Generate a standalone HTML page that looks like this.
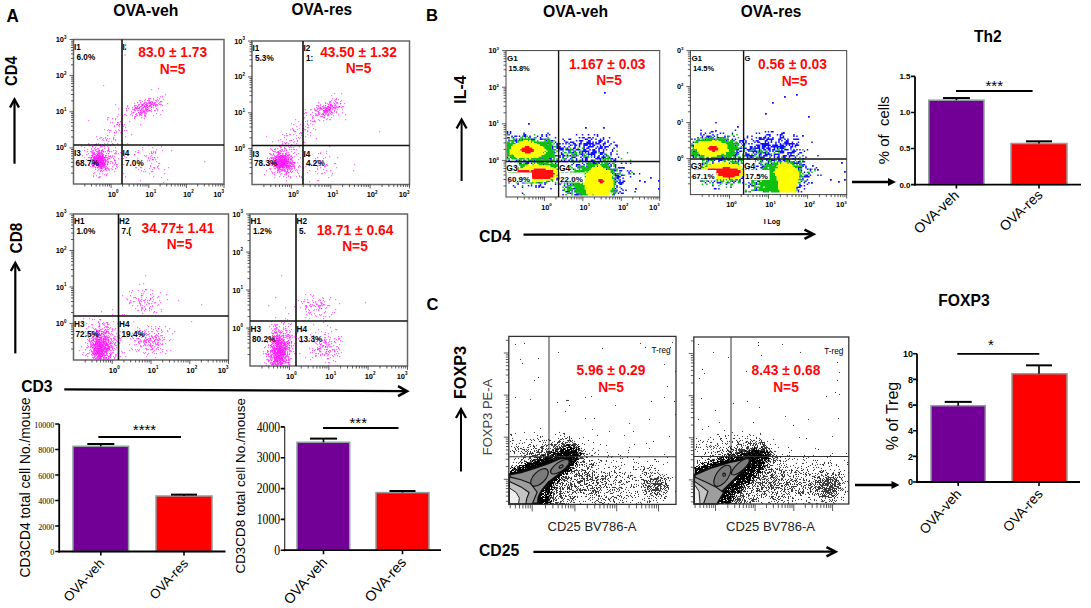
<!DOCTYPE html><html><head><meta charset="utf-8"><style>html,body{margin:0;padding:0;background:#fff;width:1091px;height:608px;overflow:hidden}svg{display:block}</style></head><body>
<svg width="1091" height="608" viewBox="0 0 1091 608">
<rect width="1091" height="608" fill="#fff"/>
<text x="6.5" y="21.6" font-family="'Liberation Sans', sans-serif" font-size="18.5" font-weight="bold" fill="#000" text-anchor="start" textLength="12.3" lengthAdjust="spacingAndGlyphs">A</text>
<text x="113.2" y="15.6" font-family="'Liberation Sans', sans-serif" font-size="16.2" font-weight="bold" fill="#000" text-anchor="start" textLength="65.3" lengthAdjust="spacingAndGlyphs">OVA-veh</text>
<text x="291.5" y="15.2" font-family="'Liberation Sans', sans-serif" font-size="16" font-weight="bold" fill="#000" text-anchor="start" textLength="60.6" lengthAdjust="spacingAndGlyphs">OVA-res</text>
<text x="426" y="21.1" font-family="'Liberation Sans', sans-serif" font-size="16.5" font-weight="bold" fill="#000" text-anchor="start" textLength="12" lengthAdjust="spacingAndGlyphs">B</text>
<text x="543" y="17" font-family="'Liberation Sans', sans-serif" font-size="16" font-weight="bold" fill="#000" text-anchor="start" textLength="65.2" lengthAdjust="spacingAndGlyphs">OVA-veh</text>
<text x="740.8" y="17" font-family="'Liberation Sans', sans-serif" font-size="16" font-weight="bold" fill="#000" text-anchor="start" textLength="60.5" lengthAdjust="spacingAndGlyphs">OVA-res</text>
<text x="426.5" y="309.5" font-family="'Liberation Sans', sans-serif" font-size="16.5" font-weight="bold" fill="#000" text-anchor="start">C</text>
<text x="974" y="42" font-family="'Liberation Sans', sans-serif" font-size="16" font-weight="bold" fill="#000" text-anchor="start" textLength="27.6" lengthAdjust="spacingAndGlyphs">Th2</text>
<text x="938.3" y="305.9" font-family="'Liberation Sans', sans-serif" font-size="16.3" font-weight="bold" fill="#000" text-anchor="start" textLength="51.4" lengthAdjust="spacingAndGlyphs">FOXP3</text>
<path d="M91 159.6h1.2M153 98.6h1.2M97 162.6h1.2M105 155.6h1.2M108 161.6h1.2M96 160.6h1.2M145 102.6h1.2M103 165.6h1.2M104 159.6h1.2M92 154.6h1.2M105 168.6h1.2M100 159.6h1.2M105 160.6h1.2M97 158.6h1.2M98 158.6h1.2M110 156.6h1.2M100 161.6h1.2M107 159.6h1.2M112 155.6h1.2M99 138.6h1.2M107 135.6h1.2M127 143.6h1.2M140 102.6h1.2M97 163.6h1.2M97 159.6h1.2M155 100.6h1.2M98 162.6h1.2M95 161.6h1.2M103 162.6h1.2M100 152.6h1.2M153 103.6h1.2M98 155.6h1.2M100 163.6h1.2M99 165.6h1.2M102 160.6h1.2M106 155.6h1.2M151 171.6h1.2M101 151.6h1.2M134 109.6h1.2M88 153.6h1.2M120 152.6h1.2M102 158.6h1.2M145 113.6h1.2M100 165.6h1.2M100 158.6h1.2M96 158.6h1.2M98 165.6h1.2M99 164.6h1.2M90 159.6h1.2M136 115.6h1.2M134 118.6h1.2M141 117.6h1.2M153 152.6h1.2M156 100.6h1.2M98 161.6h1.2M142 147.6h1.2M143 107.6h1.2M103 151.6h1.2M102 159.6h1.2M84 157.6h1.2M158 165.6h1.2M152 147.6h1.2M96 161.6h1.2M93 153.6h1.2M139 113.6h1.2M103 161.6h1.2M101 157.6h1.2M119 126.6h1.2M160 114.6h1.2M97 160.6h1.2M156 101.6h1.2M101 161.6h1.2M100 160.6h1.2M150 98.6h1.2M99 160.6h1.2M89 145.6h1.2M100 166.6h1.2M146 108.6h1.2M99 155.6h1.2M101 152.6h1.2M138 150.6h1.2M144 106.6h1.2M102 171.6h1.2M133 112.6h1.2M150 165.6h1.2M116 124.6h1.2M149 160.6h1.2M117 143.6h1.2M93 159.6h1.2M140 114.6h1.2M126 108.6h1.2M156 113.6h1.2M95 160.6h1.2M98 150.6h1.2M101 164.6h1.2M100 155.6h1.2M142 107.6h1.2M142 104.6h1.2M99 159.6h1.2M120 121.6h1.2M155 102.6h1.2M99 152.6h1.2M95 158.6h1.2M103 154.6h1.2M100 144.6h1.2M99 156.6h1.2M99 153.6h1.2M139 107.6h1.2M114 164.6h1.2M119 130.6h1.2M104 164.6h1.2M135 151.6h1.2M122 128.6h1.2M161 104.6h1.2M124 124.6h1.2M101 158.6h1.2M107 138.6h1.2M99 163.6h1.2M96 156.6h1.2M96 163.6h1.2M99 161.6h1.2M99 162.6h1.2M103 160.6h1.2M93 173.6h1.2M147 107.6h1.2M142 105.6h1.2M156 108.6h1.2M136 107.6h1.2M92 146.6h1.2M100 154.6h1.2M144 105.6h1.2M98 159.6h1.2M91 148.6h1.2M94 156.6h1.2M145 99.6h1.2M115 104.6h1.2M95 147.6h1.2M150 102.6h1.2M103 159.6h1.2M148 102.6h1.2M97 157.6h1.2M145 104.6h1.2M100 162.6h1.2M144 111.6h1.2M103 166.6h1.2M94 166.6h1.2M99 177.6h1.2M106 174.6h1.2M102 164.6h1.2M104 163.6h1.2M107 167.6h1.2M94 160.6h1.2M97 151.6h1.2M137 183.6h1.2M99 158.6h1.2M115 118.6h1.2M97 148.6h1.2M104 129.6h1.2M135 116.6h1.2M97 165.6h1.2M115 140.6h1.2M115 147.6h1.2M112 162.6h1.2M145 106.6h1.2M143 110.6h1.2M138 110.6h1.2M125 127.6h1.2M157 97.6h1.2M146 110.6h1.2M97 164.6h1.2M93 154.6h1.2M168 167.6h1.2M153 107.6h1.2M93 162.6h1.2M115 139.6h1.2M102 161.6h1.2M112 163.6h1.2M109 130.6h1.2M149 103.6h1.2M152 159.6h1.2M142 149.6h1.2M122 118.6h1.2M98 160.6h1.2M94 159.6h1.2M106 170.6h1.2M146 111.6h1.2M108 150.6h1.2M94 162.6h1.2M141 113.6h1.2M151 107.6h1.2M92 156.6h1.2M105 159.6h1.2M100 157.6h1.2M104 157.6h1.2M96 164.6h1.2M161 177.6h1.2M155 152.6h1.2M102 156.6h1.2M106 160.6h1.2M98 163.6h1.2M135 107.6h1.2M138 169.6h1.2M95 162.6h1.2M104 169.6h1.2M125 176.6h1.2M95 150.6h1.2M104 158.6h1.2M146 113.6h1.2M97 161.6h1.2M93 164.6h1.2M107 173.6h1.2M114 125.6h1.2M122 115.6h1.2M141 115.6h1.2M132 109.6h1.2M101 168.6h1.2M97 153.6h1.2M120 132.6h1.2M140 167.6h1.2M109 151.6h1.2M90 166.6h1.2M88 120.6h1.2M80 154.6h1.2M102 157.6h1.2M104 148.6h1.2M144 115.6h1.2M134 154.6h1.2M108 153.6h1.2M101 163.6h1.2M146 106.6h1.2M105 161.6h1.2M144 110.6h1.2M154 168.6h1.2M98 157.6h1.2M96 143.6h1.2M96 175.6h1.2M153 176.6h1.2M103 155.6h1.2M137 107.6h1.2M101 159.6h1.2M94 163.6h1.2M138 152.6h1.2M114 135.6h1.2M93 158.6h1.2M146 104.6h1.2M91 163.6h1.2M101 162.6h1.2M115 119.6h1.2M100 156.6h1.2M143 109.6h1.2M98 164.6h1.2M112 166.6h1.2M118 108.6h1.2M108 147.6h1.2M108 149.6h1.2M94 158.6h1.2M94 172.6h1.2M161 101.6h1.2M115 163.6h1.2M144 112.6h1.2M102 155.6h1.2M113 144.6h1.2M143 103.6h1.2M107 143.6h1.2M91 157.6h1.2M150 156.6h1.2M108 129.6h1.2M107 157.6h1.2M142 110.6h1.2M102 163.6h1.2M91 149.6h1.2M137 115.6h1.2M99 157.6h1.2M95 159.6h1.2M140 180.6h1.2M158 103.6h1.2M130 114.6h1.2M97 170.6h1.2M148 106.6h1.2M107 164.6h1.2M150 104.6h1.2M96 155.6h1.2M105 151.6h1.2M151 109.6h1.2M151 104.6h1.2M149 100.6h1.2M100 153.6h1.2M136 167.6h1.2M102 150.6h1.2M123 126.6h1.2M109 158.6h1.2M108 156.6h1.2M159 98.6h1.2M144 116.6h1.2M162 105.6h1.2M101 166.6h1.2M95 163.6h1.2M98 166.6h1.2M142 112.6h1.2M159 104.6h1.2M103 140.6h1.2M149 168.6h1.2M96 162.6h1.2M103 138.6h1.2M126 130.6h1.2M156 149.6h1.2M94 148.6h1.2M94 144.6h1.2M94 153.6h1.2M97 154.6h1.2M153 151.6h1.2M145 109.6h1.2M100 164.6h1.2M131 134.6h1.2M141 106.6h1.2M102 162.6h1.2M142 101.6h1.2M103 158.6h1.2M106 168.6h1.2M112 156.6h1.2M92 164.6h1.2M122 125.6h1.2M150 110.6h1.2M136 108.6h1.2M108 155.6h1.2M137 110.6h1.2M137 102.6h1.2M112 118.6h1.2M121 163.6h1.2" stroke="#ff00ff" stroke-width="1.2" fill="none" stroke-opacity="0.55"/>
<path d="M101 137.6h1.2M107 146.6h1.2M101 156.6h1.2M96 160.6h1.2M98 162.6h1.2M93 159.6h1.2M99 159.6h1.2M94 163.6h1.2M98 160.6h1.2M95 167.6h1.2M95 163.6h1.2M98 161.6h1.2M97 167.6h1.2M157 99.6h1.2M110 122.6h1.2M99 157.6h1.2M162 110.6h1.2M141 108.6h1.2M97 151.6h1.2M104 163.6h1.2M96 165.6h1.2M115 160.6h1.2M97 163.6h1.2M100 170.6h1.2M98 169.6h1.2M95 149.6h1.2M153 105.6h1.2M97 160.6h1.2M143 111.6h1.2M103 156.6h1.2M107 161.6h1.2M98 153.6h1.2M97 159.6h1.2M142 105.6h1.2M98 158.6h1.2M102 164.6h1.2M96 157.6h1.2M99 162.6h1.2M134 116.6h1.2M97 162.6h1.2M94 153.6h1.2M121 118.6h1.2M97 155.6h1.2M93 160.6h1.2M99 160.6h1.2M147 100.6h1.2M102 162.6h1.2M90 158.6h1.2M154 103.6h1.2M154 110.6h1.2M97 161.6h1.2M149 110.6h1.2M108 162.6h1.2M134 105.6h1.2M115 152.6h1.2M100 160.6h1.2M126 157.6h1.2M144 103.6h1.2M103 160.6h1.2M107 158.6h1.2M157 105.6h1.2M94 156.6h1.2M105 169.6h1.2M151 155.6h1.2M147 105.6h1.2M139 114.6h1.2M150 158.6h1.2M98 167.6h1.2M138 105.6h1.2M97 152.6h1.2M113 139.6h1.2M144 118.6h1.2M151 101.6h1.2M118 158.6h1.2M113 150.6h1.2M96 153.6h1.2M121 163.6h1.2M162 150.6h1.2M97 158.6h1.2M91 155.6h1.2M94 159.6h1.2M167 179.6h1.2M131 111.6h1.2M105 159.6h1.2M149 103.6h1.2M125 114.6h1.2M153 99.6h1.2M109 138.6h1.2M138 112.6h1.2M100 158.6h1.2M152 101.6h1.2M103 164.6h1.2M103 162.6h1.2M96 164.6h1.2M106 153.6h1.2M125 136.6h1.2M104 143.6h1.2M91 164.6h1.2M137 106.6h1.2M141 109.6h1.2M101 160.6h1.2M153 115.6h1.2M100 156.6h1.2M89 157.6h1.2M149 173.6h1.2M147 103.6h1.2M106 140.6h1.2M99 164.6h1.2M94 158.6h1.2M156 105.6h1.2M100 157.6h1.2M102 158.6h1.2M149 105.6h1.2M137 152.6h1.2M95 158.6h1.2M111 168.6h1.2M158 163.6h1.2M138 108.6h1.2M95 159.6h1.2M103 170.6h1.2M100 162.6h1.2M93 162.6h1.2M116 151.6h1.2M144 169.6h1.2M165 94.6h1.2M102 154.6h1.2M114 132.6h1.2M155 105.6h1.2M99 150.6h1.2M94 154.6h1.2M100 155.6h1.2M152 153.6h1.2M118 125.6h1.2M98 154.6h1.2M102 160.6h1.2M108 117.6h1.2M101 159.6h1.2M99 145.6h1.2M99 161.6h1.2M95 155.6h1.2M134 103.6h1.2M98 156.6h1.2M88 157.6h1.2M92 165.6h1.2M98 177.6h1.2M158 100.6h1.2M117 122.6h1.2M161 146.6h1.2M98 159.6h1.2M101 162.6h1.2M107 162.6h1.2M158 168.6h1.2M102 173.6h1.2M136 114.6h1.2M94 162.6h1.2M116 164.6h1.2M101 161.6h1.2M101 168.6h1.2M105 164.6h1.2M152 159.6h1.2M114 160.6h1.2M100 164.6h1.2M115 153.6h1.2M132 112.6h1.2M155 110.6h1.2M95 161.6h1.2M103 157.6h1.2M153 159.6h1.2M127 106.6h1.2M96 161.6h1.2M151 103.6h1.2M102 156.6h1.2M96 162.6h1.2M148 98.6h1.2M140 112.6h1.2M111 161.6h1.2M118 122.6h1.2M105 167.6h1.2M88 164.6h1.2M105 161.6h1.2M96 158.6h1.2M92 159.6h1.2M149 102.6h1.2M156 104.6h1.2M104 164.6h1.2M145 108.6h1.2M110 161.6h1.2M98 164.6h1.2M92 155.6h1.2M109 151.6h1.2M99 154.6h1.2M96 159.6h1.2M101 152.6h1.2M117 164.6h1.2M147 107.6h1.2M144 114.6h1.2M100 168.6h1.2M160 104.6h1.2M147 160.6h1.2M111 157.6h1.2M103 161.6h1.2M124 156.6h1.2M99 165.6h1.2M160 101.6h1.2M109 156.6h1.2M139 104.6h1.2M146 155.6h1.2M135 114.6h1.2M110 155.6h1.2M142 104.6h1.2M102 159.6h1.2M146 105.6h1.2M82 155.6h1.2M141 167.6h1.2M99 155.6h1.2M152 102.6h1.2M102 155.6h1.2M109 170.6h1.2M101 150.6h1.2M140 109.6h1.2M98 163.6h1.2M101 158.6h1.2M94 157.6h1.2M100 161.6h1.2M148 158.6h1.2M116 166.6h1.2M98 157.6h1.2M98 166.6h1.2M101 166.6h1.2M92 152.6h1.2M101 167.6h1.2M152 171.6h1.2M142 112.6h1.2M90 151.6h1.2M147 109.6h1.2M154 157.6h1.2M102 166.6h1.2M120 121.6h1.2M100 166.6h1.2M93 161.6h1.2M104 174.6h1.2M149 153.6h1.2M93 175.6h1.2M99 166.6h1.2M104 159.6h1.2M146 109.6h1.2M96 155.6h1.2M140 100.6h1.2M96 163.6h1.2M144 106.6h1.2M107 119.6h1.2M143 107.6h1.2M101 154.6h1.2M101 146.6h1.2M108 149.6h1.2M151 104.6h1.2M139 165.6h1.2M151 152.6h1.2M143 104.6h1.2M139 107.6h1.2M144 113.6h1.2M108 141.6h1.2M154 167.6h1.2M118 114.6h1.2M105 157.6h1.2M102 139.6h1.2M92 153.6h1.2M102 157.6h1.2M93 157.6h1.2M139 100.6h1.2M115 130.6h1.2M143 171.6h1.2M99 163.6h1.2M102 149.6h1.2M99 156.6h1.2M113 158.6h1.2M115 168.6h1.2M117 167.6h1.2M92 166.6h1.2M104 157.6h1.2M104 167.6h1.2M95 160.6h1.2M145 112.6h1.2M102 163.6h1.2M141 112.6h1.2M157 167.6h1.2M109 132.6h1.2M103 167.6h1.2M86 154.6h1.2M164 173.6h1.2M98 148.6h1.2M101 163.6h1.2M152 157.6h1.2M135 108.6h1.2M129 121.6h1.2M95 145.6h1.2M145 106.6h1.2M102 161.6h1.2M95 162.6h1.2M95 144.6h1.2M133 112.6h1.2M150 105.6h1.2M158 88.6h1.2M126 110.6h1.2M137 158.6h1.2M155 153.6h1.2M144 155.6h1.2M148 108.6h1.2M134 110.6h1.2M102 168.6h1.2M88 160.6h1.2M114 171.6h1.2M99 152.6h1.2M136 105.6h1.2M135 105.6h1.2M141 170.6h1.2M95 169.6h1.2M124 114.6h1.2M111 151.6h1.2M102 146.6h1.2M113 137.6h1.2M152 169.6h1.2M119 124.6h1.2M93 158.6h1.2M137 108.6h1.2M81 146.6h1.2M95 157.6h1.2M133 109.6h1.2M96 151.6h1.2M92 146.6h1.2M103 151.6h1.2M93 153.6h1.2M108 148.6h1.2M105 162.6h1.2M90 157.6h1.2M101 165.6h1.2M98 143.6h1.2M103 166.6h1.2M140 110.6h1.2" stroke="#ff00ff" stroke-width="1.2" fill="none" stroke-opacity="0.55"/>
<path d="M95 156.6h1.2M102 153.6h1.2M100 157.6h1.2M101 150.6h1.2M100 159.6h1.2M101 161.6h1.2M98 160.6h1.2M98 159.6h1.2M141 109.6h1.2M155 151.6h1.2M97 164.6h1.2M94 164.6h1.2M157 157.6h1.2M103 164.6h1.2M99 159.6h1.2M102 162.6h1.2M147 105.6h1.2M116 131.6h1.2M118 153.6h1.2M103 157.6h1.2M134 106.6h1.2M150 102.6h1.2M99 163.6h1.2M100 162.6h1.2M105 137.6h1.2M96 157.6h1.2M102 156.6h1.2M146 102.6h1.2M98 163.6h1.2M151 153.6h1.2M91 158.6h1.2M154 104.6h1.2M107 163.6h1.2M96 136.6h1.2M162 96.6h1.2M102 159.6h1.2M109 169.6h1.2M99 173.6h1.2M110 163.6h1.2M110 130.6h1.2M114 159.6h1.2M99 165.6h1.2M139 107.6h1.2M132 107.6h1.2M150 101.6h1.2M102 155.6h1.2M145 115.6h1.2M103 158.6h1.2M157 166.6h1.2M103 165.6h1.2M99 158.6h1.2M101 158.6h1.2M94 159.6h1.2M139 115.6h1.2M101 157.6h1.2M142 104.6h1.2M96 165.6h1.2M98 157.6h1.2M99 161.6h1.2M101 163.6h1.2M163 182.6h1.2M104 164.6h1.2M157 104.6h1.2M127 105.6h1.2M145 110.6h1.2M99 160.6h1.2M112 143.6h1.2M100 160.6h1.2M151 89.6h1.2M108 158.6h1.2M98 161.6h1.2M100 171.6h1.2M84 147.6h1.2M94 158.6h1.2M93 163.6h1.2M84 150.6h1.2M108 169.6h1.2M97 139.6h1.2M138 104.6h1.2M102 163.6h1.2M98 158.6h1.2M105 160.6h1.2M95 167.6h1.2M145 104.6h1.2M107 159.6h1.2M153 105.6h1.2M95 159.6h1.2M110 145.6h1.2M114 156.6h1.2M99 157.6h1.2M104 163.6h1.2M99 156.6h1.2M97 155.6h1.2M105 138.6h1.2M106 166.6h1.2M98 162.6h1.2M149 105.6h1.2M93 157.6h1.2M141 104.6h1.2M99 168.6h1.2M103 163.6h1.2M96 164.6h1.2M101 164.6h1.2M149 98.6h1.2M107 117.6h1.2M107 130.6h1.2M148 157.6h1.2M86 159.6h1.2M97 159.6h1.2M105 168.6h1.2M100 164.6h1.2M148 99.6h1.2M140 110.6h1.2M94 160.6h1.2M100 158.6h1.2M101 160.6h1.2M102 158.6h1.2M97 160.6h1.2M100 156.6h1.2M104 162.6h1.2M95 162.6h1.2M100 166.6h1.2M101 153.6h1.2M96 144.6h1.2M93 152.6h1.2M167 103.6h1.2M126 115.6h1.2M148 103.6h1.2M93 153.6h1.2M116 132.6h1.2M122 124.6h1.2M107 164.6h1.2M136 113.6h1.2M131 113.6h1.2M124 130.6h1.2M98 155.6h1.2M98 154.6h1.2M135 167.6h1.2M171 150.6h1.2M93 150.6h1.2M95 160.6h1.2M100 161.6h1.2M100 165.6h1.2M151 151.6h1.2M87 149.6h1.2M104 165.6h1.2M143 111.6h1.2M154 157.6h1.2M123 173.6h1.2M107 151.6h1.2M145 171.6h1.2M89 160.6h1.2M157 110.6h1.2M99 162.6h1.2M97 158.6h1.2M105 164.6h1.2M114 153.6h1.2M92 159.6h1.2M152 102.6h1.2M112 122.6h1.2M160 101.6h1.2M135 110.6h1.2M113 138.6h1.2M106 157.6h1.2M96 158.6h1.2M151 111.6h1.2M98 156.6h1.2M96 162.6h1.2M104 146.6h1.2M156 161.6h1.2M150 103.6h1.2M103 145.6h1.2M101 156.6h1.2M146 104.6h1.2M101 162.6h1.2M114 160.6h1.2M94 161.6h1.2M155 159.6h1.2M142 108.6h1.2M115 150.6h1.2M147 111.6h1.2M153 167.6h1.2M148 110.6h1.2M152 104.6h1.2M99 151.6h1.2M88 144.6h1.2M91 157.6h1.2M95 154.6h1.2M97 167.6h1.2M114 132.6h1.2M91 155.6h1.2M144 111.6h1.2M101 166.6h1.2M105 155.6h1.2M204 161.6h1.2M92 156.6h1.2M137 108.6h1.2M146 109.6h1.2M123 164.6h1.2M99 150.6h1.2M97 156.6h1.2M146 106.6h1.2M93 176.6h1.2M106 175.6h1.2M151 106.6h1.2M157 109.6h1.2M97 154.6h1.2M164 169.6h1.2M149 106.6h1.2M101 154.6h1.2M108 153.6h1.2M101 168.6h1.2M97 162.6h1.2M105 169.6h1.2M117 116.6h1.2M134 117.6h1.2M117 122.6h1.2M126 153.6h1.2M105 163.6h1.2M95 161.6h1.2M115 162.6h1.2M144 100.6h1.2M145 108.6h1.2M105 156.6h1.2M100 167.6h1.2M106 139.6h1.2M119 124.6h1.2M105 157.6h1.2M145 116.6h1.2M94 152.6h1.2M145 156.6h1.2M96 156.6h1.2M100 146.6h1.2M101 170.6h1.2M153 104.6h1.2M102 165.6h1.2M123 158.6h1.2M98 152.6h1.2M155 104.6h1.2M108 168.6h1.2M102 160.6h1.2M138 112.6h1.2M97 157.6h1.2M104 160.6h1.2M149 101.6h1.2M154 102.6h1.2M132 115.6h1.2M103 160.6h1.2M88 143.6h1.2M96 149.6h1.2M112 169.6h1.2M93 165.6h1.2M163 99.6h1.2M99 153.6h1.2M148 145.6h1.2M96 155.6h1.2M141 111.6h1.2M104 166.6h1.2M140 112.6h1.2M160 96.6h1.2M98 151.6h1.2M100 176.6h1.2M154 103.6h1.2M134 154.6h1.2M114 126.6h1.2M147 109.6h1.2M150 166.6h1.2M159 102.6h1.2M93 166.6h1.2M128 108.6h1.2M100 137.6h1.2M117 124.6h1.2M97 161.6h1.2M146 103.6h1.2M135 107.6h1.2M102 150.6h1.2M98 153.6h1.2M140 124.6h1.2M155 106.6h1.2M116 153.6h1.2M140 106.6h1.2M105 166.6h1.2M115 168.6h1.2M98 164.6h1.2M145 107.6h1.2M95 163.6h1.2M111 141.6h1.2M136 108.6h1.2M144 106.6h1.2M91 151.6h1.2M92 165.6h1.2M103 85.6h1.2M92 163.6h1.2M96 145.6h1.2M144 102.6h1.2M85 164.6h1.2M87 151.6h1.2M135 163.6h1.2M140 114.6h1.2M94 162.6h1.2M107 168.6h1.2M94 157.6h1.2M148 100.6h1.2M102 164.6h1.2M151 107.6h1.2M91 152.6h1.2M96 161.6h1.2M92 150.6h1.2M118 129.6h1.2M103 161.6h1.2M95 157.6h1.2M141 105.6h1.2M151 163.6h1.2M149 110.6h1.2M104 157.6h1.2M92 151.6h1.2M107 150.6h1.2M150 106.6h1.2M137 106.6h1.2M139 108.6h1.2M159 163.6h1.2M121 124.6h1.2M98 165.6h1.2M99 176.6h1.2M134 108.6h1.2M101 167.6h1.2M101 159.6h1.2" stroke="#ff00ff" stroke-width="1.2" fill="none" stroke-opacity="0.55"/>
<rect x="73.5" y="39.5" width="150.5" height="144.5" fill="none" stroke="#666" stroke-width="1.5"/>
<line x1="122" y1="39.5" x2="122" y2="184" stroke="#111" stroke-width="1.6"/>
<line x1="73.5" y1="145" x2="224" y2="145" stroke="#111" stroke-width="1.6"/>
<path d="M69.5 39.5h4M71.0 64.8h2.5M71.0 58.4h2.5M71.0 53.9h2.5M71.0 50.4h2.5M71.0 47.5h2.5M71.0 45.1h2.5M71.0 43.0h2.5M71.0 41.2h2.5M69.5 75.6h4M71.0 100.9h2.5M71.0 94.5h2.5M71.0 90.0h2.5M71.0 86.5h2.5M71.0 83.6h2.5M71.0 81.2h2.5M71.0 79.1h2.5M71.0 77.3h2.5M69.5 111.8h4M71.0 137.0h2.5M71.0 130.6h2.5M71.0 126.1h2.5M71.0 122.6h2.5M71.0 119.8h2.5M71.0 117.3h2.5M71.0 115.3h2.5M71.0 113.4h2.5M69.5 147.9h4M71.0 173.1h2.5M71.0 166.8h2.5M71.0 162.3h2.5M71.0 158.7h2.5M71.0 155.9h2.5M71.0 153.5h2.5M71.0 151.4h2.5M71.0 149.5h2.5M111.1 184v4M84.8 184v2.5M91.5 184v2.5M96.2 184v2.5M99.8 184v2.5M102.8 184v2.5M105.3 184v2.5M107.5 184v2.5M109.4 184v2.5M148.8 184v4M122.5 184v2.5M129.1 184v2.5M133.8 184v2.5M137.4 184v2.5M140.4 184v2.5M142.9 184v2.5M145.1 184v2.5M147.0 184v2.5M186.4 184v4M160.1 184v2.5M166.7 184v2.5M171.4 184v2.5M175.0 184v2.5M178.0 184v2.5M180.5 184v2.5M182.7 184v2.5M184.7 184v2.5M224.0 184v4M197.7 184v2.5M204.3 184v2.5M209.0 184v2.5M212.7 184v2.5M215.7 184v2.5M218.2 184v2.5M220.4 184v2.5M222.3 184v2.5" stroke="#333" stroke-width="0.8" fill="none"/>
<text x="66.5" y="42.0" font-family="'Liberation Sans', sans-serif" font-size="7.5" font-weight="bold" text-anchor="end">10<tspan font-size="4.5" dy="-3.1">3</tspan></text>
<text x="66.5" y="78.125" font-family="'Liberation Sans', sans-serif" font-size="7.5" font-weight="bold" text-anchor="end">10<tspan font-size="4.5" dy="-3.1">2</tspan></text>
<text x="66.5" y="114.25" font-family="'Liberation Sans', sans-serif" font-size="7.5" font-weight="bold" text-anchor="end">10<tspan font-size="4.5" dy="-3.1">1</tspan></text>
<text x="66.5" y="150.375" font-family="'Liberation Sans', sans-serif" font-size="7.5" font-weight="bold" text-anchor="end">10<tspan font-size="4.5" dy="-3.1">0</tspan></text>
<text x="113.125" y="196.5" font-family="'Liberation Sans', sans-serif" font-size="7.5" font-weight="bold" text-anchor="middle">10<tspan font-size="4.5" dy="-3.1">0</tspan></text>
<text x="150.75" y="196.5" font-family="'Liberation Sans', sans-serif" font-size="7.5" font-weight="bold" text-anchor="middle">10<tspan font-size="4.5" dy="-3.1">1</tspan></text>
<text x="188.375" y="196.5" font-family="'Liberation Sans', sans-serif" font-size="7.5" font-weight="bold" text-anchor="middle">10<tspan font-size="4.5" dy="-3.1">2</tspan></text>
<text x="224" y="196.5" font-family="'Liberation Sans', sans-serif" font-size="7.5" font-weight="bold" text-anchor="end">10<tspan font-size="4.5" dy="-3.1">3</tspan></text>
<text x="74.0" y="49.5" font-family="'Liberation Sans', sans-serif" font-size="8.2" font-weight="bold" fill="#000" text-anchor="start">I1</text>
<text x="76.5" y="59.5" font-family="'Liberation Sans', sans-serif" font-size="8.2" font-weight="bold" fill="#000" text-anchor="start">6.0%</text>
<text x="122.5" y="49.5" font-family="'Liberation Sans', sans-serif" font-size="8.2" font-weight="bold" fill="#000" text-anchor="start">I2</text>
<text x="125" y="59.5" font-family="'Liberation Sans', sans-serif" font-size="8.2" font-weight="bold" fill="#000" text-anchor="start"></text>
<text x="74.0" y="156" font-family="'Liberation Sans', sans-serif" font-size="8.2" font-weight="bold" fill="#000" text-anchor="start">I3</text>
<text x="75.5" y="165.7" font-family="'Liberation Sans', sans-serif" font-size="8.2" font-weight="bold" fill="#000" text-anchor="start">68.7%</text>
<text x="122.5" y="156" font-family="'Liberation Sans', sans-serif" font-size="8.2" font-weight="bold" fill="#000" text-anchor="start">I4</text>
<text x="125" y="165.7" font-family="'Liberation Sans', sans-serif" font-size="8.2" font-weight="bold" fill="#000" text-anchor="start">7.0%</text>
<rect x="126.2" y="41" width="10" height="11" fill="#fff"/>
<rect x="124.5" y="54.5" width="1" height="1" fill="#555"/>
<text x="172.7" y="57" font-family="'Liberation Sans', sans-serif" font-size="13.8" font-weight="bold" fill="#ff0808" text-anchor="middle">83.0 ± 1.73</text>
<text x="172.7" y="73.5" font-family="'Liberation Sans', sans-serif" font-size="13.8" font-weight="bold" fill="#ff0808" text-anchor="middle">N=5</text>
<path d="M282 162.6h1.2M282 167.6h1.2M285 161.6h1.2M336 99.6h1.2M284 160.6h1.2M284 162.6h1.2M284 147.6h1.2M279 160.6h1.2M283 163.6h1.2M300 166.6h1.2M280 167.6h1.2M280 162.6h1.2M278 161.6h1.2M278 140.6h1.2M286 154.6h1.2M299 133.6h1.2M283 160.6h1.2M282 164.6h1.2M329 102.6h1.2M287 163.6h1.2M297 162.6h1.2M284 169.6h1.2M282 166.6h1.2M294 167.6h1.2M291 163.6h1.2M286 161.6h1.2M270 157.6h1.2M319 120.6h1.2M274 164.6h1.2M327 106.6h1.2M284 167.6h1.2M286 162.6h1.2M286 165.6h1.2M284 161.6h1.2M276 157.6h1.2M279 153.6h1.2M320 107.6h1.2M285 163.6h1.2M293 165.6h1.2M328 114.6h1.2M292 168.6h1.2M274 165.6h1.2M329 109.6h1.2M336 167.6h1.2M269 159.6h1.2M280 160.6h1.2M284 155.6h1.2M275 164.6h1.2M286 172.6h1.2M324 112.6h1.2M278 152.6h1.2M314 109.6h1.2M293 142.6h1.2M274 151.6h1.2M277 166.6h1.2M272 150.6h1.2M298 121.6h1.2M283 159.6h1.2M300 132.6h1.2M294 131.6h1.2M289 163.6h1.2M276 162.6h1.2M283 145.6h1.2M272 164.6h1.2M311 165.6h1.2M316 107.6h1.2M325 110.6h1.2M330 104.6h1.2M273 153.6h1.2M277 165.6h1.2M277 148.6h1.2M293 164.6h1.2M279 158.6h1.2M279 162.6h1.2M280 165.6h1.2M284 170.6h1.2M288 175.6h1.2M284 148.6h1.2M282 161.6h1.2M314 121.6h1.2M285 170.6h1.2M290 161.6h1.2M288 161.6h1.2M275 161.6h1.2M280 158.6h1.2M317 105.6h1.2M277 157.6h1.2M285 173.6h1.2M327 103.6h1.2M281 155.6h1.2M331 117.6h1.2M302 128.6h1.2M289 166.6h1.2M276 160.6h1.2M325 112.6h1.2M281 164.6h1.2M288 159.6h1.2M309 170.6h1.2M337 103.6h1.2M293 149.6h1.2M317 168.6h1.2M279 165.6h1.2M335 101.6h1.2M289 154.6h1.2M269 153.6h1.2M284 174.6h1.2M284 163.6h1.2M323 117.6h1.2M330 110.6h1.2M288 156.6h1.2M272 162.6h1.2M335 108.6h1.2M333 115.6h1.2M305 129.6h1.2M277 159.6h1.2M323 105.6h1.2M281 161.6h1.2M308 125.6h1.2M317 166.6h1.2M295 131.6h1.2M281 160.6h1.2M279 154.6h1.2M271 162.6h1.2M316 105.6h1.2M280 139.6h1.2M315 121.6h1.2M271 157.6h1.2M287 155.6h1.2M326 113.6h1.2M284 158.6h1.2M319 108.6h1.2M272 161.6h1.2M324 111.6h1.2M329 103.6h1.2M281 162.6h1.2M334 100.6h1.2M286 156.6h1.2M279 159.6h1.2M269 163.6h1.2M275 165.6h1.2M274 158.6h1.2M279 167.6h1.2M282 163.6h1.2M330 106.6h1.2M284 166.6h1.2M288 158.6h1.2M270 169.6h1.2M277 169.6h1.2M307 127.6h1.2M286 159.6h1.2M276 164.6h1.2M329 107.6h1.2M299 165.6h1.2M283 164.6h1.2M326 108.6h1.2M287 170.6h1.2M278 169.6h1.2M273 161.6h1.2M280 153.6h1.2M271 158.6h1.2M285 165.6h1.2M275 160.6h1.2M282 169.6h1.2M277 160.6h1.2M276 159.6h1.2M314 163.6h1.2M274 163.6h1.2M338 99.6h1.2M282 143.6h1.2M280 161.6h1.2M324 107.6h1.2M285 155.6h1.2M278 162.6h1.2M275 149.6h1.2M325 105.6h1.2M325 111.6h1.2M294 141.6h1.2M286 160.6h1.2M282 153.6h1.2M270 164.6h1.2M278 165.6h1.2M315 109.6h1.2M292 160.6h1.2M279 156.6h1.2M272 155.6h1.2M327 108.6h1.2M330 109.6h1.2M285 158.6h1.2M353 170.6h1.2M326 170.6h1.2M306 112.6h1.2M323 110.6h1.2M273 154.6h1.2M277 162.6h1.2M285 160.6h1.2M307 124.6h1.2M322 109.6h1.2M285 154.6h1.2M296 135.6h1.2M287 165.6h1.2M269 168.6h1.2M280 163.6h1.2M307 131.6h1.2M281 157.6h1.2M288 165.6h1.2M335 105.6h1.2M275 157.6h1.2M306 115.6h1.2M318 105.6h1.2M292 164.6h1.2M299 138.6h1.2M309 181.6h1.2M325 166.6h1.2M324 117.6h1.2M300 157.6h1.2M274 160.6h1.2M282 156.6h1.2M286 142.6h1.2M326 112.6h1.2M318 114.6h1.2M280 169.6h1.2M321 108.6h1.2M340 103.6h1.2M286 157.6h1.2M317 115.6h1.2M279 168.6h1.2M271 154.6h1.2M277 167.6h1.2M323 120.6h1.2M300 124.6h1.2M323 108.6h1.2M269 165.6h1.2M338 114.6h1.2M280 164.6h1.2M315 158.6h1.2M283 157.6h1.2M289 168.6h1.2M291 156.6h1.2M325 165.6h1.2M334 93.6h1.2M285 162.6h1.2M290 176.6h1.2M279 157.6h1.2M283 166.6h1.2M275 159.6h1.2M285 159.6h1.2M286 174.6h1.2M284 159.6h1.2M331 111.6h1.2M291 159.6h1.2M320 105.6h1.2M317 169.6h1.2M277 164.6h1.2M325 109.6h1.2M286 167.6h1.2M301 132.6h1.2M336 103.6h1.2M290 162.6h1.2M286 139.6h1.2M277 154.6h1.2M277 168.6h1.2M327 107.6h1.2M333 107.6h1.2M284 142.6h1.2M289 140.6h1.2M282 165.6h1.2M320 153.6h1.2M313 115.6h1.2M334 163.6h1.2M275 163.6h1.2M276 156.6h1.2M300 137.6h1.2M276 161.6h1.2M279 164.6h1.2M299 175.6h1.2M317 157.6h1.2M290 159.6h1.2M336 102.6h1.2M317 111.6h1.2M277 172.6h1.2M324 115.6h1.2M288 172.6h1.2M339 106.6h1.2M296 138.6h1.2M290 168.6h1.2M283 155.6h1.2M286 149.6h1.2M281 149.6h1.2M322 106.6h1.2M304 113.6h1.2M273 159.6h1.2M289 167.6h1.2M287 161.6h1.2M327 118.6h1.2M291 164.6h1.2M319 107.6h1.2M303 123.6h1.2M275 151.6h1.2M282 159.6h1.2M279 166.6h1.2M318 113.6h1.2M280 166.6h1.2M330 108.6h1.2M341 100.6h1.2M290 163.6h1.2M281 158.6h1.2M283 161.6h1.2M293 130.6h1.2M279 171.6h1.2M278 158.6h1.2M334 111.6h1.2M284 165.6h1.2M331 112.6h1.2M291 155.6h1.2M297 170.6h1.2M278 157.6h1.2M282 134.6h1.2M294 162.6h1.2M307 172.6h1.2M281 166.6h1.2M291 140.6h1.2M297 172.6h1.2M269 158.6h1.2M288 166.6h1.2M322 173.6h1.2M291 151.6h1.2M278 153.6h1.2M332 105.6h1.2M283 167.6h1.2M315 110.6h1.2M296 176.6h1.2M337 102.6h1.2M284 171.6h1.2M321 116.6h1.2M328 104.6h1.2M327 115.6h1.2M321 173.6h1.2M286 163.6h1.2M274 149.6h1.2M331 106.6h1.2M283 165.6h1.2M329 110.6h1.2M284 157.6h1.2" stroke="#ff00ff" stroke-width="1.2" fill="none" stroke-opacity="0.55"/>
<path d="M279 150.6h1.2M285 161.6h1.2M287 166.6h1.2M334 107.6h1.2M279 167.6h1.2M286 166.6h1.2M281 166.6h1.2M280 161.6h1.2M286 160.6h1.2M320 116.6h1.2M290 159.6h1.2M277 160.6h1.2M321 109.6h1.2M310 135.6h1.2M285 166.6h1.2M276 152.6h1.2M271 158.6h1.2M281 163.6h1.2M281 161.6h1.2M282 160.6h1.2M332 113.6h1.2M278 167.6h1.2M327 165.6h1.2M277 162.6h1.2M335 99.6h1.2M281 164.6h1.2M283 165.6h1.2M287 161.6h1.2M277 166.6h1.2M307 123.6h1.2M280 156.6h1.2M282 150.6h1.2M279 165.6h1.2M283 163.6h1.2M280 160.6h1.2M284 162.6h1.2M310 163.6h1.2M288 158.6h1.2M275 162.6h1.2M287 160.6h1.2M280 163.6h1.2M284 137.6h1.2M282 156.6h1.2M324 112.6h1.2M332 112.6h1.2M336 111.6h1.2M284 150.6h1.2M284 157.6h1.2M282 161.6h1.2M267 157.6h1.2M270 168.6h1.2M324 108.6h1.2M284 164.6h1.2M315 115.6h1.2M331 95.6h1.2M325 107.6h1.2M279 162.6h1.2M334 108.6h1.2M279 160.6h1.2M313 121.6h1.2M338 106.6h1.2M286 168.6h1.2M280 164.6h1.2M276 166.6h1.2M271 149.6h1.2M282 166.6h1.2M325 109.6h1.2M324 172.6h1.2M328 109.6h1.2M281 160.6h1.2M329 110.6h1.2M279 161.6h1.2M307 121.6h1.2M286 167.6h1.2M270 153.6h1.2M277 170.6h1.2M286 172.6h1.2M282 159.6h1.2M279 164.6h1.2M323 113.6h1.2M285 156.6h1.2M296 143.6h1.2M336 106.6h1.2M299 176.6h1.2M289 155.6h1.2M278 163.6h1.2M326 108.6h1.2M284 165.6h1.2M334 105.6h1.2M288 162.6h1.2M328 106.6h1.2M294 163.6h1.2M280 157.6h1.2M282 165.6h1.2M285 157.6h1.2M290 166.6h1.2M286 150.6h1.2M277 164.6h1.2M286 171.6h1.2M288 163.6h1.2M274 168.6h1.2M334 110.6h1.2M276 159.6h1.2M279 163.6h1.2M287 155.6h1.2M280 166.6h1.2M293 124.6h1.2M315 114.6h1.2M342 106.6h1.2M330 104.6h1.2M280 159.6h1.2M319 110.6h1.2M286 164.6h1.2M287 167.6h1.2M278 155.6h1.2M325 102.6h1.2M275 156.6h1.2M274 177.6h1.2M282 157.6h1.2M280 146.6h1.2M288 160.6h1.2M327 108.6h1.2M290 129.6h1.2M278 169.6h1.2M320 162.6h1.2M279 157.6h1.2M284 159.6h1.2M286 173.6h1.2M320 167.6h1.2M276 161.6h1.2M280 167.6h1.2M302 125.6h1.2M304 142.6h1.2M283 157.6h1.2M283 167.6h1.2M291 145.6h1.2M279 166.6h1.2M283 160.6h1.2M279 146.6h1.2M340 101.6h1.2M283 162.6h1.2M296 126.6h1.2M290 146.6h1.2M284 167.6h1.2M320 160.6h1.2M283 156.6h1.2M277 161.6h1.2M288 176.6h1.2M282 158.6h1.2M278 162.6h1.2M339 106.6h1.2M287 135.6h1.2M290 134.6h1.2M330 101.6h1.2M280 165.6h1.2M337 107.6h1.2M278 165.6h1.2M286 161.6h1.2M280 155.6h1.2M286 177.6h1.2M266 136.6h1.2M290 156.6h1.2M326 109.6h1.2M283 161.6h1.2M323 161.6h1.2M287 163.6h1.2M284 169.6h1.2M277 159.6h1.2M290 162.6h1.2M283 166.6h1.2M282 167.6h1.2M282 164.6h1.2M305 121.6h1.2M285 164.6h1.2M329 107.6h1.2M294 168.6h1.2M270 145.6h1.2M277 156.6h1.2M280 171.6h1.2M284 158.6h1.2M282 162.6h1.2M310 120.6h1.2M330 102.6h1.2M291 168.6h1.2M325 108.6h1.2M283 159.6h1.2M274 156.6h1.2M319 112.6h1.2M260 165.6h1.2M269 161.6h1.2M307 130.6h1.2M316 114.6h1.2M335 101.6h1.2M328 111.6h1.2M324 111.6h1.2M320 108.6h1.2M318 108.6h1.2M283 170.6h1.2M294 162.6h1.2M288 155.6h1.2M290 165.6h1.2M288 167.6h1.2M328 177.6h1.2M313 128.6h1.2M290 158.6h1.2M291 160.6h1.2M335 107.6h1.2M290 140.6h1.2M293 130.6h1.2M317 160.6h1.2M293 166.6h1.2M295 170.6h1.2M274 166.6h1.2M285 160.6h1.2M284 160.6h1.2M298 167.6h1.2M331 112.6h1.2M306 164.6h1.2M274 174.6h1.2M334 103.6h1.2M330 170.6h1.2M272 157.6h1.2M331 104.6h1.2M326 110.6h1.2M304 117.6h1.2M291 123.6h1.2M286 180.6h1.2M294 165.6h1.2M310 114.6h1.2M267 158.6h1.2M275 158.6h1.2M281 170.6h1.2M334 106.6h1.2M330 107.6h1.2M280 153.6h1.2M315 110.6h1.2M327 111.6h1.2M317 173.6h1.2M271 171.6h1.2M281 155.6h1.2M279 156.6h1.2M290 171.6h1.2M283 155.6h1.2M274 172.6h1.2M278 166.6h1.2M273 162.6h1.2M278 158.6h1.2M278 151.6h1.2M331 105.6h1.2M324 110.6h1.2M278 160.6h1.2M287 169.6h1.2M280 158.6h1.2M272 158.6h1.2M278 164.6h1.2M303 128.6h1.2M310 132.6h1.2M318 111.6h1.2M281 159.6h1.2M283 164.6h1.2M329 109.6h1.2M291 166.6h1.2M276 145.6h1.2M291 149.6h1.2M327 110.6h1.2M291 144.6h1.2M305 112.6h1.2M282 155.6h1.2M328 104.6h1.2M275 160.6h1.2M342 112.6h1.2M286 159.6h1.2M301 176.6h1.2M281 165.6h1.2M285 143.6h1.2M315 113.6h1.2M287 157.6h1.2M286 165.6h1.2M281 156.6h1.2M270 160.6h1.2M289 165.6h1.2M330 105.6h1.2M277 165.6h1.2M279 159.6h1.2M326 119.6h1.2M285 153.6h1.2M281 162.6h1.2M282 149.6h1.2M315 162.6h1.2M326 164.6h1.2M289 161.6h1.2M273 166.6h1.2M298 166.6h1.2M287 159.6h1.2M279 176.6h1.2M317 180.6h1.2M276 164.6h1.2M277 151.6h1.2M312 118.6h1.2M283 151.6h1.2M273 158.6h1.2M278 154.6h1.2M319 114.6h1.2M273 159.6h1.2M273 160.6h1.2M296 149.6h1.2M272 163.6h1.2M293 145.6h1.2M286 156.6h1.2M276 157.6h1.2M276 162.6h1.2M335 104.6h1.2M297 129.6h1.2M278 159.6h1.2M293 139.6h1.2M282 169.6h1.2M336 107.6h1.2M288 157.6h1.2M338 107.6h1.2M303 118.6h1.2M291 158.6h1.2M293 162.6h1.2M328 108.6h1.2M285 159.6h1.2M273 151.6h1.2M266 170.6h1.2M279 168.6h1.2M292 165.6h1.2M312 124.6h1.2M292 128.6h1.2M326 151.6h1.2M276 160.6h1.2M277 158.6h1.2M285 162.6h1.2M278 156.6h1.2M285 165.6h1.2M280 151.6h1.2M323 114.6h1.2" stroke="#ff00ff" stroke-width="1.2" fill="none" stroke-opacity="0.55"/>
<path d="M289 169.6h1.2M284 163.6h1.2M335 163.6h1.2M313 162.6h1.2M296 169.6h1.2M337 109.6h1.2M292 171.6h1.2M280 156.6h1.2M282 166.6h1.2M282 164.6h1.2M275 168.6h1.2M278 170.6h1.2M328 110.6h1.2M298 153.6h1.2M276 155.6h1.2M283 165.6h1.2M280 158.6h1.2M285 156.6h1.2M287 169.6h1.2M327 114.6h1.2M280 174.6h1.2M288 143.6h1.2M280 155.6h1.2M289 149.6h1.2M282 144.6h1.2M281 163.6h1.2M325 105.6h1.2M279 166.6h1.2M285 153.6h1.2M286 152.6h1.2M295 119.6h1.2M288 166.6h1.2M285 163.6h1.2M293 134.6h1.2M291 158.6h1.2M322 114.6h1.2M286 161.6h1.2M281 159.6h1.2M276 162.6h1.2M312 116.6h1.2M289 147.6h1.2M290 165.6h1.2M281 162.6h1.2M287 165.6h1.2M332 105.6h1.2M283 156.6h1.2M331 114.6h1.2M288 159.6h1.2M303 168.6h1.2M292 166.6h1.2M320 108.6h1.2M277 155.6h1.2M289 164.6h1.2M286 164.6h1.2M330 111.6h1.2M312 112.6h1.2M272 141.6h1.2M282 154.6h1.2M323 107.6h1.2M294 166.6h1.2M281 161.6h1.2M272 162.6h1.2M285 148.6h1.2M296 154.6h1.2M344 103.6h1.2M278 162.6h1.2M291 169.6h1.2M301 133.6h1.2M329 109.6h1.2M283 159.6h1.2M379 131.6h1.2M283 160.6h1.2M320 107.6h1.2M276 164.6h1.2M280 163.6h1.2M330 105.6h1.2M323 112.6h1.2M277 167.6h1.2M282 167.6h1.2M336 112.6h1.2M277 152.6h1.2M281 155.6h1.2M307 134.6h1.2M279 172.6h1.2M292 163.6h1.2M289 134.6h1.2M283 153.6h1.2M313 117.6h1.2M284 162.6h1.2M280 160.6h1.2M293 147.6h1.2M285 164.6h1.2M278 166.6h1.2M305 136.6h1.2M282 155.6h1.2M316 115.6h1.2M280 162.6h1.2M282 162.6h1.2M329 107.6h1.2M284 159.6h1.2M277 156.6h1.2M281 164.6h1.2M280 165.6h1.2M283 161.6h1.2M291 163.6h1.2M274 160.6h1.2M342 109.6h1.2M280 164.6h1.2M288 154.6h1.2M278 167.6h1.2M287 158.6h1.2M318 119.6h1.2M277 164.6h1.2M316 110.6h1.2M328 113.6h1.2M326 107.6h1.2M323 158.6h1.2M278 161.6h1.2M283 163.6h1.2M324 166.6h1.2M282 141.6h1.2M310 109.6h1.2M324 117.6h1.2M286 133.6h1.2M332 98.6h1.2M286 166.6h1.2M318 153.6h1.2M305 126.6h1.2M274 155.6h1.2M272 172.6h1.2M279 161.6h1.2M279 169.6h1.2M283 168.6h1.2M325 103.6h1.2M320 104.6h1.2M301 135.6h1.2M339 106.6h1.2M290 177.6h1.2M330 113.6h1.2M312 121.6h1.2M285 155.6h1.2M321 108.6h1.2M285 145.6h1.2M336 98.6h1.2M334 103.6h1.2M323 169.6h1.2M279 162.6h1.2M276 167.6h1.2M278 168.6h1.2M324 115.6h1.2M280 147.6h1.2M276 157.6h1.2M331 100.6h1.2M320 165.6h1.2M322 116.6h1.2M291 147.6h1.2M317 165.6h1.2M285 165.6h1.2M282 160.6h1.2M298 137.6h1.2M276 161.6h1.2M286 153.6h1.2M305 109.6h1.2M281 160.6h1.2M290 163.6h1.2M266 164.6h1.2M354 164.6h1.2M292 161.6h1.2M280 161.6h1.2M333 102.6h1.2M281 165.6h1.2M317 160.6h1.2M279 167.6h1.2M278 159.6h1.2M327 108.6h1.2M310 123.6h1.2M273 164.6h1.2M290 170.6h1.2M288 146.6h1.2M271 163.6h1.2M330 108.6h1.2M279 156.6h1.2M288 172.6h1.2M324 110.6h1.2M329 119.6h1.2M275 161.6h1.2M335 107.6h1.2M327 111.6h1.2M299 128.6h1.2M275 163.6h1.2M281 166.6h1.2M326 153.6h1.2M326 110.6h1.2M340 103.6h1.2M282 170.6h1.2M277 161.6h1.2M288 152.6h1.2M333 107.6h1.2M286 163.6h1.2M315 129.6h1.2M291 166.6h1.2M282 159.6h1.2M328 109.6h1.2M328 106.6h1.2M284 147.6h1.2M326 164.6h1.2M283 162.6h1.2M284 135.6h1.2M326 111.6h1.2M283 164.6h1.2M280 166.6h1.2M289 162.6h1.2M323 114.6h1.2M323 111.6h1.2M275 165.6h1.2M320 152.6h1.2M283 157.6h1.2M316 138.6h1.2M278 156.6h1.2M323 110.6h1.2M285 161.6h1.2M285 168.6h1.2M285 158.6h1.2M279 159.6h1.2M304 129.6h1.2M278 153.6h1.2M278 163.6h1.2M325 157.6h1.2M298 159.6h1.2M286 160.6h1.2M285 171.6h1.2M332 108.6h1.2M332 106.6h1.2M318 113.6h1.2M275 166.6h1.2M281 173.6h1.2M270 154.6h1.2M305 166.6h1.2M280 169.6h1.2M341 107.6h1.2M274 165.6h1.2M282 163.6h1.2M303 179.6h1.2M275 160.6h1.2M341 93.6h1.2M329 156.6h1.2M294 149.6h1.2M287 161.6h1.2M298 145.6h1.2M288 164.6h1.2M284 157.6h1.2M312 117.6h1.2M280 157.6h1.2M325 114.6h1.2M280 150.6h1.2M285 143.6h1.2M298 173.6h1.2M264 174.6h1.2M323 106.6h1.2M287 171.6h1.2M318 106.6h1.2M314 108.6h1.2M317 108.6h1.2M286 162.6h1.2M307 120.6h1.2M284 155.6h1.2M315 163.6h1.2M343 106.6h1.2M328 114.6h1.2M280 159.6h1.2M276 159.6h1.2M330 119.6h1.2M294 152.6h1.2M314 120.6h1.2M274 163.6h1.2M301 177.6h1.2M279 163.6h1.2M270 148.6h1.2M281 147.6h1.2M291 172.6h1.2M283 167.6h1.2M317 109.6h1.2M281 157.6h1.2M275 158.6h1.2M274 157.6h1.2M288 161.6h1.2M278 164.6h1.2M282 156.6h1.2M337 157.6h1.2M285 160.6h1.2M297 141.6h1.2M331 175.6h1.2M275 148.6h1.2M318 112.6h1.2M281 151.6h1.2M284 164.6h1.2M345 119.6h1.2M276 163.6h1.2M322 113.6h1.2M325 107.6h1.2M311 109.6h1.2M287 167.6h1.2M279 152.6h1.2M280 167.6h1.2M293 129.6h1.2M284 161.6h1.2M286 158.6h1.2M328 107.6h1.2M327 110.6h1.2M318 180.6h1.2M308 127.6h1.2M299 146.6h1.2M321 114.6h1.2M327 112.6h1.2M288 168.6h1.2M315 171.6h1.2M284 160.6h1.2M332 173.6h1.2M277 165.6h1.2M278 151.6h1.2M278 160.6h1.2M291 162.6h1.2M283 176.6h1.2M292 157.6h1.2M284 156.6h1.2M327 106.6h1.2M284 158.6h1.2M318 102.6h1.2M287 162.6h1.2M275 159.6h1.2M345 114.6h1.2M277 171.6h1.2M281 169.6h1.2M286 135.6h1.2M282 169.6h1.2M277 163.6h1.2M297 140.6h1.2M272 173.6h1.2M332 109.6h1.2M273 157.6h1.2M330 104.6h1.2M276 166.6h1.2M279 157.6h1.2M278 152.6h1.2M328 115.6h1.2M273 163.6h1.2M294 156.6h1.2M325 113.6h1.2M281 156.6h1.2M289 157.6h1.2M293 162.6h1.2M292 162.6h1.2M329 146.6h1.2M286 165.6h1.2M275 156.6h1.2M329 101.6h1.2M273 154.6h1.2M329 112.6h1.2M293 153.6h1.2" stroke="#ff00ff" stroke-width="1.2" fill="none" stroke-opacity="0.55"/>
<rect x="252" y="41" width="157.5" height="143.5" fill="none" stroke="#666" stroke-width="1.5"/>
<line x1="303" y1="41" x2="303" y2="184.5" stroke="#111" stroke-width="1.6"/>
<line x1="252" y1="145.5" x2="409.5" y2="145.5" stroke="#111" stroke-width="1.6"/>
<path d="M248 41.0h4M249.5 66.1h2.5M249.5 59.8h2.5M249.5 55.3h2.5M249.5 51.8h2.5M249.5 49.0h2.5M249.5 46.6h2.5M249.5 44.5h2.5M249.5 42.6h2.5M248 76.9h4M249.5 102.0h2.5M249.5 95.6h2.5M249.5 91.2h2.5M249.5 87.7h2.5M249.5 84.8h2.5M249.5 82.4h2.5M249.5 80.4h2.5M249.5 78.5h2.5M248 112.8h4M249.5 137.8h2.5M249.5 131.5h2.5M249.5 127.0h2.5M249.5 123.5h2.5M249.5 120.7h2.5M249.5 118.3h2.5M249.5 116.2h2.5M249.5 114.4h2.5M248 148.6h4M249.5 173.7h2.5M249.5 167.4h2.5M249.5 162.9h2.5M249.5 159.4h2.5M249.5 156.6h2.5M249.5 154.2h2.5M249.5 152.1h2.5M249.5 150.3h2.5M291.4 184.5v4M263.9 184.5v2.5M270.8 184.5v2.5M275.7 184.5v2.5M279.5 184.5v2.5M282.6 184.5v2.5M285.3 184.5v2.5M287.6 184.5v2.5M289.6 184.5v2.5M330.8 184.5v4M303.2 184.5v2.5M310.2 184.5v2.5M315.1 184.5v2.5M318.9 184.5v2.5M322.0 184.5v2.5M324.7 184.5v2.5M326.9 184.5v2.5M328.9 184.5v2.5M370.1 184.5v4M342.6 184.5v2.5M349.5 184.5v2.5M354.5 184.5v2.5M358.3 184.5v2.5M361.4 184.5v2.5M364.0 184.5v2.5M366.3 184.5v2.5M368.3 184.5v2.5M409.5 184.5v4M382.0 184.5v2.5M388.9 184.5v2.5M393.8 184.5v2.5M397.6 184.5v2.5M400.8 184.5v2.5M403.4 184.5v2.5M405.7 184.5v2.5M407.7 184.5v2.5" stroke="#333" stroke-width="0.8" fill="none"/>
<text x="245" y="43.5" font-family="'Liberation Sans', sans-serif" font-size="7.5" font-weight="bold" text-anchor="end">10<tspan font-size="4.5" dy="-3.1">3</tspan></text>
<text x="245" y="79.375" font-family="'Liberation Sans', sans-serif" font-size="7.5" font-weight="bold" text-anchor="end">10<tspan font-size="4.5" dy="-3.1">2</tspan></text>
<text x="245" y="115.25" font-family="'Liberation Sans', sans-serif" font-size="7.5" font-weight="bold" text-anchor="end">10<tspan font-size="4.5" dy="-3.1">1</tspan></text>
<text x="245" y="151.125" font-family="'Liberation Sans', sans-serif" font-size="7.5" font-weight="bold" text-anchor="end">10<tspan font-size="4.5" dy="-3.1">0</tspan></text>
<text x="293.375" y="197.0" font-family="'Liberation Sans', sans-serif" font-size="7.5" font-weight="bold" text-anchor="middle">10<tspan font-size="4.5" dy="-3.1">0</tspan></text>
<text x="332.75" y="197.0" font-family="'Liberation Sans', sans-serif" font-size="7.5" font-weight="bold" text-anchor="middle">10<tspan font-size="4.5" dy="-3.1">1</tspan></text>
<text x="372.125" y="197.0" font-family="'Liberation Sans', sans-serif" font-size="7.5" font-weight="bold" text-anchor="middle">10<tspan font-size="4.5" dy="-3.1">2</tspan></text>
<text x="409.5" y="197.0" font-family="'Liberation Sans', sans-serif" font-size="7.5" font-weight="bold" text-anchor="end">10<tspan font-size="4.5" dy="-3.1">3</tspan></text>
<text x="252.5" y="51" font-family="'Liberation Sans', sans-serif" font-size="8.2" font-weight="bold" fill="#000" text-anchor="start">I1</text>
<text x="255" y="61" font-family="'Liberation Sans', sans-serif" font-size="8.2" font-weight="bold" fill="#000" text-anchor="start">5.3%</text>
<text x="303.5" y="51" font-family="'Liberation Sans', sans-serif" font-size="8.2" font-weight="bold" fill="#000" text-anchor="start">I2</text>
<text x="306" y="61" font-family="'Liberation Sans', sans-serif" font-size="8.2" font-weight="bold" fill="#000" text-anchor="start">1:</text>
<text x="252.5" y="156.5" font-family="'Liberation Sans', sans-serif" font-size="8.2" font-weight="bold" fill="#000" text-anchor="start">I3</text>
<text x="254" y="166.2" font-family="'Liberation Sans', sans-serif" font-size="8.2" font-weight="bold" fill="#000" text-anchor="start">78.3%</text>
<text x="303.5" y="156.5" font-family="'Liberation Sans', sans-serif" font-size="8.2" font-weight="bold" fill="#000" text-anchor="start">I4</text>
<text x="306" y="166.2" font-family="'Liberation Sans', sans-serif" font-size="8.2" font-weight="bold" fill="#000" text-anchor="start">4.2%</text>
<text x="358.5" y="56.6" font-family="'Liberation Sans', sans-serif" font-size="13.8" font-weight="bold" fill="#ff0808" text-anchor="middle">43.50 ± 1.32</text>
<text x="358.5" y="73.3" font-family="'Liberation Sans', sans-serif" font-size="13.8" font-weight="bold" fill="#ff0808" text-anchor="middle">N=5</text>
<path d="M106 350.6h1.2M160 335.6h1.2M105 347.6h1.2M149 345.6h1.2M96 350.6h1.2M143 340.6h1.2M150 345.6h1.2M145 344.6h1.2M150 339.6h1.2M140 346.6h1.2M165 326.6h1.2M108 324.6h1.2M108 335.6h1.2M149 336.6h1.2M104 355.6h1.2M101 337.6h1.2M105 351.6h1.2M141 297.6h1.2M85 355.6h1.2M96 349.6h1.2M97 353.6h1.2M97 358.6h1.2M99 345.6h1.2M102 346.6h1.2M157 347.6h1.2M116 340.6h1.2M89 340.6h1.2M157 297.6h1.2M93 340.6h1.2M100 346.6h1.2M99 341.6h1.2M106 349.6h1.2M98 336.6h1.2M103 340.6h1.2M156 339.6h1.2M97 348.6h1.2M145 331.6h1.2M93 358.6h1.2M103 355.6h1.2M145 348.6h1.2M107 345.6h1.2M150 289.6h1.2M101 349.6h1.2M169 328.6h1.2M158 328.6h1.2M88 337.6h1.2M94 334.6h1.2M110 355.6h1.2M95 347.6h1.2M92 351.6h1.2M93 353.6h1.2M107 350.6h1.2M108 344.6h1.2M96 342.6h1.2M119 335.6h1.2M98 342.6h1.2M145 341.6h1.2M97 339.6h1.2M93 352.6h1.2M150 338.6h1.2M108 340.6h1.2M98 348.6h1.2M116 333.6h1.2M101 348.6h1.2M93 351.6h1.2M162 344.6h1.2M145 337.6h1.2M103 341.6h1.2M134 340.6h1.2M104 348.6h1.2M108 346.6h1.2M92 345.6h1.2M98 322.6h1.2M94 344.6h1.2M104 344.6h1.2M104 332.6h1.2M103 350.6h1.2M102 342.6h1.2M103 339.6h1.2M99 335.6h1.2M95 352.6h1.2M146 339.6h1.2M97 347.6h1.2M86 335.6h1.2M104 342.6h1.2M147 339.6h1.2M97 343.6h1.2M140 330.6h1.2M104 343.6h1.2M140 300.6h1.2M94 335.6h1.2M98 355.6h1.2M108 342.6h1.2M99 340.6h1.2M107 353.6h1.2M100 357.6h1.2M99 343.6h1.2M98 330.6h1.2M104 338.6h1.2M99 342.6h1.2M100 342.6h1.2M100 319.6h1.2M92 342.6h1.2M152 345.6h1.2M96 337.6h1.2M98 349.6h1.2M87 356.6h1.2M100 348.6h1.2M156 334.6h1.2M101 350.6h1.2M101 354.6h1.2M97 337.6h1.2M99 351.6h1.2M105 339.6h1.2M114 338.6h1.2M158 336.6h1.2M150 306.6h1.2M108 356.6h1.2M141 334.6h1.2M119 338.6h1.2M178 300.6h1.2M143 341.6h1.2M96 339.6h1.2M108 347.6h1.2M102 351.6h1.2M152 348.6h1.2M106 336.6h1.2M100 335.6h1.2M99 350.6h1.2M109 349.6h1.2M99 330.6h1.2M93 333.6h1.2M111 346.6h1.2M103 346.6h1.2M98 354.6h1.2M92 339.6h1.2M112 309.6h1.2M99 348.6h1.2M115 339.6h1.2M93 339.6h1.2M118 329.6h1.2M99 333.6h1.2M102 350.6h1.2M113 338.6h1.2M107 339.6h1.2M141 295.6h1.2M147 345.6h1.2M95 349.6h1.2M104 349.6h1.2M140 303.6h1.2M95 343.6h1.2M112 341.6h1.2M100 351.6h1.2M137 316.6h1.2M156 349.6h1.2M107 343.6h1.2M96 348.6h1.2M97 341.6h1.2M111 345.6h1.2M115 328.6h1.2M86 323.6h1.2M91 331.6h1.2M156 344.6h1.2M139 341.6h1.2M144 300.6h1.2M106 343.6h1.2M102 328.6h1.2M95 346.6h1.2M148 326.6h1.2M108 348.6h1.2M99 326.6h1.2M103 324.6h1.2M152 290.6h1.2M99 357.6h1.2M92 332.6h1.2M96 351.6h1.2M154 311.6h1.2M104 341.6h1.2M122 352.6h1.2M108 341.6h1.2M152 349.6h1.2M105 332.6h1.2M104 323.6h1.2M98 340.6h1.2M97 352.6h1.2M112 348.6h1.2M96 330.6h1.2M154 336.6h1.2M94 350.6h1.2M85 342.6h1.2M137 327.6h1.2M98 353.6h1.2M148 338.6h1.2M98 350.6h1.2M102 323.6h1.2M152 337.6h1.2M98 334.6h1.2M106 353.6h1.2M105 329.6h1.2M95 350.6h1.2M155 328.6h1.2M101 331.6h1.2M152 352.6h1.2M91 346.6h1.2M92 319.6h1.2M150 298.6h1.2M101 345.6h1.2M138 290.6h1.2M169 340.6h1.2M105 357.6h1.2M116 345.6h1.2M148 349.6h1.2M100 350.6h1.2M144 330.6h1.2M104 346.6h1.2M145 342.6h1.2M94 356.6h1.2M105 326.6h1.2M114 357.6h1.2M101 353.6h1.2M97 340.6h1.2M99 337.6h1.2M106 348.6h1.2M98 337.6h1.2M136 351.6h1.2M85 331.6h1.2M99 339.6h1.2M117 341.6h1.2M119 342.6h1.2M129 291.6h1.2M136 332.6h1.2M100 354.6h1.2M147 334.6h1.2M98 339.6h1.2M106 344.6h1.2M107 348.6h1.2M94 355.6h1.2M101 333.6h1.2M153 329.6h1.2M103 354.6h1.2M134 297.6h1.2M101 351.6h1.2M98 347.6h1.2M114 344.6h1.2M107 336.6h1.2M95 344.6h1.2M105 358.6h1.2M153 341.6h1.2M108 358.6h1.2M106 322.6h1.2M98 356.6h1.2M92 357.6h1.2M100 344.6h1.2M124 314.6h1.2M91 351.6h1.2M100 355.6h1.2M104 337.6h1.2M105 349.6h1.2M107 323.6h1.2M98 351.6h1.2M106 355.6h1.2M100 338.6h1.2M156 353.6h1.2M109 356.6h1.2M94 348.6h1.2M146 335.6h1.2M150 294.6h1.2M103 358.6h1.2M155 336.6h1.2M97 335.6h1.2M103 349.6h1.2M141 346.6h1.2M87 347.6h1.2M104 352.6h1.2M139 330.6h1.2M93 349.6h1.2M106 342.6h1.2M142 295.6h1.2M155 302.6h1.2M130 300.6h1.2M108 337.6h1.2M90 341.6h1.2M97 342.6h1.2M91 341.6h1.2M142 290.6h1.2M111 343.6h1.2M96 347.6h1.2M102 348.6h1.2M150 340.6h1.2M101 352.6h1.2M157 342.6h1.2M92 353.6h1.2M100 349.6h1.2M158 340.6h1.2M96 345.6h1.2M155 339.6h1.2M154 340.6h1.2M99 346.6h1.2M97 356.6h1.2M96 354.6h1.2M106 351.6h1.2M150 343.6h1.2M103 322.6h1.2M98 345.6h1.2M100 347.6h1.2M141 341.6h1.2M100 343.6h1.2M109 347.6h1.2M93 348.6h1.2M108 327.6h1.2M112 334.6h1.2M131 292.6h1.2M102 344.6h1.2M159 326.6h1.2M158 338.6h1.2M99 355.6h1.2M95 353.6h1.2M109 328.6h1.2M104 327.6h1.2M105 345.6h1.2M100 353.6h1.2M97 345.6h1.2M96 341.6h1.2M104 347.6h1.2M132 335.6h1.2M119 343.6h1.2M138 341.6h1.2M106 335.6h1.2M89 318.6h1.2M92 347.6h1.2M95 348.6h1.2M103 348.6h1.2M145 340.6h1.2M108 350.6h1.2M157 331.6h1.2M103 343.6h1.2M96 344.6h1.2M103 353.6h1.2M101 340.6h1.2M99 356.6h1.2M105 342.6h1.2M96 346.6h1.2M90 346.6h1.2M152 297.6h1.2M101 347.6h1.2M161 332.6h1.2M107 346.6h1.2M132 337.6h1.2M92 337.6h1.2M145 309.6h1.2M141 337.6h1.2M107 359.6h1.2M144 302.6h1.2M95 339.6h1.2M98 359.6h1.2M92 324.6h1.2M95 338.6h1.2M111 338.6h1.2M98 357.6h1.2M151 309.6h1.2M145 289.6h1.2M94 351.6h1.2M111 350.6h1.2M88 326.6h1.2M141 310.6h1.2M103 332.6h1.2M125 356.6h1.2M96 352.6h1.2M111 347.6h1.2M147 325.6h1.2M156 348.6h1.2M157 305.6h1.2M106 352.6h1.2M113 321.6h1.2M138 342.6h1.2M106 357.6h1.2M136 298.6h1.2M100 339.6h1.2M97 333.6h1.2M99 328.6h1.2M99 331.6h1.2M129 303.6h1.2M129 344.6h1.2M96 353.6h1.2M158 345.6h1.2M121 337.6h1.2M149 308.6h1.2M137 330.6h1.2M87 353.6h1.2M103 334.6h1.2M91 340.6h1.2M149 303.6h1.2M146 348.6h1.2M102 355.6h1.2M109 346.6h1.2M144 340.6h1.2M111 342.6h1.2M94 354.6h1.2M138 338.6h1.2" stroke="#ff00ff" stroke-width="1.2" fill="none" stroke-opacity="0.55"/>
<path d="M101 351.6h1.2M102 349.6h1.2M133 321.6h1.2M157 339.6h1.2M104 343.6h1.2M112 347.6h1.2M103 343.6h1.2M101 342.6h1.2M94 353.6h1.2M150 299.6h1.2M93 328.6h1.2M99 344.6h1.2M100 355.6h1.2M97 332.6h1.2M139 302.6h1.2M97 345.6h1.2M104 335.6h1.2M149 300.6h1.2M101 343.6h1.2M105 341.6h1.2M144 332.6h1.2M152 305.6h1.2M102 350.6h1.2M146 333.6h1.2M106 343.6h1.2M122 314.6h1.2M106 349.6h1.2M105 336.6h1.2M93 346.6h1.2M91 324.6h1.2M145 308.6h1.2M141 301.6h1.2M106 332.6h1.2M97 350.6h1.2M102 345.6h1.2M97 357.6h1.2M100 338.6h1.2M89 333.6h1.2M103 346.6h1.2M104 351.6h1.2M97 331.6h1.2M112 329.6h1.2M89 350.6h1.2M104 352.6h1.2M99 325.6h1.2M103 348.6h1.2M99 353.6h1.2M100 346.6h1.2M92 353.6h1.2M99 341.6h1.2M151 349.6h1.2M109 355.6h1.2M97 338.6h1.2M98 342.6h1.2M101 338.6h1.2M108 356.6h1.2M100 335.6h1.2M96 340.6h1.2M137 310.6h1.2M166 350.6h1.2M146 304.6h1.2M139 284.6h1.2M97 353.6h1.2M101 350.6h1.2M110 354.6h1.2M105 338.6h1.2M162 331.6h1.2M135 349.6h1.2M112 343.6h1.2M101 349.6h1.2M99 355.6h1.2M127 299.6h1.2M98 331.6h1.2M162 343.6h1.2M107 348.6h1.2M156 335.6h1.2M119 326.6h1.2M158 347.6h1.2M155 342.6h1.2M109 344.6h1.2M105 339.6h1.2M96 344.6h1.2M146 297.6h1.2M100 344.6h1.2M152 331.6h1.2M140 341.6h1.2M103 344.6h1.2M144 340.6h1.2M114 343.6h1.2M101 348.6h1.2M99 349.6h1.2M98 349.6h1.2M166 294.6h1.2M136 344.6h1.2M94 348.6h1.2M108 337.6h1.2M96 342.6h1.2M97 342.6h1.2M86 354.6h1.2M96 354.6h1.2M99 334.6h1.2M112 352.6h1.2M87 343.6h1.2M152 293.6h1.2M113 356.6h1.2M93 337.6h1.2M96 333.6h1.2M97 346.6h1.2M98 353.6h1.2M156 330.6h1.2M93 343.6h1.2M98 356.6h1.2M100 339.6h1.2M105 351.6h1.2M103 359.6h1.2M105 344.6h1.2M93 349.6h1.2M101 356.6h1.2M147 354.6h1.2M141 335.6h1.2M172 333.6h1.2M162 335.6h1.2M115 349.6h1.2M99 330.6h1.2M97 351.6h1.2M106 344.6h1.2M103 340.6h1.2M99 338.6h1.2M95 348.6h1.2M113 337.6h1.2M97 339.6h1.2M107 329.6h1.2M95 344.6h1.2M161 311.6h1.2M135 308.6h1.2M98 346.6h1.2M107 331.6h1.2M99 350.6h1.2M102 351.6h1.2M106 331.6h1.2M110 338.6h1.2M155 339.6h1.2M96 343.6h1.2M103 345.6h1.2M101 346.6h1.2M98 351.6h1.2M148 353.6h1.2M101 331.6h1.2M101 333.6h1.2M151 346.6h1.2M105 337.6h1.2M94 354.6h1.2M130 338.6h1.2M83 318.6h1.2M145 275.6h1.2M100 352.6h1.2M89 352.6h1.2M131 348.6h1.2M92 344.6h1.2M105 348.6h1.2M93 353.6h1.2M148 341.6h1.2M97 343.6h1.2M88 332.6h1.2M95 343.6h1.2M151 328.6h1.2M135 297.6h1.2M105 333.6h1.2M115 342.6h1.2M111 345.6h1.2M96 330.6h1.2M139 328.6h1.2M105 347.6h1.2M98 343.6h1.2M98 332.6h1.2M170 350.6h1.2M149 310.6h1.2M101 311.6h1.2M102 352.6h1.2M167 299.6h1.2M110 356.6h1.2M94 316.6h1.2M133 301.6h1.2M160 352.6h1.2M108 332.6h1.2M99 339.6h1.2M112 330.6h1.2M124 352.6h1.2M116 354.6h1.2M115 343.6h1.2M155 357.6h1.2M98 350.6h1.2M88 353.6h1.2M98 348.6h1.2M110 327.6h1.2M94 345.6h1.2M101 347.6h1.2M148 331.6h1.2M90 347.6h1.2M99 352.6h1.2M102 333.6h1.2M153 299.6h1.2M106 345.6h1.2M106 342.6h1.2M99 340.6h1.2M103 350.6h1.2M103 332.6h1.2M97 336.6h1.2M108 329.6h1.2M155 335.6h1.2M112 314.6h1.2M100 356.6h1.2M98 355.6h1.2M103 349.6h1.2M118 331.6h1.2M88 346.6h1.2M100 347.6h1.2M110 345.6h1.2M94 349.6h1.2M130 302.6h1.2M146 340.6h1.2M113 342.6h1.2M93 344.6h1.2M142 308.6h1.2M111 353.6h1.2M100 342.6h1.2M105 340.6h1.2M98 358.6h1.2M102 347.6h1.2M112 346.6h1.2M150 298.6h1.2M97 352.6h1.2M99 319.6h1.2M95 347.6h1.2M95 342.6h1.2M100 337.6h1.2M109 343.6h1.2M99 348.6h1.2M96 358.6h1.2M161 329.6h1.2M103 342.6h1.2M142 336.6h1.2M109 346.6h1.2M108 345.6h1.2M165 353.6h1.2M108 339.6h1.2M108 341.6h1.2M102 354.6h1.2M158 304.6h1.2M110 343.6h1.2M122 295.6h1.2M104 349.6h1.2M91 344.6h1.2M97 348.6h1.2M89 341.6h1.2M112 348.6h1.2M99 343.6h1.2M138 338.6h1.2M154 346.6h1.2M154 341.6h1.2M138 298.6h1.2M100 341.6h1.2M94 350.6h1.2M106 338.6h1.2M104 347.6h1.2M98 326.6h1.2M94 344.6h1.2M104 333.6h1.2M87 345.6h1.2M157 344.6h1.2M89 339.6h1.2M132 349.6h1.2M162 349.6h1.2M138 310.6h1.2M100 345.6h1.2M96 351.6h1.2M96 339.6h1.2M116 347.6h1.2M148 344.6h1.2M102 341.6h1.2M139 301.6h1.2M111 333.6h1.2M154 350.6h1.2M152 337.6h1.2M154 311.6h1.2M103 341.6h1.2M79 350.6h1.2M134 301.6h1.2M99 356.6h1.2M107 322.6h1.2M106 327.6h1.2M160 302.6h1.2M93 338.6h1.2M109 347.6h1.2M142 305.6h1.2M108 333.6h1.2M101 329.6h1.2M162 351.6h1.2M115 345.6h1.2M107 327.6h1.2M144 343.6h1.2M104 339.6h1.2M107 344.6h1.2M104 330.6h1.2M98 344.6h1.2M103 336.6h1.2M106 350.6h1.2M149 338.6h1.2M96 353.6h1.2M156 312.6h1.2M145 338.6h1.2M95 341.6h1.2M93 345.6h1.2M110 341.6h1.2M115 336.6h1.2M100 358.6h1.2M95 358.6h1.2M99 345.6h1.2M111 354.6h1.2M97 334.6h1.2M153 343.6h1.2M162 337.6h1.2M151 303.6h1.2M150 346.6h1.2M93 340.6h1.2M117 323.6h1.2M114 336.6h1.2M143 352.6h1.2M100 343.6h1.2M151 336.6h1.2M151 331.6h1.2M100 340.6h1.2M95 356.6h1.2M101 353.6h1.2M133 338.6h1.2M140 334.6h1.2M150 345.6h1.2M148 334.6h1.2M104 341.6h1.2M152 342.6h1.2M107 349.6h1.2M101 334.6h1.2M108 346.6h1.2M86 347.6h1.2M161 309.6h1.2M103 351.6h1.2M102 355.6h1.2M149 308.6h1.2M132 290.6h1.2M140 305.6h1.2M99 358.6h1.2M86 328.6h1.2M160 343.6h1.2M155 326.6h1.2M106 357.6h1.2M156 337.6h1.2M145 299.6h1.2M101 345.6h1.2M161 335.6h1.2M144 339.6h1.2M98 354.6h1.2M94 338.6h1.2M102 353.6h1.2M103 357.6h1.2M103 338.6h1.2M148 340.6h1.2M144 291.6h1.2M99 326.6h1.2M129 350.6h1.2M129 302.6h1.2M157 340.6h1.2M104 336.6h1.2M99 337.6h1.2M93 357.6h1.2M108 348.6h1.2M158 333.6h1.2M140 340.6h1.2M100 329.6h1.2M96 335.6h1.2M92 345.6h1.2M112 349.6h1.2M98 339.6h1.2M96 341.6h1.2M152 336.6h1.2M145 342.6h1.2M103 354.6h1.2M146 289.6h1.2M110 334.6h1.2M95 352.6h1.2M114 358.6h1.2M152 348.6h1.2M93 339.6h1.2M98 341.6h1.2M92 347.6h1.2M105 350.6h1.2M103 334.6h1.2M152 306.6h1.2M115 356.6h1.2M97 335.6h1.2M100 357.6h1.2M158 328.6h1.2" stroke="#ff00ff" stroke-width="1.2" fill="none" stroke-opacity="0.55"/>
<path d="M95 344.6h1.2M105 351.6h1.2M96 355.6h1.2M141 295.6h1.2M143 342.6h1.2M94 344.6h1.2M137 305.6h1.2M158 349.6h1.2M115 354.6h1.2M161 344.6h1.2M97 336.6h1.2M93 353.6h1.2M103 338.6h1.2M97 356.6h1.2M153 296.6h1.2M98 354.6h1.2M97 343.6h1.2M101 338.6h1.2M154 302.6h1.2M97 352.6h1.2M114 339.6h1.2M97 330.6h1.2M103 331.6h1.2M92 327.6h1.2M106 354.6h1.2M142 313.6h1.2M92 340.6h1.2M108 348.6h1.2M94 348.6h1.2M150 344.6h1.2M99 334.6h1.2M118 331.6h1.2M142 307.6h1.2M146 329.6h1.2M99 348.6h1.2M98 349.6h1.2M103 346.6h1.2M101 345.6h1.2M160 348.6h1.2M104 325.6h1.2M155 344.6h1.2M92 347.6h1.2M105 336.6h1.2M100 348.6h1.2M145 345.6h1.2M101 336.6h1.2M96 338.6h1.2M94 319.6h1.2M105 355.6h1.2M109 333.6h1.2M158 344.6h1.2M144 310.6h1.2M120 340.6h1.2M102 341.6h1.2M99 344.6h1.2M95 343.6h1.2M91 345.6h1.2M108 347.6h1.2M100 335.6h1.2M96 350.6h1.2M101 333.6h1.2M102 342.6h1.2M102 351.6h1.2M106 339.6h1.2M92 352.6h1.2M97 350.6h1.2M90 349.6h1.2M110 343.6h1.2M101 350.6h1.2M100 349.6h1.2M105 347.6h1.2M95 354.6h1.2M103 339.6h1.2M92 337.6h1.2M104 339.6h1.2M107 344.6h1.2M99 352.6h1.2M96 346.6h1.2M124 336.6h1.2M160 292.6h1.2M143 283.6h1.2M105 329.6h1.2M107 348.6h1.2M114 348.6h1.2M149 307.6h1.2M111 331.6h1.2M96 357.6h1.2M104 355.6h1.2M96 340.6h1.2M154 340.6h1.2M167 331.6h1.2M107 345.6h1.2M101 358.6h1.2M149 342.6h1.2M107 351.6h1.2M101 339.6h1.2M139 343.6h1.2M82 354.6h1.2M140 304.6h1.2M102 352.6h1.2M98 348.6h1.2M106 353.6h1.2M133 297.6h1.2M120 338.6h1.2M103 350.6h1.2M95 346.6h1.2M101 341.6h1.2M102 354.6h1.2M100 358.6h1.2M104 351.6h1.2M138 350.6h1.2M108 337.6h1.2M161 330.6h1.2M106 330.6h1.2M99 351.6h1.2M104 346.6h1.2M107 326.6h1.2M152 341.6h1.2M98 341.6h1.2M93 350.6h1.2M152 345.6h1.2M101 343.6h1.2M97 334.6h1.2M153 312.6h1.2M146 339.6h1.2M111 340.6h1.2M98 344.6h1.2M99 345.6h1.2M85 349.6h1.2M104 358.6h1.2M113 350.6h1.2M141 309.6h1.2M105 348.6h1.2M102 344.6h1.2M88 340.6h1.2M103 342.6h1.2M108 346.6h1.2M201 304.6h1.2M100 350.6h1.2M94 351.6h1.2M100 334.6h1.2M91 343.6h1.2M162 340.6h1.2M112 328.6h1.2M159 300.6h1.2M98 339.6h1.2M101 344.6h1.2M105 344.6h1.2M104 341.6h1.2M119 337.6h1.2M146 349.6h1.2M95 328.6h1.2M96 334.6h1.2M140 339.6h1.2M141 293.6h1.2M91 338.6h1.2M107 338.6h1.2M102 356.6h1.2M148 341.6h1.2M100 344.6h1.2M94 352.6h1.2M98 345.6h1.2M147 302.6h1.2M110 350.6h1.2M96 351.6h1.2M96 331.6h1.2M145 334.6h1.2M98 321.6h1.2M139 349.6h1.2M106 344.6h1.2M99 354.6h1.2M138 300.6h1.2M105 333.6h1.2M159 339.6h1.2M159 338.6h1.2M132 305.6h1.2M102 340.6h1.2M93 343.6h1.2M158 296.6h1.2M120 331.6h1.2M151 347.6h1.2M104 335.6h1.2M99 330.6h1.2M137 338.6h1.2M106 343.6h1.2M111 339.6h1.2M97 335.6h1.2M103 357.6h1.2M102 349.6h1.2M99 333.6h1.2M83 352.6h1.2M95 355.6h1.2M151 326.6h1.2M109 336.6h1.2M96 336.6h1.2M147 349.6h1.2M105 332.6h1.2M110 354.6h1.2M103 353.6h1.2M95 332.6h1.2M105 346.6h1.2M99 347.6h1.2M150 338.6h1.2M104 348.6h1.2M150 349.6h1.2M101 351.6h1.2M141 307.6h1.2M101 353.6h1.2M165 343.6h1.2M144 353.6h1.2M141 299.6h1.2M154 353.6h1.2M153 351.6h1.2M132 333.6h1.2M93 344.6h1.2M101 352.6h1.2M143 293.6h1.2M145 333.6h1.2M99 350.6h1.2M126 298.6h1.2M106 347.6h1.2M106 331.6h1.2M101 354.6h1.2M96 329.6h1.2M96 348.6h1.2M93 333.6h1.2M140 345.6h1.2M105 343.6h1.2M91 335.6h1.2M145 352.6h1.2M141 308.6h1.2M117 336.6h1.2M92 331.6h1.2M107 347.6h1.2M138 342.6h1.2M147 300.6h1.2M100 351.6h1.2M108 356.6h1.2M110 352.6h1.2M163 339.6h1.2M100 337.6h1.2M95 329.6h1.2M102 336.6h1.2M94 345.6h1.2M97 351.6h1.2M99 353.6h1.2M98 352.6h1.2M95 341.6h1.2M97 337.6h1.2M155 337.6h1.2M137 349.6h1.2M146 356.6h1.2M95 350.6h1.2M143 300.6h1.2M144 344.6h1.2M160 339.6h1.2M90 343.6h1.2M100 354.6h1.2M100 319.6h1.2M106 340.6h1.2M99 341.6h1.2M100 356.6h1.2M167 330.6h1.2M102 339.6h1.2M105 345.6h1.2M106 326.6h1.2M136 338.6h1.2M152 301.6h1.2M174 331.6h1.2M164 337.6h1.2M121 351.6h1.2M191 321.6h1.2M92 336.6h1.2M135 340.6h1.2M91 350.6h1.2M109 348.6h1.2M142 335.6h1.2M101 356.6h1.2M144 341.6h1.2M110 347.6h1.2M101 340.6h1.2M97 349.6h1.2M146 342.6h1.2M100 353.6h1.2M106 348.6h1.2M103 345.6h1.2M94 349.6h1.2M144 333.6h1.2M107 337.6h1.2M115 355.6h1.2M104 357.6h1.2M87 339.6h1.2M97 353.6h1.2M97 346.6h1.2M97 348.6h1.2M138 299.6h1.2M106 351.6h1.2M154 333.6h1.2M164 339.6h1.2M98 351.6h1.2M81 346.6h1.2M99 342.6h1.2M99 323.6h1.2M104 356.6h1.2M153 338.6h1.2M144 306.6h1.2M110 357.6h1.2M156 337.6h1.2M99 335.6h1.2M107 324.6h1.2M151 335.6h1.2M95 335.6h1.2M114 329.6h1.2M95 342.6h1.2M100 346.6h1.2M170 339.6h1.2M97 354.6h1.2M106 358.6h1.2M102 345.6h1.2M149 333.6h1.2M102 331.6h1.2M101 337.6h1.2M108 339.6h1.2M107 340.6h1.2M134 344.6h1.2M105 338.6h1.2M139 303.6h1.2M91 354.6h1.2M109 353.6h1.2M105 341.6h1.2M155 343.6h1.2M94 341.6h1.2M95 353.6h1.2M148 303.6h1.2M143 345.6h1.2M110 342.6h1.2M89 338.6h1.2M102 323.6h1.2M93 347.6h1.2M99 324.6h1.2M108 358.6h1.2M90 342.6h1.2M97 341.6h1.2M106 352.6h1.2M99 346.6h1.2M104 336.6h1.2M95 337.6h1.2M104 354.6h1.2M105 337.6h1.2M94 357.6h1.2M157 335.6h1.2M93 354.6h1.2M145 289.6h1.2M108 331.6h1.2M151 340.6h1.2M95 339.6h1.2M108 315.6h1.2M158 333.6h1.2M102 347.6h1.2M95 358.6h1.2M97 344.6h1.2M120 356.6h1.2M95 345.6h1.2M94 346.6h1.2M149 340.6h1.2M145 337.6h1.2M99 358.6h1.2M98 316.6h1.2M91 351.6h1.2M103 344.6h1.2M113 352.6h1.2M107 355.6h1.2M158 342.6h1.2M105 349.6h1.2M90 344.6h1.2M94 329.6h1.2M95 347.6h1.2M101 349.6h1.2M109 349.6h1.2M90 345.6h1.2M98 332.6h1.2M90 333.6h1.2M130 295.6h1.2M100 345.6h1.2M143 335.6h1.2M157 343.6h1.2M92 355.6h1.2M103 334.6h1.2M101 342.6h1.2M113 340.6h1.2M98 346.6h1.2" stroke="#ff00ff" stroke-width="1.2" fill="none" stroke-opacity="0.55"/>
<rect x="73.5" y="214" width="155.0" height="146" fill="none" stroke="#666" stroke-width="1.5"/>
<line x1="118.5" y1="214" x2="118.5" y2="360" stroke="#111" stroke-width="1.6"/>
<line x1="73.5" y1="316" x2="228.5" y2="316" stroke="#111" stroke-width="1.6"/>
<path d="M69.5 214.0h4M71.0 239.5h2.5M71.0 233.1h2.5M71.0 228.5h2.5M71.0 225.0h2.5M71.0 222.1h2.5M71.0 219.7h2.5M71.0 217.5h2.5M71.0 215.7h2.5M69.5 250.5h4M71.0 276.0h2.5M71.0 269.6h2.5M71.0 265.0h2.5M71.0 261.5h2.5M71.0 258.6h2.5M71.0 256.2h2.5M71.0 254.0h2.5M71.0 252.2h2.5M69.5 287.0h4M71.0 312.5h2.5M71.0 306.1h2.5M71.0 301.5h2.5M71.0 298.0h2.5M71.0 295.1h2.5M71.0 292.7h2.5M71.0 290.5h2.5M71.0 288.7h2.5M69.5 323.5h4M71.0 349.0h2.5M71.0 342.6h2.5M71.0 338.0h2.5M71.0 334.5h2.5M71.0 331.6h2.5M71.0 329.2h2.5M71.0 327.0h2.5M71.0 325.2h2.5M112.2 360v4M85.2 360v2.5M92.0 360v2.5M96.8 360v2.5M100.6 360v2.5M103.7 360v2.5M106.2 360v2.5M108.5 360v2.5M110.5 360v2.5M151.0 360v4M123.9 360v2.5M130.7 360v2.5M135.6 360v2.5M139.3 360v2.5M142.4 360v2.5M145.0 360v2.5M147.2 360v2.5M149.2 360v2.5M189.8 360v4M162.7 360v2.5M169.5 360v2.5M174.3 360v2.5M178.1 360v2.5M181.2 360v2.5M183.7 360v2.5M186.0 360v2.5M188.0 360v2.5M228.5 360v4M201.4 360v2.5M208.2 360v2.5M213.1 360v2.5M216.8 360v2.5M219.9 360v2.5M222.5 360v2.5M224.7 360v2.5M226.7 360v2.5" stroke="#333" stroke-width="0.8" fill="none"/>
<text x="66.5" y="216.5" font-family="'Liberation Sans', sans-serif" font-size="7.5" font-weight="bold" text-anchor="end">10<tspan font-size="4.5" dy="-3.1">3</tspan></text>
<text x="66.5" y="253.0" font-family="'Liberation Sans', sans-serif" font-size="7.5" font-weight="bold" text-anchor="end">10<tspan font-size="4.5" dy="-3.1">2</tspan></text>
<text x="66.5" y="289.5" font-family="'Liberation Sans', sans-serif" font-size="7.5" font-weight="bold" text-anchor="end">10<tspan font-size="4.5" dy="-3.1">1</tspan></text>
<text x="66.5" y="326.0" font-family="'Liberation Sans', sans-serif" font-size="7.5" font-weight="bold" text-anchor="end">10<tspan font-size="4.5" dy="-3.1">0</tspan></text>
<text x="114.25" y="372.5" font-family="'Liberation Sans', sans-serif" font-size="7.5" font-weight="bold" text-anchor="middle">10<tspan font-size="4.5" dy="-3.1">0</tspan></text>
<text x="153.0" y="372.5" font-family="'Liberation Sans', sans-serif" font-size="7.5" font-weight="bold" text-anchor="middle">10<tspan font-size="4.5" dy="-3.1">1</tspan></text>
<text x="191.75" y="372.5" font-family="'Liberation Sans', sans-serif" font-size="7.5" font-weight="bold" text-anchor="middle">10<tspan font-size="4.5" dy="-3.1">2</tspan></text>
<text x="228.5" y="372.5" font-family="'Liberation Sans', sans-serif" font-size="7.5" font-weight="bold" text-anchor="end">10<tspan font-size="4.5" dy="-3.1">3</tspan></text>
<text x="74.0" y="224" font-family="'Liberation Sans', sans-serif" font-size="8.2" font-weight="bold" fill="#000" text-anchor="start">H1</text>
<text x="76.5" y="234" font-family="'Liberation Sans', sans-serif" font-size="8.2" font-weight="bold" fill="#000" text-anchor="start">1.0%</text>
<text x="119.0" y="224" font-family="'Liberation Sans', sans-serif" font-size="8.2" font-weight="bold" fill="#000" text-anchor="start">H2</text>
<text x="121.5" y="234" font-family="'Liberation Sans', sans-serif" font-size="8.2" font-weight="bold" fill="#000" text-anchor="start">7.(</text>
<text x="74.0" y="327" font-family="'Liberation Sans', sans-serif" font-size="8.2" font-weight="bold" fill="#000" text-anchor="start">H3</text>
<text x="75.5" y="336.7" font-family="'Liberation Sans', sans-serif" font-size="8.2" font-weight="bold" fill="#000" text-anchor="start">72.5%</text>
<text x="119.0" y="327" font-family="'Liberation Sans', sans-serif" font-size="8.2" font-weight="bold" fill="#000" text-anchor="start">H4</text>
<text x="121.5" y="336.7" font-family="'Liberation Sans', sans-serif" font-size="8.2" font-weight="bold" fill="#000" text-anchor="start">19.4%</text>
<text x="178" y="232.5" font-family="'Liberation Sans', sans-serif" font-size="13.8" font-weight="bold" fill="#ff0808" text-anchor="middle">34.77± 1.41</text>
<text x="179.5" y="248.8" font-family="'Liberation Sans', sans-serif" font-size="13.8" font-weight="bold" fill="#ff0808" text-anchor="middle">N=5</text>
<path d="M280 349.6h1.2M276 344.6h1.2M279 360.6h1.2M281 275.6h1.2M330 297.6h1.2M278 358.6h1.2M276 345.6h1.2M276 349.6h1.2M279 350.6h1.2M284 352.6h1.2M275 332.6h1.2M277 362.6h1.2M273 362.6h1.2M283 356.6h1.2M288 326.6h1.2M283 341.6h1.2M274 357.6h1.2M338 348.6h1.2M272 362.6h1.2M281 358.6h1.2M281 341.6h1.2M319 314.6h1.2M284 350.6h1.2M279 348.6h1.2M333 345.6h1.2M281 339.6h1.2M269 336.6h1.2M272 358.6h1.2M282 347.6h1.2M279 340.6h1.2M274 350.6h1.2M315 342.6h1.2M330 327.6h1.2M283 324.6h1.2M319 348.6h1.2M271 346.6h1.2M281 349.6h1.2M283 350.6h1.2M271 321.6h1.2M281 360.6h1.2M278 344.6h1.2M279 347.6h1.2M280 352.6h1.2M308 312.6h1.2M334 351.6h1.2M275 345.6h1.2M280 350.6h1.2M325 316.6h1.2M286 344.6h1.2M319 307.6h1.2M275 362.6h1.2M332 349.6h1.2M273 342.6h1.2M285 318.6h1.2M276 356.6h1.2M268 354.6h1.2M276 348.6h1.2M277 353.6h1.2M284 342.6h1.2M275 349.6h1.2M329 362.6h1.2M284 347.6h1.2M280 362.6h1.2M365 302.6h1.2M275 350.6h1.2M282 350.6h1.2M272 357.6h1.2M272 342.6h1.2M276 360.6h1.2M327 325.6h1.2M277 363.6h1.2M280 342.6h1.2M326 349.6h1.2M277 364.6h1.2M276 341.6h1.2M274 361.6h1.2M276 342.6h1.2M274 332.6h1.2M288 360.6h1.2M322 340.6h1.2M287 341.6h1.2M334 341.6h1.2M268 347.6h1.2M265 346.6h1.2M325 342.6h1.2M279 338.6h1.2M291 341.6h1.2M278 355.6h1.2M291 323.6h1.2M337 351.6h1.2M285 351.6h1.2M277 358.6h1.2M276 353.6h1.2M264 347.6h1.2M288 340.6h1.2M328 342.6h1.2M277 340.6h1.2M278 335.6h1.2M280 354.6h1.2M277 349.6h1.2M278 350.6h1.2M279 352.6h1.2M278 359.6h1.2M279 336.6h1.2M283 342.6h1.2M281 363.6h1.2M277 356.6h1.2M273 346.6h1.2M277 361.6h1.2M272 364.6h1.2M276 336.6h1.2M280 346.6h1.2M327 349.6h1.2M322 345.6h1.2M277 336.6h1.2M277 335.6h1.2M307 340.6h1.2M335 342.6h1.2M283 365.6h1.2M270 345.6h1.2M278 364.6h1.2M290 324.6h1.2M289 343.6h1.2M320 315.6h1.2M284 351.6h1.2M281 350.6h1.2M278 354.6h1.2M328 358.6h1.2M285 344.6h1.2M282 345.6h1.2M281 347.6h1.2M327 353.6h1.2M282 346.6h1.2M288 359.6h1.2M271 342.6h1.2M274 353.6h1.2M309 313.6h1.2M327 358.6h1.2M284 354.6h1.2M279 349.6h1.2M270 353.6h1.2M271 362.6h1.2M271 355.6h1.2M275 336.6h1.2M339 349.6h1.2M271 356.6h1.2M275 360.6h1.2M279 357.6h1.2M279 356.6h1.2M282 354.6h1.2M286 362.6h1.2M273 345.6h1.2M313 340.6h1.2M276 340.6h1.2M279 353.6h1.2M296 299.6h1.2M310 304.6h1.2M281 357.6h1.2M282 341.6h1.2M334 350.6h1.2M275 341.6h1.2M260 338.6h1.2M272 352.6h1.2M273 339.6h1.2M276 343.6h1.2M289 338.6h1.2M312 357.6h1.2M281 356.6h1.2M278 336.6h1.2M285 347.6h1.2M324 334.6h1.2M330 350.6h1.2M283 333.6h1.2M284 353.6h1.2M285 349.6h1.2M283 360.6h1.2M278 357.6h1.2M276 365.6h1.2M324 339.6h1.2M281 338.6h1.2M273 349.6h1.2M274 362.6h1.2M310 294.6h1.2M280 348.6h1.2M276 324.6h1.2M322 353.6h1.2M280 364.6h1.2M276 338.6h1.2M288 347.6h1.2M286 346.6h1.2M282 357.6h1.2M325 346.6h1.2M277 354.6h1.2M328 333.6h1.2M274 347.6h1.2M309 305.6h1.2M280 340.6h1.2M279 355.6h1.2M272 335.6h1.2M325 332.6h1.2M283 354.6h1.2M273 333.6h1.2M283 340.6h1.2M290 339.6h1.2M277 345.6h1.2M325 343.6h1.2M283 353.6h1.2M277 343.6h1.2M270 347.6h1.2M275 343.6h1.2M285 345.6h1.2M283 349.6h1.2M286 360.6h1.2M279 346.6h1.2M284 360.6h1.2M313 295.6h1.2M294 306.6h1.2M321 303.6h1.2M277 355.6h1.2M305 305.6h1.2M296 338.6h1.2M329 305.6h1.2M283 357.6h1.2M276 358.6h1.2M272 350.6h1.2M320 344.6h1.2M285 335.6h1.2M272 348.6h1.2M289 350.6h1.2M273 347.6h1.2M284 344.6h1.2M278 347.6h1.2M283 328.6h1.2M285 328.6h1.2M270 339.6h1.2M314 341.6h1.2M280 355.6h1.2M289 347.6h1.2M289 342.6h1.2M271 357.6h1.2M277 344.6h1.2M282 338.6h1.2M277 341.6h1.2M271 360.6h1.2M287 348.6h1.2M333 349.6h1.2M280 332.6h1.2M277 347.6h1.2M314 350.6h1.2M278 338.6h1.2M334 312.6h1.2M276 352.6h1.2M270 355.6h1.2M287 343.6h1.2M321 331.6h1.2M270 350.6h1.2M312 350.6h1.2M289 354.6h1.2M337 365.6h1.2M284 322.6h1.2M278 341.6h1.2M329 341.6h1.2M323 318.6h1.2M274 358.6h1.2M272 363.6h1.2M327 346.6h1.2M282 342.6h1.2M279 358.6h1.2M275 348.6h1.2M279 345.6h1.2M283 346.6h1.2M275 364.6h1.2M281 344.6h1.2M289 335.6h1.2M273 352.6h1.2M286 335.6h1.2M278 356.6h1.2M275 351.6h1.2M316 303.6h1.2M273 348.6h1.2M289 348.6h1.2M317 344.6h1.2M298 338.6h1.2M280 361.6h1.2M272 343.6h1.2M278 352.6h1.2M287 351.6h1.2M274 363.6h1.2M268 305.6h1.2M339 303.6h1.2M274 348.6h1.2M284 343.6h1.2M283 327.6h1.2M286 330.6h1.2M283 323.6h1.2M276 346.6h1.2M313 298.6h1.2M325 334.6h1.2M311 306.6h1.2M282 349.6h1.2M296 342.6h1.2M280 347.6h1.2M282 358.6h1.2M289 351.6h1.2M292 348.6h1.2M268 361.6h1.2M324 337.6h1.2M274 354.6h1.2M269 356.6h1.2M270 363.6h1.2M309 348.6h1.2M282 359.6h1.2M277 324.6h1.2M299 340.6h1.2M269 339.6h1.2M320 302.6h1.2M273 337.6h1.2M265 341.6h1.2M276 327.6h1.2M318 353.6h1.2M271 350.6h1.2M278 353.6h1.2M339 344.6h1.2M321 308.6h1.2M272 339.6h1.2M277 348.6h1.2M290 336.6h1.2M275 352.6h1.2M274 346.6h1.2M318 348.6h1.2M328 351.6h1.2M279 335.6h1.2M280 359.6h1.2M313 310.6h1.2M282 351.6h1.2M308 302.6h1.2M333 360.6h1.2M309 310.6h1.2M277 352.6h1.2M293 345.6h1.2M330 357.6h1.2M306 306.6h1.2M288 362.6h1.2M291 335.6h1.2M272 346.6h1.2M277 360.6h1.2M334 338.6h1.2M322 297.6h1.2M267 352.6h1.2M277 350.6h1.2M282 335.6h1.2M310 334.6h1.2M290 337.6h1.2M285 361.6h1.2M289 330.6h1.2M280 351.6h1.2M283 335.6h1.2M276 359.6h1.2M268 360.6h1.2M324 354.6h1.2M339 338.6h1.2M276 357.6h1.2M316 355.6h1.2M287 354.6h1.2M275 326.6h1.2M279 337.6h1.2M317 349.6h1.2M272 349.6h1.2M283 344.6h1.2M271 344.6h1.2M285 348.6h1.2M274 328.6h1.2M285 362.6h1.2M313 324.6h1.2M305 294.6h1.2M287 336.6h1.2M284 361.6h1.2M320 351.6h1.2M275 354.6h1.2M277 338.6h1.2M320 354.6h1.2M289 345.6h1.2M267 351.6h1.2M272 347.6h1.2M274 356.6h1.2M283 361.6h1.2" stroke="#ff00ff" stroke-width="1.2" fill="none" stroke-opacity="0.55"/>
<path d="M281 360.6h1.2M277 338.6h1.2M272 333.6h1.2M280 351.6h1.2M285 362.6h1.2M284 361.6h1.2M271 351.6h1.2M275 340.6h1.2M288 323.6h1.2M285 348.6h1.2M319 343.6h1.2M280 353.6h1.2M318 305.6h1.2M275 352.6h1.2M327 355.6h1.2M277 333.6h1.2M266 359.6h1.2M275 354.6h1.2M323 342.6h1.2M277 342.6h1.2M280 363.6h1.2M283 352.6h1.2M278 355.6h1.2M279 347.6h1.2M270 356.6h1.2M274 338.6h1.2M274 337.6h1.2M280 343.6h1.2M330 346.6h1.2M279 339.6h1.2M278 362.6h1.2M282 345.6h1.2M318 300.6h1.2M287 349.6h1.2M276 337.6h1.2M291 341.6h1.2M332 349.6h1.2M312 304.6h1.2M310 312.6h1.2M281 350.6h1.2M279 348.6h1.2M278 331.6h1.2M275 359.6h1.2M278 358.6h1.2M278 356.6h1.2M284 342.6h1.2M310 306.6h1.2M275 357.6h1.2M313 335.6h1.2M286 341.6h1.2M324 340.6h1.2M279 335.6h1.2M279 361.6h1.2M302 330.6h1.2M279 351.6h1.2M320 305.6h1.2M285 326.6h1.2M270 352.6h1.2M280 361.6h1.2M278 348.6h1.2M277 353.6h1.2M282 342.6h1.2M315 301.6h1.2M276 354.6h1.2M316 304.6h1.2M329 346.6h1.2M280 358.6h1.2M285 354.6h1.2M278 340.6h1.2M288 334.6h1.2M277 343.6h1.2M277 334.6h1.2M285 357.6h1.2M275 349.6h1.2M279 360.6h1.2M313 305.6h1.2M274 331.6h1.2M297 332.6h1.2M289 353.6h1.2M280 342.6h1.2M326 349.6h1.2M276 333.6h1.2M275 351.6h1.2M287 338.6h1.2M315 332.6h1.2M281 348.6h1.2M288 357.6h1.2M280 344.6h1.2M318 310.6h1.2M306 305.6h1.2M280 354.6h1.2M290 331.6h1.2M328 305.6h1.2M287 347.6h1.2M276 357.6h1.2M274 360.6h1.2M329 339.6h1.2M280 338.6h1.2M273 355.6h1.2M277 349.6h1.2M276 356.6h1.2M282 362.6h1.2M331 331.6h1.2M326 344.6h1.2M283 348.6h1.2M284 349.6h1.2M301 301.6h1.2M281 339.6h1.2M278 349.6h1.2M279 343.6h1.2M305 357.6h1.2M285 330.6h1.2M283 350.6h1.2M276 339.6h1.2M275 297.6h1.2M281 365.6h1.2M316 343.6h1.2M275 350.6h1.2M276 355.6h1.2M287 343.6h1.2M278 363.6h1.2M280 359.6h1.2M271 328.6h1.2M281 349.6h1.2M280 350.6h1.2M288 343.6h1.2M279 353.6h1.2M282 331.6h1.2M278 357.6h1.2M275 342.6h1.2M282 349.6h1.2M279 352.6h1.2M276 348.6h1.2M340 340.6h1.2M325 362.6h1.2M275 360.6h1.2M278 338.6h1.2M326 351.6h1.2M286 349.6h1.2M277 352.6h1.2M332 355.6h1.2M311 314.6h1.2M285 346.6h1.2M278 351.6h1.2M275 348.6h1.2M281 343.6h1.2M281 359.6h1.2M274 336.6h1.2M273 326.6h1.2M326 353.6h1.2M285 356.6h1.2M289 332.6h1.2M266 363.6h1.2M280 356.6h1.2M278 329.6h1.2M285 307.6h1.2M270 350.6h1.2M283 361.6h1.2M275 355.6h1.2M283 345.6h1.2M285 359.6h1.2M267 350.6h1.2M303 301.6h1.2M281 353.6h1.2M288 363.6h1.2M279 356.6h1.2M281 354.6h1.2M328 362.6h1.2M279 337.6h1.2M276 359.6h1.2M277 348.6h1.2M273 353.6h1.2M281 336.6h1.2M274 348.6h1.2M263 351.6h1.2M272 350.6h1.2M286 355.6h1.2M324 355.6h1.2M277 354.6h1.2M285 347.6h1.2M331 346.6h1.2M306 311.6h1.2M278 342.6h1.2M276 346.6h1.2M276 353.6h1.2M277 350.6h1.2M267 340.6h1.2M319 348.6h1.2M280 362.6h1.2M284 348.6h1.2M325 341.6h1.2M323 316.6h1.2M280 355.6h1.2M334 351.6h1.2M278 343.6h1.2M268 344.6h1.2M321 304.6h1.2M322 347.6h1.2M285 352.6h1.2M274 340.6h1.2M324 349.6h1.2M285 345.6h1.2M271 340.6h1.2M270 351.6h1.2M276 341.6h1.2M278 350.6h1.2M283 355.6h1.2M309 318.6h1.2M335 309.6h1.2M283 333.6h1.2M287 319.6h1.2M276 340.6h1.2M280 346.6h1.2M277 359.6h1.2M275 332.6h1.2M287 352.6h1.2M270 345.6h1.2M286 330.6h1.2M313 302.6h1.2M284 357.6h1.2M276 338.6h1.2M284 339.6h1.2M325 347.6h1.2M279 350.6h1.2M323 345.6h1.2M294 343.6h1.2M274 359.6h1.2M324 304.6h1.2M279 349.6h1.2M277 344.6h1.2M282 351.6h1.2M282 360.6h1.2M282 347.6h1.2M318 349.6h1.2M277 346.6h1.2M298 328.6h1.2M280 364.6h1.2M284 344.6h1.2M272 338.6h1.2M277 360.6h1.2M280 337.6h1.2M278 345.6h1.2M289 347.6h1.2M279 354.6h1.2M279 355.6h1.2M282 358.6h1.2M272 340.6h1.2M318 339.6h1.2M274 351.6h1.2M320 344.6h1.2M336 353.6h1.2M280 336.6h1.2M273 356.6h1.2M273 361.6h1.2M288 313.6h1.2M279 357.6h1.2M285 349.6h1.2M276 360.6h1.2M267 342.6h1.2M282 343.6h1.2M278 352.6h1.2M320 347.6h1.2M274 350.6h1.2M277 363.6h1.2M313 341.6h1.2M322 346.6h1.2M283 335.6h1.2M280 345.6h1.2M338 338.6h1.2M306 314.6h1.2M268 353.6h1.2M278 354.6h1.2M278 339.6h1.2M276 335.6h1.2M280 352.6h1.2M281 357.6h1.2M275 325.6h1.2M335 361.6h1.2M284 358.6h1.2M328 354.6h1.2M291 345.6h1.2M289 342.6h1.2M289 348.6h1.2M320 355.6h1.2M289 364.6h1.2M286 360.6h1.2M322 354.6h1.2M326 307.6h1.2M281 342.6h1.2M280 333.6h1.2M277 361.6h1.2M279 362.6h1.2M279 342.6h1.2M266 365.6h1.2M274 352.6h1.2M281 347.6h1.2M310 352.6h1.2M281 320.6h1.2M325 346.6h1.2M278 330.6h1.2M280 349.6h1.2M282 359.6h1.2M276 364.6h1.2M279 340.6h1.2M287 341.6h1.2M281 352.6h1.2M279 346.6h1.2M277 345.6h1.2M275 343.6h1.2M274 361.6h1.2M280 348.6h1.2M286 336.6h1.2M323 322.6h1.2M282 352.6h1.2M280 340.6h1.2M296 333.6h1.2M282 354.6h1.2M291 351.6h1.2M288 342.6h1.2M279 358.6h1.2M281 362.6h1.2M282 340.6h1.2M316 309.6h1.2M279 330.6h1.2M278 344.6h1.2M323 304.6h1.2M283 339.6h1.2M274 357.6h1.2M332 312.6h1.2M282 365.6h1.2M276 332.6h1.2M269 337.6h1.2M274 329.6h1.2M338 347.6h1.2M288 344.6h1.2M274 335.6h1.2M282 355.6h1.2M273 364.6h1.2M284 347.6h1.2M304 301.6h1.2M333 356.6h1.2M271 324.6h1.2M285 328.6h1.2M334 354.6h1.2M277 351.6h1.2M278 359.6h1.2M284 354.6h1.2M275 363.6h1.2M281 355.6h1.2M338 353.6h1.2M314 313.6h1.2M320 300.6h1.2M282 363.6h1.2M283 343.6h1.2M281 346.6h1.2M319 308.6h1.2M295 332.6h1.2M305 306.6h1.2M281 358.6h1.2M329 344.6h1.2M275 330.6h1.2M276 361.6h1.2M278 361.6h1.2M286 365.6h1.2M306 307.6h1.2M269 326.6h1.2M323 300.6h1.2M336 329.6h1.2M273 357.6h1.2M274 353.6h1.2M283 354.6h1.2M275 341.6h1.2M282 348.6h1.2M275 317.6h1.2M269 360.6h1.2M292 335.6h1.2M286 346.6h1.2M276 342.6h1.2M286 342.6h1.2M285 358.6h1.2M319 346.6h1.2M339 356.6h1.2M305 308.6h1.2M265 353.6h1.2M286 348.6h1.2" stroke="#ff00ff" stroke-width="1.2" fill="none" stroke-opacity="0.55"/>
<path d="M271 346.6h1.2M321 343.6h1.2M283 337.6h1.2M284 363.6h1.2M285 349.6h1.2M331 341.6h1.2M279 357.6h1.2M283 351.6h1.2M278 351.6h1.2M288 358.6h1.2M271 360.6h1.2M327 305.6h1.2M324 312.6h1.2M276 340.6h1.2M317 304.6h1.2M278 344.6h1.2M279 352.6h1.2M281 364.6h1.2M270 359.6h1.2M317 348.6h1.2M277 336.6h1.2M278 347.6h1.2M279 337.6h1.2M318 338.6h1.2M274 355.6h1.2M278 352.6h1.2M266 353.6h1.2M280 345.6h1.2M281 350.6h1.2M272 335.6h1.2M272 333.6h1.2M271 364.6h1.2M279 359.6h1.2M276 335.6h1.2M276 356.6h1.2M272 347.6h1.2M279 362.6h1.2M274 358.6h1.2M278 346.6h1.2M342 341.6h1.2M281 345.6h1.2M276 344.6h1.2M321 314.6h1.2M278 343.6h1.2M273 353.6h1.2M280 352.6h1.2M273 348.6h1.2M277 352.6h1.2M283 354.6h1.2M283 348.6h1.2M276 357.6h1.2M268 354.6h1.2M292 337.6h1.2M319 351.6h1.2M325 340.6h1.2M294 353.6h1.2M289 337.6h1.2M280 359.6h1.2M278 349.6h1.2M277 346.6h1.2M272 340.6h1.2M280 358.6h1.2M307 299.6h1.2M275 340.6h1.2M280 348.6h1.2M270 357.6h1.2M330 351.6h1.2M331 314.6h1.2M278 363.6h1.2M275 353.6h1.2M283 353.6h1.2M274 347.6h1.2M272 330.6h1.2M281 354.6h1.2M335 329.6h1.2M281 332.6h1.2M304 299.6h1.2M275 332.6h1.2M324 301.6h1.2M284 344.6h1.2M282 352.6h1.2M267 354.6h1.2M287 345.6h1.2M327 347.6h1.2M268 351.6h1.2M276 352.6h1.2M283 355.6h1.2M275 358.6h1.2M280 354.6h1.2M284 352.6h1.2M277 340.6h1.2M283 345.6h1.2M282 351.6h1.2M321 302.6h1.2M276 327.6h1.2M279 326.6h1.2M284 348.6h1.2M274 360.6h1.2M276 355.6h1.2M281 335.6h1.2M274 356.6h1.2M325 341.6h1.2M316 353.6h1.2M278 342.6h1.2M272 351.6h1.2M308 309.6h1.2M325 337.6h1.2M287 346.6h1.2M311 339.6h1.2M272 350.6h1.2M314 305.6h1.2M280 360.6h1.2M312 296.6h1.2M282 353.6h1.2M278 337.6h1.2M280 350.6h1.2M283 352.6h1.2M322 303.6h1.2M282 349.6h1.2M315 306.6h1.2M277 342.6h1.2M290 350.6h1.2M331 343.6h1.2M319 299.6h1.2M276 359.6h1.2M325 353.6h1.2M279 360.6h1.2M283 359.6h1.2M281 353.6h1.2M280 346.6h1.2M289 360.6h1.2M329 316.6h1.2M273 351.6h1.2M305 309.6h1.2M276 342.6h1.2M287 334.6h1.2M282 358.6h1.2M325 311.6h1.2M299 353.6h1.2M267 350.6h1.2M285 333.6h1.2M277 360.6h1.2M278 356.6h1.2M273 338.6h1.2M275 350.6h1.2M288 364.6h1.2M278 340.6h1.2M271 359.6h1.2M271 355.6h1.2M281 351.6h1.2M279 339.6h1.2M279 349.6h1.2M287 362.6h1.2M277 365.6h1.2M277 358.6h1.2M285 354.6h1.2M287 343.6h1.2M323 345.6h1.2M277 357.6h1.2M287 341.6h1.2M275 357.6h1.2M268 359.6h1.2M306 306.6h1.2M338 336.6h1.2M276 349.6h1.2M268 356.6h1.2M275 347.6h1.2M305 317.6h1.2M284 345.6h1.2M274 336.6h1.2M315 355.6h1.2M293 351.6h1.2M280 342.6h1.2M337 346.6h1.2M287 356.6h1.2M274 353.6h1.2M320 348.6h1.2M276 345.6h1.2M271 354.6h1.2M272 354.6h1.2M285 353.6h1.2M314 309.6h1.2M294 336.6h1.2M291 343.6h1.2M273 349.6h1.2M275 351.6h1.2M289 362.6h1.2M281 363.6h1.2M276 348.6h1.2M283 336.6h1.2M280 343.6h1.2M279 343.6h1.2M274 352.6h1.2M288 334.6h1.2M323 304.6h1.2M301 342.6h1.2M270 362.6h1.2M273 345.6h1.2M288 356.6h1.2M277 354.6h1.2M277 361.6h1.2M282 363.6h1.2M284 343.6h1.2M315 356.6h1.2M282 360.6h1.2M279 345.6h1.2M283 340.6h1.2M275 324.6h1.2M281 357.6h1.2M302 303.6h1.2M273 363.6h1.2M276 331.6h1.2M322 305.6h1.2M285 343.6h1.2M282 354.6h1.2M279 351.6h1.2M325 320.6h1.2M326 339.6h1.2M263 353.6h1.2M320 344.6h1.2M272 363.6h1.2M316 316.6h1.2M325 352.6h1.2M281 355.6h1.2M286 356.6h1.2M307 302.6h1.2M276 361.6h1.2M270 358.6h1.2M271 356.6h1.2M267 359.6h1.2M280 357.6h1.2M278 357.6h1.2M271 332.6h1.2M276 346.6h1.2M283 329.6h1.2M283 356.6h1.2M281 343.6h1.2M291 329.6h1.2M320 351.6h1.2M272 343.6h1.2M319 305.6h1.2M317 347.6h1.2M276 353.6h1.2M277 348.6h1.2M336 346.6h1.2M280 353.6h1.2M281 346.6h1.2M310 359.6h1.2M274 344.6h1.2M276 338.6h1.2M319 350.6h1.2M300 307.6h1.2M268 345.6h1.2M327 358.6h1.2M326 351.6h1.2M323 298.6h1.2M278 348.6h1.2M288 349.6h1.2M271 345.6h1.2M286 359.6h1.2M287 354.6h1.2M280 364.6h1.2M282 350.6h1.2M281 344.6h1.2M328 351.6h1.2M335 299.6h1.2M284 341.6h1.2M279 346.6h1.2M275 328.6h1.2M285 356.6h1.2M277 353.6h1.2M274 349.6h1.2M288 336.6h1.2M325 308.6h1.2M268 360.6h1.2M275 361.6h1.2M328 365.6h1.2M278 341.6h1.2M281 322.6h1.2M320 305.6h1.2M328 344.6h1.2M278 350.6h1.2M329 299.6h1.2M330 337.6h1.2M337 355.6h1.2M273 364.6h1.2M289 359.6h1.2M283 350.6h1.2M277 344.6h1.2M275 359.6h1.2M282 357.6h1.2M328 345.6h1.2M315 349.6h1.2M281 330.6h1.2M279 355.6h1.2M283 349.6h1.2M277 351.6h1.2M279 358.6h1.2M315 302.6h1.2M283 343.6h1.2M326 342.6h1.2M318 306.6h1.2M336 339.6h1.2M275 364.6h1.2M319 342.6h1.2M275 343.6h1.2M315 353.6h1.2M284 351.6h1.2M275 341.6h1.2M281 342.6h1.2M274 351.6h1.2M271 344.6h1.2M276 343.6h1.2M274 342.6h1.2M329 350.6h1.2M282 356.6h1.2M282 362.6h1.2M274 324.6h1.2M273 361.6h1.2M312 300.6h1.2M287 355.6h1.2M288 362.6h1.2M286 332.6h1.2M273 343.6h1.2M283 360.6h1.2M341 352.6h1.2M277 356.6h1.2M287 353.6h1.2M336 349.6h1.2M321 308.6h1.2M291 346.6h1.2M298 300.6h1.2M329 352.6h1.2M281 341.6h1.2M289 345.6h1.2M273 350.6h1.2M279 348.6h1.2M280 361.6h1.2M291 342.6h1.2M341 336.6h1.2M279 332.6h1.2M276 329.6h1.2M272 364.6h1.2M317 349.6h1.2M264 362.6h1.2M309 338.6h1.2M266 354.6h1.2M287 335.6h1.2M276 337.6h1.2M271 349.6h1.2M285 337.6h1.2M285 357.6h1.2M312 348.6h1.2M283 341.6h1.2M324 339.6h1.2M285 350.6h1.2M266 356.6h1.2M276 358.6h1.2M282 339.6h1.2M318 329.6h1.2M288 340.6h1.2M275 355.6h1.2M283 347.6h1.2M338 339.6h1.2M278 355.6h1.2M325 346.6h1.2M285 342.6h1.2M312 352.6h1.2M318 309.6h1.2M288 359.6h1.2M279 342.6h1.2M324 342.6h1.2M315 315.6h1.2M328 336.6h1.2M279 341.6h1.2M317 338.6h1.2M281 358.6h1.2M274 341.6h1.2M291 358.6h1.2M290 358.6h1.2M279 334.6h1.2M285 348.6h1.2M319 306.6h1.2M274 337.6h1.2M314 341.6h1.2M280 331.6h1.2M284 337.6h1.2M334 349.6h1.2M276 328.6h1.2M334 341.6h1.2M290 351.6h1.2" stroke="#ff00ff" stroke-width="1.2" fill="none" stroke-opacity="0.55"/>
<rect x="250" y="214" width="157.5" height="152" fill="none" stroke="#666" stroke-width="1.5"/>
<line x1="296" y1="214" x2="296" y2="366" stroke="#111" stroke-width="1.6"/>
<line x1="250" y1="321" x2="407.5" y2="321" stroke="#111" stroke-width="1.6"/>
<path d="M246 214.0h4M247.5 240.6h2.5M247.5 233.9h2.5M247.5 229.1h2.5M247.5 225.4h2.5M247.5 222.4h2.5M247.5 219.9h2.5M247.5 217.7h2.5M247.5 215.7h2.5M246 252.0h4M247.5 278.6h2.5M247.5 271.9h2.5M247.5 267.1h2.5M247.5 263.4h2.5M247.5 260.4h2.5M247.5 257.9h2.5M247.5 255.7h2.5M247.5 253.7h2.5M246 290.0h4M247.5 316.6h2.5M247.5 309.9h2.5M247.5 305.1h2.5M247.5 301.4h2.5M247.5 298.4h2.5M247.5 295.9h2.5M247.5 293.7h2.5M247.5 291.7h2.5M246 328.0h4M247.5 354.6h2.5M247.5 347.9h2.5M247.5 343.1h2.5M247.5 339.4h2.5M247.5 336.4h2.5M247.5 333.9h2.5M247.5 331.7h2.5M247.5 329.7h2.5M289.4 366v4M261.9 366v2.5M268.8 366v2.5M273.7 366v2.5M277.5 366v2.5M280.6 366v2.5M283.3 366v2.5M285.6 366v2.5M287.6 366v2.5M328.8 366v4M301.2 366v2.5M308.2 366v2.5M313.1 366v2.5M316.9 366v2.5M320.0 366v2.5M322.7 366v2.5M324.9 366v2.5M326.9 366v2.5M368.1 366v4M340.6 366v2.5M347.5 366v2.5M352.5 366v2.5M356.3 366v2.5M359.4 366v2.5M362.0 366v2.5M364.3 366v2.5M366.3 366v2.5M407.5 366v4M380.0 366v2.5M386.9 366v2.5M391.8 366v2.5M395.6 366v2.5M398.8 366v2.5M401.4 366v2.5M403.7 366v2.5M405.7 366v2.5" stroke="#333" stroke-width="0.8" fill="none"/>
<text x="243" y="216.5" font-family="'Liberation Sans', sans-serif" font-size="7.5" font-weight="bold" text-anchor="end">10<tspan font-size="4.5" dy="-3.1">3</tspan></text>
<text x="243" y="254.5" font-family="'Liberation Sans', sans-serif" font-size="7.5" font-weight="bold" text-anchor="end">10<tspan font-size="4.5" dy="-3.1">2</tspan></text>
<text x="243" y="292.5" font-family="'Liberation Sans', sans-serif" font-size="7.5" font-weight="bold" text-anchor="end">10<tspan font-size="4.5" dy="-3.1">1</tspan></text>
<text x="243" y="330.5" font-family="'Liberation Sans', sans-serif" font-size="7.5" font-weight="bold" text-anchor="end">10<tspan font-size="4.5" dy="-3.1">0</tspan></text>
<text x="291.375" y="378.5" font-family="'Liberation Sans', sans-serif" font-size="7.5" font-weight="bold" text-anchor="middle">10<tspan font-size="4.5" dy="-3.1">0</tspan></text>
<text x="330.75" y="378.5" font-family="'Liberation Sans', sans-serif" font-size="7.5" font-weight="bold" text-anchor="middle">10<tspan font-size="4.5" dy="-3.1">1</tspan></text>
<text x="370.125" y="378.5" font-family="'Liberation Sans', sans-serif" font-size="7.5" font-weight="bold" text-anchor="middle">10<tspan font-size="4.5" dy="-3.1">2</tspan></text>
<text x="407.5" y="378.5" font-family="'Liberation Sans', sans-serif" font-size="7.5" font-weight="bold" text-anchor="end">10<tspan font-size="4.5" dy="-3.1">3</tspan></text>
<text x="250.5" y="224" font-family="'Liberation Sans', sans-serif" font-size="8.2" font-weight="bold" fill="#000" text-anchor="start">H1</text>
<text x="253" y="234" font-family="'Liberation Sans', sans-serif" font-size="8.2" font-weight="bold" fill="#000" text-anchor="start">1.2%</text>
<text x="296.5" y="224" font-family="'Liberation Sans', sans-serif" font-size="8.2" font-weight="bold" fill="#000" text-anchor="start">H2</text>
<text x="299" y="234" font-family="'Liberation Sans', sans-serif" font-size="8.2" font-weight="bold" fill="#000" text-anchor="start">5.</text>
<text x="250.5" y="332" font-family="'Liberation Sans', sans-serif" font-size="8.2" font-weight="bold" fill="#000" text-anchor="start">H3</text>
<text x="252" y="341.7" font-family="'Liberation Sans', sans-serif" font-size="8.2" font-weight="bold" fill="#000" text-anchor="start">80.2%</text>
<text x="296.5" y="332" font-family="'Liberation Sans', sans-serif" font-size="8.2" font-weight="bold" fill="#000" text-anchor="start">H4</text>
<text x="299" y="341.7" font-family="'Liberation Sans', sans-serif" font-size="8.2" font-weight="bold" fill="#000" text-anchor="start">13.3%</text>
<text x="355" y="235.2" font-family="'Liberation Sans', sans-serif" font-size="13.8" font-weight="bold" fill="#ff0808" text-anchor="middle">18.71 ± 0.64</text>
<text x="355" y="251.3" font-family="'Liberation Sans', sans-serif" font-size="13.8" font-weight="bold" fill="#ff0808" text-anchor="middle">N=5</text>
<text x="17.1" y="71.2" font-family="'Liberation Sans', sans-serif" font-size="16.5" font-weight="bold" fill="#000" text-anchor="middle" transform="rotate(-90 17.1 71.2)" textLength="29.7" lengthAdjust="spacingAndGlyphs">CD4</text>
<line x1="14.5" y1="163.7" x2="14.5" y2="100.5" stroke="#000" stroke-width="2.2"/>
<path d="M19.0 107.5 L14.5 99.5 L10.0 107.5" fill="none" stroke="#000" stroke-width="2.4" stroke-linejoin="miter" stroke-miterlimit="10"/>
<text x="22.4" y="238" font-family="'Liberation Sans', sans-serif" font-size="16" font-weight="bold" fill="#000" text-anchor="middle" transform="rotate(-90 22.4 238)" textLength="30.8" lengthAdjust="spacingAndGlyphs">CD8</text>
<line x1="15.3" y1="353.4" x2="15.3" y2="264.0" stroke="#000" stroke-width="2.2"/>
<path d="M19.8 271.0 L15.3 263.0 L10.8 271.0" fill="none" stroke="#000" stroke-width="2.4" stroke-linejoin="miter" stroke-miterlimit="10"/>
<text x="21.2" y="392" font-family="'Liberation Sans', sans-serif" font-size="16.3" font-weight="bold" fill="#000" text-anchor="start" textLength="31.3" lengthAdjust="spacingAndGlyphs">CD3</text>
<line x1="64.3" y1="389.3" x2="406.00001536876556" y2="391.1944558774457" stroke="#000" stroke-width="2.2"/>
<path d="M398.0 396.2 L407.0 391.2 L398.0 386.2" fill="none" stroke="#000" stroke-width="2.6" stroke-linejoin="miter" stroke-miterlimit="10"/>
<rect x="73" y="446.3" width="55.599999999999994" height="105.2" fill="#720096" stroke="#8f9f9f" stroke-width="1.5"/>
<rect x="156" y="496.0" width="56" height="55.5" fill="red" stroke="#8f9f9f" stroke-width="1.5"/>
<line x1="100.8" y1="446.3125" x2="100.8" y2="444.01750000000004" stroke="#000" stroke-width="1.6"/>
<line x1="87.3" y1="444.01750000000004" x2="114.3" y2="444.01750000000004" stroke="#000" stroke-width="2"/>
<line x1="184" y1="496.0375" x2="184" y2="494.635" stroke="#000" stroke-width="1.6"/>
<line x1="171" y1="494.635" x2="197" y2="494.635" stroke="#000" stroke-width="2"/>
<line x1="59.2" y1="424" x2="59.2" y2="552.5" stroke="#000" stroke-width="1.8"/>
<line x1="58.2" y1="551.5" x2="225.5" y2="551.5" stroke="#000" stroke-width="1.8"/>
<path d="M55.2 551.5H59.2M55.2 526.0H59.2M55.2 500.5H59.2M55.2 475.0H59.2M55.2 449.5H59.2M55.2 424.0H59.2M100.8 551.5v4M184 551.5v4" stroke="#000" stroke-width="1.6" fill="none"/>
<text x="54.2" y="555.1" font-family="'Liberation Serif', serif" font-size="8" font-weight="normal" fill="#000" text-anchor="end">0</text>
<text x="54.2" y="529.6" font-family="'Liberation Serif', serif" font-size="8" font-weight="normal" fill="#000" text-anchor="end">2000</text>
<text x="54.2" y="504.1" font-family="'Liberation Serif', serif" font-size="8" font-weight="normal" fill="#000" text-anchor="end">4000</text>
<text x="54.2" y="478.6" font-family="'Liberation Serif', serif" font-size="8" font-weight="normal" fill="#000" text-anchor="end">6000</text>
<text x="54.2" y="453.1" font-family="'Liberation Serif', serif" font-size="8" font-weight="normal" fill="#000" text-anchor="end">8000</text>
<text x="54.2" y="427.6" font-family="'Liberation Serif', serif" font-size="8" font-weight="normal" fill="#000" text-anchor="end">10000</text>
<line x1="98.4" y1="437" x2="181" y2="437" stroke="#000" stroke-width="1.8"/>
<text x="144.5" y="435" font-family="'Liberation Sans', sans-serif" font-size="15" font-weight="normal" fill="#000" text-anchor="middle">****</text>
<text x="30" y="487.4" font-family="'Liberation Sans', sans-serif" font-size="13.8" font-weight="normal" fill="#000" text-anchor="middle" transform="rotate(-90 30 487.4)">CD3CD4 total cell No./mouse</text>
<text x="105" y="564" font-family="'Liberation Sans', sans-serif" font-size="13.2" font-weight="normal" fill="#000" text-anchor="end" transform="rotate(-47 105 564)">OVA-veh</text>
<text x="189" y="564" font-family="'Liberation Sans', sans-serif" font-size="13.2" font-weight="normal" fill="#000" text-anchor="end" transform="rotate(-47 189 564)">OVA-res</text>
<rect x="297" y="442.3" width="52.69999999999999" height="107.9" fill="#720096" stroke="#8f9f9f" stroke-width="1.5"/>
<rect x="376" y="492.6" width="53" height="57.6" fill="red" stroke="#8f9f9f" stroke-width="1.5"/>
<line x1="323.5" y1="442.3125" x2="323.5" y2="438.6135" stroke="#000" stroke-width="1.6"/>
<line x1="310.0" y1="438.6135" x2="337.0" y2="438.6135" stroke="#000" stroke-width="2"/>
<line x1="402.5" y1="492.55725" x2="402.5" y2="491.016" stroke="#000" stroke-width="1.6"/>
<line x1="389.5" y1="491.016" x2="415.5" y2="491.016" stroke="#000" stroke-width="2"/>
<line x1="284.7" y1="426.9" x2="284.7" y2="551.2" stroke="#333" stroke-width="1.2"/>
<line x1="283.7" y1="550.2" x2="441" y2="550.2" stroke="#000" stroke-width="1.8"/>
<path d="M280.7 550.2H284.7M280.7 519.4H284.7M280.7 488.6H284.7M280.7 457.7H284.7M280.7 426.9H284.7M323.5 550.2v4M402.5 550.2v4" stroke="#000" stroke-width="1.6" fill="none"/>
<text x="280.09999999999997" y="554.8" font-family="'Liberation Serif', serif" font-size="14" font-weight="normal" fill="#000" text-anchor="end" textLength="5.85" lengthAdjust="spacingAndGlyphs">0</text>
<text x="280.09999999999997" y="524.0" font-family="'Liberation Serif', serif" font-size="14" font-weight="normal" fill="#000" text-anchor="end" textLength="23.4" lengthAdjust="spacingAndGlyphs">1000</text>
<text x="280.09999999999997" y="493.2" font-family="'Liberation Serif', serif" font-size="14" font-weight="normal" fill="#000" text-anchor="end" textLength="23.4" lengthAdjust="spacingAndGlyphs">2000</text>
<text x="280.09999999999997" y="462.3" font-family="'Liberation Serif', serif" font-size="14" font-weight="normal" fill="#000" text-anchor="end" textLength="23.4" lengthAdjust="spacingAndGlyphs">3000</text>
<text x="280.09999999999997" y="431.5" font-family="'Liberation Serif', serif" font-size="14" font-weight="normal" fill="#000" text-anchor="end" textLength="23.4" lengthAdjust="spacingAndGlyphs">4000</text>
<line x1="323" y1="428" x2="398.5" y2="428" stroke="#000" stroke-width="1.8"/>
<text x="358.3" y="428" font-family="'Liberation Sans', sans-serif" font-size="15" font-weight="normal" fill="#000" text-anchor="middle">***</text>
<text x="245.2" y="485.8" font-family="'Liberation Sans', sans-serif" font-size="13.45" font-weight="normal" fill="#000" text-anchor="middle" transform="rotate(-90 245.2 485.8)">CD3CD8 total cell No./mouse</text>
<text x="328" y="563" font-family="'Liberation Sans', sans-serif" font-size="14.3" font-weight="normal" fill="#000" text-anchor="end" transform="rotate(-48 328 563)">OVA-veh</text>
<text x="407" y="563" font-family="'Liberation Sans', sans-serif" font-size="14.3" font-weight="normal" fill="#000" text-anchor="end" transform="rotate(-48 407 563)">OVA-res</text>
<rect x="928.8" y="100.2" width="55.200000000000045" height="84.4" fill="#720096" stroke="#8f9f9f" stroke-width="1.5"/>
<rect x="1011" y="143.5" width="56" height="41.1" fill="red" stroke="#8f9f9f" stroke-width="1.5"/>
<line x1="956.4" y1="100.20400000000001" x2="956.4" y2="98.04" stroke="#000" stroke-width="1.6"/>
<line x1="942.9" y1="98.04" x2="969.9" y2="98.04" stroke="#000" stroke-width="2"/>
<line x1="1039" y1="143.484" x2="1039" y2="141.32" stroke="#000" stroke-width="1.6"/>
<line x1="1026" y1="141.32" x2="1052" y2="141.32" stroke="#000" stroke-width="2"/>
<line x1="915" y1="76.4" x2="915" y2="185.6" stroke="#000" stroke-width="1.8"/>
<line x1="914" y1="184.6" x2="1081" y2="184.6" stroke="#000" stroke-width="1.8"/>
<path d="M911 184.6H915M911 148.5H915M911 112.5H915M911 76.4H915M956.4 184.6v4M1039 184.6v4" stroke="#000" stroke-width="1.6" fill="none"/>
<text x="910.5" y="187.5" font-family="'Liberation Sans', sans-serif" font-size="8" font-weight="bold" fill="#000" text-anchor="end">0.0</text>
<text x="910.5" y="151.4" font-family="'Liberation Sans', sans-serif" font-size="8" font-weight="bold" fill="#000" text-anchor="end">0.5</text>
<text x="910.5" y="115.4" font-family="'Liberation Sans', sans-serif" font-size="8" font-weight="bold" fill="#000" text-anchor="end">1.0</text>
<text x="910.5" y="79.3" font-family="'Liberation Sans', sans-serif" font-size="8" font-weight="bold" fill="#000" text-anchor="end">1.5</text>
<line x1="956" y1="91" x2="1032.6" y2="91" stroke="#000" stroke-width="1.8"/>
<text x="994.3" y="91" font-family="'Liberation Sans', sans-serif" font-size="15" font-weight="normal" fill="#000" text-anchor="middle">***</text>
<text x="889" y="130.2" font-family="'Liberation Sans', sans-serif" font-size="14.9" font-weight="normal" fill="#000" text-anchor="middle" transform="rotate(-90 889 130.2)">% of&#160; cells</text>
<text x="960" y="196.5" font-family="'Liberation Sans', sans-serif" font-size="14" font-weight="normal" fill="#000" text-anchor="end" transform="rotate(-43 960 196.5)">OVA-veh</text>
<text x="1043.5" y="196" font-family="'Liberation Sans', sans-serif" font-size="14" font-weight="normal" fill="#000" text-anchor="end" transform="rotate(-43 1043.5 196)">OVA-res</text>
<rect x="931" y="405.7" width="54.299999999999955" height="76.3" fill="#720096" stroke="#8f9f9f" stroke-width="1.5"/>
<rect x="1012" y="373.7" width="55" height="108.3" fill="red" stroke="#8f9f9f" stroke-width="1.5"/>
<line x1="958.2" y1="405.721" x2="958.2" y2="401.875" stroke="#000" stroke-width="1.6"/>
<line x1="944.7" y1="401.875" x2="971.7" y2="401.875" stroke="#000" stroke-width="2"/>
<line x1="1039" y1="373.67100000000005" x2="1039" y2="365.338" stroke="#000" stroke-width="1.6"/>
<line x1="1026" y1="365.338" x2="1052" y2="365.338" stroke="#000" stroke-width="2"/>
<line x1="917" y1="353.8" x2="917" y2="483" stroke="#000" stroke-width="1.8"/>
<line x1="916" y1="482" x2="1080" y2="482" stroke="#000" stroke-width="1.8"/>
<path d="M913 482.0H917M913 456.4H917M913 430.7H917M913 405.1H917M913 379.4H917M913 353.8H917M958.2 482v4M1039 482v4" stroke="#000" stroke-width="1.6" fill="none"/>
<text x="913" y="485.2" font-family="'Liberation Sans', sans-serif" font-size="9" font-weight="bold" fill="#000" text-anchor="end">0</text>
<text x="913" y="459.6" font-family="'Liberation Sans', sans-serif" font-size="9" font-weight="bold" fill="#000" text-anchor="end">2</text>
<text x="913" y="433.9" font-family="'Liberation Sans', sans-serif" font-size="9" font-weight="bold" fill="#000" text-anchor="end">4</text>
<text x="913" y="408.3" font-family="'Liberation Sans', sans-serif" font-size="9" font-weight="bold" fill="#000" text-anchor="end">6</text>
<text x="913" y="382.6" font-family="'Liberation Sans', sans-serif" font-size="9" font-weight="bold" fill="#000" text-anchor="end">8</text>
<text x="913" y="357.0" font-family="'Liberation Sans', sans-serif" font-size="9" font-weight="bold" fill="#000" text-anchor="end">10</text>
<line x1="957.3" y1="353.8" x2="1039.3" y2="353.8" stroke="#000" stroke-width="1.8"/>
<text x="991" y="350.2" font-family="'Liberation Sans', sans-serif" font-size="15" font-weight="normal" fill="#000" text-anchor="middle">*</text>
<text x="898" y="416" font-family="'Liberation Sans', sans-serif" font-size="16" font-weight="normal" fill="#000" text-anchor="middle" transform="rotate(-90 898 416)">% of Treg</text>
<text x="962" y="494.5" font-family="'Liberation Sans', sans-serif" font-size="13.7" font-weight="normal" fill="#000" text-anchor="end" transform="rotate(-48 962 494.5)">OVA-veh</text>
<text x="1043.5" y="494.5" font-family="'Liberation Sans', sans-serif" font-size="13.7" font-weight="normal" fill="#000" text-anchor="end" transform="rotate(-48 1043.5 494.5)">OVA-res</text>
<path d="M506.8 131.7h1.5M509.8 131.7h1.5M506.8 133.2h1.5M509.8 133.2h1.5M523.3 133.2h1.5M547.3 133.2h1.5M508.3 134.7h1.5M523.3 134.7h3M541.3 134.7h1.5M545.8 134.7h1.5M548.8 134.7h1.5M575.8 134.7h1.5M581.8 134.7h1.5M587.8 134.7h1.5M593.8 134.7h1.5M596.8 134.7h1.5M511.3 136.2h1.5M514.3 136.2h3M518.8 136.2h1.5M523.3 136.2h3M529.3 136.2h1.5M536.8 136.2h1.5M541.3 136.2h1.5M545.8 136.2h1.5M596.8 136.2h1.5M506.8 137.7h3M512.8 137.7h1.5M529.3 137.7h1.5M539.8 137.7h1.5M554.8 137.7h1.5M578.8 137.7h1.5M581.8 137.7h3M587.8 137.7h3M592.3 137.7h1.5M602.8 137.7h1.5M608.8 137.7h1.5M515.8 139.2h1.5M518.8 139.2h1.5M521.8 139.2h1.5M530.8 139.2h4.5M539.8 139.2h3M544.3 139.2h1.5M547.3 139.2h1.5M562.3 139.2h1.5M568.3 139.2h3M584.8 139.2h3M590.8 139.2h1.5M595.3 139.2h1.5M599.8 139.2h1.5M602.8 139.2h1.5M508.3 140.7h1.5M514.3 140.7h3M545.8 140.7h1.5M550.3 140.7h3M563.8 140.7h1.5M575.8 140.7h1.5M578.8 140.7h4.5M587.8 140.7h3M598.3 140.7h4.5M607.3 140.7h1.5M515.8 142.2h1.5M554.8 142.2h1.5M565.3 142.2h3M569.8 142.2h4.5M580.3 142.2h1.5M586.3 142.2h4.5M592.3 142.2h1.5M595.3 142.2h1.5M598.3 142.2h3M604.3 142.2h1.5M607.3 142.2h1.5M613.3 142.2h1.5M547.3 143.7h1.5M556.3 143.7h4.5M562.3 143.7h1.5M565.3 143.7h1.5M568.3 143.7h1.5M572.8 143.7h3M578.8 143.7h3M583.3 143.7h10.5M595.3 143.7h4.5M602.8 143.7h3M610.3 143.7h1.5M556.3 145.2h3M569.8 145.2h1.5M574.3 145.2h3M578.8 145.2h1.5M583.3 145.2h4.5M589.3 145.2h1.5M592.3 145.2h3M599.8 145.2h1.5M602.8 145.2h1.5M608.8 145.2h1.5M614.8 145.2h3M551.8 146.7h1.5M556.3 146.7h4.5M563.8 146.7h1.5M568.3 146.7h1.5M574.3 146.7h1.5M578.8 146.7h1.5M583.3 146.7h1.5M587.8 146.7h6M596.8 146.7h1.5M599.8 146.7h3M604.3 146.7h4.5M616.3 146.7h1.5M551.8 148.2h1.5M556.3 148.2h7.5M566.8 148.2h1.5M572.8 148.2h3M583.3 148.2h1.5M586.3 148.2h3M595.3 148.2h1.5M598.3 148.2h4.5M604.3 148.2h1.5M613.3 148.2h1.5M553.3 149.7h1.5M559.3 149.7h4.5M565.3 149.7h4.5M571.3 149.7h1.5M575.8 149.7h4.5M583.3 149.7h3M589.3 149.7h1.5M592.3 149.7h3M598.3 149.7h1.5M602.8 149.7h1.5M605.8 149.7h1.5M611.8 149.7h1.5M557.8 151.2h1.5M568.3 151.2h1.5M574.3 151.2h1.5M581.8 151.2h7.5M592.3 151.2h4.5M598.3 151.2h1.5M602.8 151.2h1.5M611.8 151.2h1.5M553.3 152.7h1.5M560.8 152.7h1.5M568.3 152.7h1.5M571.3 152.7h3M578.8 152.7h1.5M581.8 152.7h1.5M584.8 152.7h1.5M587.8 152.7h1.5M590.8 152.7h6M599.8 152.7h4.5M610.3 152.7h1.5M560.8 154.2h3M574.3 154.2h1.5M580.3 154.2h3M587.8 154.2h7.5M599.8 154.2h3M604.3 154.2h1.5M610.3 154.2h1.5M616.3 154.2h1.5M554.8 155.7h3M559.3 155.7h1.5M562.3 155.7h3M566.8 155.7h1.5M569.8 155.7h1.5M575.8 155.7h1.5M581.8 155.7h1.5M590.8 155.7h1.5M593.8 155.7h1.5M598.3 155.7h1.5M602.8 155.7h1.5M605.8 155.7h1.5M506.8 157.2h1.5M559.3 157.2h1.5M562.3 157.2h1.5M571.3 157.2h4.5M580.3 157.2h1.5M584.8 157.2h3M593.8 157.2h1.5M596.8 157.2h3M601.3 157.2h4.5M608.8 157.2h1.5M617.8 157.2h1.5M541.3 158.7h1.5M548.8 158.7h3M565.3 158.7h1.5M569.8 158.7h1.5M575.8 158.7h1.5M581.8 158.7h1.5M584.8 158.7h3M595.3 158.7h6M602.8 158.7h1.5M610.3 158.7h3M614.8 158.7h1.5M508.3 160.2h1.5M515.8 160.2h1.5M518.8 160.2h1.5M523.3 160.2h1.5M529.3 160.2h1.5M533.8 160.2h1.5M550.3 160.2h1.5M556.3 160.2h1.5M560.8 160.2h1.5M563.8 160.2h1.5M568.3 160.2h1.5M571.3 160.2h1.5M575.8 160.2h1.5M581.8 160.2h1.5M584.8 160.2h3M590.8 160.2h3M599.8 160.2h1.5M613.3 160.2h3M509.8 161.7h3M514.3 161.7h1.5M521.8 161.7h1.5M526.3 161.7h3M533.8 161.7h1.5M556.3 161.7h1.5M559.3 161.7h1.5M562.3 161.7h1.5M565.3 161.7h3M578.8 161.7h1.5M589.3 161.7h1.5M592.3 161.7h3M596.8 161.7h3M604.3 161.7h1.5M614.8 161.7h1.5M509.8 163.2h1.5M514.3 163.2h3M518.8 163.2h3M524.8 163.2h4.5M530.8 163.2h1.5M554.8 163.2h1.5M559.3 163.2h1.5M562.3 163.2h6M572.8 163.2h1.5M581.8 163.2h1.5M586.3 163.2h1.5M592.3 163.2h4.5M598.3 163.2h1.5M608.8 163.2h1.5M620.8 163.2h1.5M625.3 163.2h1.5M629.8 163.2h1.5M509.8 164.7h1.5M512.8 164.7h3M542.8 164.7h1.5M560.8 164.7h1.5M566.8 164.7h3M571.3 164.7h1.5M575.8 164.7h4.5M583.3 164.7h1.5M607.3 164.7h1.5M610.3 164.7h1.5M614.8 164.7h1.5M509.8 166.2h1.5M565.3 166.2h3M575.8 166.2h1.5M580.3 166.2h1.5M586.3 166.2h1.5M596.8 166.2h1.5M610.3 166.2h1.5M614.8 166.2h1.5M509.8 167.7h3M515.8 167.7h1.5M577.3 167.7h1.5M608.8 167.7h1.5M614.8 167.7h1.5M617.8 167.7h1.5M620.8 167.7h3M562.3 169.2h7.5M572.8 169.2h1.5M605.8 169.2h1.5M610.3 169.2h1.5M613.3 169.2h1.5M509.8 170.7h1.5M566.8 170.7h1.5M613.3 170.7h3M619.3 170.7h3M626.8 170.7h1.5M629.8 170.7h1.5M562.3 172.2h1.5M565.3 172.2h1.5M628.3 172.2h1.5M508.3 173.7h1.5M563.8 173.7h3M568.3 173.7h1.5M611.8 173.7h1.5M614.8 173.7h1.5M628.3 173.7h1.5M638.8 173.7h1.5M563.8 175.2h4.5M614.8 175.2h4.5M620.8 175.2h3M562.3 176.7h1.5M616.3 176.7h4.5M629.8 176.7h1.5M509.8 178.2h1.5M512.8 178.2h1.5M556.3 178.2h4.5M563.8 178.2h1.5M568.3 178.2h4.5M613.3 178.2h1.5M616.3 178.2h3M622.3 178.2h1.5M508.3 179.7h1.5M556.3 179.7h1.5M565.3 179.7h1.5M614.8 179.7h1.5M619.3 179.7h1.5M512.8 181.2h4.5M524.8 181.2h1.5M547.3 181.2h1.5M563.8 181.2h3M616.3 181.2h1.5M619.3 181.2h1.5M622.3 181.2h3M508.3 182.7h1.5M517.3 182.7h1.5M521.8 182.7h3M538.3 182.7h1.5M544.3 182.7h1.5M557.8 182.7h1.5M560.8 182.7h1.5M563.8 182.7h1.5M566.8 182.7h1.5M614.8 182.7h1.5M617.8 182.7h6M517.3 184.2h1.5M539.8 184.2h1.5M544.3 184.2h1.5M554.8 184.2h1.5M559.3 184.2h1.5M566.8 184.2h1.5M569.8 184.2h1.5M572.8 184.2h1.5M619.3 184.2h3M512.8 185.7h1.5M527.8 185.7h1.5M530.8 185.7h1.5M535.3 185.7h1.5M538.3 185.7h3M563.8 185.7h1.5M616.3 185.7h1.5M514.3 187.2h1.5M521.8 187.2h1.5M535.3 187.2h1.5M538.3 187.2h1.5M541.3 187.2h3M565.3 187.2h1.5M568.3 187.2h1.5M616.3 187.2h1.5M550.3 188.7h1.5M572.8 188.7h3M614.8 188.7h1.5M620.8 188.7h1.5M562.3 190.2h1.5M571.3 190.2h1.5M613.3 190.2h1.5M616.3 190.2h1.5M622.3 190.2h1.5M625.3 190.2h1.5M565.3 191.7h4.5M574.3 191.7h1.5M619.3 191.7h1.5M634.3 191.7h1.5M521.8 193.2h1.5M569.8 193.2h1.5M577.3 193.2h1.5M613.3 193.2h1.5M617.8 193.2h1.5M620.8 193.2h3M562.3 194.7h1.5M574.3 194.7h4.5M580.3 194.7h1.5M613.3 194.7h1.5" stroke="#1010ff" stroke-width="1.5" fill="none"/>
<path d="M506.8 134.7h1.5M533.8 134.7h1.5M521.8 136.2h1.5M526.3 136.2h1.5M511.3 137.7h1.5M520.3 137.7h3M524.8 137.7h1.5M527.8 137.7h1.5M533.8 137.7h3M547.3 137.7h1.5M508.3 139.2h1.5M512.8 139.2h3M520.3 139.2h1.5M523.3 139.2h7.5M542.8 139.2h1.5M545.8 139.2h1.5M548.8 139.2h1.5M509.8 140.7h4.5M517.3 140.7h6M527.8 140.7h1.5M530.8 140.7h4.5M536.8 140.7h1.5M544.3 140.7h1.5M547.3 140.7h3M553.3 140.7h1.5M506.8 142.2h3M511.3 142.2h3M517.3 142.2h1.5M530.8 142.2h1.5M533.8 142.2h19.5M557.8 142.2h1.5M506.8 143.7h9M536.8 143.7h10.5M548.8 143.7h3M553.3 143.7h1.5M506.8 145.2h6M539.8 145.2h13.5M571.3 145.2h1.5M506.8 146.7h4.5M542.8 146.7h9M553.3 146.7h3M506.8 148.2h4.5M544.3 148.2h7.5M565.3 148.2h1.5M569.8 148.2h1.5M577.3 148.2h1.5M581.8 148.2h1.5M506.8 149.7h3M545.8 149.7h7.5M554.8 149.7h1.5M569.8 149.7h1.5M572.8 149.7h1.5M506.8 151.2h3M544.3 151.2h1.5M547.3 151.2h7.5M556.3 151.2h1.5M562.3 151.2h1.5M569.8 151.2h1.5M572.8 151.2h1.5M578.8 151.2h3M616.3 151.2h1.5M506.8 152.7h3M542.8 152.7h1.5M545.8 152.7h7.5M554.8 152.7h1.5M563.8 152.7h3M569.8 152.7h1.5M574.3 152.7h3M580.3 152.7h1.5M598.3 152.7h1.5M626.8 152.7h1.5M506.8 154.2h3M511.3 154.2h1.5M544.3 154.2h10.5M566.8 154.2h1.5M571.3 154.2h3M575.8 154.2h1.5M578.8 154.2h1.5M583.3 154.2h1.5M586.3 154.2h1.5M605.8 154.2h1.5M506.8 155.7h7.5M541.3 155.7h13.5M557.8 155.7h1.5M565.3 155.7h1.5M568.3 155.7h1.5M571.3 155.7h4.5M577.3 155.7h1.5M583.3 155.7h3M587.8 155.7h1.5M607.3 155.7h1.5M610.3 155.7h1.5M509.8 157.2h6M538.3 157.2h16.5M566.8 157.2h1.5M583.3 157.2h1.5M587.8 157.2h1.5M590.8 157.2h1.5M607.3 157.2h1.5M506.8 158.7h3M511.3 158.7h6M518.8 158.7h6M526.3 158.7h3M530.8 158.7h10.5M542.8 158.7h6M553.3 158.7h1.5M556.3 158.7h1.5M562.3 158.7h3M571.3 158.7h1.5M601.3 158.7h1.5M604.3 158.7h6M620.8 158.7h1.5M517.3 160.2h1.5M520.3 160.2h1.5M524.8 160.2h1.5M527.8 160.2h1.5M530.8 160.2h3M535.3 160.2h15M551.8 160.2h3M572.8 160.2h1.5M578.8 160.2h3M593.8 160.2h1.5M602.8 160.2h3M607.3 160.2h1.5M610.3 160.2h1.5M629.8 160.2h1.5M515.8 161.7h6M524.8 161.7h1.5M530.8 161.7h3M535.3 161.7h9M545.8 161.7h6M554.8 161.7h1.5M569.8 161.7h3M574.3 161.7h4.5M584.8 161.7h1.5M587.8 161.7h1.5M595.3 161.7h1.5M599.8 161.7h3M605.8 161.7h1.5M511.3 163.2h1.5M523.3 163.2h1.5M533.8 163.2h1.5M536.8 163.2h12M550.3 163.2h3M557.8 163.2h1.5M587.8 163.2h4.5M596.8 163.2h1.5M601.3 163.2h1.5M604.3 163.2h4.5M611.8 163.2h3M518.8 164.7h9M532.3 164.7h1.5M538.3 164.7h4.5M544.3 164.7h15M586.3 164.7h12M599.8 164.7h7.5M613.3 164.7h1.5M514.3 166.2h1.5M520.3 166.2h4.5M550.3 166.2h7.5M568.3 166.2h3M577.3 166.2h3M581.8 166.2h3M587.8 166.2h7.5M601.3 166.2h9M613.3 166.2h1.5M514.3 167.7h1.5M517.3 167.7h1.5M520.3 167.7h3M553.3 167.7h3M560.8 167.7h1.5M571.3 167.7h1.5M578.8 167.7h13.5M602.8 167.7h6M506.8 169.2h1.5M511.3 169.2h7.5M556.3 169.2h3M560.8 169.2h1.5M569.8 169.2h1.5M574.3 169.2h1.5M578.8 169.2h1.5M581.8 169.2h9M607.3 169.2h3M611.8 169.2h1.5M614.8 169.2h3M514.3 170.7h1.5M557.8 170.7h3M562.3 170.7h1.5M574.3 170.7h15M610.3 170.7h3M616.3 170.7h1.5M508.3 172.2h7.5M560.8 172.2h1.5M566.8 172.2h1.5M569.8 172.2h15M586.3 172.2h1.5M610.3 172.2h4.5M619.3 172.2h1.5M631.3 172.2h1.5M511.3 173.7h4.5M557.8 173.7h1.5M562.3 173.7h1.5M566.8 173.7h1.5M571.3 173.7h1.5M574.3 173.7h12M613.3 173.7h1.5M616.3 173.7h4.5M629.8 173.7h1.5M508.3 175.2h6M556.3 175.2h1.5M559.3 175.2h1.5M562.3 175.2h1.5M568.3 175.2h16.5M613.3 175.2h1.5M623.8 175.2h1.5M506.8 176.7h1.5M509.8 176.7h1.5M512.8 176.7h1.5M559.3 176.7h1.5M568.3 176.7h18M611.8 176.7h1.5M614.8 176.7h1.5M506.8 178.2h3M511.3 178.2h1.5M572.8 178.2h10.5M611.8 178.2h1.5M614.8 178.2h1.5M512.8 179.7h1.5M515.8 179.7h3M521.8 179.7h3M550.3 179.7h3M559.3 179.7h1.5M568.3 179.7h1.5M571.3 179.7h12M613.3 179.7h1.5M617.8 179.7h1.5M511.3 181.2h1.5M517.3 181.2h1.5M520.3 181.2h1.5M523.3 181.2h1.5M526.3 181.2h3M545.8 181.2h1.5M548.8 181.2h1.5M551.8 181.2h1.5M566.8 181.2h3M571.3 181.2h12M613.3 181.2h3M515.8 182.7h1.5M524.8 182.7h9M535.3 182.7h3M539.8 182.7h3M545.8 182.7h1.5M554.8 182.7h1.5M565.3 182.7h1.5M568.3 182.7h12M581.8 182.7h1.5M613.3 182.7h1.5M530.8 184.2h1.5M557.8 184.2h1.5M563.8 184.2h1.5M571.3 184.2h1.5M574.3 184.2h9M613.3 184.2h3M521.8 185.7h1.5M566.8 185.7h18M613.3 185.7h1.5M562.3 187.2h1.5M566.8 187.2h1.5M569.8 187.2h1.5M574.3 187.2h10.5M613.3 187.2h1.5M619.3 187.2h1.5M563.8 188.7h1.5M566.8 188.7h6M575.8 188.7h9M611.8 188.7h3M563.8 190.2h1.5M566.8 190.2h4.5M574.3 190.2h12M610.3 190.2h3M614.8 190.2h1.5M571.3 191.7h1.5M575.8 191.7h10.5M610.3 191.7h7.5M566.8 193.2h3M571.3 193.2h1.5M575.8 193.2h1.5M578.8 193.2h7.5M614.8 193.2h1.5M523.3 194.7h1.5M565.3 194.7h1.5M571.3 194.7h1.5M578.8 194.7h1.5M581.8 194.7h6M592.3 194.7h1.5M611.8 194.7h1.5" stroke="#10c010" stroke-width="1.5" fill="none"/>
<path d="M523.3 140.7h4.5M529.3 140.7h1.5M518.8 142.2h12M532.3 142.2h1.5M515.8 143.7h21M512.8 145.2h27M511.3 146.7h13.5M529.3 146.7h13.5M511.3 148.2h10.5M532.3 148.2h12M509.8 149.7h10.5M533.8 149.7h12M509.8 151.2h12M533.8 151.2h10.5M545.8 151.2h1.5M509.8 152.7h15M530.8 152.7h12M544.3 152.7h1.5M509.8 154.2h1.5M512.8 154.2h31.5M514.3 155.7h27M515.8 157.2h22.5M524.8 158.7h1.5M529.3 158.7h1.5M548.8 163.2h1.5M527.8 164.7h1.5M530.8 164.7h1.5M533.8 164.7h4.5M598.3 164.7h1.5M524.8 166.2h24M595.3 166.2h1.5M598.3 166.2h3M523.3 167.7h30M592.3 167.7h10.5M518.8 169.2h15M545.8 169.2h10.5M590.8 169.2h15M515.8 170.7h1.5M529.3 170.7h1.5M553.3 170.7h4.5M589.3 170.7h21M553.3 172.2h7.5M584.8 172.2h1.5M587.8 172.2h22.5M554.8 173.7h3M586.3 173.7h25.5M514.3 175.2h12M553.3 175.2h3M557.8 175.2h1.5M584.8 175.2h28.5M514.3 176.7h15M553.3 176.7h4.5M586.3 176.7h25.5M514.3 178.2h18M550.3 178.2h4.5M583.3 178.2h28.5M518.8 179.7h3M524.8 179.7h25.5M553.3 179.7h1.5M583.3 179.7h15M602.8 179.7h10.5M529.3 181.2h15M583.3 181.2h15M604.3 181.2h9M533.8 182.7h1.5M580.3 182.7h1.5M583.3 182.7h16.5M602.8 182.7h10.5M583.3 184.2h30M584.8 185.7h28.5M584.8 187.2h28.5M584.8 188.7h27M586.3 190.2h24M586.3 191.7h24M586.3 193.2h24M587.8 194.7h4.5M593.8 194.7h15" stroke="#ffff00" stroke-width="1.5" fill="none"/>
<path d="M524.8 146.7h4.5M521.8 148.2h10.5M520.3 149.7h13.5M521.8 151.2h12M524.8 152.7h6M533.8 169.2h12M517.3 170.7h12M530.8 170.7h22.5M515.8 172.2h37.5M515.8 173.7h39M526.3 175.2h27M529.3 176.7h24M532.3 178.2h18M598.3 179.7h4.5M598.3 181.2h6M599.8 182.7h3" stroke="#ff1010" stroke-width="1.5" fill="none"/>
<path d="M528 123.9h1.8M604 92.9h1.8M585 127.9h1.8M603 127.9h1.8M619 167.9h1.8M623 167.9h1.8M633 173.9h1.8M639 180.9h1.8M644 181.9h1.8M650 177.9h1.8M635 188.9h1.8M658 180.9h1.8M658 188.9h1.8" stroke="#1010ff" stroke-width="1.8" fill="none"/>
<rect x="506" y="50.6" width="153.70000000000005" height="146.4" fill="none" stroke="#444" stroke-width="1"/>
<line x1="558.6" y1="50.6" x2="558.6" y2="197" stroke="#111" stroke-width="1.4"/>
<line x1="506" y1="161.5" x2="659.7" y2="161.5" stroke="#111" stroke-width="1.6"/>
<path d="M502 50.6h4M503.5 76.2h2.5M503.5 69.7h2.5M503.5 65.2h2.5M503.5 61.6h2.5M503.5 58.7h2.5M503.5 56.3h2.5M503.5 54.1h2.5M503.5 52.3h2.5M502 87.2h4M503.5 112.8h2.5M503.5 106.3h2.5M503.5 101.8h2.5M503.5 98.2h2.5M503.5 95.3h2.5M503.5 92.9h2.5M503.5 90.7h2.5M503.5 88.9h2.5M502 123.8h4M503.5 149.4h2.5M503.5 142.9h2.5M503.5 138.4h2.5M503.5 134.8h2.5M503.5 131.9h2.5M503.5 129.5h2.5M503.5 127.3h2.5M503.5 125.5h2.5M502 160.4h4M503.5 186.0h2.5M503.5 179.5h2.5M503.5 175.0h2.5M503.5 171.4h2.5M503.5 168.5h2.5M503.5 166.1h2.5M503.5 163.9h2.5M503.5 162.1h2.5M544.4 197v4M517.6 197v2.5M524.3 197v2.5M529.1 197v2.5M532.9 197v2.5M535.9 197v2.5M538.5 197v2.5M540.7 197v2.5M542.7 197v2.5M582.9 197v4M556.0 197v2.5M562.8 197v2.5M567.6 197v2.5M571.3 197v2.5M574.3 197v2.5M576.9 197v2.5M579.1 197v2.5M581.1 197v2.5M621.3 197v4M594.4 197v2.5M601.2 197v2.5M606.0 197v2.5M609.7 197v2.5M612.8 197v2.5M615.3 197v2.5M617.6 197v2.5M619.5 197v2.5M659.7 197v4M632.8 197v2.5M639.6 197v2.5M644.4 197v2.5M648.1 197v2.5M651.2 197v2.5M653.7 197v2.5M656.0 197v2.5M657.9 197v2.5" stroke="#333" stroke-width="0.8" fill="none"/>
<text x="499" y="53.1" font-family="'Liberation Sans', sans-serif" font-size="7.3" font-weight="bold" text-anchor="end">10<tspan font-size="4.4" dy="-3.1">3</tspan></text>
<text x="499" y="89.7" font-family="'Liberation Sans', sans-serif" font-size="7.3" font-weight="bold" text-anchor="end">10<tspan font-size="4.4" dy="-3.1">2</tspan></text>
<text x="499" y="126.30000000000001" font-family="'Liberation Sans', sans-serif" font-size="7.3" font-weight="bold" text-anchor="end">10<tspan font-size="4.4" dy="-3.1">1</tspan></text>
<text x="499" y="162.9" font-family="'Liberation Sans', sans-serif" font-size="7.3" font-weight="bold" text-anchor="end">10<tspan font-size="4.4" dy="-3.1">0</tspan></text>
<text x="546.425" y="209.5" font-family="'Liberation Sans', sans-serif" font-size="7.3" font-weight="bold" text-anchor="middle">10<tspan font-size="4.4" dy="-3.1">0</tspan></text>
<text x="584.85" y="209.5" font-family="'Liberation Sans', sans-serif" font-size="7.3" font-weight="bold" text-anchor="middle">10<tspan font-size="4.4" dy="-3.1">1</tspan></text>
<text x="623.2750000000001" y="209.5" font-family="'Liberation Sans', sans-serif" font-size="7.3" font-weight="bold" text-anchor="middle">10<tspan font-size="4.4" dy="-3.1">2</tspan></text>
<text x="659.7" y="209.5" font-family="'Liberation Sans', sans-serif" font-size="7.3" font-weight="bold" text-anchor="end">10<tspan font-size="4.4" dy="-3.1">3</tspan></text>
<rect x="506.5" y="162.5" width="11" height="9.5" fill="#fff"/>
<rect x="507" y="172.5" width="25" height="10" fill="#fff"/>
<rect x="559.1" y="162.5" width="11" height="9.5" fill="#fff"/>
<rect x="559.6" y="172.5" width="25" height="10" fill="#fff"/>
<text x="507" y="60.6" font-family="'Liberation Sans', sans-serif" font-size="8" font-weight="bold" fill="#000" text-anchor="start">G1</text>
<text x="508.5" y="71.1" font-family="'Liberation Sans', sans-serif" font-size="7.5" font-weight="bold" fill="#000" text-anchor="start">15.8%</text>
<text x="559.6" y="60.6" font-family="'Liberation Sans', sans-serif" font-size="7.5" font-weight="bold" fill="#000" text-anchor="start"></text>
<text x="506.3" y="171.0" font-family="'Liberation Sans', sans-serif" font-size="8.5" font-weight="bold" fill="#000" text-anchor="start">G3</text>
<text x="507.5" y="181.5" font-family="'Liberation Sans', sans-serif" font-size="8" font-weight="bold" fill="#000" text-anchor="start">60.9%</text>
<text x="558.9" y="171.0" font-family="'Liberation Sans', sans-serif" font-size="8.5" font-weight="bold" fill="#000" text-anchor="start">G4</text>
<text x="560.1" y="181.5" font-family="'Liberation Sans', sans-serif" font-size="8" font-weight="bold" fill="#000" text-anchor="start">22.0%</text>
<text x="607.2" y="68.5" font-family="'Liberation Sans', sans-serif" font-size="13.8" font-weight="bold" fill="#ff0808" text-anchor="middle">1.167 ± 0.03</text>
<text x="609" y="85" font-family="'Liberation Sans', sans-serif" font-size="13.8" font-weight="bold" fill="#ff0808" text-anchor="middle">N=5</text>
<path d="M715.2 122.7h1.5M700.2 130.2h1.5M734.7 130.2h1.5M710.7 131.7h3M764.7 131.7h1.5M767.7 131.7h1.5M770.7 131.7h3M700.2 133.2h1.5M704.7 133.2h1.5M709.2 133.2h1.5M719.7 133.2h1.5M722.7 133.2h1.5M731.7 133.2h1.5M755.7 133.2h1.5M758.7 133.2h1.5M781.2 133.2h3M700.2 134.7h1.5M703.2 134.7h1.5M712.2 134.7h1.5M716.7 134.7h1.5M766.2 134.7h4.5M776.7 134.7h1.5M779.7 134.7h3M793.2 134.7h1.5M701.7 136.2h1.5M706.2 136.2h4.5M713.7 136.2h1.5M724.2 136.2h1.5M727.2 136.2h1.5M733.2 136.2h1.5M746.7 136.2h1.5M751.2 136.2h1.5M764.7 136.2h1.5M769.2 136.2h1.5M779.7 136.2h1.5M782.7 136.2h1.5M793.2 136.2h1.5M796.2 136.2h1.5M697.2 137.7h1.5M701.7 137.7h1.5M707.7 137.7h1.5M712.2 137.7h1.5M716.7 137.7h3M721.2 137.7h1.5M724.2 137.7h1.5M746.7 137.7h1.5M755.7 137.7h1.5M758.7 137.7h3M763.2 137.7h3M767.7 137.7h1.5M772.2 137.7h1.5M779.7 137.7h4.5M691.2 139.2h1.5M694.2 139.2h1.5M704.7 139.2h1.5M713.7 139.2h1.5M727.2 139.2h1.5M731.7 139.2h1.5M734.7 139.2h1.5M743.7 139.2h1.5M751.2 139.2h1.5M758.7 139.2h6M766.2 139.2h7.5M778.2 139.2h3M784.2 139.2h1.5M787.2 139.2h1.5M793.2 139.2h6M697.2 140.7h1.5M725.7 140.7h1.5M733.2 140.7h1.5M739.2 140.7h4.5M745.2 140.7h1.5M752.7 140.7h1.5M755.7 140.7h3M764.7 140.7h3M770.7 140.7h1.5M778.2 140.7h1.5M781.2 140.7h1.5M785.7 140.7h3M692.7 142.2h1.5M739.2 142.2h1.5M742.2 142.2h1.5M745.2 142.2h1.5M754.2 142.2h1.5M757.2 142.2h3M764.7 142.2h1.5M767.7 142.2h1.5M770.7 142.2h1.5M775.2 142.2h1.5M778.2 142.2h1.5M784.2 142.2h4.5M791.7 142.2h1.5M797.7 142.2h1.5M811.2 142.2h1.5M733.2 143.7h1.5M736.2 143.7h1.5M743.7 143.7h1.5M748.2 143.7h1.5M751.2 143.7h1.5M760.2 143.7h9M775.2 143.7h1.5M779.7 143.7h1.5M784.2 143.7h10.5M796.2 143.7h1.5M691.2 145.2h3M734.7 145.2h1.5M742.2 145.2h3M755.7 145.2h4.5M761.7 145.2h9M772.2 145.2h6M779.7 145.2h4.5M785.7 145.2h1.5M788.7 145.2h1.5M791.7 145.2h1.5M794.7 145.2h4.5M692.7 146.7h1.5M749.7 146.7h3M754.2 146.7h1.5M757.2 146.7h3M761.7 146.7h4.5M767.7 146.7h1.5M770.7 146.7h15M790.2 146.7h3M794.7 146.7h1.5M739.2 148.2h3M743.7 148.2h3M749.7 148.2h3M754.2 148.2h6M761.7 148.2h3M766.2 148.2h4.5M773.7 148.2h1.5M776.7 148.2h1.5M779.7 148.2h4.5M790.2 148.2h1.5M736.2 149.7h3M746.7 149.7h4.5M754.2 149.7h1.5M758.7 149.7h1.5M763.2 149.7h3M767.7 149.7h3M772.2 149.7h3M781.2 149.7h1.5M784.2 149.7h4.5M793.2 149.7h1.5M796.2 149.7h1.5M799.2 149.7h1.5M806.7 149.7h1.5M692.7 151.2h3M736.2 151.2h1.5M739.2 151.2h3M748.2 151.2h1.5M751.2 151.2h6M758.7 151.2h1.5M769.2 151.2h1.5M772.2 151.2h1.5M775.2 151.2h9M791.7 151.2h4.5M803.7 151.2h1.5M736.2 152.7h3M745.2 152.7h1.5M752.7 152.7h1.5M755.7 152.7h1.5M760.2 152.7h1.5M763.2 152.7h3M767.7 152.7h1.5M779.7 152.7h4.5M787.2 152.7h7.5M799.2 152.7h3M697.2 154.2h1.5M734.7 154.2h3M745.2 154.2h4.5M754.2 154.2h1.5M758.7 154.2h3M764.7 154.2h6M773.7 154.2h6M787.2 154.2h1.5M790.2 154.2h1.5M797.7 154.2h1.5M691.2 155.7h3M698.7 155.7h1.5M721.2 155.7h1.5M733.2 155.7h3M745.2 155.7h9M758.7 155.7h1.5M763.2 155.7h4.5M770.7 155.7h1.5M773.7 155.7h1.5M778.2 155.7h1.5M782.7 155.7h4.5M788.7 155.7h6M802.2 155.7h1.5M817.2 155.7h1.5M692.7 157.2h1.5M721.2 157.2h3M725.7 157.2h1.5M734.7 157.2h1.5M739.2 157.2h1.5M746.7 157.2h1.5M749.7 157.2h3M758.7 157.2h6M769.2 157.2h1.5M773.7 157.2h1.5M776.7 157.2h3M782.7 157.2h3M788.7 157.2h1.5M794.7 157.2h1.5M805.2 157.2h1.5M700.2 158.7h1.5M706.2 158.7h3M712.2 158.7h1.5M715.2 158.7h10.5M727.2 158.7h1.5M730.2 158.7h1.5M748.2 158.7h1.5M754.2 158.7h3M760.2 158.7h1.5M764.7 158.7h4.5M778.2 158.7h1.5M784.2 158.7h1.5M787.2 158.7h1.5M791.7 158.7h3M797.7 158.7h1.5M802.2 158.7h1.5M707.7 160.2h1.5M713.7 160.2h1.5M718.2 160.2h4.5M737.7 160.2h1.5M749.7 160.2h1.5M754.2 160.2h1.5M761.7 160.2h1.5M766.2 160.2h1.5M770.7 160.2h4.5M778.2 160.2h3M782.7 160.2h3M788.7 160.2h1.5M700.2 161.7h1.5M706.2 161.7h1.5M712.2 161.7h1.5M718.2 161.7h1.5M724.2 161.7h1.5M734.7 161.7h1.5M737.7 161.7h1.5M746.7 161.7h3M751.2 161.7h1.5M754.2 161.7h1.5M760.2 161.7h1.5M767.7 161.7h1.5M784.2 161.7h1.5M788.7 161.7h1.5M793.2 161.7h1.5M797.7 161.7h3M802.2 161.7h3M692.7 163.2h1.5M701.7 163.2h1.5M704.7 163.2h1.5M712.2 163.2h1.5M728.7 163.2h1.5M733.2 163.2h1.5M758.7 163.2h1.5M767.7 163.2h1.5M770.7 163.2h1.5M793.2 163.2h6M691.2 164.7h1.5M695.7 164.7h3M701.7 164.7h1.5M745.2 164.7h1.5M748.2 164.7h1.5M760.2 164.7h1.5M764.7 164.7h1.5M772.2 164.7h1.5M799.2 164.7h1.5M802.2 164.7h3M745.2 166.2h3M751.2 166.2h1.5M755.7 166.2h3M761.7 166.2h3M802.2 166.2h1.5M805.2 166.2h1.5M694.2 167.7h3M743.7 167.7h1.5M746.7 167.7h1.5M760.2 167.7h3M797.7 167.7h4.5M805.2 167.7h1.5M815.7 167.7h1.5M694.2 169.2h1.5M697.2 169.2h1.5M745.2 169.2h1.5M748.2 169.2h1.5M751.2 169.2h3M755.7 169.2h1.5M797.7 169.2h1.5M806.7 169.2h1.5M809.7 169.2h1.5M814.2 169.2h1.5M698.7 170.7h1.5M745.2 170.7h1.5M761.7 170.7h1.5M800.7 170.7h1.5M809.7 170.7h1.5M745.2 172.2h1.5M754.2 172.2h1.5M760.2 172.2h1.5M803.7 172.2h1.5M697.2 173.7h1.5M745.2 173.7h1.5M754.2 173.7h1.5M757.2 173.7h1.5M808.2 173.7h1.5M700.2 175.2h1.5M703.2 175.2h1.5M805.2 175.2h3M809.7 175.2h1.5M817.2 175.2h1.5M820.2 175.2h1.5M691.2 176.7h1.5M695.7 176.7h1.5M701.7 176.7h3M742.2 176.7h1.5M748.2 176.7h1.5M754.2 176.7h1.5M799.2 176.7h1.5M803.7 176.7h6M698.7 178.2h1.5M703.2 178.2h1.5M706.2 178.2h1.5M740.7 178.2h3M751.2 178.2h1.5M754.2 178.2h3M802.2 178.2h1.5M701.7 179.7h1.5M706.2 179.7h1.5M736.2 179.7h1.5M739.2 179.7h1.5M754.2 179.7h1.5M802.2 179.7h1.5M806.7 179.7h1.5M700.2 181.2h1.5M707.7 181.2h1.5M713.7 181.2h1.5M731.7 181.2h1.5M734.7 181.2h1.5M739.2 181.2h1.5M757.2 181.2h3M800.7 181.2h1.5M805.2 181.2h1.5M704.7 182.7h1.5M712.2 182.7h1.5M716.7 182.7h4.5M727.2 182.7h1.5M733.2 182.7h1.5M742.2 182.7h1.5M748.2 182.7h1.5M755.7 182.7h1.5M803.7 182.7h1.5M808.2 182.7h1.5M725.7 184.2h1.5M749.7 184.2h1.5M755.7 184.2h1.5M799.2 184.2h1.5M806.7 184.2h1.5M712.2 185.7h1.5M748.2 185.7h1.5M751.2 185.7h3M799.2 185.7h3M803.7 185.7h1.5M730.2 187.2h1.5M748.2 187.2h1.5M796.2 187.2h4.5M713.7 188.7h3M718.2 188.7h1.5M755.7 188.7h1.5M796.2 188.7h1.5M803.7 188.7h1.5M754.2 190.2h3M797.7 190.2h1.5M745.2 191.7h1.5M763.2 191.7h1.5M797.7 191.7h1.5M800.7 191.7h1.5" stroke="#1010ff" stroke-width="1.5" fill="none"/>
<path d="M731.7 134.7h1.5M736.2 134.7h1.5M710.7 136.2h1.5M716.7 136.2h1.5M728.7 136.2h1.5M700.2 137.7h1.5M704.7 137.7h3M709.2 137.7h3M719.7 137.7h1.5M722.7 137.7h1.5M727.2 137.7h1.5M737.7 137.7h1.5M697.2 139.2h3M701.7 139.2h3M706.2 139.2h7.5M715.2 139.2h12M695.7 140.7h1.5M698.7 140.7h13.5M715.2 140.7h1.5M718.2 140.7h7.5M727.2 140.7h1.5M730.2 140.7h3M694.2 142.2h4.5M721.2 142.2h12M734.7 142.2h3M691.2 143.7h1.5M725.7 143.7h7.5M734.7 143.7h1.5M737.7 143.7h1.5M740.7 143.7h1.5M745.2 143.7h1.5M782.7 143.7h1.5M727.2 145.2h7.5M736.2 145.2h3M691.2 146.7h1.5M727.2 146.7h10.5M740.7 146.7h1.5M743.7 146.7h1.5M692.7 148.2h1.5M727.2 148.2h12M752.7 148.2h1.5M778.2 148.2h1.5M784.2 148.2h1.5M691.2 149.7h6M728.7 149.7h7.5M743.7 149.7h1.5M751.2 149.7h3M760.2 149.7h1.5M776.7 149.7h3M790.2 149.7h1.5M802.2 149.7h1.5M691.2 151.2h1.5M695.7 151.2h1.5M728.7 151.2h6M743.7 151.2h1.5M749.7 151.2h1.5M757.2 151.2h1.5M760.2 151.2h3M764.7 151.2h3M691.2 152.7h7.5M725.7 152.7h10.5M757.2 152.7h3M761.7 152.7h1.5M766.2 152.7h1.5M773.7 152.7h1.5M778.2 152.7h1.5M691.2 154.2h6M698.7 154.2h1.5M721.2 154.2h3M725.7 154.2h9M737.7 154.2h1.5M742.2 154.2h1.5M751.2 154.2h1.5M755.7 154.2h1.5M770.7 154.2h1.5M694.2 155.7h4.5M700.2 155.7h4.5M716.7 155.7h4.5M722.7 155.7h10.5M736.2 155.7h1.5M742.2 155.7h3M754.2 155.7h1.5M760.2 155.7h1.5M769.2 155.7h1.5M796.2 155.7h1.5M694.2 157.2h3M698.7 157.2h6M706.2 157.2h3M710.7 157.2h10.5M724.2 157.2h1.5M727.2 157.2h4.5M733.2 157.2h1.5M737.7 157.2h1.5M742.2 157.2h1.5M748.2 157.2h1.5M752.7 157.2h1.5M755.7 157.2h3M781.2 157.2h1.5M799.2 157.2h1.5M701.7 158.7h1.5M709.2 158.7h3M713.7 158.7h1.5M725.7 158.7h1.5M728.7 158.7h1.5M731.7 158.7h4.5M737.7 158.7h4.5M746.7 158.7h1.5M763.2 158.7h1.5M769.2 158.7h1.5M782.7 158.7h1.5M785.7 158.7h1.5M794.7 158.7h1.5M701.7 160.2h3M706.2 160.2h1.5M709.2 160.2h4.5M722.7 160.2h3M727.2 160.2h3M731.7 160.2h1.5M734.7 160.2h1.5M739.2 160.2h4.5M746.7 160.2h1.5M757.2 160.2h1.5M760.2 160.2h1.5M767.7 160.2h3M775.2 160.2h1.5M785.7 160.2h3M794.7 160.2h1.5M799.2 160.2h1.5M802.2 160.2h1.5M692.7 161.7h4.5M701.7 161.7h1.5M707.7 161.7h1.5M730.2 161.7h4.5M736.2 161.7h1.5M740.7 161.7h1.5M743.7 161.7h1.5M761.7 161.7h1.5M769.2 161.7h3M773.7 161.7h1.5M776.7 161.7h6M785.7 161.7h3M790.2 161.7h3M796.2 161.7h1.5M691.2 163.2h1.5M700.2 163.2h1.5M703.2 163.2h1.5M706.2 163.2h1.5M731.7 163.2h1.5M734.7 163.2h4.5M740.7 163.2h3M746.7 163.2h1.5M760.2 163.2h1.5M764.7 163.2h3M772.2 163.2h6M779.7 163.2h1.5M787.2 163.2h1.5M790.2 163.2h3M799.2 163.2h3M703.2 164.7h1.5M706.2 164.7h1.5M709.2 164.7h1.5M737.7 164.7h1.5M761.7 164.7h1.5M766.2 164.7h6M773.7 164.7h4.5M791.7 164.7h3M796.2 164.7h1.5M800.7 164.7h1.5M695.7 166.2h1.5M700.2 166.2h3M704.7 166.2h3M764.7 166.2h12M793.2 166.2h9M697.2 167.7h1.5M700.2 167.7h4.5M752.7 167.7h1.5M763.2 167.7h4.5M769.2 167.7h9M794.7 167.7h3M695.7 169.2h1.5M698.7 169.2h3M742.2 169.2h3M761.7 169.2h13.5M799.2 169.2h3M808.2 169.2h1.5M811.2 169.2h1.5M701.7 170.7h1.5M752.7 170.7h1.5M763.2 170.7h12M797.7 170.7h3M814.2 170.7h1.5M695.7 172.2h1.5M698.7 172.2h4.5M755.7 172.2h1.5M758.7 172.2h1.5M761.7 172.2h12M799.2 172.2h3M806.7 172.2h3M811.2 172.2h1.5M695.7 173.7h1.5M698.7 173.7h6M748.2 173.7h3M760.2 173.7h15M799.2 173.7h1.5M802.2 173.7h1.5M697.2 175.2h3M701.7 175.2h1.5M704.7 175.2h1.5M754.2 175.2h1.5M760.2 175.2h15M799.2 175.2h3M803.7 175.2h1.5M697.2 176.7h1.5M704.7 176.7h3M751.2 176.7h1.5M760.2 176.7h16.5M800.7 176.7h3M701.7 178.2h1.5M704.7 178.2h1.5M707.7 178.2h3M757.2 178.2h1.5M760.2 178.2h16.5M799.2 178.2h1.5M700.2 179.7h1.5M704.7 179.7h1.5M715.2 179.7h3M719.7 179.7h1.5M722.7 179.7h1.5M725.7 179.7h1.5M728.7 179.7h4.5M734.7 179.7h1.5M751.2 179.7h3M755.7 179.7h21M797.7 179.7h4.5M701.7 181.2h3M706.2 181.2h1.5M710.7 181.2h1.5M716.7 181.2h1.5M719.7 181.2h4.5M727.2 181.2h1.5M730.2 181.2h1.5M733.2 181.2h1.5M737.7 181.2h1.5M751.2 181.2h3M761.7 181.2h16.5M803.7 181.2h1.5M709.2 182.7h1.5M721.2 182.7h1.5M725.7 182.7h1.5M728.7 182.7h1.5M737.7 182.7h3M751.2 182.7h4.5M758.7 182.7h19.5M797.7 182.7h3M701.7 184.2h1.5M706.2 184.2h1.5M712.2 184.2h1.5M719.7 184.2h1.5M730.2 184.2h3M745.2 184.2h1.5M751.2 184.2h1.5M754.2 184.2h1.5M757.2 184.2h21M718.2 185.7h1.5M730.2 185.7h1.5M754.2 185.7h1.5M760.2 185.7h18M725.7 187.2h1.5M754.2 187.2h9M764.7 187.2h13.5M754.2 188.7h1.5M758.7 188.7h19.5M745.2 190.2h1.5M751.2 190.2h3M757.2 190.2h22.5M796.2 190.2h1.5M748.2 191.7h3M764.7 191.7h4.5M770.7 191.7h9" stroke="#10c010" stroke-width="1.5" fill="none"/>
<path d="M712.2 140.7h3M716.7 140.7h1.5M698.7 142.2h22.5M695.7 143.7h30M694.2 145.2h33M694.2 146.7h15M716.7 146.7h10.5M694.2 148.2h13.5M718.2 148.2h9M697.2 149.7h12M718.2 149.7h10.5M697.2 151.2h15M715.2 151.2h13.5M698.7 152.7h27M700.2 154.2h21M724.2 154.2h1.5M704.7 155.7h12M704.7 157.2h1.5M709.2 157.2h1.5M721.2 161.7h3M725.7 161.7h1.5M782.7 161.7h1.5M709.2 163.2h1.5M713.7 163.2h1.5M716.7 163.2h12M778.2 163.2h1.5M781.2 163.2h6M704.7 164.7h1.5M707.7 164.7h1.5M710.7 164.7h27M778.2 164.7h13.5M703.2 166.2h1.5M707.7 166.2h34.5M776.7 166.2h16.5M704.7 167.7h18M730.2 167.7h10.5M778.2 167.7h16.5M701.7 169.2h6M737.7 169.2h4.5M775.2 169.2h22.5M703.2 170.7h3M740.7 170.7h3M775.2 170.7h22.5M703.2 172.2h3M740.7 172.2h4.5M773.7 172.2h25.5M704.7 173.7h6M716.7 173.7h1.5M739.2 173.7h6M775.2 173.7h24M706.2 175.2h12M739.2 175.2h6M775.2 175.2h24M707.7 176.7h15M734.7 176.7h7.5M776.7 176.7h22.5M710.7 178.2h18M730.2 178.2h9M776.7 178.2h22.5M718.2 179.7h1.5M721.2 179.7h1.5M727.2 179.7h1.5M776.7 179.7h21M778.2 181.2h21M778.2 182.7h19.5M778.2 184.2h19.5M778.2 185.7h19.5M778.2 187.2h18M778.2 188.7h18M779.7 190.2h16.5M779.7 191.7h18" stroke="#ffff00" stroke-width="1.5" fill="none"/>
<path d="M709.2 146.7h7.5M707.7 148.2h10.5M709.2 149.7h9M712.2 151.2h3M722.7 167.7h7.5M707.7 169.2h30M706.2 170.7h34.5M706.2 172.2h34.5M710.7 173.7h6M718.2 173.7h21M718.2 175.2h21M722.7 176.7h12M728.7 178.2h1.5" stroke="#ff1010" stroke-width="1.5" fill="none"/>
<path d="M772 102.9h1.8M765 113.9h1.8M808 116.9h1.8M802 135.9h1.8M783 132.9h1.8M737 126.9h1.8M715 130.9h1.8M841 162.9h1.8M817 169.9h1.8M812 165.9h1.8M830 179.9h1.8M838 181.9h1.8M844 171.9h1.8M844 179.9h1.8M811 182.9h1.8M784 96.9h1.8M796 94.9h1.8" stroke="#1010ff" stroke-width="1.8" fill="none"/>
<rect x="690.4" y="50.6" width="156.30000000000007" height="144.0" fill="none" stroke="#444" stroke-width="1"/>
<line x1="743.6" y1="50.6" x2="743.6" y2="194.6" stroke="#111" stroke-width="1.4"/>
<line x1="690.4" y1="159" x2="846.7" y2="159" stroke="#111" stroke-width="1.6"/>
<path d="M686.4 50.6h4M687.9 75.8h2.5M687.9 69.4h2.5M687.9 64.9h2.5M687.9 61.4h2.5M687.9 58.6h2.5M687.9 56.2h2.5M687.9 54.1h2.5M687.9 52.2h2.5M686.4 86.6h4M687.9 111.8h2.5M687.9 105.4h2.5M687.9 100.9h2.5M687.9 97.4h2.5M687.9 94.6h2.5M687.9 92.2h2.5M687.9 90.1h2.5M687.9 88.2h2.5M686.4 122.6h4M687.9 147.8h2.5M687.9 141.4h2.5M687.9 136.9h2.5M687.9 133.4h2.5M687.9 130.6h2.5M687.9 128.2h2.5M687.9 126.1h2.5M687.9 124.2h2.5M686.4 158.6h4M687.9 183.8h2.5M687.9 177.4h2.5M687.9 172.9h2.5M687.9 169.4h2.5M687.9 166.6h2.5M687.9 164.2h2.5M687.9 162.1h2.5M687.9 160.2h2.5M729.5 194.6v4M702.2 194.6v2.5M709.0 194.6v2.5M713.9 194.6v2.5M717.7 194.6v2.5M720.8 194.6v2.5M723.4 194.6v2.5M725.7 194.6v2.5M727.7 194.6v2.5M768.5 194.6v4M741.2 194.6v2.5M748.1 194.6v2.5M753.0 194.6v2.5M756.8 194.6v2.5M759.9 194.6v2.5M762.5 194.6v2.5M764.8 194.6v2.5M766.8 194.6v2.5M807.6 194.6v4M780.3 194.6v2.5M787.2 194.6v2.5M792.1 194.6v2.5M795.9 194.6v2.5M799.0 194.6v2.5M801.6 194.6v2.5M803.8 194.6v2.5M805.8 194.6v2.5M846.7 194.6v4M819.4 194.6v2.5M826.3 194.6v2.5M831.2 194.6v2.5M834.9 194.6v2.5M838.0 194.6v2.5M840.6 194.6v2.5M842.9 194.6v2.5M844.9 194.6v2.5" stroke="#333" stroke-width="0.8" fill="none"/>
<text x="683.4" y="53.1" font-family="'Liberation Sans', sans-serif" font-size="7.3" font-weight="bold" text-anchor="end">0<tspan font-size="4.4" dy="-3.1">3</tspan></text>
<text x="683.4" y="89.1" font-family="'Liberation Sans', sans-serif" font-size="7.3" font-weight="bold" text-anchor="end">0<tspan font-size="4.4" dy="-3.1">2</tspan></text>
<text x="683.4" y="125.1" font-family="'Liberation Sans', sans-serif" font-size="7.3" font-weight="bold" text-anchor="end">0<tspan font-size="4.4" dy="-3.1">1</tspan></text>
<text x="683.4" y="161.1" font-family="'Liberation Sans', sans-serif" font-size="7.3" font-weight="bold" text-anchor="end">0<tspan font-size="4.4" dy="-3.1">0</tspan></text>
<text x="731.475" y="207.1" font-family="'Liberation Sans', sans-serif" font-size="7.3" font-weight="bold" text-anchor="middle">10<tspan font-size="4.4" dy="-3.1">0</tspan></text>
<text x="770.55" y="207.1" font-family="'Liberation Sans', sans-serif" font-size="7.3" font-weight="bold" text-anchor="middle">10<tspan font-size="4.4" dy="-3.1">1</tspan></text>
<text x="809.625" y="207.1" font-family="'Liberation Sans', sans-serif" font-size="7.3" font-weight="bold" text-anchor="middle">10<tspan font-size="4.4" dy="-3.1">2</tspan></text>
<text x="846.7" y="207.1" font-family="'Liberation Sans', sans-serif" font-size="7.3" font-weight="bold" text-anchor="end">10<tspan font-size="4.4" dy="-3.1">3</tspan></text>
<rect x="690.9" y="160" width="11" height="9.5" fill="#fff"/>
<rect x="691.4" y="170" width="25" height="10" fill="#fff"/>
<rect x="744.1" y="160" width="11" height="9.5" fill="#fff"/>
<rect x="744.6" y="170" width="25" height="10" fill="#fff"/>
<text x="691.4" y="60.6" font-family="'Liberation Sans', sans-serif" font-size="8" font-weight="bold" fill="#000" text-anchor="start">G1</text>
<text x="692.9" y="71.1" font-family="'Liberation Sans', sans-serif" font-size="7.5" font-weight="bold" fill="#000" text-anchor="start">14.5%</text>
<text x="744.6" y="60.6" font-family="'Liberation Sans', sans-serif" font-size="7.5" font-weight="bold" fill="#000" text-anchor="start">G</text>
<text x="690.6999999999999" y="168.5" font-family="'Liberation Sans', sans-serif" font-size="8.5" font-weight="bold" fill="#000" text-anchor="start">G3</text>
<text x="691.9" y="179" font-family="'Liberation Sans', sans-serif" font-size="8" font-weight="bold" fill="#000" text-anchor="start">67.1%</text>
<text x="743.9" y="168.5" font-family="'Liberation Sans', sans-serif" font-size="8.5" font-weight="bold" fill="#000" text-anchor="start">G4</text>
<text x="745.1" y="179" font-family="'Liberation Sans', sans-serif" font-size="8" font-weight="bold" fill="#000" text-anchor="start">17.5%</text>
<text x="792.5" y="69" font-family="'Liberation Sans', sans-serif" font-size="13.8" font-weight="bold" fill="#ff0808" text-anchor="middle">0.56 ± 0.03</text>
<text x="794.5" y="85.5" font-family="'Liberation Sans', sans-serif" font-size="13.8" font-weight="bold" fill="#ff0808" text-anchor="middle">N=5</text>
<text x="772" y="224" font-family="'Liberation Sans', sans-serif" font-size="7" font-weight="bold" fill="#000" text-anchor="middle">I Log</text>
<text x="465.5" y="89.5" font-family="'Liberation Sans', sans-serif" font-size="16" font-weight="bold" fill="#000" text-anchor="middle" transform="rotate(-90 465.5 89.5)">IL-4</text>
<line x1="461.6" y1="181" x2="461.6" y2="120.5" stroke="#000" stroke-width="2"/>
<path d="M466.6 128.5 L461.6 119.5 L456.6 128.5" fill="none" stroke="#000" stroke-width="2.3" stroke-linejoin="miter" stroke-miterlimit="10"/>
<text x="479" y="241.6" font-family="'Liberation Sans', sans-serif" font-size="16.8" font-weight="bold" fill="#000" text-anchor="start" textLength="31.7" lengthAdjust="spacingAndGlyphs">CD4</text>
<line x1="523.5" y1="234.6" x2="812.5000009512471" y2="234.20137930903275" stroke="#000" stroke-width="2.2"/>
<path d="M804.5 238.8 L813.5 234.2 L804.5 229.6" fill="none" stroke="#000" stroke-width="2.6" stroke-linejoin="miter" stroke-miterlimit="10"/>
<line x1="852" y1="182" x2="889.0" y2="182.0" stroke="#000" stroke-width="2.6"/>
<path d="M896 182 L888.0 186.0 L888.0 178.0 Z" fill="#000"/>
<line x1="549" y1="336.4" x2="549" y2="504.4" stroke="#333" stroke-width="1"/>
<path d="M556 453.45h0.9M549 468.45h0.9M562 447.45h0.9M572 444.45h0.9M552 472.45h0.9M546 470.45h0.9M574 460.45h0.9M548 452.45h0.9M549 460.45h0.9M528 474.45h0.9M576 460.45h0.9M551 457.45h0.9M544 454.45h0.9M565 456.45h0.9M549 465.45h0.9M560 463.45h0.9M515 481.45h0.9M546 472.45h0.9M551 463.45h0.9M550 453.45h0.9M567 457.45h0.9M565 461.45h0.9M541 475.45h0.9M580 454.45h0.9M544 473.45h0.9M572 453.45h0.9M542 461.45h0.9M565 450.45h0.9M559 453.45h0.9M544 457.45h0.9M518 489.45h0.9M522 483.45h0.9M581 462.45h0.9M540 470.45h0.9M562 462.45h0.9M527 467.45h0.9M567 445.45h0.9M523 479.45h0.9M580 450.45h0.9M560 456.45h0.9M524 489.45h0.9M538 464.45h0.9M524 473.45h0.9M519 468.45h0.9M562 463.45h0.9M517 474.45h0.9M562 460.45h0.9M546 459.45h0.9M555 445.45h0.9M516 465.45h0.9M521 481.45h0.9M546 448.45h0.9M526 478.45h0.9M528 473.45h0.9M561 464.45h0.9M565 442.45h0.9M547 478.45h0.9M540 465.45h0.9M550 457.45h0.9M553 475.45h0.9M520 492.45h0.9M546 461.45h0.9M543 461.45h0.9M546 465.45h0.9M580 458.45h0.9M576 452.45h0.9M514 483.45h0.9M529 475.45h0.9M565 448.45h0.9M536 469.45h0.9M519 495.45h0.9M574 457.45h0.9M538 451.45h0.9M524 453.45h0.9M544 460.45h0.9M512 472.45h0.9M533 460.45h0.9M573 443.45h0.9M534 478.45h0.9M541 459.45h0.9M544 467.45h0.9M543 454.45h0.9M563 453.45h0.9M551 455.45h0.9M528 485.45h0.9M513 484.45h0.9M566 480.45h0.9M528 471.45h0.9M538 449.45h0.9M546 462.45h0.9M555 453.45h0.9M554 464.45h0.9M513 481.45h0.9M555 450.45h0.9M557 466.45h0.9M582 457.45h0.9M521 472.45h0.9M567 440.45h0.9M567 472.45h0.9M526 471.45h0.9M548 455.45h0.9M549 440.45h0.9M559 462.45h0.9M537 476.45h0.9M528 478.45h0.9M526 476.45h0.9M577 465.45h0.9M519 470.45h0.9M551 471.45h0.9M568 458.45h0.9M516 483.45h0.9M516 476.45h0.9M547 445.45h0.9M521 469.45h0.9M551 444.45h0.9M536 463.45h0.9M571 477.45h0.9M545 467.45h0.9M536 476.45h0.9M522 488.45h0.9M582 453.45h0.9M569 459.45h0.9M579 470.45h0.9M518 482.45h0.9M517 486.45h0.9M540 452.45h0.9M576 447.45h0.9M523 458.45h0.9M549 451.45h0.9M551 464.45h0.9M575 450.45h0.9M564 460.45h0.9M521 474.45h0.9M520 486.45h0.9M517 469.45h0.9M572 454.45h0.9M552 461.45h0.9M568 446.45h0.9M522 467.45h0.9M556 465.45h0.9M520 472.45h0.9M522 474.45h0.9M548 456.45h0.9M558 455.45h0.9M543 467.45h0.9M549 456.45h0.9M554 461.45h0.9M528 468.45h0.9M567 450.45h0.9M542 476.45h0.9M518 470.45h0.9M544 465.45h0.9M550 479.45h0.9M519 488.45h0.9M556 474.45h0.9M558 472.45h0.9M553 470.45h0.9M562 450.45h0.9M537 474.45h0.9M574 446.45h0.9M543 476.45h0.9M574 450.45h0.9M532 476.45h0.9M567 459.45h0.9M527 453.45h0.9M520 479.45h0.9M549 461.45h0.9M544 471.45h0.9M514 486.45h0.9M548 462.45h0.9M562 449.45h0.9M524 472.45h0.9M564 458.45h0.9M556 472.45h0.9M552 456.45h0.9M558 453.45h0.9M528 470.45h0.9M531 462.45h0.9M563 443.45h0.9M529 464.45h0.9M553 459.45h0.9M573 449.45h0.9M550 455.45h0.9M532 475.45h0.9M531 449.45h0.9M563 444.45h0.9M550 470.45h0.9M513 469.45h0.9M568 462.45h0.9M532 456.45h0.9M526 485.45h0.9M563 456.45h0.9M538 462.45h0.9M520 461.45h0.9M571 460.45h0.9M511 472.45h0.9M522 481.45h0.9M534 468.45h0.9M572 448.45h0.9M550 461.45h0.9M535 463.45h0.9M554 445.45h0.9M531 459.45h0.9M569 449.45h0.9M555 448.45h0.9M560 470.45h0.9M542 462.45h0.9M564 449.45h0.9M530 480.45h0.9M552 449.45h0.9M526 488.45h0.9M529 479.45h0.9M546 440.45h0.9M550 458.45h0.9M555 454.45h0.9M533 481.45h0.9M518 458.45h0.9M520 484.45h0.9M533 467.45h0.9M530 468.45h0.9M559 444.45h0.9M523 486.45h0.9M510 483.45h0.9M525 461.45h0.9M572 463.45h0.9M556 473.45h0.9M560 471.45h0.9M515 471.45h0.9M531 477.45h0.9M514 480.45h0.9M535 483.45h0.9M555 474.45h0.9M521 482.45h0.9M572 458.45h0.9M541 462.45h0.9M511 484.45h0.9M510 480.45h0.9M531 469.45h0.9M531 490.45h0.9M520 475.45h0.9M546 452.45h0.9M561 439.45h0.9M523 469.45h0.9M529 474.45h0.9M519 473.45h0.9M572 461.45h0.9M541 455.45h0.9M583 450.45h0.9M543 456.45h0.9M551 469.45h0.9M544 458.45h0.9M543 466.45h0.9M528 487.45h0.9M535 464.45h0.9M543 472.45h0.9M566 455.45h0.9M570 446.45h0.9M558 458.45h0.9M526 473.45h0.9M535 459.45h0.9M531 461.45h0.9M521 479.45h0.9M584 455.45h0.9M511 481.45h0.9M530 461.45h0.9M544 480.45h0.9M541 454.45h0.9M535 481.45h0.9M562 461.45h0.9M541 463.45h0.9M548 476.45h0.9M530 483.45h0.9M534 461.45h0.9M553 446.45h0.9M559 447.45h0.9M520 474.45h0.9M548 463.45h0.9M546 473.45h0.9M529 472.45h0.9M554 462.45h0.9M534 490.45h0.9M515 477.45h0.9M537 460.45h0.9M556 450.45h0.9M558 461.45h0.9M530 476.45h0.9M549 457.45h0.9M564 464.45h0.9M561 462.45h0.9M589 461.45h0.9M529 462.45h0.9M517 480.45h0.9M538 471.45h0.9M539 468.45h0.9M525 482.45h0.9M560 450.45h0.9M526 474.45h0.9M527 470.45h0.9M527 472.45h0.9M557 452.45h0.9M543 475.45h0.9M554 466.45h0.9M546 451.45h0.9M529 476.45h0.9M573 444.45h0.9M512 484.45h0.9M543 459.45h0.9M537 463.45h0.9M529 485.45h0.9M514 475.45h0.9M548 453.45h0.9M560 462.45h0.9M545 482.45h0.9M525 492.45h0.9M553 454.45h0.9M519 487.45h0.9M518 483.45h0.9M536 450.45h0.9M516 475.45h0.9M540 475.45h0.9M530 458.45h0.9M516 462.45h0.9M562 444.45h0.9M549 464.45h0.9M523 478.45h0.9M535 479.45h0.9M516 469.45h0.9M557 447.45h0.9M545 476.45h0.9M577 445.45h0.9M534 457.45h0.9M560 451.45h0.9M550 481.45h0.9M515 484.45h0.9M540 479.45h0.9M578 454.45h0.9M515 469.45h0.9M567 454.45h0.9M557 469.45h0.9M575 451.45h0.9M533 485.45h0.9M545 455.45h0.9M557 449.45h0.9M533 459.45h0.9M542 454.45h0.9M513 475.45h0.9M539 480.45h0.9M535 468.45h0.9M536 477.45h0.9M536 473.45h0.9M518 485.45h0.9M535 487.45h0.9M584 459.45h0.9M539 478.45h0.9M525 468.45h0.9M515 466.45h0.9M571 448.45h0.9M542 436.45h0.9M542 460.45h0.9M530 481.45h0.9M527 489.45h0.9M524 480.45h0.9M523 489.45h0.9M540 476.45h0.9M531 478.45h0.9M577 454.45h0.9M524 491.45h0.9M546 481.45h0.9M562 465.45h0.9M551 462.45h0.9M519 492.45h0.9M591 460.45h0.9M526 449.45h0.9M564 433.45h0.9M518 486.45h0.9M543 460.45h0.9M583 453.45h0.9M532 471.45h0.9M555 452.45h0.9M517 466.45h0.9M552 450.45h0.9M569 437.45h0.9M561 457.45h0.9M520 483.45h0.9M544 466.45h0.9M555 475.45h0.9M542 471.45h0.9M533 483.45h0.9M567 463.45h0.9M581 458.45h0.9M548 473.45h0.9M538 484.45h0.9M560 457.45h0.9M577 455.45h0.9M518 480.45h0.9M574 441.45h0.9M524 479.45h0.9M541 476.45h0.9M562 443.45h0.9M577 447.45h0.9M510 474.45h0.9M527 480.45h0.9M523 476.45h0.9M571 452.45h0.9M543 446.45h0.9M536 466.45h0.9M528 469.45h0.9M558 459.45h0.9M546 446.45h0.9M569 442.45h0.9M533 474.45h0.9M562 451.45h0.9M572 455.45h0.9M513 477.45h0.9M526 481.45h0.9M540 458.45h0.9M520 489.45h0.9M570 470.45h0.9M565 449.45h0.9M566 438.45h0.9M541 447.45h0.9M576 449.45h0.9M545 466.45h0.9M528 481.45h0.9M521 460.45h0.9M581 450.45h0.9M515 491.45h0.9M547 469.45h0.9M565 452.45h0.9M527 474.45h0.9M563 455.45h0.9M564 444.45h0.9M558 456.45h0.9M565 438.45h0.9M532 468.45h0.9M557 465.45h0.9M575 458.45h0.9M527 473.45h0.9M538 463.45h0.9M569 451.45h0.9M547 465.45h0.9M549 452.45h0.9M529 478.45h0.9M564 470.45h0.9M564 457.45h0.9M563 439.45h0.9M521 486.45h0.9M541 467.45h0.9M583 454.45h0.9M539 461.45h0.9M551 458.45h0.9M555 458.45h0.9M515 475.45h0.9M513 470.45h0.9M517 472.45h0.9M565 445.45h0.9M559 473.45h0.9M529 480.45h0.9M569 454.45h0.9M529 456.45h0.9M545 458.45h0.9M550 478.45h0.9M516 487.45h0.9M519 491.45h0.9M573 455.45h0.9M511 466.45h0.9M548 459.45h0.9M554 441.45h0.9M573 446.45h0.9M547 480.45h0.9M565 460.45h0.9M536 478.45h0.9M517 475.45h0.9M564 436.45h0.9M553 458.45h0.9M544 472.45h0.9M516 481.45h0.9M572 462.45h0.9M580 457.45h0.9M536 462.45h0.9M512 475.45h0.9M547 458.45h0.9M575 444.45h0.9M561 446.45h0.9M569 438.45h0.9M544 475.45h0.9M538 459.45h0.9M535 460.45h0.9M570 453.45h0.9M535 462.45h0.9M534 476.45h0.9M528 463.45h0.9M536 461.45h0.9M514 485.45h0.9M573 445.45h0.9M524 485.45h0.9M530 482.45h0.9M527 484.45h0.9M516 474.45h0.9M552 470.45h0.9M584 462.45h0.9M569 439.45h0.9M531 475.45h0.9M524 461.45h0.9M568 441.45h0.9M522 476.45h0.9M551 470.45h0.9M541 460.45h0.9M522 471.45h0.9M519 472.45h0.9M518 490.45h0.9M531 468.45h0.9M568 455.45h0.9M570 452.45h0.9M557 442.45h0.9M520 481.45h0.9M534 464.45h0.9M516 489.45h0.9M564 455.45h0.9M570 454.45h0.9M570 447.45h0.9M539 458.45h0.9M532 461.45h0.9M538 452.45h0.9M564 446.45h0.9M584 461.45h0.9M547 460.45h0.9M566 447.45h0.9M546 478.45h0.9M565 469.45h0.9M529 457.45h0.9M519 490.45h0.9M543 485.45h0.9M523 475.45h0.9M558 466.45h0.9M531 476.45h0.9M566 456.45h0.9M520 468.45h0.9M576 446.45h0.9M569 467.45h0.9M532 474.45h0.9M561 472.45h0.9M539 473.45h0.9M554 465.45h0.9M544 476.45h0.9M583 458.45h0.9M557 457.45h0.9M550 477.45h0.9M519 485.45h0.9M545 461.45h0.9M528 467.45h0.9M510 479.45h0.9M581 454.45h0.9M523 470.45h0.9M573 462.45h0.9M569 452.45h0.9M542 468.45h0.9M571 451.45h0.9M563 445.45h0.9M569 447.45h0.9M540 494.45h0.9M511 467.45h0.9M558 442.45h0.9M534 467.45h0.9M531 481.45h0.9M555 451.45h0.9M544 455.45h0.9M553 451.45h0.9M553 471.45h0.9M546 458.45h0.9M564 445.45h0.9M584 453.45h0.9M575 466.45h0.9M523 471.45h0.9M524 457.45h0.9M550 466.45h0.9M548 474.45h0.9M560 435.45h0.9M554 448.45h0.9M533 473.45h0.9M574 444.45h0.9M575 447.45h0.9M541 448.45h0.9M554 475.45h0.9M570 444.45h0.9M540 469.45h0.9M510 473.45h0.9M517 481.45h0.9M512 438.45h0.9M510 478.45h0.9M541 465.45h0.9M563 447.45h0.9M540 467.45h0.9M536 468.45h0.9M554 457.45h0.9M518 467.45h0.9M546 445.45h0.9M574 445.45h0.9M527 450.45h0.9M521 471.45h0.9M569 446.45h0.9M549 475.45h0.9M539 441.45h0.9M546 457.45h0.9M528 459.45h0.9M529 466.45h0.9M533 475.45h0.9M513 476.45h0.9M564 451.45h0.9M526 462.45h0.9M517 489.45h0.9M531 473.45h0.9M527 479.45h0.9M540 468.45h0.9M513 485.45h0.9M553 449.45h0.9M519 486.45h0.9M515 480.45h0.9M568 464.45h0.9M569 444.45h0.9M529 468.45h0.9M551 466.45h0.9M557 446.45h0.9M539 459.45h0.9M538 478.45h0.9M523 457.45h0.9M524 474.45h0.9M574 452.45h0.9M534 455.45h0.9M557 453.45h0.9M547 474.45h0.9M559 458.45h0.9M526 486.45h0.9M541 464.45h0.9M563 457.45h0.9M550 460.45h0.9M521 484.45h0.9M552 468.45h0.9M557 451.45h0.9M561 454.45h0.9M528 482.45h0.9M528 483.45h0.9M555 463.45h0.9M535 472.45h0.9M514 473.45h0.9M564 461.45h0.9M534 463.45h0.9M543 486.45h0.9M529 496.45h0.9M566 453.45h0.9M525 493.45h0.9M524 490.45h0.9M562 469.45h0.9M531 456.45h0.9M534 475.45h0.9M510 481.45h0.9M523 482.45h0.9M550 459.45h0.9M541 471.45h0.9M539 477.45h0.9M556 460.45h0.9M523 485.45h0.9M527 477.45h0.9M548 448.45h0.9M547 472.45h0.9M521 490.45h0.9M549 469.45h0.9M530 466.45h0.9M555 459.45h0.9M545 442.45h0.9M579 450.45h0.9M550 463.45h0.9M565 458.45h0.9M526 469.45h0.9M574 458.45h0.9M521 478.45h0.9M515 478.45h0.9M526 472.45h0.9M533 462.45h0.9M530 486.45h0.9M532 481.45h0.9M556 451.45h0.9M534 471.45h0.9M566 457.45h0.9M557 473.45h0.9M562 456.45h0.9M541 457.45h0.9M532 465.45h0.9M577 453.45h0.9M545 472.45h0.9M542 450.45h0.9M533 478.45h0.9M512 476.45h0.9M577 449.45h0.9M529 470.45h0.9M530 478.45h0.9M575 453.45h0.9M540 482.45h0.9M531 470.45h0.9M529 491.45h0.9M526 480.45h0.9M518 484.45h0.9M525 473.45h0.9M553 466.45h0.9M536 459.45h0.9M536 465.45h0.9M562 476.45h0.9M539 454.45h0.9M575 470.45h0.9M519 462.45h0.9M577 459.45h0.9M539 472.45h0.9M573 447.45h0.9M526 470.45h0.9M523 480.45h0.9M532 488.45h0.9M540 437.45h0.9M553 452.45h0.9M574 443.45h0.9M559 470.45h0.9M549 463.45h0.9M576 448.45h0.9M578 453.45h0.9M576 450.45h0.9M565 443.45h0.9M554 458.45h0.9M543 469.45h0.9M551 460.45h0.9M519 481.45h0.9M515 483.45h0.9M530 453.45h0.9M560 453.45h0.9M552 487.45h0.9M537 457.45h0.9M519 494.45h0.9M541 446.45h0.9M520 478.45h0.9M544 470.45h0.9M535 470.45h0.9M561 453.45h0.9M566 461.45h0.9M540 474.45h0.9M525 478.45h0.9M556 464.45h0.9M547 453.45h0.9M569 440.45h0.9M567 462.45h0.9M529 483.45h0.9M563 450.45h0.9M565 462.45h0.9M558 441.45h0.9M514 482.45h0.9M516 470.45h0.9M520 473.45h0.9M538 457.45h0.9M530 465.45h0.9M565 451.45h0.9M569 445.45h0.9M554 446.45h0.9M561 456.45h0.9M548 454.45h0.9M569 462.45h0.9M558 467.45h0.9M562 459.45h0.9M522 459.45h0.9M543 470.45h0.9M570 457.45h0.9M518 477.45h0.9M569 464.45h0.9M539 465.45h0.9M540 473.45h0.9M545 462.45h0.9M586 463.45h0.9M570 441.45h0.9M550 456.45h0.9M555 449.45h0.9M561 463.45h0.9M572 464.45h0.9M560 448.45h0.9M549 453.45h0.9M535 455.45h0.9M529 467.45h0.9M545 475.45h0.9M526 489.45h0.9M535 461.45h0.9M525 477.45h0.9M531 482.45h0.9M522 465.45h0.9M532 484.45h0.9M569 460.45h0.9M531 474.45h0.9M571 453.45h0.9M546 467.45h0.9M545 471.45h0.9M541 452.45h0.9M564 466.45h0.9M568 460.45h0.9M555 464.45h0.9M552 459.45h0.9M514 484.45h0.9M567 437.45h0.9M580 455.45h0.9M570 440.45h0.9M540 480.45h0.9M533 465.45h0.9M523 484.45h0.9M555 434.45h0.9M518 463.45h0.9M579 458.45h0.9M576 456.45h0.9M538 470.45h0.9M562 468.45h0.9M541 480.45h0.9M587 454.45h0.9M559 442.45h0.9M574 456.45h0.9M545 465.45h0.9M558 460.45h0.9M550 451.45h0.9M548 451.45h0.9M512 470.45h0.9M566 444.45h0.9M579 446.45h0.9M553 450.45h0.9M548 469.45h0.9M524 469.45h0.9M518 481.45h0.9M566 469.45h0.9M533 470.45h0.9M536 494.45h0.9M538 461.45h0.9M528 462.45h0.9M564 465.45h0.9M560 461.45h0.9M530 456.45h0.9M558 462.45h0.9M512 485.45h0.9M533 477.45h0.9M539 470.45h0.9M518 479.45h0.9M526 475.45h0.9M521 473.45h0.9M520 482.45h0.9M521 467.45h0.9M512 480.45h0.9M521 459.45h0.9M512 482.45h0.9M532 463.45h0.9M575 445.45h0.9M526 483.45h0.9M557 459.45h0.9M533 476.45h0.9M555 484.45h0.9M570 455.45h0.9M540 447.45h0.9M538 476.45h0.9M578 451.45h0.9M521 463.45h0.9M563 474.45h0.9M527 481.45h0.9M540 457.45h0.9M558 454.45h0.9M545 454.45h0.9M559 446.45h0.9M530 479.45h0.9M525 457.45h0.9M574 454.45h0.9M520 465.45h0.9M524 493.45h0.9M542 482.45h0.9M578 447.45h0.9M535 474.45h0.9M517 479.45h0.9M548 466.45h0.9M532 472.45h0.9M530 464.45h0.9M571 445.45h0.9M578 446.45h0.9M518 466.45h0.9M511 477.45h0.9M568 440.45h0.9M567 452.45h0.9M553 447.45h0.9M573 454.45h0.9M523 481.45h0.9M570 473.45h0.9M578 450.45h0.9M539 489.45h0.9M548 460.45h0.9M555 444.45h0.9M551 445.45h0.9M551 479.45h0.9M544 474.45h0.9M523 488.45h0.9M558 448.45h0.9M514 488.45h0.9M564 463.45h0.9M536 471.45h0.9M560 466.45h0.9M541 478.45h0.9M541 468.45h0.9M547 457.45h0.9M541 466.45h0.9M550 471.45h0.9M557 468.45h0.9M537 459.45h0.9M524 482.45h0.9M577 452.45h0.9M516 472.45h0.9M559 432.45h0.9M562 438.45h0.9M533 480.45h0.9M566 445.45h0.9M536 482.45h0.9M548 480.45h0.9M559 459.45h0.9M566 462.45h0.9M525 476.45h0.9M541 469.45h0.9M540 463.45h0.9M568 456.45h0.9M547 479.45h0.9M557 443.45h0.9M541 451.45h0.9M535 456.45h0.9M545 453.45h0.9M582 461.45h0.9M552 475.45h0.9M514 459.45h0.9M522 485.45h0.9M569 436.45h0.9M532 470.45h0.9M524 494.45h0.9M518 474.45h0.9M520 470.45h0.9M522 494.45h0.9M523 487.45h0.9M547 462.45h0.9M523 473.45h0.9M572 442.45h0.9M586 456.45h0.9M537 481.45h0.9M521 487.45h0.9M515 476.45h0.9M535 454.45h0.9M546 468.45h0.9M554 459.45h0.9M527 466.45h0.9M579 453.45h0.9M512 465.45h0.9M569 453.45h0.9M526 461.45h0.9M528 479.45h0.9M567 455.45h0.9M563 433.45h0.9M541 461.45h0.9M542 444.45h0.9M568 470.45h0.9M525 467.45h0.9M519 475.45h0.9M543 462.45h0.9M519 465.45h0.9M591 463.45h0.9M530 469.45h0.9M511 473.45h0.9M575 449.45h0.9M546 463.45h0.9M536 455.45h0.9M564 454.45h0.9M571 438.45h0.9M555 462.45h0.9M542 455.45h0.9M553 468.45h0.9M521 476.45h0.9M556 446.45h0.9M571 441.45h0.9M566 442.45h0.9M529 463.45h0.9M542 467.45h0.9M569 458.45h0.9M536 464.45h0.9M528 476.45h0.9M542 485.45h0.9M560 452.45h0.9M552 444.45h0.9M572 457.45h0.9M582 451.45h0.9M537 461.45h0.9M574 471.45h0.9M552 458.45h0.9M510 484.45h0.9M564 434.45h0.9M583 460.45h0.9M538 460.45h0.9M530 490.45h0.9M520 485.45h0.9M511 476.45h0.9M539 457.45h0.9M571 457.45h0.9M566 459.45h0.9M553 478.45h0.9M537 477.45h0.9M533 455.45h0.9M570 467.45h0.9M519 477.45h0.9M552 465.45h0.9M513 473.45h0.9M535 482.45h0.9M550 440.45h0.9M522 484.45h0.9M553 455.45h0.9M560 484.45h0.9M517 485.45h0.9M560 441.45h0.9M562 464.45h0.9M524 463.45h0.9M560 458.45h0.9M522 493.45h0.9M537 470.45h0.9M512 473.45h0.9M522 489.45h0.9M557 448.45h0.9M561 455.45h0.9M510 482.45h0.9M560 449.45h0.9M514 489.45h0.9M515 490.45h0.9M551 459.45h0.9M552 442.45h0.9M530 484.45h0.9M527 469.45h0.9M563 458.45h0.9M529 465.45h0.9M521 483.45h0.9M530 502.45h0.9M569 455.45h0.9M552 463.45h0.9M539 452.45h0.9M528 447.45h0.9M555 457.45h0.9M527 486.45h0.9M538 483.45h0.9M513 483.45h0.9M532 452.45h0.9M551 454.45h0.9M517 467.45h0.9M527 485.45h0.9M526 484.45h0.9M532 490.45h0.9M578 459.45h0.9M530 493.45h0.9M535 457.45h0.9M532 473.45h0.9M548 461.45h0.9M538 477.45h0.9M515 486.45h0.9M563 446.45h0.9M522 482.45h0.9M571 458.45h0.9M539 474.45h0.9M553 473.45h0.9M561 445.45h0.9M542 481.45h0.9M558 471.45h0.9M535 478.45h0.9M545 470.45h0.9M534 470.45h0.9M537 462.45h0.9M563 449.45h0.9M581 457.45h0.9M519 467.45h0.9M516 486.45h0.9M558 452.45h0.9M535 476.45h0.9M546 492.45h0.9M516 485.45h0.9M513 468.45h0.9M520 467.45h0.9M561 471.45h0.9M520 490.45h0.9M526 482.45h0.9M526 468.45h0.9M530 457.45h0.9M546 460.45h0.9M527 471.45h0.9M520 488.45h0.9M555 460.45h0.9M559 441.45h0.9M524 475.45h0.9M573 467.45h0.9M572 467.45h0.9M575 443.45h0.9M561 443.45h0.9M533 472.45h0.9M567 442.45h0.9M527 483.45h0.9M572 450.45h0.9M589 464.45h0.9M576 444.45h0.9M530 462.45h0.9M538 473.45h0.9M535 471.45h0.9M545 477.45h0.9M547 466.45h0.9M549 459.45h0.9M520 477.45h0.9M566 473.45h0.9M559 448.45h0.9M539 488.45h0.9M518 473.45h0.9M573 460.45h0.9M574 455.45h0.9M544 468.45h0.9M524 486.45h0.9M512 483.45h0.9M558 449.45h0.9M522 462.45h0.9M558 465.45h0.9M550 444.45h0.9M564 448.45h0.9M563 460.45h0.9M518 469.45h0.9M513 474.45h0.9M532 477.45h0.9M562 467.45h0.9M557 450.45h0.9M528 475.45h0.9M556 454.45h0.9M558 474.45h0.9M511 480.45h0.9M512 477.45h0.9M530 485.45h0.9M536 479.45h0.9M537 478.45h0.9M520 487.45h0.9M517 468.45h0.9M565 464.45h0.9M566 451.45h0.9M526 477.45h0.9M556 457.45h0.9M532 482.45h0.9M547 454.45h0.9M522 470.45h0.9M579 467.45h0.9M524 455.45h0.9M548 471.45h0.9M516 478.45h0.9M610 489.45h0.9M570 480.45h0.9M556 483.45h0.9M598 491.45h0.9M546 474.45h0.9M575 476.45h0.9M579 501.45h0.9M575 465.45h0.9M598 483.45h0.9M568 492.45h0.9M640 502.45h0.9M587 480.45h0.9M550 486.45h0.9M595 477.45h0.9M578 458.45h0.9M563 461.45h0.9M596 494.45h0.9M592 488.45h0.9M577 464.45h0.9M586 478.45h0.9M587 467.45h0.9M586 465.45h0.9M588 490.45h0.9M562 483.45h0.9M584 484.45h0.9M585 496.45h0.9M543 442.45h0.9M582 478.45h0.9M600 489.45h0.9M624 484.45h0.9M563 492.45h0.9M583 478.45h0.9M576 476.45h0.9M572 471.45h0.9M603 476.45h0.9M569 488.45h0.9M555 483.45h0.9M565 478.45h0.9M592 474.45h0.9M551 478.45h0.9M563 464.45h0.9M589 484.45h0.9M564 477.45h0.9M580 452.45h0.9M592 470.45h0.9M556 462.45h0.9M544 486.45h0.9M582 464.45h0.9M586 484.45h0.9M550 464.45h0.9M584 490.45h0.9M589 471.45h0.9M591 485.45h0.9M550 476.45h0.9M569 487.45h0.9M572 456.45h0.9M600 479.45h0.9M545 444.45h0.9M586 457.45h0.9M556 459.45h0.9M616 476.45h0.9M577 470.45h0.9M563 479.45h0.9M595 501.45h0.9M593 482.45h0.9M607 489.45h0.9M574 472.45h0.9M572 496.45h0.9M597 491.45h0.9M567 479.45h0.9M578 455.45h0.9M570 478.45h0.9M598 498.45h0.9M578 472.45h0.9M556 467.45h0.9M609 490.45h0.9M603 487.45h0.9M605 481.45h0.9M605 497.45h0.9M604 502.45h0.9M576 462.45h0.9M559 468.45h0.9M587 486.45h0.9M600 481.45h0.9M578 482.45h0.9M545 468.45h0.9M563 454.45h0.9M575 486.45h0.9M559 478.45h0.9M621 488.45h0.9M542 473.45h0.9M568 478.45h0.9M557 471.45h0.9M591 466.45h0.9M622 458.45h0.9M591 479.45h0.9M572 486.45h0.9M574 479.45h0.9M607 487.45h0.9M583 470.45h0.9M602 503.45h0.9M595 478.45h0.9M604 486.45h0.9M611 471.45h0.9M575 496.45h0.9M568 499.45h0.9M587 488.45h0.9M586 454.45h0.9M566 478.45h0.9M588 467.45h0.9M535 486.45h0.9M579 464.45h0.9M580 503.45h0.9M572 490.45h0.9M560 491.45h0.9M570 483.45h0.9M598 495.45h0.9M554 486.45h0.9M592 493.45h0.9M594 474.45h0.9M580 475.45h0.9M586 474.45h0.9M584 464.45h0.9M565 477.45h0.9M582 476.45h0.9M632 500.45h0.9M601 487.45h0.9M566 467.45h0.9M580 482.45h0.9M568 503.45h0.9M585 490.45h0.9M597 482.45h0.9M559 481.45h0.9M602 484.45h0.9M536 475.45h0.9M592 477.45h0.9M562 466.45h0.9M592 480.45h0.9M571 467.45h0.9M590 485.45h0.9M542 480.45h0.9M540 491.45h0.9M589 474.45h0.9M570 484.45h0.9M567 488.45h0.9M586 496.45h0.9M588 468.45h0.9M576 490.45h0.9M545 464.45h0.9M616 488.45h0.9M596 463.45h0.9M601 500.45h0.9M581 481.45h0.9M570 489.45h0.9M556 488.45h0.9M602 480.45h0.9M567 473.45h0.9M567 474.45h0.9M586 486.45h0.9M560 479.45h0.9M556 463.45h0.9M571 485.45h0.9M587 474.45h0.9M590 500.45h0.9M592 475.45h0.9M590 495.45h0.9M597 489.45h0.9M536 480.45h0.9M618 488.45h0.9M576 475.45h0.9M591 467.45h0.9M615 479.45h0.9M592 483.45h0.9M590 476.45h0.9M568 476.45h0.9M562 500.45h0.9M550 484.45h0.9M549 482.45h0.9M603 478.45h0.9M575 499.45h0.9M587 469.45h0.9M572 473.45h0.9M579 478.45h0.9M589 498.45h0.9M574 451.45h0.9M614 497.45h0.9M583 492.45h0.9M563 489.45h0.9M592 479.45h0.9M575 479.45h0.9M581 471.45h0.9M572 484.45h0.9M570 498.45h0.9M584 489.45h0.9M579 438.45h0.9M581 490.45h0.9M573 490.45h0.9M570 459.45h0.9M580 490.45h0.9M622 484.45h0.9M545 469.45h0.9M580 488.45h0.9M591 488.45h0.9M596 478.45h0.9M568 487.45h0.9M565 485.45h0.9M592 467.45h0.9M579 474.45h0.9M596 500.45h0.9M604 468.45h0.9M581 485.45h0.9M578 483.45h0.9M593 488.45h0.9M571 472.45h0.9M576 474.45h0.9M620 500.45h0.9M542 466.45h0.9M577 466.45h0.9M574 475.45h0.9M619 502.45h0.9M632 478.45h0.9M592 478.45h0.9M579 476.45h0.9M601 482.45h0.9M588 499.45h0.9M586 494.45h0.9M600 488.45h0.9M575 491.45h0.9M547 455.45h0.9M555 467.45h0.9M545 474.45h0.9M550 501.45h0.9M581 496.45h0.9M553 485.45h0.9M541 474.45h0.9M568 477.45h0.9M567 489.45h0.9M608 499.45h0.9M563 480.45h0.9M606 461.45h0.9M571 484.45h0.9M575 487.45h0.9M573 497.45h0.9M604 478.45h0.9M613 487.45h0.9M596 477.45h0.9M577 479.45h0.9M610 493.45h0.9M595 491.45h0.9M588 489.45h0.9M601 471.45h0.9M539 495.45h0.9M597 480.45h0.9M583 479.45h0.9M558 476.45h0.9M566 496.45h0.9M589 460.45h0.9M581 464.45h0.9M576 473.45h0.9M570 468.45h0.9M591 492.45h0.9M559 491.45h0.9M612 496.45h0.9M587 468.45h0.9M569 466.45h0.9M593 463.45h0.9M563 488.45h0.9M555 497.45h0.9M569 491.45h0.9M573 468.45h0.9M594 475.45h0.9M594 489.45h0.9M585 451.45h0.9M565 473.45h0.9M616 477.45h0.9M584 493.45h0.9M592 472.45h0.9M557 490.45h0.9M620 476.45h0.9M620 468.45h0.9M612 493.45h0.9M578 488.45h0.9M611 493.45h0.9M586 490.45h0.9M567 471.45h0.9M597 476.45h0.9M586 466.45h0.9M578 475.45h0.9M582 490.45h0.9M582 473.45h0.9M584 473.45h0.9M565 480.45h0.9M586 480.45h0.9M558 477.45h0.9M588 472.45h0.9M568 467.45h0.9M597 484.45h0.9M601 478.45h0.9M596 495.45h0.9M603 472.45h0.9M603 484.45h0.9M598 492.45h0.9M619 496.45h0.9M596 469.45h0.9M566 474.45h0.9M554 452.45h0.9M560 483.45h0.9M597 500.45h0.9M574 496.45h0.9M598 487.45h0.9M548 483.45h0.9M590 488.45h0.9M575 474.45h0.9M574 483.45h0.9M606 497.45h0.9M593 490.45h0.9M590 490.45h0.9M577 481.45h0.9M571 478.45h0.9M543 471.45h0.9M543 478.45h0.9M621 481.45h0.9M612 490.45h0.9M559 483.45h0.9M584 472.45h0.9M584 466.45h0.9M560 459.45h0.9M563 452.45h0.9M545 484.45h0.9M571 479.45h0.9M619 481.45h0.9M572 468.45h0.9M589 466.45h0.9M556 487.45h0.9M562 471.45h0.9M571 471.45h0.9M571 483.45h0.9M582 477.45h0.9M604 499.45h0.9M592 497.45h0.9M579 452.45h0.9M595 490.45h0.9M593 483.45h0.9M587 473.45h0.9M599 487.45h0.9M574 502.45h0.9M559 488.45h0.9M589 476.45h0.9M568 488.45h0.9M588 473.45h0.9M607 492.45h0.9M571 469.45h0.9M564 467.45h0.9M571 500.45h0.9M612 489.45h0.9M571 487.45h0.9M598 474.45h0.9M564 480.45h0.9M557 485.45h0.9M569 470.45h0.9M579 481.45h0.9M614 490.45h0.9M600 485.45h0.9M558 468.45h0.9M577 482.45h0.9M574 476.45h0.9M538 454.45h0.9M578 486.45h0.9M576 486.45h0.9M615 466.45h0.9M591 493.45h0.9M568 482.45h0.9M568 471.45h0.9M590 493.45h0.9M554 479.45h0.9M578 481.45h0.9M606 496.45h0.9M571 461.45h0.9M583 487.45h0.9M563 465.45h0.9M582 474.45h0.9M581 475.45h0.9M574 468.45h0.9M601 476.45h0.9M545 463.45h0.9M542 464.45h0.9M561 480.45h0.9M576 470.45h0.9M604 481.45h0.9M601 496.45h0.9M569 477.45h0.9M564 485.45h0.9M579 489.45h0.9M602 479.45h0.9M615 497.45h0.9M545 489.45h0.9M545 494.45h0.9M543 491.45h0.9M592 487.45h0.9M576 493.45h0.9M568 495.45h0.9M573 492.45h0.9M551 489.45h0.9M584 481.45h0.9M604 472.45h0.9M623 483.45h0.9M580 484.45h0.9M598 465.45h0.9M594 471.45h0.9M572 493.45h0.9M519 478.45h0.9M566 477.45h0.9M593 464.45h0.9M585 474.45h0.9M576 480.45h0.9M573 498.45h0.9M558 463.45h0.9M568 484.45h0.9M576 488.45h0.9M593 465.45h0.9M585 489.45h0.9M581 476.45h0.9M592 490.45h0.9M590 497.45h0.9M593 491.45h0.9M580 462.45h0.9M600 492.45h0.9M609 499.45h0.9M563 477.45h0.9M558 481.45h0.9M567 491.45h0.9M588 494.45h0.9M608 480.45h0.9M574 484.45h0.9M533 448.45h0.9M581 478.45h0.9M565 476.45h0.9M576 467.45h0.9M601 472.45h0.9M562 485.45h0.9M592 460.45h0.9M549 478.45h0.9M589 479.45h0.9M588 480.45h0.9M537 496.45h0.9M571 486.45h0.9M605 464.45h0.9M595 492.45h0.9M586 476.45h0.9M606 486.45h0.9M606 492.45h0.9M571 459.45h0.9M560 474.45h0.9M573 481.45h0.9M559 480.45h0.9M566 476.45h0.9M594 497.45h0.9M571 465.45h0.9M581 492.45h0.9M613 499.45h0.9M546 483.45h0.9M577 490.45h0.9M593 471.45h0.9M605 484.45h0.9M573 465.45h0.9M553 496.45h0.9M610 498.45h0.9M592 476.45h0.9M566 471.45h0.9M582 485.45h0.9M574 485.45h0.9M599 502.45h0.9M577 504.45h0.9M559 494.45h0.9M584 475.45h0.9M582 469.45h0.9M583 437.45h0.9M546 482.45h0.9M577 487.45h0.9M588 475.45h0.9M590 478.45h0.9M579 490.45h0.9M554 481.45h0.9M567 481.45h0.9M589 482.45h0.9M562 478.45h0.9M553 465.45h0.9M566 470.45h0.9M581 469.45h0.9M592 491.45h0.9M596 472.45h0.9M561 482.45h0.9M556 479.45h0.9M580 491.45h0.9M552 469.45h0.9M564 487.45h0.9M520 480.45h0.9M568 485.45h0.9M547 476.45h0.9M574 491.45h0.9M583 461.45h0.9M594 490.45h0.9M554 473.45h0.9M587 478.45h0.9M587 475.45h0.9M598 501.45h0.9M571 489.45h0.9M560 488.45h0.9M592 486.45h0.9M573 502.45h0.9M584 480.45h0.9M534 460.45h0.9M573 500.45h0.9M615 477.45h0.9M571 488.45h0.9M576 469.45h0.9M590 479.45h0.9M580 489.45h0.9M614 502.45h0.9M595 465.45h0.9M592 473.45h0.9M553 489.45h0.9M597 488.45h0.9M584 479.45h0.9M584 449.45h0.9M587 476.45h0.9M580 480.45h0.9M566 483.45h0.9M572 492.45h0.9M603 503.45h0.9M580 485.45h0.9M600 460.45h0.9M567 478.45h0.9M542 486.45h0.9M596 481.45h0.9M606 483.45h0.9M614 487.45h0.9M569 486.45h0.9M582 470.45h0.9M564 474.45h0.9M564 481.45h0.9M572 460.45h0.9M569 461.45h0.9M602 475.45h0.9M556 477.45h0.9M569 496.45h0.9M602 498.45h0.9M573 448.45h0.9M567 487.45h0.9M597 483.45h0.9M562 482.45h0.9M577 496.45h0.9M557 488.45h0.9M557 487.45h0.9M585 470.45h0.9M638 496.45h0.9M619 475.45h0.9M579 475.45h0.9M589 475.45h0.9M619 485.45h0.9M584 483.45h0.9M635 493.45h0.9M608 478.45h0.9M654 483.45h0.9M572 499.45h0.9M595 503.45h0.9M640 477.45h0.9M607 475.45h0.9M609 472.45h0.9M598 493.45h0.9M665 496.45h0.9M644 474.45h0.9M584 478.45h0.9M564 498.45h0.9M624 474.45h0.9M599 490.45h0.9M628 475.45h0.9M598 482.45h0.9M610 491.45h0.9M649 490.45h0.9M600 502.45h0.9M592 495.45h0.9M637 491.45h0.9M620 458.45h0.9M616 461.45h0.9M635 491.45h0.9M636 486.45h0.9M622 502.45h0.9M584 482.45h0.9M644 467.45h0.9M594 487.45h0.9M657 502.45h0.9M655 483.45h0.9M618 495.45h0.9M614 501.45h0.9M611 497.45h0.9M626 481.45h0.9M610 476.45h0.9M600 498.45h0.9M638 467.45h0.9M613 466.45h0.9M626 495.45h0.9M619 472.45h0.9M629 481.45h0.9M597 479.45h0.9M602 478.45h0.9M633 487.45h0.9M638 494.45h0.9M622 477.45h0.9M623 491.45h0.9M630 495.45h0.9M578 471.45h0.9M548 485.45h0.9M579 473.45h0.9M628 452.45h0.9M587 487.45h0.9M626 498.45h0.9M624 479.45h0.9M596 480.45h0.9M634 487.45h0.9M601 502.45h0.9M643 479.45h0.9M596 487.45h0.9M545 491.45h0.9M636 484.45h0.9M572 481.45h0.9M596 485.45h0.9M650 501.45h0.9M630 472.45h0.9M651 473.45h0.9M616 497.45h0.9M646 491.45h0.9M642 473.45h0.9M596 488.45h0.9M654 459.45h0.9M638 463.45h0.9M616 467.45h0.9M641 466.45h0.9M609 500.45h0.9M593 492.45h0.9M595 485.45h0.9M661 486.45h0.9M626 482.45h0.9M624 464.45h0.9M607 479.45h0.9M564 479.45h0.9M617 489.45h0.9M605 478.45h0.9M633 469.45h0.9M630 487.45h0.9M659 494.45h0.9M601 460.45h0.9M587 483.45h0.9M609 487.45h0.9M615 487.45h0.9M644 490.45h0.9M620 495.45h0.9M592 465.45h0.9M583 493.45h0.9M649 500.45h0.9M625 489.45h0.9M616 498.45h0.9M621 497.45h0.9M594 480.45h0.9M574 470.45h0.9M547 493.45h0.9M642 499.45h0.9M627 482.45h0.9M579 482.45h0.9M577 497.45h0.9M584 470.45h0.9M644 494.45h0.9M586 472.45h0.9M577 489.45h0.9M605 485.45h0.9M638 480.45h0.9M632 479.45h0.9M613 492.45h0.9M592 455.45h0.9M633 466.45h0.9M660 481.45h0.9M651 495.45h0.9M656 488.45h0.9M666 483.45h0.9M613 500.45h0.9M592 499.45h0.9M626 487.45h0.9M611 462.45h0.9M605 479.45h0.9M599 485.45h0.9M641 479.45h0.9M598 499.45h0.9M570 497.45h0.9M627 477.45h0.9M613 481.45h0.9M656 504.45h0.9M610 484.45h0.9M562 479.45h0.9M608 484.45h0.9M608 491.45h0.9M562 488.45h0.9M622 488.45h0.9M620 455.45h0.9M621 487.45h0.9M585 472.45h0.9M609 473.45h0.9M621 465.45h0.9M570 496.45h0.9M617 504.45h0.9M585 484.45h0.9M628 476.45h0.9M619 504.45h0.9M562 484.45h0.9M609 474.45h0.9M642 490.45h0.9M628 481.45h0.9M578 492.45h0.9M594 462.45h0.9M617 495.45h0.9M620 480.45h0.9M635 497.45h0.9M616 473.45h0.9M664 475.45h0.9M596 492.45h0.9M581 480.45h0.9M614 471.45h0.9M629 447.45h0.9M637 492.45h0.9M644 500.45h0.9M644 481.45h0.9M643 480.45h0.9M559 477.45h0.9M651 493.45h0.9M586 483.45h0.9M589 485.45h0.9M621 480.45h0.9M619 489.45h0.9M634 462.45h0.9M643 492.45h0.9M610 477.45h0.9M557 492.45h0.9M631 475.45h0.9M583 462.45h0.9M617 475.45h0.9M626 501.45h0.9M559 493.45h0.9M619 490.45h0.9M633 467.45h0.9M597 435.45h0.9M570 485.45h0.9M627 495.45h0.9M615 484.45h0.9M595 493.45h0.9M556 499.45h0.9M594 472.45h0.9M616 480.45h0.9M624 435.45h0.9M598 468.45h0.9M616 491.45h0.9M611 485.45h0.9M643 470.45h0.9M574 486.45h0.9M666 496.45h0.9M598 476.45h0.9M631 484.45h0.9M631 493.45h0.9M649 501.45h0.9M608 498.45h0.9M658 461.45h0.9M579 465.45h0.9M614 480.45h0.9M590 469.45h0.9M570 482.45h0.9M629 492.45h0.9M615 472.45h0.9M603 499.45h0.9M594 502.45h0.9M625 472.45h0.9M599 496.45h0.9M609 467.45h0.9M630 476.45h0.9M588 485.45h0.9M605 483.45h0.9M587 479.45h0.9M634 484.45h0.9M636 462.45h0.9M628 477.45h0.9M652 465.45h0.9M606 487.45h0.9M582 481.45h0.9M638 485.45h0.9M644 482.45h0.9M652 481.45h0.9M642 471.45h0.9M532 501.45h0.9M628 450.45h0.9M608 467.45h0.9M591 477.45h0.9M651 467.45h0.9M621 492.45h0.9M572 498.45h0.9M613 501.45h0.9M618 482.45h0.9M640 469.45h0.9M579 483.45h0.9M589 493.45h0.9M618 499.45h0.9M599 495.45h0.9M587 477.45h0.9M602 476.45h0.9M621 484.45h0.9M614 472.45h0.9M598 450.45h0.9M567 461.45h0.9M623 498.45h0.9M618 454.45h0.9M641 503.45h0.9M626 492.45h0.9M612 487.45h0.9M582 480.45h0.9M609 481.45h0.9M593 480.45h0.9M596 482.45h0.9M600 486.45h0.9M594 494.45h0.9M630 502.45h0.9M605 476.45h0.9M628 490.45h0.9M614 489.45h0.9M583 489.45h0.9M603 479.45h0.9M580 481.45h0.9M578 473.45h0.9M620 482.45h0.9M645 490.45h0.9M602 482.45h0.9M632 497.45h0.9M604 493.45h0.9M604 495.45h0.9M613 483.45h0.9M613 496.45h0.9M611 484.45h0.9M614 470.45h0.9M606 460.45h0.9M562 493.45h0.9M560 503.45h0.9M557 495.45h0.9M553 500.45h0.9M538 488.45h0.9M547 503.45h0.9M562 489.45h0.9M554 499.45h0.9M552 503.45h0.9M552 497.45h0.9M555 498.45h0.9M542 498.45h0.9M565 495.45h0.9M562 497.45h0.9M561 478.45h0.9M553 499.45h0.9M548 487.45h0.9M548 497.45h0.9M553 498.45h0.9M550 502.45h0.9M561 503.45h0.9M560 502.45h0.9M560 490.45h0.9M563 483.45h0.9M556 491.45h0.9M560 501.45h0.9M544 503.45h0.9M541 502.45h0.9M561 496.45h0.9M544 479.45h0.9M541 503.45h0.9M548 491.45h0.9M553 493.45h0.9M551 496.45h0.9M532 492.45h0.9M566 503.45h0.9M560 493.45h0.9M548 500.45h0.9M567 499.45h0.9M561 495.45h0.9M555 503.45h0.9M555 500.45h0.9M565 504.45h0.9M560 497.45h0.9M539 484.45h0.9M546 486.45h0.9M543 490.45h0.9M574 497.45h0.9M533 496.45h0.9M553 503.45h0.9M552 492.45h0.9M548 486.45h0.9M571 501.45h0.9M549 489.45h0.9M545 483.45h0.9M553 495.45h0.9M548 494.45h0.9M567 501.45h0.9M549 499.45h0.9M551 485.45h0.9M552 486.45h0.9M544 501.45h0.9M544 478.45h0.9M545 499.45h0.9M556 492.45h0.9M558 502.45h0.9M569 494.45h0.9M541 485.45h0.9M578 504.45h0.9M556 500.45h0.9M557 502.45h0.9M548 493.45h0.9M560 496.45h0.9M567 486.45h0.9M571 498.45h0.9M531 491.45h0.9M550 480.45h0.9M552 490.45h0.9M556 496.45h0.9M535 494.45h0.9M561 493.45h0.9M552 498.45h0.9M556 490.45h0.9M545 498.45h0.9M550 497.45h0.9M556 502.45h0.9M563 501.45h0.9M553 492.45h0.9M562 487.45h0.9M558 482.45h0.9M547 494.45h0.9M547 502.45h0.9M546 502.45h0.9M545 492.45h0.9M538 496.45h0.9M553 497.45h0.9M563 499.45h0.9M557 503.45h0.9M561 498.45h0.9M560 492.45h0.9M545 490.45h0.9M558 498.45h0.9M535 501.45h0.9M554 491.45h0.9M563 503.45h0.9M544 485.45h0.9M541 501.45h0.9M547 501.45h0.9M555 502.45h0.9M562 498.45h0.9M549 486.45h0.9M560 489.45h0.9M550 492.45h0.9M564 503.45h0.9M548 498.45h0.9M564 493.45h0.9M547 504.45h0.9M566 484.45h0.9M562 503.45h0.9M569 500.45h0.9M569 489.45h0.9M548 502.45h0.9M565 496.45h0.9M556 493.45h0.9M538 492.45h0.9M545 502.45h0.9M561 497.45h0.9M549 496.45h0.9M538 500.45h0.9M549 500.45h0.9M555 489.45h0.9M561 491.45h0.9M523 500.45h0.9M542 496.45h0.9M559 503.45h0.9M540 486.45h0.9M534 498.45h0.9M545 495.45h0.9M560 494.45h0.9M551 497.45h0.9M570 502.45h0.9M531 501.45h0.9M560 495.45h0.9M563 495.45h0.9M553 501.45h0.9M550 493.45h0.9M547 490.45h0.9M547 500.45h0.9M537 502.45h0.9M559 486.45h0.9M560 487.45h0.9M554 494.45h0.9M556 503.45h0.9M567 492.45h0.9M548 492.45h0.9M553 494.45h0.9M554 493.45h0.9M557 483.45h0.9M618 491.45h0.9M619 482.45h0.9M620 487.45h0.9M610 501.45h0.9M630 475.45h0.9M580 492.45h0.9M656 461.45h0.9M649 502.45h0.9M629 478.45h0.9M577 474.45h0.9M616 503.45h0.9M582 489.45h0.9M636 503.45h0.9M551 503.45h0.9M649 498.45h0.9M555 487.45h0.9M554 472.45h0.9M598 496.45h0.9M561 501.45h0.9M599 462.45h0.9M662 474.45h0.9M556 489.45h0.9M592 502.45h0.9M634 477.45h0.9M622 473.45h0.9M644 483.45h0.9M598 479.45h0.9M592 464.45h0.9M585 501.45h0.9M655 470.45h0.9M659 490.45h0.9M635 469.45h0.9M615 468.45h0.9M575 492.45h0.9M573 471.45h0.9M611 457.45h0.9M631 485.45h0.9M608 503.45h0.9M621 462.45h0.9M655 489.45h0.9M647 461.45h0.9M654 484.45h0.9M596 491.45h0.9M601 490.45h0.9M628 496.45h0.9M632 475.45h0.9M643 469.45h0.9M591 481.45h0.9M652 472.45h0.9M667 457.45h0.9M606 482.45h0.9M601 461.45h0.9M631 486.45h0.9M638 502.45h0.9M559 496.45h0.9M585 471.45h0.9M590 464.45h0.9M619 487.45h0.9M620 472.45h0.9M664 497.45h0.9M649 467.45h0.9M618 466.45h0.9M565 491.45h0.9M644 468.45h0.9M575 485.45h0.9M624 497.45h0.9M634 495.45h0.9M606 476.45h0.9M561 486.45h0.9M631 496.45h0.9M661 495.45h0.9M633 459.45h0.9M652 492.45h0.9M557 481.45h0.9M615 482.45h0.9M667 477.45h0.9M607 473.45h0.9M627 457.45h0.9M658 473.45h0.9M622 500.45h0.9M605 500.45h0.9M583 501.45h0.9M664 492.45h0.9M620 493.45h0.9M619 469.45h0.9M644 487.45h0.9M609 475.45h0.9M663 464.45h0.9M591 464.45h0.9M655 494.45h0.9M612 475.45h0.9M621 496.45h0.9M571 494.45h0.9M663 482.45h0.9M645 491.45h0.9M554 487.45h0.9M624 473.45h0.9M650 469.45h0.9M605 475.45h0.9M643 466.45h0.9M656 500.45h0.9M613 460.45h0.9M597 477.45h0.9M660 498.45h0.9M656 479.45h0.9M665 493.45h0.9M655 459.45h0.9M667 462.45h0.9M645 489.45h0.9M623 502.45h0.9M653 496.45h0.9M605 473.45h0.9M582 465.45h0.9M652 475.45h0.9M605 477.45h0.9M550 485.45h0.9M650 465.45h0.9M651 491.45h0.9M646 480.45h0.9M661 482.45h0.9M654 468.45h0.9M650 489.45h0.9M649 485.45h0.9M664 487.45h0.9M650 493.45h0.9M636 480.45h0.9M660 475.45h0.9M665 484.45h0.9M642 479.45h0.9M640 475.45h0.9M649 488.45h0.9M657 472.45h0.9M667 485.45h0.9M645 494.45h0.9M643 485.45h0.9M659 480.45h0.9M658 480.45h0.9M660 480.45h0.9M646 481.45h0.9M653 483.45h0.9M641 477.45h0.9M669 480.45h0.9M647 501.45h0.9M647 488.45h0.9M645 472.45h0.9M658 483.45h0.9M649 476.45h0.9M663 492.45h0.9M650 475.45h0.9M667 486.45h0.9M662 480.45h0.9M665 480.45h0.9M635 477.45h0.9M654 489.45h0.9M666 479.45h0.9M665 483.45h0.9M656 487.45h0.9M661 491.45h0.9M664 485.45h0.9M661 478.45h0.9M650 487.45h0.9M663 485.45h0.9M654 492.45h0.9M654 486.45h0.9M649 486.45h0.9M648 486.45h0.9M647 496.45h0.9M655 479.45h0.9M650 480.45h0.9M655 488.45h0.9M654 490.45h0.9M658 470.45h0.9M657 484.45h0.9M659 485.45h0.9M660 487.45h0.9M652 490.45h0.9M650 476.45h0.9M668 487.45h0.9M646 482.45h0.9M657 487.45h0.9M653 490.45h0.9M664 489.45h0.9M668 489.45h0.9M659 491.45h0.9M654 473.45h0.9M644 472.45h0.9M657 489.45h0.9M658 492.45h0.9M648 489.45h0.9M660 479.45h0.9M655 490.45h0.9M660 485.45h0.9M653 484.45h0.9M657 492.45h0.9M658 490.45h0.9M649 491.45h0.9M658 477.45h0.9M663 488.45h0.9M666 492.45h0.9M661 477.45h0.9M663 494.45h0.9M661 483.45h0.9M655 484.45h0.9M649 496.45h0.9M651 478.45h0.9M641 487.45h0.9M647 483.45h0.9M660 488.45h0.9M658 484.45h0.9M667 491.45h0.9M663 476.45h0.9M665 481.45h0.9M657 482.45h0.9M656 483.45h0.9M648 468.45h0.9M675 491.45h0.9M657 479.45h0.9M657 488.45h0.9M659 484.45h0.9M651 486.45h0.9M666 490.45h0.9M653 489.45h0.9M657 483.45h0.9M648 485.45h0.9M657 494.45h0.9M655 487.45h0.9M656 484.45h0.9M668 478.45h0.9M651 488.45h0.9M647 489.45h0.9M648 483.45h0.9M660 477.45h0.9M656 495.45h0.9M660 486.45h0.9M668 477.45h0.9M656 481.45h0.9M657 490.45h0.9M668 485.45h0.9M647 482.45h0.9M658 476.45h0.9M657 493.45h0.9M655 482.45h0.9M646 473.45h0.9M646 472.45h0.9M650 484.45h0.9M643 483.45h0.9M655 481.45h0.9M647 477.45h0.9M655 468.45h0.9M650 481.45h0.9M657 481.45h0.9M645 487.45h0.9M651 479.45h0.9M652 495.45h0.9M648 498.45h0.9M662 482.45h0.9M649 483.45h0.9M654 493.45h0.9M648 473.45h0.9M653 479.45h0.9M664 498.45h0.9M658 489.45h0.9M655 493.45h0.9M652 485.45h0.9M648 487.45h0.9M656 480.45h0.9M647 481.45h0.9M643 486.45h0.9M655 485.45h0.9M672 477.45h0.9M647 487.45h0.9M635 480.45h0.9M666 485.45h0.9M658 488.45h0.9M665 498.45h0.9M670 478.45h0.9M641 483.45h0.9M647 486.45h0.9M651 490.45h0.9M656 489.45h0.9M665 482.45h0.9M658 486.45h0.9M641 486.45h0.9M660 484.45h0.9M645 485.45h0.9M649 470.45h0.9M656 478.45h0.9M665 488.45h0.9M661 488.45h0.9M659 474.45h0.9M654 479.45h0.9M654 485.45h0.9M660 483.45h0.9M652 479.45h0.9M662 484.45h0.9M655 478.45h0.9M660 489.45h0.9M658 478.45h0.9M665 486.45h0.9M646 485.45h0.9M659 493.45h0.9M661 484.45h0.9M652 483.45h0.9M653 487.45h0.9M644 480.45h0.9M650 494.45h0.9M662 489.45h0.9M655 497.45h0.9M653 480.45h0.9M666 487.45h0.9M666 474.45h0.9M650 482.45h0.9M650 486.45h0.9M633 486.45h0.9M648 480.45h0.9M653 500.45h0.9M656 490.45h0.9M646 474.45h0.9M658 481.45h0.9M659 483.45h0.9M658 485.45h0.9M646 492.45h0.9M645 475.45h0.9M656 494.45h0.9M666 484.45h0.9M647 502.45h0.9M655 473.45h0.9M651 483.45h0.9M645 480.45h0.9M664 486.45h0.9M646 493.45h0.9M662 478.45h0.9M658 496.45h0.9M647 468.45h0.9M665 490.45h0.9M660 490.45h0.9M664 478.45h0.9M642 484.45h0.9M650 472.45h0.9M636 469.45h0.9M663 500.45h0.9M655 491.45h0.9M657 478.45h0.9M654 478.45h0.9M644 498.45h0.9M657 477.45h0.9M657 486.45h0.9M656 498.45h0.9M644 469.45h0.9M661 496.45h0.9M660 494.45h0.9M652 489.45h0.9M649 481.45h0.9M664 479.45h0.9M668 488.45h0.9M650 479.45h0.9M648 491.45h0.9M650 478.45h0.9M649 477.45h0.9M645 484.45h0.9M665 478.45h0.9M667 487.45h0.9M651 498.45h0.9M565 446.45h0.9M523 453.45h0.9M542 451.45h0.9M530 439.45h0.9M532 453.45h0.9M579 449.45h0.9M521 455.45h0.9M592 450.45h0.9M524 460.45h0.9M543 457.45h0.9M513 462.45h0.9M551 456.45h0.9M595 452.45h0.9M587 457.45h0.9M598 459.45h0.9M533 439.45h0.9M516 444.45h0.9M591 455.45h0.9M537 455.45h0.9M538 439.45h0.9M572 440.45h0.9M526 439.45h0.9M593 442.45h0.9M541 450.45h0.9M529 458.45h0.9M527 447.45h0.9M533 453.45h0.9M514 447.45h0.9M522 452.45h0.9M523 447.45h0.9M571 447.45h0.9M593 448.45h0.9M562 442.45h0.9M548 439.45h0.9M512 450.45h0.9M522 449.45h0.9M525 451.45h0.9M535 448.45h0.9M515 449.45h0.9M582 443.45h0.9M529 454.45h0.9M573 450.45h0.9M582 458.45h0.9M556 448.45h0.9M607 452.45h0.9M520 453.45h0.9M522 443.45h0.9M546 450.45h0.9M536 452.45h0.9M531 453.45h0.9M511 435.45h0.9M537 452.45h0.9M527 452.45h0.9M515 448.45h0.9M575 460.45h0.9M542 440.45h0.9M581 451.45h0.9M570 451.45h0.9M534 446.45h0.9M524 450.45h0.9M551 451.45h0.9M510 434.45h0.9M519 443.45h0.9M537 454.45h0.9M574 447.45h0.9M518 448.45h0.9M555 447.45h0.9M533 445.45h0.9M545 456.45h0.9M539 449.45h0.9M528 449.45h0.9M567 453.45h0.9M527 454.45h0.9M548 444.45h0.9M573 456.45h0.9M514 452.45h0.9M515 433.45h0.9M562 446.45h0.9M568 451.45h0.9M578 444.45h0.9M576 453.45h0.9M524 442.45h0.9M543 448.45h0.9M568 454.45h0.9M517 447.45h0.9M524 449.45h0.9M534 432.45h0.9M563 448.45h0.9M542 449.45h0.9M547 451.45h0.9M510 441.45h0.9M540 441.45h0.9M526 454.45h0.9M556 456.45h0.9M523 449.45h0.9M534 450.45h0.9M578 462.45h0.9M545 449.45h0.9M513 451.45h0.9M576 455.45h0.9M521 448.45h0.9M574 459.45h0.9M562 455.45h0.9M515 458.45h0.9M530 452.45h0.9M576 451.45h0.9M567 458.45h0.9M558 438.45h0.9M550 448.45h0.9M525 455.45h0.9M532 455.45h0.9M547 452.45h0.9M608 455.45h0.9M518 449.45h0.9M544 452.45h0.9M529 453.45h0.9M512 443.45h0.9M612 456.45h0.9M536 448.45h0.9M510 451.45h0.9M533 456.45h0.9M542 447.45h0.9M559 457.45h0.9M556 444.45h0.9M540 436.45h0.9M544 462.45h0.9M565 453.45h0.9M520 440.45h0.9M553 456.45h0.9M544 445.45h0.9M589 453.45h0.9M512 440.45h0.9M560 439.45h0.9M562 457.45h0.9M518 451.45h0.9M607 457.45h0.9M567 449.45h0.9M559 455.45h0.9M552 445.45h0.9M524 432.45h0.9M511 434.45h0.9M554 444.45h0.9M536 445.45h0.9M521 462.45h0.9M529 444.45h0.9M556 458.45h0.9M537 451.45h0.9M530 446.45h0.9M534 447.45h0.9M528 451.45h0.9M513 440.45h0.9M531 454.45h0.9M551 452.45h0.9M530 451.45h0.9M556 455.45h0.9M526 451.45h0.9M542 446.45h0.9M544 440.45h0.9M554 453.45h0.9M530 444.45h0.9M555 456.45h0.9M559 440.45h0.9M521 451.45h0.9M534 451.45h0.9M598 454.45h0.9M558 445.45h0.9M516 450.45h0.9M537 435.45h0.9M563 441.45h0.9M531 442.45h0.9M538 450.45h0.9M511 446.45h0.9M606 445.45h0.9M533 446.45h0.9M547 461.45h0.9M514 451.45h0.9M563 462.45h0.9M537 438.45h0.9M540 455.45h0.9M520 448.45h0.9M542 448.45h0.9M551 443.45h0.9M534 440.45h0.9M539 453.45h0.9M550 452.45h0.9M547 449.45h0.9M573 458.45h0.9M571 456.45h0.9M528 445.45h0.9M561 461.45h0.9M561 451.45h0.9M518 446.45h0.9M600 444.45h0.9M581 448.45h0.9M594 453.45h0.9M531 440.45h0.9M675 414.45h0.9M599 361.45h0.9M591 396.45h0.9M624 369.45h0.9M634 444.45h0.9M641 375.45h0.9M585 397.45h0.9M569 405.45h0.9M540 428.45h0.9M565 411.45h0.9M522 363.45h0.9M530 399.45h0.9M557 402.45h0.9M615 405.45h0.9M674 401.45h0.9M524 343.45h0.9M588 440.45h0.9M664 397.45h0.9M651 401.45h0.9M567 400.45h0.9M611 385.45h0.9M584 444.45h0.9M649 448.45h0.9M649 419.45h0.9M592 429.45h0.9M629 423.45h0.9M609 431.45h0.9M653 441.45h0.9M672 342.45h0.9M514 453.45h0.9M566 400.45h0.9M515 397.45h0.9M639 457.45h0.9M558 352.45h0.9M602 348.45h0.9M646 443.45h0.9M669 436.45h0.9M594 418.45h0.9M633 431.45h0.9M515 344.45h0.9M538 358.45h0.9M670 347.45h0.9M640 343.45h0.9M675 371.45h0.9M664 364.45h0.9M534 380.45h0.9M645 347.45h0.9M568 400.45h0.9M516 446.45h0.9M520 359.45h0.9M538 377.45h0.9M667 386.45h0.9M664 454.45h0.9M585 418.45h0.9" stroke="#000" stroke-width="0.9" fill="none"/>
<path d="M539 461.55h1.1M530 503.55h1.1M538 462.55h1.1M513 496.55h1.1M530 473.55h1.1M539 498.55h1.1M530 504.55h1.1M529 487.55h1.1M557 468.55h1.1M529 469.55h1.1M573 448.55h1.1M554 458.55h1.1M548 473.55h1.1M535 493.55h1.1M573 449.55h1.1M541 490.55h1.1M545 502.55h1.1M542 482.55h1.1M527 471.55h1.1M521 475.55h1.1M531 499.55h1.1M558 468.55h1.1M533 482.55h1.1M537 476.55h1.1M570 462.55h1.1M528 471.55h1.1M558 476.55h1.1M530 475.55h1.1M536 480.55h1.1M545 497.55h1.1M528 503.55h1.1M573 464.55h1.1M550 456.55h1.1M536 495.55h1.1M564 463.55h1.1M548 497.55h1.1M563 459.55h1.1M512 481.55h1.1M525 465.55h1.1M529 463.55h1.1M534 459.55h1.1M530 466.55h1.1M529 485.55h1.1M542 491.55h1.1M556 466.55h1.1M550 493.55h1.1M534 489.55h1.1M516 472.55h1.1M565 454.55h1.1M527 494.55h1.1M568 445.55h1.1M537 487.55h1.1M530 501.55h1.1M578 446.55h1.1M528 478.55h1.1M559 479.55h1.1M532 480.55h1.1M555 462.55h1.1M547 496.55h1.1M510 487.55h1.1M559 464.55h1.1M539 481.55h1.1M566 451.55h1.1M549 460.55h1.1M537 490.55h1.1M511 503.55h1.1M511 496.55h1.1M554 464.55h1.1M538 474.55h1.1M568 451.55h1.1M566 461.55h1.1M545 481.55h1.1M535 475.55h1.1M560 456.55h1.1M521 490.55h1.1M555 478.55h1.1M530 469.55h1.1M512 497.55h1.1M565 453.55h1.1M531 504.55h1.1M558 460.55h1.1M547 475.55h1.1M538 484.55h1.1M514 468.55h1.1M524 487.55h1.1M571 452.55h1.1M511 472.55h1.1M564 469.55h1.1M534 484.55h1.1M563 473.55h1.1M566 455.55h1.1M545 499.55h1.1M513 497.55h1.1M517 485.55h1.1M548 493.55h1.1M550 473.55h1.1M547 457.55h1.1M514 485.55h1.1M559 454.55h1.1M571 448.55h1.1M525 463.55h1.1M547 473.55h1.1M537 464.55h1.1M554 454.55h1.1M564 453.55h1.1M560 454.55h1.1M533 489.55h1.1M538 502.55h1.1M534 503.55h1.1M566 456.55h1.1M511 475.55h1.1M533 466.55h1.1M532 485.55h1.1M546 463.55h1.1M513 472.55h1.1M542 468.55h1.1M560 464.55h1.1M540 471.55h1.1M535 463.55h1.1M556 469.55h1.1M576 452.55h1.1M514 491.55h1.1M572 456.55h1.1M529 493.55h1.1M526 487.55h1.1M509 473.55h1.1M517 483.55h1.1M513 480.55h1.1M520 480.55h1.1M518 504.55h1.1M545 457.55h1.1M519 484.55h1.1M551 487.55h1.1M555 472.55h1.1M553 460.55h1.1M518 470.55h1.1M575 459.55h1.1M541 467.55h1.1M537 496.55h1.1M530 478.55h1.1M524 480.55h1.1M523 483.55h1.1M531 484.55h1.1M528 468.55h1.1M546 503.55h1.1M536 470.55h1.1M547 497.55h1.1M562 461.55h1.1M534 480.55h1.1M513 494.55h1.1M537 478.55h1.1M541 482.55h1.1M553 472.55h1.1M524 485.55h1.1M571 456.55h1.1M513 479.55h1.1M526 493.55h1.1M554 470.55h1.1M541 493.55h1.1M555 450.55h1.1M521 477.55h1.1M562 458.55h1.1M541 461.55h1.1M533 463.55h1.1M510 500.55h1.1M550 494.55h1.1M544 478.55h1.1M544 475.55h1.1M525 488.55h1.1M569 465.55h1.1M525 483.55h1.1M577 455.55h1.1M528 470.55h1.1M570 448.55h1.1M572 451.55h1.1M539 500.55h1.1M549 489.55h1.1M530 487.55h1.1M569 460.55h1.1M521 481.55h1.1M513 482.55h1.1M558 480.55h1.1M549 464.55h1.1M574 461.55h1.1M572 455.55h1.1M523 494.55h1.1M527 484.55h1.1M522 494.55h1.1M569 452.55h1.1M514 489.55h1.1M517 476.55h1.1M520 472.55h1.1M568 449.55h1.1M540 479.55h1.1M557 482.55h1.1M522 469.55h1.1M561 469.55h1.1M539 462.55h1.1M518 469.55h1.1M539 473.55h1.1M524 465.55h1.1M546 477.55h1.1M528 475.55h1.1M525 494.55h1.1M570 457.55h1.1M567 453.55h1.1M532 501.55h1.1M513 478.55h1.1M564 458.55h1.1M533 484.55h1.1M540 466.55h1.1M539 470.55h1.1M535 500.55h1.1M526 475.55h1.1M545 469.55h1.1M545 501.55h1.1M549 481.55h1.1M548 478.55h1.1M523 496.55h1.1M510 472.55h1.1M514 475.55h1.1M534 477.55h1.1M553 461.55h1.1M520 484.55h1.1M563 466.55h1.1M538 494.55h1.1M562 466.55h1.1M546 500.55h1.1M512 470.55h1.1M519 476.55h1.1M559 453.55h1.1M545 487.55h1.1M517 472.55h1.1M544 500.55h1.1M515 488.55h1.1M542 484.55h1.1M559 461.55h1.1M527 470.55h1.1M557 453.55h1.1M562 463.55h1.1M545 460.55h1.1M551 485.55h1.1M537 499.55h1.1M538 500.55h1.1M561 466.55h1.1M562 453.55h1.1M528 466.55h1.1M520 468.55h1.1M517 475.55h1.1M519 469.55h1.1M561 465.55h1.1M550 484.55h1.1M526 474.55h1.1M540 477.55h1.1M530 500.55h1.1M548 475.55h1.1M571 457.55h1.1M543 490.55h1.1M551 480.55h1.1M545 503.55h1.1M564 448.55h1.1M550 485.55h1.1M546 484.55h1.1M547 454.55h1.1M572 454.55h1.1M529 467.55h1.1M568 444.55h1.1M525 500.55h1.1M534 471.55h1.1M535 467.55h1.1M540 483.55h1.1M529 471.55h1.1M513 488.55h1.1M550 483.55h1.1M557 455.55h1.1M554 488.55h1.1M524 493.55h1.1M533 479.55h1.1M540 472.55h1.1M545 492.55h1.1M571 460.55h1.1M518 499.55h1.1M525 485.55h1.1M552 470.55h1.1M559 474.55h1.1M534 463.55h1.1M554 487.55h1.1M545 466.55h1.1M513 492.55h1.1M553 455.55h1.1M520 501.55h1.1M545 504.55h1.1M555 475.55h1.1M541 502.55h1.1M526 496.55h1.1M510 493.55h1.1M563 471.55h1.1M515 475.55h1.1M547 478.55h1.1M534 486.55h1.1M548 489.55h1.1M539 480.55h1.1M539 493.55h1.1M557 456.55h1.1M544 497.55h1.1M531 482.55h1.1M511 495.55h1.1M525 497.55h1.1M522 474.55h1.1M532 461.55h1.1M563 469.55h1.1M544 459.55h1.1M519 485.55h1.1M550 457.55h1.1M515 485.55h1.1M522 486.55h1.1M556 470.55h1.1M534 487.55h1.1M558 461.55h1.1M562 450.55h1.1M561 463.55h1.1M543 462.55h1.1M536 464.55h1.1M532 500.55h1.1M530 468.55h1.1M521 487.55h1.1M552 459.55h1.1M568 465.55h1.1M525 503.55h1.1M545 463.55h1.1M531 478.55h1.1M518 482.55h1.1M544 483.55h1.1M537 484.55h1.1M568 462.55h1.1M534 502.55h1.1M533 485.55h1.1M510 477.55h1.1M560 453.55h1.1M522 489.55h1.1M548 469.55h1.1M514 490.55h1.1M544 477.55h1.1M565 469.55h1.1M534 462.55h1.1M536 483.55h1.1M527 479.55h1.1M581 453.55h1.1M522 468.55h1.1M544 488.55h1.1M515 476.55h1.1M569 463.55h1.1M564 457.55h1.1M533 501.55h1.1M570 458.55h1.1M561 474.55h1.1M554 474.55h1.1M535 503.55h1.1M552 469.55h1.1M533 499.55h1.1M517 490.55h1.1M533 460.55h1.1M516 478.55h1.1M532 492.55h1.1M551 483.55h1.1M565 457.55h1.1M561 461.55h1.1M549 469.55h1.1M553 477.55h1.1M557 454.55h1.1M519 473.55h1.1M568 452.55h1.1M580 452.55h1.1M549 470.55h1.1M542 479.55h1.1M519 489.55h1.1M542 466.55h1.1M558 459.55h1.1M523 481.55h1.1M575 451.55h1.1M527 483.55h1.1M523 476.55h1.1M538 464.55h1.1M529 466.55h1.1M534 474.55h1.1M537 495.55h1.1M576 454.55h1.1M554 482.55h1.1M571 462.55h1.1M542 493.55h1.1M564 464.55h1.1M525 475.55h1.1M515 501.55h1.1M531 464.55h1.1M549 463.55h1.1M524 495.55h1.1M544 472.55h1.1M534 465.55h1.1M565 450.55h1.1M561 462.55h1.1M540 497.55h1.1M544 469.55h1.1M512 473.55h1.1M545 467.55h1.1M531 479.55h1.1M549 476.55h1.1M569 468.55h1.1M557 462.55h1.1M548 466.55h1.1M531 493.55h1.1M538 496.55h1.1M555 474.55h1.1M520 481.55h1.1M550 478.55h1.1M524 502.55h1.1M541 503.55h1.1M528 498.55h1.1M544 482.55h1.1M512 477.55h1.1M557 463.55h1.1M541 500.55h1.1M541 481.55h1.1M549 479.55h1.1M531 498.55h1.1M516 476.55h1.1M551 491.55h1.1M525 471.55h1.1M565 466.55h1.1M553 478.55h1.1M558 463.55h1.1M560 472.55h1.1M545 462.55h1.1M545 494.55h1.1M554 471.55h1.1M569 459.55h1.1M559 468.55h1.1M527 501.55h1.1M554 475.55h1.1M525 479.55h1.1M580 453.55h1.1M556 457.55h1.1M519 493.55h1.1M531 467.55h1.1M538 495.55h1.1M512 487.55h1.1M555 460.55h1.1M511 479.55h1.1M543 491.55h1.1M522 475.55h1.1M538 492.55h1.1M536 486.55h1.1M514 493.55h1.1M549 472.55h1.1M569 466.55h1.1M528 489.55h1.1M534 501.55h1.1M514 469.55h1.1M555 476.55h1.1M550 460.55h1.1M551 464.55h1.1M515 498.55h1.1M535 480.55h1.1M542 476.55h1.1M549 480.55h1.1M530 479.55h1.1M542 467.55h1.1M535 462.55h1.1M526 479.55h1.1M553 484.55h1.1M552 461.55h1.1M527 487.55h1.1M545 486.55h1.1M527 477.55h1.1M517 499.55h1.1M529 500.55h1.1M548 499.55h1.1M570 454.55h1.1M544 462.55h1.1M531 466.55h1.1M558 454.55h1.1M536 469.55h1.1M532 475.55h1.1M554 480.55h1.1M535 477.55h1.1M560 458.55h1.1M538 489.55h1.1M544 474.55h1.1M546 469.55h1.1M529 481.55h1.1M556 458.55h1.1M521 497.55h1.1M562 465.55h1.1M565 464.55h1.1M547 504.55h1.1M554 473.55h1.1M532 495.55h1.1M548 492.55h1.1M523 486.55h1.1M530 498.55h1.1M525 470.55h1.1M511 499.55h1.1M557 451.55h1.1M551 460.55h1.1M576 464.55h1.1M541 474.55h1.1M525 493.55h1.1M524 489.55h1.1M545 496.55h1.1M558 455.55h1.1M520 489.55h1.1M533 492.55h1.1M517 501.55h1.1M549 477.55h1.1M516 500.55h1.1M535 490.55h1.1M562 468.55h1.1M559 470.55h1.1M523 485.55h1.1M553 473.55h1.1M546 468.55h1.1M558 452.55h1.1M566 457.55h1.1M552 468.55h1.1M520 498.55h1.1M540 499.55h1.1M540 496.55h1.1M541 495.55h1.1M546 501.55h1.1M555 464.55h1.1M540 463.55h1.1M528 488.55h1.1M510 468.55h1.1M523 478.55h1.1M577 456.55h1.1M514 483.55h1.1M565 463.55h1.1M552 481.55h1.1M518 483.55h1.1M561 455.55h1.1M551 462.55h1.1M549 495.55h1.1M524 492.55h1.1M528 493.55h1.1M512 488.55h1.1M547 458.55h1.1M549 462.55h1.1M511 494.55h1.1M521 469.55h1.1M561 452.55h1.1M511 488.55h1.1M548 477.55h1.1M538 486.55h1.1M550 455.55h1.1M511 471.55h1.1M512 492.55h1.1M539 460.55h1.1M524 498.55h1.1M511 486.55h1.1M554 477.55h1.1M559 463.55h1.1M548 476.55h1.1M555 471.55h1.1M520 490.55h1.1M550 479.55h1.1M558 477.55h1.1M517 497.55h1.1M532 465.55h1.1M521 485.55h1.1M534 488.55h1.1M573 462.55h1.1M538 469.55h1.1M525 501.55h1.1M535 479.55h1.1M572 461.55h1.1M566 460.55h1.1M531 489.55h1.1M546 491.55h1.1M573 456.55h1.1M511 487.55h1.1M547 482.55h1.1M523 499.55h1.1M521 478.55h1.1M531 468.55h1.1M510 497.55h1.1M541 499.55h1.1M540 501.55h1.1M522 496.55h1.1M567 450.55h1.1M539 492.55h1.1M543 501.55h1.1M514 487.55h1.1M553 466.55h1.1M571 459.55h1.1M546 462.55h1.1M526 482.55h1.1M522 473.55h1.1M561 449.55h1.1M559 480.55h1.1M518 489.55h1.1M543 469.55h1.1M539 486.55h1.1M555 453.55h1.1M531 473.55h1.1M525 492.55h1.1M566 452.55h1.1M552 462.55h1.1M555 477.55h1.1M542 455.55h1.1M519 470.55h1.1M562 457.55h1.1M526 469.55h1.1M571 447.55h1.1M570 447.55h1.1M520 493.55h1.1M555 461.55h1.1M524 494.55h1.1M519 488.55h1.1M520 488.55h1.1M563 465.55h1.1M558 449.55h1.1M543 494.55h1.1M548 462.55h1.1M527 486.55h1.1M544 467.55h1.1M538 493.55h1.1M529 495.55h1.1M513 484.55h1.1M515 496.55h1.1M546 496.55h1.1M525 468.55h1.1M567 449.55h1.1M556 478.55h1.1M538 485.55h1.1M525 473.55h1.1M543 474.55h1.1M522 493.55h1.1M545 482.55h1.1M519 495.55h1.1M522 490.55h1.1M546 490.55h1.1M531 474.55h1.1M565 467.55h1.1M520 494.55h1.1M537 469.55h1.1M541 480.55h1.1M537 471.55h1.1M555 470.55h1.1M523 497.55h1.1M575 450.55h1.1M554 456.55h1.1M568 447.55h1.1M543 499.55h1.1M524 467.55h1.1M527 489.55h1.1M518 491.55h1.1M531 490.55h1.1M526 503.55h1.1M568 450.55h1.1M550 453.55h1.1M513 470.55h1.1M560 469.55h1.1M519 492.55h1.1M529 496.55h1.1M565 470.55h1.1M539 475.55h1.1M517 498.55h1.1M540 490.55h1.1M538 490.55h1.1M514 494.55h1.1M544 495.55h1.1M534 497.55h1.1M558 466.55h1.1M570 456.55h1.1M529 465.55h1.1M566 469.55h1.1M521 471.55h1.1M566 458.55h1.1M532 464.55h1.1M551 452.55h1.1M567 445.55h1.1M558 473.55h1.1M531 503.55h1.1M521 488.55h1.1M547 503.55h1.1M576 451.55h1.1M559 455.55h1.1M541 464.55h1.1M520 467.55h1.1M512 482.55h1.1M535 489.55h1.1M560 450.55h1.1M530 494.55h1.1M526 471.55h1.1M516 486.55h1.1M542 487.55h1.1M535 492.55h1.1M527 469.55h1.1M570 455.55h1.1M540 498.55h1.1M542 473.55h1.1M519 499.55h1.1M527 482.55h1.1M541 487.55h1.1M541 470.55h1.1M539 472.55h1.1M513 491.55h1.1M557 481.55h1.1M542 500.55h1.1M562 456.55h1.1M565 462.55h1.1M518 494.55h1.1M550 480.55h1.1M526 484.55h1.1M510 479.55h1.1M530 492.55h1.1M528 501.55h1.1M542 475.55h1.1M526 502.55h1.1M551 465.55h1.1M545 483.55h1.1M538 465.55h1.1M567 458.55h1.1M519 477.55h1.1M540 473.55h1.1M516 480.55h1.1M551 472.55h1.1M545 474.55h1.1M562 462.55h1.1M540 480.55h1.1M521 484.55h1.1M544 485.55h1.1M540 462.55h1.1M538 463.55h1.1M516 494.55h1.1M531 495.55h1.1M541 498.55h1.1M556 462.55h1.1M519 500.55h1.1M535 466.55h1.1M533 483.55h1.1M519 479.55h1.1M553 452.55h1.1M533 472.55h1.1M579 455.55h1.1M517 474.55h1.1M548 491.55h1.1M551 476.55h1.1M532 497.55h1.1M518 487.55h1.1M539 479.55h1.1M552 489.55h1.1M546 466.55h1.1M526 470.55h1.1M540 456.55h1.1M577 459.55h1.1M532 481.55h1.1M519 471.55h1.1M543 463.55h1.1M533 476.55h1.1M545 498.55h1.1M536 496.55h1.1M528 473.55h1.1M549 457.55h1.1M516 499.55h1.1M562 470.55h1.1M518 471.55h1.1M547 501.55h1.1M515 479.55h1.1M576 449.55h1.1M547 502.55h1.1M525 486.55h1.1M552 476.55h1.1M568 453.55h1.1M527 502.55h1.1M536 478.55h1.1M510 492.55h1.1M574 448.55h1.1M545 473.55h1.1M541 476.55h1.1M576 463.55h1.1M531 501.55h1.1M519 465.55h1.1M568 467.55h1.1M548 461.55h1.1M535 469.55h1.1M553 469.55h1.1M514 480.55h1.1M518 501.55h1.1M539 466.55h1.1M557 469.55h1.1M569 450.55h1.1M529 468.55h1.1M518 502.55h1.1M534 481.55h1.1M530 474.55h1.1M560 473.55h1.1M529 478.55h1.1M570 449.55h1.1M559 451.55h1.1M529 464.55h1.1M542 474.55h1.1M512 503.55h1.1M554 467.55h1.1M518 488.55h1.1M532 489.55h1.1M512 502.55h1.1M540 478.55h1.1M530 463.55h1.1M547 467.55h1.1M521 492.55h1.1M543 461.55h1.1M572 448.55h1.1M528 474.55h1.1M567 462.55h1.1M540 484.55h1.1M538 471.55h1.1M557 474.55h1.1M528 463.55h1.1M531 481.55h1.1M559 469.55h1.1M550 462.55h1.1M536 459.55h1.1M543 502.55h1.1M539 497.55h1.1M526 467.55h1.1M520 473.55h1.1M531 485.55h1.1M576 462.55h1.1M544 468.55h1.1M550 474.55h1.1M512 479.55h1.1M516 501.55h1.1M556 464.55h1.1M553 465.55h1.1M535 495.55h1.1M524 490.55h1.1M561 448.55h1.1M523 466.55h1.1M517 470.55h1.1M537 485.55h1.1M545 459.55h1.1M521 501.55h1.1M521 479.55h1.1M522 478.55h1.1M538 468.55h1.1M539 487.55h1.1M523 471.55h1.1M513 474.55h1.1M514 476.55h1.1M529 499.55h1.1M541 497.55h1.1M536 494.55h1.1M540 494.55h1.1M551 500.55h1.1M576 459.55h1.1M551 478.55h1.1M510 498.55h1.1M545 488.55h1.1M516 474.55h1.1M562 467.55h1.1M523 502.55h1.1M527 490.55h1.1M541 460.55h1.1M558 472.55h1.1M542 472.55h1.1M518 477.55h1.1M539 494.55h1.1M512 472.55h1.1M547 462.55h1.1M580 454.55h1.1M578 459.55h1.1M528 494.55h1.1M551 473.55h1.1M572 464.55h1.1M530 495.55h1.1M574 462.55h1.1M547 480.55h1.1M527 463.55h1.1M569 445.55h1.1M542 462.55h1.1M574 451.55h1.1M523 489.55h1.1M547 469.55h1.1M554 468.55h1.1M548 479.55h1.1M515 481.55h1.1M512 493.55h1.1M544 487.55h1.1M536 476.55h1.1M510 476.55h1.1M553 485.55h1.1M571 461.55h1.1M553 464.55h1.1M527 481.55h1.1M566 464.55h1.1M570 469.55h1.1M514 497.55h1.1M532 486.55h1.1M564 455.55h1.1M576 450.55h1.1M517 496.55h1.1M537 489.55h1.1M526 477.55h1.1M522 499.55h1.1M514 501.55h1.1M540 475.55h1.1M547 474.55h1.1M551 451.55h1.1M537 479.55h1.1M526 492.55h1.1M544 492.55h1.1M510 504.55h1.1M517 478.55h1.1M519 468.55h1.1M570 467.55h1.1M534 498.55h1.1M564 467.55h1.1M529 475.55h1.1M543 460.55h1.1M565 472.55h1.1M546 504.55h1.1M531 475.55h1.1M549 467.55h1.1M509 499.55h1.1M551 467.55h1.1M558 465.55h1.1M528 467.55h1.1M544 461.55h1.1M568 454.55h1.1M558 474.55h1.1M525 496.55h1.1M545 500.55h1.1M563 456.55h1.1M562 472.55h1.1M535 471.55h1.1M545 477.55h1.1M529 486.55h1.1M532 476.55h1.1M524 503.55h1.1M535 484.55h1.1M540 485.55h1.1M532 482.55h1.1M520 499.55h1.1M512 501.55h1.1M548 490.55h1.1M535 491.55h1.1M554 462.55h1.1M561 464.55h1.1M511 477.55h1.1M551 468.55h1.1M519 498.55h1.1M545 465.55h1.1M578 449.55h1.1M526 500.55h1.1M532 474.55h1.1M544 464.55h1.1M537 461.55h1.1M512 475.55h1.1M549 473.55h1.1M533 487.55h1.1M531 470.55h1.1M536 468.55h1.1M573 452.55h1.1M570 465.55h1.1M531 465.55h1.1M537 475.55h1.1M538 498.55h1.1M523 491.55h1.1M534 475.55h1.1M568 459.55h1.1M552 452.55h1.1M535 499.55h1.1M541 475.55h1.1M523 473.55h1.1M537 458.55h1.1M539 484.55h1.1M556 456.55h1.1M573 454.55h1.1M557 472.55h1.1M545 470.55h1.1M518 493.55h1.1M540 469.55h1.1M568 464.55h1.1M533 480.55h1.1M569 461.55h1.1M546 489.55h1.1M519 472.55h1.1M510 490.55h1.1M515 483.55h1.1M510 475.55h1.1M537 494.55h1.1M511 498.55h1.1M526 473.55h1.1M544 471.55h1.1M558 464.55h1.1M546 478.55h1.1M559 466.55h1.1M569 462.55h1.1M551 475.55h1.1M553 480.55h1.1M570 464.55h1.1M568 461.55h1.1M524 476.55h1.1M537 462.55h1.1M517 481.55h1.1M532 467.55h1.1M524 474.55h1.1M542 497.55h1.1M515 497.55h1.1M535 481.55h1.1M524 484.55h1.1M536 474.55h1.1M531 492.55h1.1M527 474.55h1.1M577 458.55h1.1M520 478.55h1.1M527 495.55h1.1M521 499.55h1.1M547 472.55h1.1M551 470.55h1.1M536 503.55h1.1M527 468.55h1.1M573 463.55h1.1M547 487.55h1.1M547 485.55h1.1M569 464.55h1.1M546 464.55h1.1M561 457.55h1.1M540 486.55h1.1M527 472.55h1.1M561 450.55h1.1M544 484.55h1.1M554 479.55h1.1M539 491.55h1.1M551 474.55h1.1M516 502.55h1.1M566 465.55h1.1M567 465.55h1.1M521 502.55h1.1M523 468.55h1.1M511 497.55h1.1M532 466.55h1.1M532 477.55h1.1M535 478.55h1.1M565 455.55h1.1M527 491.55h1.1M550 501.55h1.1M543 496.55h1.1M566 470.55h1.1M575 454.55h1.1M568 468.55h1.1M550 482.55h1.1M537 477.55h1.1M525 472.55h1.1M541 473.55h1.1M558 475.55h1.1M555 459.55h1.1M547 464.55h1.1M567 473.55h1.1M525 484.55h1.1M545 458.55h1.1M538 480.55h1.1M532 460.55h1.1M546 459.55h1.1M563 451.55h1.1M569 454.55h1.1M511 484.55h1.1M519 482.55h1.1M540 468.55h1.1M567 457.55h1.1M556 459.55h1.1M527 466.55h1.1M539 489.55h1.1M522 503.55h1.1M548 459.55h1.1M544 486.55h1.1M541 486.55h1.1M554 472.55h1.1M522 498.55h1.1M521 496.55h1.1M552 465.55h1.1M520 485.55h1.1M547 489.55h1.1M538 477.55h1.1M552 467.55h1.1M551 495.55h1.1M553 467.55h1.1M523 469.55h1.1M525 490.55h1.1M546 461.55h1.1M532 502.55h1.1M559 457.55h1.1M569 456.55h1.1M552 480.55h1.1M524 469.55h1.1M565 460.55h1.1M555 465.55h1.1M512 469.55h1.1M524 499.55h1.1M522 466.55h1.1M546 485.55h1.1M551 466.55h1.1M513 481.55h1.1M538 475.55h1.1M539 483.55h1.1M522 482.55h1.1M545 471.55h1.1M549 461.55h1.1M539 457.55h1.1M536 493.55h1.1M574 454.55h1.1M550 459.55h1.1M551 488.55h1.1M516 497.55h1.1M513 490.55h1.1M554 460.55h1.1M577 461.55h1.1M510 483.55h1.1M518 468.55h1.1M510 474.55h1.1M525 477.55h1.1M518 497.55h1.1M538 501.55h1.1M524 496.55h1.1M545 484.55h1.1M547 471.55h1.1M525 498.55h1.1M567 471.55h1.1M526 486.55h1.1M547 500.55h1.1M515 474.55h1.1M551 481.55h1.1M567 444.55h1.1M530 490.55h1.1M523 480.55h1.1M563 449.55h1.1M526 481.55h1.1M510 494.55h1.1M537 502.55h1.1M534 472.55h1.1M547 470.55h1.1M536 472.55h1.1M556 467.55h1.1M548 460.55h1.1M514 498.55h1.1M546 460.55h1.1M543 480.55h1.1M540 476.55h1.1M552 482.55h1.1M544 501.55h1.1M570 459.55h1.1M520 479.55h1.1M575 455.55h1.1M548 464.55h1.1M548 481.55h1.1M516 469.55h1.1M561 472.55h1.1M557 470.55h1.1M546 473.55h1.1M535 468.55h1.1M563 468.55h1.1M517 500.55h1.1M512 486.55h1.1M563 464.55h1.1M562 452.55h1.1M526 501.55h1.1M536 497.55h1.1M530 496.55h1.1M523 475.55h1.1M521 480.55h1.1M532 472.55h1.1M564 454.55h1.1M546 472.55h1.1M536 489.55h1.1M553 463.55h1.1M557 461.55h1.1M512 478.55h1.1M525 499.55h1.1M540 500.55h1.1M560 459.55h1.1M536 481.55h1.1M552 483.55h1.1M556 465.55h1.1M543 500.55h1.1M529 492.55h1.1M515 499.55h1.1M542 502.55h1.1M548 487.55h1.1M517 487.55h1.1M534 500.55h1.1M511 500.55h1.1M561 459.55h1.1M575 461.55h1.1M511 489.55h1.1M510 485.55h1.1M545 478.55h1.1M509 475.55h1.1M521 498.55h1.1M534 466.55h1.1M545 479.55h1.1M532 469.55h1.1M535 470.55h1.1M536 471.55h1.1M537 483.55h1.1M536 487.55h1.1M544 490.55h1.1M533 475.55h1.1M547 460.55h1.1M533 486.55h1.1M527 492.55h1.1M550 503.55h1.1M518 496.55h1.1M578 455.55h1.1M525 502.55h1.1M539 465.55h1.1M530 497.55h1.1M547 488.55h1.1M547 498.55h1.1M574 457.55h1.1M523 498.55h1.1M567 459.55h1.1M567 456.55h1.1M561 471.55h1.1M540 492.55h1.1M532 491.55h1.1M558 458.55h1.1M556 453.55h1.1M536 475.55h1.1M518 476.55h1.1M528 484.55h1.1M510 499.55h1.1M522 481.55h1.1M520 491.55h1.1M542 465.55h1.1M560 451.55h1.1M530 493.55h1.1M577 457.55h1.1M562 464.55h1.1M549 488.55h1.1M540 482.55h1.1M541 492.55h1.1M543 479.55h1.1M553 470.55h1.1M537 493.55h1.1M550 458.55h1.1M544 476.55h1.1M567 467.55h1.1M551 486.55h1.1M541 471.55h1.1M511 476.55h1.1M552 475.55h1.1M576 458.55h1.1M563 470.55h1.1M535 474.55h1.1M572 445.55h1.1M516 492.55h1.1M575 458.55h1.1M536 490.55h1.1M564 460.55h1.1M575 463.55h1.1M571 470.55h1.1M556 474.55h1.1M534 478.55h1.1M558 453.55h1.1M540 487.55h1.1M567 451.55h1.1M542 496.55h1.1M533 498.55h1.1M563 472.55h1.1M519 502.55h1.1M534 483.55h1.1M527 476.55h1.1M565 461.55h1.1M578 448.55h1.1M527 462.55h1.1M525 481.55h1.1M533 464.55h1.1M545 485.55h1.1M544 479.55h1.1M567 464.55h1.1M545 461.55h1.1M514 499.55h1.1M561 451.55h1.1M515 500.55h1.1M553 474.55h1.1M544 503.55h1.1M557 477.55h1.1M526 465.55h1.1M514 479.55h1.1M543 467.55h1.1M568 463.55h1.1M515 478.55h1.1M550 486.55h1.1M515 473.55h1.1M527 499.55h1.1M531 463.55h1.1M538 459.55h1.1M539 482.55h1.1M547 456.55h1.1M546 502.55h1.1M560 463.55h1.1M527 497.55h1.1M514 488.55h1.1M516 475.55h1.1M548 470.55h1.1M516 485.55h1.1M546 481.55h1.1M543 477.55h1.1M519 467.55h1.1M573 459.55h1.1M551 461.55h1.1M529 470.55h1.1M551 493.55h1.1M556 460.55h1.1M573 457.55h1.1M543 458.55h1.1M512 485.55h1.1M558 456.55h1.1M522 488.55h1.1M569 449.55h1.1M549 487.55h1.1M561 475.55h1.1M547 476.55h1.1M521 483.55h1.1M552 456.55h1.1M556 463.55h1.1M531 491.55h1.1M534 482.55h1.1M553 458.55h1.1M546 499.55h1.1M533 497.55h1.1M512 467.55h1.1M520 465.55h1.1M553 483.55h1.1M564 471.55h1.1M547 493.55h1.1M517 492.55h1.1M566 467.55h1.1M548 488.55h1.1M526 499.55h1.1M530 464.55h1.1M526 478.55h1.1M570 452.55h1.1M556 451.55h1.1M538 470.55h1.1M572 450.55h1.1M528 477.55h1.1M516 496.55h1.1M541 468.55h1.1M542 461.55h1.1M539 467.55h1.1M515 482.55h1.1M527 493.55h1.1M538 476.55h1.1M553 456.55h1.1M551 456.55h1.1M525 491.55h1.1M533 500.55h1.1M520 500.55h1.1M574 452.55h1.1M551 469.55h1.1M517 489.55h1.1M534 493.55h1.1M516 483.55h1.1M520 502.55h1.1M547 481.55h1.1M550 489.55h1.1M523 474.55h1.1M533 469.55h1.1M519 475.55h1.1M567 448.55h1.1M523 482.55h1.1M548 483.55h1.1M511 478.55h1.1M559 465.55h1.1M528 502.55h1.1M576 456.55h1.1M539 464.55h1.1M525 466.55h1.1M521 495.55h1.1M571 463.55h1.1M565 451.55h1.1M539 502.55h1.1M543 483.55h1.1M518 475.55h1.1M512 496.55h1.1M546 471.55h1.1M572 463.55h1.1M547 499.55h1.1M522 477.55h1.1M540 489.55h1.1M518 498.55h1.1M537 486.55h1.1M533 465.55h1.1M531 497.55h1.1M526 485.55h1.1M517 479.55h1.1M548 474.55h1.1M532 488.55h1.1M514 482.55h1.1M530 481.55h1.1M539 471.55h1.1M546 482.55h1.1M554 476.55h1.1M553 450.55h1.1M537 472.55h1.1M532 478.55h1.1M538 487.55h1.1M549 490.55h1.1M527 498.55h1.1M537 465.55h1.1M555 466.55h1.1M523 477.55h1.1M549 465.55h1.1M577 452.55h1.1M544 481.55h1.1M563 453.55h1.1M530 460.55h1.1M531 488.55h1.1M511 493.55h1.1M563 462.55h1.1M528 487.55h1.1M576 455.55h1.1M510 503.55h1.1M538 478.55h1.1M551 463.55h1.1M527 488.55h1.1M553 482.55h1.1M524 483.55h1.1M511 482.55h1.1M532 463.55h1.1M554 463.55h1.1M572 459.55h1.1M563 476.55h1.1M536 500.55h1.1M517 488.55h1.1M556 476.55h1.1M522 491.55h1.1M536 462.55h1.1M533 462.55h1.1M529 498.55h1.1M534 499.55h1.1M529 474.55h1.1M553 454.55h1.1M540 465.55h1.1M557 475.55h1.1M525 469.55h1.1M542 488.55h1.1M515 490.55h1.1M516 490.55h1.1M526 491.55h1.1M552 463.55h1.1M575 452.55h1.1M549 502.55h1.1M540 458.55h1.1M530 483.55h1.1M550 470.55h1.1M514 486.55h1.1M529 503.55h1.1M534 470.55h1.1M541 463.55h1.1M510 471.55h1.1M569 453.55h1.1M573 458.55h1.1M515 493.55h1.1M538 460.55h1.1M521 491.55h1.1M533 493.55h1.1M539 474.55h1.1M568 457.55h1.1M535 504.55h1.1M554 453.55h1.1M515 484.55h1.1M543 476.55h1.1M520 482.55h1.1M566 462.55h1.1M516 504.55h1.1M532 493.55h1.1M574 453.55h1.1M566 468.55h1.1M521 474.55h1.1M517 486.55h1.1M571 465.55h1.1M558 462.55h1.1M524 488.55h1.1M535 498.55h1.1M545 476.55h1.1M554 478.55h1.1M566 454.55h1.1M548 482.55h1.1M510 489.55h1.1M543 493.55h1.1M510 495.55h1.1M517 503.55h1.1M514 492.55h1.1M522 471.55h1.1M523 472.55h1.1M555 468.55h1.1M513 501.55h1.1M548 471.55h1.1M527 496.55h1.1M564 452.55h1.1M561 454.55h1.1M514 472.55h1.1M539 499.55h1.1M532 487.55h1.1M515 468.55h1.1M550 461.55h1.1M552 464.55h1.1M526 495.55h1.1M531 469.55h1.1M533 494.55h1.1M523 484.55h1.1M550 475.55h1.1M547 491.55h1.1M571 449.55h1.1M512 494.55h1.1M570 460.55h1.1M535 502.55h1.1M548 456.55h1.1M532 483.55h1.1M523 495.55h1.1M515 470.55h1.1M510 502.55h1.1M548 484.55h1.1M553 468.55h1.1M532 503.55h1.1M525 467.55h1.1M538 497.55h1.1M512 484.55h1.1M571 455.55h1.1M538 488.55h1.1M527 465.55h1.1M518 484.55h1.1M558 470.55h1.1M562 473.55h1.1M558 469.55h1.1M521 473.55h1.1M560 466.55h1.1M551 484.55h1.1M518 485.55h1.1M523 467.55h1.1M522 500.55h1.1M563 460.55h1.1M542 494.55h1.1M570 451.55h1.1M533 481.55h1.1M550 468.55h1.1M525 464.55h1.1M510 480.55h1.1M552 455.55h1.1M550 471.55h1.1M512 476.55h1.1M526 464.55h1.1M549 491.55h1.1M517 502.55h1.1M557 465.55h1.1M575 465.55h1.1M542 485.55h1.1M521 489.55h1.1M549 484.55h1.1M548 457.55h1.1M575 460.55h1.1M560 479.55h1.1M534 485.55h1.1M560 461.55h1.1M515 503.55h1.1M513 489.55h1.1M510 481.55h1.1M531 483.55h1.1M536 484.55h1.1M566 453.55h1.1M519 480.55h1.1M517 471.55h1.1M552 477.55h1.1M563 467.55h1.1M554 469.55h1.1M556 468.55h1.1M526 472.55h1.1M533 478.55h1.1M550 477.55h1.1M577 454.55h1.1M540 460.55h1.1M575 456.55h1.1M560 447.55h1.1M558 481.55h1.1M531 476.55h1.1M569 447.55h1.1M528 465.55h1.1M514 484.55h1.1M532 499.55h1.1M568 471.55h1.1M548 496.55h1.1M572 457.55h1.1M528 500.55h1.1M531 486.55h1.1M532 479.55h1.1M515 491.55h1.1M530 489.55h1.1M538 491.55h1.1M543 472.55h1.1M551 489.55h1.1M542 483.55h1.1M525 482.55h1.1M527 485.55h1.1M546 457.55h1.1M560 475.55h1.1M538 483.55h1.1M540 474.55h1.1M540 464.55h1.1M557 464.55h1.1M535 465.55h1.1M527 480.55h1.1M515 471.55h1.1M510 496.55h1.1M532 470.55h1.1M579 448.55h1.1M523 470.55h1.1M560 457.55h1.1M567 447.55h1.1M542 498.55h1.1M533 502.55h1.1M525 478.55h1.1M546 465.55h1.1M569 471.55h1.1M543 455.55h1.1M546 488.55h1.1M560 465.55h1.1M513 504.55h1.1M551 482.55h1.1M566 445.55h1.1M535 482.55h1.1M528 472.55h1.1M557 476.55h1.1M537 492.55h1.1M529 473.55h1.1M517 473.55h1.1M516 503.55h1.1M523 465.55h1.1M513 502.55h1.1M559 473.55h1.1M514 481.55h1.1M521 467.55h1.1M574 455.55h1.1M563 448.55h1.1M561 467.55h1.1M555 455.55h1.1M513 476.55h1.1M570 453.55h1.1M516 495.55h1.1M522 476.55h1.1M547 492.55h1.1M532 468.55h1.1M514 495.55h1.1M522 495.55h1.1M550 502.55h1.1M543 497.55h1.1M550 495.55h1.1M529 483.55h1.1M540 493.55h1.1M535 464.55h1.1M553 476.55h1.1M524 497.55h1.1M517 495.55h1.1M538 479.55h1.1M556 471.55h1.1M515 487.55h1.1M536 501.55h1.1M545 480.55h1.1M529 497.55h1.1M528 485.55h1.1M530 476.55h1.1M526 489.55h1.1M526 494.55h1.1M547 479.55h1.1M549 492.55h1.1M520 503.55h1.1M566 474.55h1.1M545 493.55h1.1M523 500.55h1.1M533 468.55h1.1M555 480.55h1.1M571 458.55h1.1M547 459.55h1.1M565 471.55h1.1M562 455.55h1.1M541 488.55h1.1M542 464.55h1.1M529 477.55h1.1M574 458.55h1.1M540 459.55h1.1M538 482.55h1.1M529 476.55h1.1M518 481.55h1.1M569 457.55h1.1M540 488.55h1.1M548 480.55h1.1M566 450.55h1.1M547 484.55h1.1M509 492.55h1.1M565 452.55h1.1M514 471.55h1.1M545 464.55h1.1M547 494.55h1.1M510 473.55h1.1M576 448.55h1.1M541 459.55h1.1M555 479.55h1.1M543 466.55h1.1M567 470.55h1.1M540 504.55h1.1M529 502.55h1.1M525 487.55h1.1M528 495.55h1.1M546 467.55h1.1M528 464.55h1.1M567 469.55h1.1M542 471.55h1.1M552 466.55h1.1M534 468.55h1.1M519 490.55h1.1M546 497.55h1.1M533 467.55h1.1M551 477.55h1.1M514 504.55h1.1M519 486.55h1.1M548 467.55h1.1M555 463.55h1.1M572 465.55h1.1M576 457.55h1.1M555 456.55h1.1M562 449.55h1.1M549 466.55h1.1M566 459.55h1.1M522 485.55h1.1M546 483.55h1.1M535 472.55h1.1M516 479.55h1.1M550 463.55h1.1M537 463.55h1.1M544 499.55h1.1M550 469.55h1.1M534 490.55h1.1M524 470.55h1.1M535 494.55h1.1M526 498.55h1.1M537 468.55h1.1M550 476.55h1.1M545 489.55h1.1M525 476.55h1.1M557 483.55h1.1M551 471.55h1.1M540 495.55h1.1M536 466.55h1.1M571 453.55h1.1M524 478.55h1.1M563 474.55h1.1M539 503.55h1.1M552 473.55h1.1M546 479.55h1.1M556 480.55h1.1M543 464.55h1.1M521 482.55h1.1M530 488.55h1.1M551 492.55h1.1M526 488.55h1.1M560 455.55h1.1M559 476.55h1.1M532 494.55h1.1M539 501.55h1.1M537 466.55h1.1M530 467.55h1.1M515 472.55h1.1M511 485.55h1.1M520 477.55h1.1M547 486.55h1.1M548 486.55h1.1M524 477.55h1.1M521 500.55h1.1M536 461.55h1.1M517 491.55h1.1M514 502.55h1.1M522 480.55h1.1M557 473.55h1.1M541 491.55h1.1M571 450.55h1.1M519 501.55h1.1M536 492.55h1.1M539 477.55h1.1M568 455.55h1.1M513 475.55h1.1M514 500.55h1.1M548 463.55h1.1M537 504.55h1.1M568 469.55h1.1M513 477.55h1.1M534 495.55h1.1M531 500.55h1.1M520 497.55h1.1M548 502.55h1.1M512 474.55h1.1M552 457.55h1.1M540 467.55h1.1M518 479.55h1.1M538 461.55h1.1M541 484.55h1.1M564 449.55h1.1M537 480.55h1.1M564 462.55h1.1M573 451.55h1.1M525 495.55h1.1M556 461.55h1.1M533 495.55h1.1M526 490.55h1.1M512 504.55h1.1M531 502.55h1.1M511 470.55h1.1M513 485.55h1.1M536 463.55h1.1M568 460.55h1.1M557 479.55h1.1M533 503.55h1.1M519 466.55h1.1M546 494.55h1.1M540 502.55h1.1M519 474.55h1.1M522 502.55h1.1M518 486.55h1.1M524 486.55h1.1M513 486.55h1.1M569 446.55h1.1M553 475.55h1.1M516 473.55h1.1M564 461.55h1.1M574 460.55h1.1M520 469.55h1.1M536 457.55h1.1M546 495.55h1.1M534 496.55h1.1M555 467.55h1.1M549 499.55h1.1M562 451.55h1.1M545 472.55h1.1M532 490.55h1.1M523 490.55h1.1M527 464.55h1.1M529 501.55h1.1M535 501.55h1.1M554 452.55h1.1M539 463.55h1.1M542 499.55h1.1M523 501.55h1.1M539 496.55h1.1M535 488.55h1.1M546 474.55h1.1M566 473.55h1.1M571 451.55h1.1M545 468.55h1.1M549 458.55h1.1M546 456.55h1.1M542 501.55h1.1M571 469.55h1.1M529 482.55h1.1M523 503.55h1.1M531 494.55h1.1M556 479.55h1.1M509 479.55h1.1M573 453.55h1.1M552 460.55h1.1M542 486.55h1.1M544 463.55h1.1M571 464.55h1.1M528 499.55h1.1M535 497.55h1.1M540 491.55h1.1M544 470.55h1.1M510 482.55h1.1M520 486.55h1.1M547 463.55h1.1M515 504.55h1.1M539 485.55h1.1M534 504.55h1.1M553 471.55h1.1M521 470.55h1.1M527 467.55h1.1M534 494.55h1.1M526 466.55h1.1M534 469.55h1.1M565 456.55h1.1M529 504.55h1.1M513 493.55h1.1M549 483.55h1.1M540 481.55h1.1M563 457.55h1.1M565 446.55h1.1M541 457.55h1.1M573 461.55h1.1M569 458.55h1.1M569 470.55h1.1M522 497.55h1.1M557 471.55h1.1M550 472.55h1.1M551 501.55h1.1M573 468.55h1.1M562 459.55h1.1M537 498.55h1.1M561 468.55h1.1M545 490.55h1.1M579 456.55h1.1M543 487.55h1.1M537 467.55h1.1M546 498.55h1.1M523 493.55h1.1M525 480.55h1.1M550 498.55h1.1M560 471.55h1.1M520 495.55h1.1M560 468.55h1.1M533 496.55h1.1M537 460.55h1.1M555 457.55h1.1M515 480.55h1.1M536 477.55h1.1M531 496.55h1.1M537 474.55h1.1M522 470.55h1.1M533 504.55h1.1M549 471.55h1.1M511 492.55h1.1M571 445.55h1.1M509 488.55h1.1M546 487.55h1.1M573 455.55h1.1M516 489.55h1.1M532 484.55h1.1M538 472.55h1.1M547 461.55h1.1M567 454.55h1.1M510 484.55h1.1M520 471.55h1.1M510 486.55h1.1M538 467.55h1.1M555 473.55h1.1M549 478.55h1.1M523 488.55h1.1M558 457.55h1.1M557 467.55h1.1M542 503.55h1.1M514 467.55h1.1M543 484.55h1.1M531 472.55h1.1M529 491.55h1.1M558 478.55h1.1M542 459.55h1.1M511 480.55h1.1M530 484.55h1.1M548 498.55h1.1M559 459.55h1.1M562 471.55h1.1M552 454.55h1.1M550 465.55h1.1M549 475.55h1.1M576 453.55h1.1M516 491.55h1.1M540 470.55h1.1M532 471.55h1.1M515 495.55h1.1M529 494.55h1.1M554 481.55h1.1M550 481.55h1.1M554 461.55h1.1M537 491.55h1.1M516 498.55h1.1M556 449.55h1.1M536 502.55h1.1M527 503.55h1.1M556 485.55h1.1M561 453.55h1.1M541 477.55h1.1M563 454.55h1.1M567 452.55h1.1M519 487.55h1.1M549 485.55h1.1M518 492.55h1.1M520 470.55h1.1M553 453.55h1.1M574 450.55h1.1M513 500.55h1.1M563 450.55h1.1M553 487.55h1.1M561 477.55h1.1M530 499.55h1.1M549 486.55h1.1M519 478.55h1.1M513 503.55h1.1M530 471.55h1.1M557 457.55h1.1M513 483.55h1.1M521 465.55h1.1M523 487.55h1.1M562 469.55h1.1M518 495.55h1.1M521 486.55h1.1M529 489.55h1.1M512 490.55h1.1M572 452.55h1.1M526 483.55h1.1M530 491.55h1.1M518 473.55h1.1M551 459.55h1.1M542 460.55h1.1M550 466.55h1.1M549 468.55h1.1M513 499.55h1.1M514 503.55h1.1M539 478.55h1.1M565 468.55h1.1M542 490.55h1.1M522 484.55h1.1M542 463.55h1.1M567 466.55h1.1M567 455.55h1.1M541 472.55h1.1M547 483.55h1.1M532 473.55h1.1M535 461.55h1.1M546 470.55h1.1M531 471.55h1.1M515 489.55h1.1M548 458.55h1.1M574 446.55h1.1M546 458.55h1.1M529 480.55h1.1M527 500.55h1.1M516 487.55h1.1M541 501.55h1.1M561 458.55h1.1M534 473.55h1.1M550 497.55h1.1M539 458.55h1.1M532 496.55h1.1M561 460.55h1.1M530 502.55h1.1M528 497.55h1.1M519 491.55h1.1M512 498.55h1.1M537 473.55h1.1M552 479.55h1.1M536 479.55h1.1M551 457.55h1.1M542 469.55h1.1M510 488.55h1.1M559 475.55h1.1M540 503.55h1.1M510 478.55h1.1M568 466.55h1.1M537 500.55h1.1M538 481.55h1.1M564 465.55h1.1M560 470.55h1.1M542 478.55h1.1M564 470.55h1.1M509 483.55h1.1M529 479.55h1.1M542 477.55h1.1M541 489.55h1.1M541 494.55h1.1" stroke="#000" stroke-width="1.1" fill="none"/>
<polygon points="509.5,474.5 521.0,472.1 533.9,468.1 548.3,463.3 559.5,458.5 567.6,457.7 570.8,461.7 566.8,468.1 557.9,475.3 548.3,482.6 541.9,490.6 538.7,497.0 537.9,503.7 509.5,503.7" fill="#8c8c8c" stroke="#0a0a0a" stroke-width="2.2" stroke-linejoin="round"/>
<polygon points="509.5,476.9 521.0,479.7 530.7,483.5 537.1,492.2 532.3,503.7 509.5,503.7" fill="#9e9e9e" stroke="#111" stroke-width="1.1" stroke-linejoin="round"/>
<polygon points="509.5,481.4 521.0,486.9 529.1,492.5 526.7,498.6 525.9,503.7 509.5,503.7" fill="#c4c4c4" stroke="#111" stroke-width="1.1" stroke-linejoin="round"/>
<polygon points="509.5,488.0 516.2,492.5 519.4,498.1 518.5,503.7 509.5,503.7" fill="#efefef" stroke="#222" stroke-width="1.0" stroke-linejoin="round"/>
<ellipse cx="539.5" cy="477.4" rx="10.9" ry="5.8" transform="rotate(-45 539.5 477.4)" fill="#7a7a7a" stroke="#111" stroke-width="1.1"/>
<ellipse cx="559.9" cy="466.8" rx="10.9" ry="4.5" transform="rotate(-35 559.9 466.8)" fill="#7a7a7a" stroke="#111" stroke-width="1.1"/>
<ellipse cx="561.1" cy="466.5" rx="2.2" ry="1.3" transform="rotate(-30 561.1 466.5)" fill="none" stroke="#111" stroke-width="1.1"/>
<rect x="508.8" y="336.4" width="167.2" height="168.0" fill="none" stroke="#333" stroke-width="1.3"/>
<line x1="508.8" y1="456.7" x2="676" y2="456.7" stroke="#333" stroke-width="1.1"/>
<path d="M503.8 353.0h5M505.8 382.4h3M505.8 375.0h3M505.8 369.8h3M505.8 365.7h3M505.8 362.3h3M505.8 359.5h3M505.8 357.1h3M505.8 354.9h3M503.8 395.1h5M505.8 424.5h3M505.8 417.1h3M505.8 411.9h3M505.8 407.8h3M505.8 404.4h3M505.8 401.6h3M505.8 399.2h3M505.8 397.0h3M503.8 437.2h5M505.8 466.6h3M505.8 459.2h3M505.8 454.0h3M505.8 449.9h3M505.8 446.5h3M505.8 443.7h3M505.8 441.3h3M505.8 439.1h3M503.8 479.3h5M505.8 501.3h3M505.8 496.1h3M505.8 492.0h3M505.8 488.6h3M505.8 485.8h3M505.8 483.4h3M505.8 481.2h3M505.8 340.3h3M532.2 504.4v7M510.2 504.4v4M515.4 504.4v4M519.5 504.4v4M522.9 504.4v4M525.7 504.4v4M528.1 504.4v4M530.3 504.4v4M574.9 504.4v7M545.5 504.4v4M552.9 504.4v4M558.1 504.4v4M562.2 504.4v4M565.6 504.4v4M568.4 504.4v4M570.8 504.4v4M573.0 504.4v4M616.7 504.4v7M587.3 504.4v4M594.7 504.4v4M599.9 504.4v4M604.0 504.4v4M607.4 504.4v4M610.2 504.4v4M612.6 504.4v4M614.8 504.4v4M658.5 504.4v7M629.1 504.4v4M636.5 504.4v4M641.7 504.4v4M645.8 504.4v4M649.2 504.4v4M652.0 504.4v4M654.4 504.4v4M656.6 504.4v4" stroke="#333" stroke-width="0.8" fill="none"/>
<text x="670.5" y="352.9" font-family="'Liberation Sans', sans-serif" font-size="8.2" font-weight="normal" fill="#000" text-anchor="end">T-reg</text>
<rect x="573" y="361" width="78" height="34" fill="#fff"/>
<text x="611" y="375.3" font-family="'Liberation Sans', sans-serif" font-size="13.8" font-weight="bold" fill="#ff0808" text-anchor="middle">5.96 ± 0.29</text>
<text x="611" y="391.8" font-family="'Liberation Sans', sans-serif" font-size="13.8" font-weight="bold" fill="#ff0808" text-anchor="middle">N=5</text>
<line x1="731" y1="337" x2="731" y2="504" stroke="#333" stroke-width="1"/>
<path d="M726 467.45h0.9M744 460.45h0.9M749 443.45h0.9M736 459.45h0.9M742 463.45h0.9M750 453.45h0.9M716 463.45h0.9M747 468.45h0.9M747 441.45h0.9M750 444.45h0.9M770 450.45h0.9M732 465.45h0.9M736 471.45h0.9M719 473.45h0.9M738 450.45h0.9M717 462.45h0.9M737 463.45h0.9M704 481.45h0.9M712 478.45h0.9M733 474.45h0.9M709 483.45h0.9M745 456.45h0.9M711 487.45h0.9M761 441.45h0.9M735 459.45h0.9M717 484.45h0.9M724 482.45h0.9M695 470.45h0.9M718 473.45h0.9M704 487.45h0.9M737 467.45h0.9M751 455.45h0.9M737 462.45h0.9M725 467.45h0.9M718 485.45h0.9M709 468.45h0.9M746 454.45h0.9M700 471.45h0.9M720 474.45h0.9M714 471.45h0.9M731 461.45h0.9M705 452.45h0.9M780 461.45h0.9M764 448.45h0.9M739 462.45h0.9M698 485.45h0.9M751 464.45h0.9M747 471.45h0.9M720 477.45h0.9M706 467.45h0.9M703 491.45h0.9M753 454.45h0.9M705 468.45h0.9M757 477.45h0.9M759 448.45h0.9M735 456.45h0.9M697 481.45h0.9M775 460.45h0.9M764 462.45h0.9M706 486.45h0.9M747 456.45h0.9M705 472.45h0.9M763 445.45h0.9M710 465.45h0.9M757 455.45h0.9M755 444.45h0.9M735 462.45h0.9M746 475.45h0.9M756 454.45h0.9M741 456.45h0.9M758 449.45h0.9M708 464.45h0.9M706 462.45h0.9M701 457.45h0.9M743 460.45h0.9M712 475.45h0.9M715 486.45h0.9M747 447.45h0.9M733 479.45h0.9M718 464.45h0.9M752 461.45h0.9M732 449.45h0.9M764 445.45h0.9M736 466.45h0.9M731 464.45h0.9M768 455.45h0.9M730 468.45h0.9M752 441.45h0.9M710 482.45h0.9M723 466.45h0.9M733 483.45h0.9M740 474.45h0.9M737 453.45h0.9M713 483.45h0.9M730 465.45h0.9M754 456.45h0.9M743 467.45h0.9M731 453.45h0.9M706 466.45h0.9M750 442.45h0.9M773 456.45h0.9M724 475.45h0.9M762 447.45h0.9M731 460.45h0.9M758 451.45h0.9M709 478.45h0.9M702 471.45h0.9M712 469.45h0.9M735 464.45h0.9M721 475.45h0.9M737 466.45h0.9M753 461.45h0.9M757 450.45h0.9M716 467.45h0.9M770 453.45h0.9M695 479.45h0.9M738 459.45h0.9M712 472.45h0.9M735 470.45h0.9M738 460.45h0.9M737 442.45h0.9M752 453.45h0.9M729 452.45h0.9M729 473.45h0.9M720 479.45h0.9M748 459.45h0.9M701 484.45h0.9M732 463.45h0.9M736 450.45h0.9M710 488.45h0.9M739 469.45h0.9M734 473.45h0.9M706 471.45h0.9M767 447.45h0.9M703 471.45h0.9M760 459.45h0.9M706 479.45h0.9M753 468.45h0.9M762 458.45h0.9M699 480.45h0.9M705 474.45h0.9M765 453.45h0.9M701 471.45h0.9M757 461.45h0.9M741 464.45h0.9M718 465.45h0.9M743 461.45h0.9M716 477.45h0.9M726 455.45h0.9M739 444.45h0.9M755 459.45h0.9M750 435.45h0.9M713 471.45h0.9M750 455.45h0.9M735 455.45h0.9M722 495.45h0.9M750 464.45h0.9M705 476.45h0.9M743 470.45h0.9M748 462.45h0.9M729 474.45h0.9M737 464.45h0.9M746 469.45h0.9M696 477.45h0.9M762 463.45h0.9M755 455.45h0.9M749 470.45h0.9M704 474.45h0.9M744 451.45h0.9M707 482.45h0.9M725 469.45h0.9M744 449.45h0.9M718 454.45h0.9M760 465.45h0.9M715 476.45h0.9M712 485.45h0.9M762 443.45h0.9M733 464.45h0.9M700 487.45h0.9M747 455.45h0.9M743 475.45h0.9M735 465.45h0.9M753 458.45h0.9M728 450.45h0.9M704 478.45h0.9M744 452.45h0.9M753 464.45h0.9M754 448.45h0.9M737 457.45h0.9M722 479.45h0.9M736 453.45h0.9M706 469.45h0.9M744 465.45h0.9M745 470.45h0.9M702 484.45h0.9M740 471.45h0.9M757 473.45h0.9M733 482.45h0.9M711 484.45h0.9M708 471.45h0.9M727 465.45h0.9M718 474.45h0.9M732 462.45h0.9M731 457.45h0.9M702 483.45h0.9M733 469.45h0.9M725 472.45h0.9M715 473.45h0.9M757 463.45h0.9M743 453.45h0.9M739 466.45h0.9M712 494.45h0.9M701 472.45h0.9M730 471.45h0.9M770 458.45h0.9M699 460.45h0.9M751 454.45h0.9M770 456.45h0.9M752 449.45h0.9M707 492.45h0.9M748 443.45h0.9M726 481.45h0.9M771 469.45h0.9M748 454.45h0.9M754 440.45h0.9M700 473.45h0.9M714 464.45h0.9M761 440.45h0.9M725 464.45h0.9M713 481.45h0.9M726 460.45h0.9M734 463.45h0.9M711 477.45h0.9M723 471.45h0.9M748 450.45h0.9M716 476.45h0.9M708 456.45h0.9M717 475.45h0.9M711 469.45h0.9M697 486.45h0.9M735 463.45h0.9M702 472.45h0.9M767 454.45h0.9M776 459.45h0.9M738 472.45h0.9M716 475.45h0.9M708 479.45h0.9M713 472.45h0.9M752 462.45h0.9M716 486.45h0.9M738 467.45h0.9M710 481.45h0.9M726 469.45h0.9M703 470.45h0.9M753 435.45h0.9M745 465.45h0.9M698 468.45h0.9M711 476.45h0.9M709 472.45h0.9M747 466.45h0.9M762 455.45h0.9M711 471.45h0.9M747 470.45h0.9M704 492.45h0.9M728 462.45h0.9M723 467.45h0.9M768 459.45h0.9M763 450.45h0.9M771 452.45h0.9M712 473.45h0.9M773 461.45h0.9M761 452.45h0.9M736 468.45h0.9M756 437.45h0.9M761 449.45h0.9M762 453.45h0.9M738 470.45h0.9M709 480.45h0.9M771 459.45h0.9M725 470.45h0.9M742 471.45h0.9M741 467.45h0.9M737 469.45h0.9M741 468.45h0.9M708 476.45h0.9M745 438.45h0.9M752 470.45h0.9M730 451.45h0.9M727 450.45h0.9M706 477.45h0.9M720 456.45h0.9M716 485.45h0.9M724 464.45h0.9M761 462.45h0.9M738 443.45h0.9M767 450.45h0.9M722 457.45h0.9M707 480.45h0.9M736 454.45h0.9M714 459.45h0.9M725 463.45h0.9M712 484.45h0.9M736 473.45h0.9M712 471.45h0.9M751 440.45h0.9M701 470.45h0.9M736 440.45h0.9M751 463.45h0.9M734 471.45h0.9M724 463.45h0.9M735 469.45h0.9M713 479.45h0.9M729 454.45h0.9M698 474.45h0.9M734 447.45h0.9M703 483.45h0.9M729 460.45h0.9M775 461.45h0.9M703 481.45h0.9M696 473.45h0.9M745 468.45h0.9M747 454.45h0.9M764 449.45h0.9M752 448.45h0.9M739 474.45h0.9M738 469.45h0.9M709 485.45h0.9M776 455.45h0.9M702 485.45h0.9M746 460.45h0.9M726 465.45h0.9M738 466.45h0.9M696 474.45h0.9M726 476.45h0.9M730 454.45h0.9M705 471.45h0.9M756 447.45h0.9M705 484.45h0.9M768 457.45h0.9M765 461.45h0.9M740 464.45h0.9M704 468.45h0.9M763 449.45h0.9M713 473.45h0.9M717 460.45h0.9M729 451.45h0.9M766 454.45h0.9M729 466.45h0.9M713 491.45h0.9M764 447.45h0.9M730 479.45h0.9M712 480.45h0.9M762 449.45h0.9M764 444.45h0.9M747 460.45h0.9M745 460.45h0.9M752 451.45h0.9M701 483.45h0.9M734 474.45h0.9M715 465.45h0.9M744 473.45h0.9M764 466.45h0.9M721 464.45h0.9M722 476.45h0.9M706 489.45h0.9M698 465.45h0.9M760 442.45h0.9M725 487.45h0.9M718 469.45h0.9M709 469.45h0.9M722 469.45h0.9M760 439.45h0.9M762 448.45h0.9M748 452.45h0.9M694 468.45h0.9M742 466.45h0.9M767 455.45h0.9M712 477.45h0.9M733 480.45h0.9M716 471.45h0.9M721 463.45h0.9M698 482.45h0.9M761 464.45h0.9M746 472.45h0.9M762 459.45h0.9M736 461.45h0.9M731 468.45h0.9M751 469.45h0.9M714 468.45h0.9M772 455.45h0.9M714 460.45h0.9M742 451.45h0.9M754 457.45h0.9M716 480.45h0.9M700 484.45h0.9M724 472.45h0.9M750 454.45h0.9M717 483.45h0.9M771 451.45h0.9M718 470.45h0.9M700 486.45h0.9M747 436.45h0.9M745 475.45h0.9M713 482.45h0.9M697 482.45h0.9M709 486.45h0.9M728 467.45h0.9M761 453.45h0.9M744 459.45h0.9M707 484.45h0.9M748 486.45h0.9M726 475.45h0.9M694 478.45h0.9M742 459.45h0.9M763 457.45h0.9M736 457.45h0.9M758 453.45h0.9M758 443.45h0.9M747 451.45h0.9M697 479.45h0.9M717 481.45h0.9M748 463.45h0.9M749 463.45h0.9M711 479.45h0.9M719 474.45h0.9M726 478.45h0.9M700 472.45h0.9M724 471.45h0.9M707 465.45h0.9M747 452.45h0.9M720 475.45h0.9M739 438.45h0.9M710 472.45h0.9M752 447.45h0.9M764 457.45h0.9M714 480.45h0.9M725 468.45h0.9M755 454.45h0.9M704 485.45h0.9M760 463.45h0.9M704 483.45h0.9M712 464.45h0.9M731 466.45h0.9M721 474.45h0.9M699 476.45h0.9M769 466.45h0.9M729 472.45h0.9M759 451.45h0.9M722 493.45h0.9M731 448.45h0.9M750 457.45h0.9M741 459.45h0.9M721 473.45h0.9M713 468.45h0.9M759 452.45h0.9M698 473.45h0.9M727 453.45h0.9M750 470.45h0.9M695 474.45h0.9M721 477.45h0.9M774 454.45h0.9M754 449.45h0.9M717 458.45h0.9M719 468.45h0.9M718 479.45h0.9M721 466.45h0.9M741 462.45h0.9M747 446.45h0.9M735 461.45h0.9M706 456.45h0.9M722 460.45h0.9M705 491.45h0.9M762 452.45h0.9M731 462.45h0.9M747 448.45h0.9M714 495.45h0.9M748 467.45h0.9M746 465.45h0.9M710 483.45h0.9M759 456.45h0.9M711 465.45h0.9M702 482.45h0.9M756 452.45h0.9M749 460.45h0.9M751 466.45h0.9M741 457.45h0.9M719 480.45h0.9M750 480.45h0.9M707 488.45h0.9M740 450.45h0.9M712 483.45h0.9M752 465.45h0.9M732 468.45h0.9M703 472.45h0.9M735 479.45h0.9M746 462.45h0.9M728 468.45h0.9M712 476.45h0.9M710 475.45h0.9M699 475.45h0.9M701 474.45h0.9M740 461.45h0.9M742 483.45h0.9M737 459.45h0.9M714 465.45h0.9M724 466.45h0.9M738 461.45h0.9M747 438.45h0.9M734 490.45h0.9M723 479.45h0.9M765 455.45h0.9M754 451.45h0.9M721 482.45h0.9M711 483.45h0.9M717 479.45h0.9M744 462.45h0.9M720 490.45h0.9M704 464.45h0.9M763 451.45h0.9M761 459.45h0.9M744 463.45h0.9M727 457.45h0.9M757 447.45h0.9M717 474.45h0.9M740 469.45h0.9M703 487.45h0.9M711 470.45h0.9M760 453.45h0.9M735 450.45h0.9M717 463.45h0.9M754 452.45h0.9M755 465.45h0.9M758 468.45h0.9M707 493.45h0.9M741 445.45h0.9M730 472.45h0.9M702 481.45h0.9M724 455.45h0.9M744 478.45h0.9M747 458.45h0.9M752 464.45h0.9M746 477.45h0.9M743 464.45h0.9M721 481.45h0.9M735 475.45h0.9M774 458.45h0.9M746 470.45h0.9M739 464.45h0.9M763 454.45h0.9M732 464.45h0.9M702 475.45h0.9M756 473.45h0.9M733 438.45h0.9M707 478.45h0.9M773 460.45h0.9M755 445.45h0.9M727 470.45h0.9M720 467.45h0.9M729 480.45h0.9M769 460.45h0.9M734 455.45h0.9M746 452.45h0.9M734 469.45h0.9M695 482.45h0.9M713 466.45h0.9M745 472.45h0.9M751 450.45h0.9M769 449.45h0.9M702 468.45h0.9M721 458.45h0.9M713 478.45h0.9M763 462.45h0.9M764 443.45h0.9M747 459.45h0.9M699 483.45h0.9M711 480.45h0.9M710 463.45h0.9M732 477.45h0.9M766 451.45h0.9M755 468.45h0.9M731 474.45h0.9M738 471.45h0.9M705 481.45h0.9M712 493.45h0.9M752 454.45h0.9M703 480.45h0.9M719 486.45h0.9M758 450.45h0.9M706 468.45h0.9M722 474.45h0.9M737 470.45h0.9M741 481.45h0.9M766 449.45h0.9M750 443.45h0.9M733 462.45h0.9M712 491.45h0.9M708 488.45h0.9M734 462.45h0.9M743 459.45h0.9M755 442.45h0.9M703 474.45h0.9M749 467.45h0.9M703 477.45h0.9M710 474.45h0.9M751 449.45h0.9M736 483.45h0.9M751 456.45h0.9M754 443.45h0.9M756 459.45h0.9M717 468.45h0.9M751 475.45h0.9M714 478.45h0.9M768 456.45h0.9M743 455.45h0.9M696 481.45h0.9M758 461.45h0.9M701 482.45h0.9M698 488.45h0.9M695 478.45h0.9M763 442.45h0.9M702 476.45h0.9M697 478.45h0.9M740 477.45h0.9M702 462.45h0.9M718 462.45h0.9M733 475.45h0.9M723 475.45h0.9M773 453.45h0.9M762 461.45h0.9M744 470.45h0.9M753 460.45h0.9M739 456.45h0.9M767 460.45h0.9M734 456.45h0.9M730 457.45h0.9M746 450.45h0.9M742 474.45h0.9M762 457.45h0.9M725 473.45h0.9M741 450.45h0.9M761 450.45h0.9M756 441.45h0.9M755 458.45h0.9M728 470.45h0.9M717 470.45h0.9M713 464.45h0.9M713 461.45h0.9M751 448.45h0.9M754 459.45h0.9M750 471.45h0.9M731 475.45h0.9M740 466.45h0.9M743 450.45h0.9M718 475.45h0.9M755 460.45h0.9M715 468.45h0.9M735 466.45h0.9M757 446.45h0.9M748 469.45h0.9M742 450.45h0.9M738 463.45h0.9M729 459.45h0.9M721 465.45h0.9M741 458.45h0.9M720 466.45h0.9M713 463.45h0.9M761 446.45h0.9M703 467.45h0.9M769 454.45h0.9M736 462.45h0.9M756 463.45h0.9M750 456.45h0.9M699 464.45h0.9M704 476.45h0.9M753 457.45h0.9M753 452.45h0.9M739 475.45h0.9M750 466.45h0.9M745 453.45h0.9M702 474.45h0.9M725 475.45h0.9M711 464.45h0.9M762 454.45h0.9M738 458.45h0.9M740 478.45h0.9M732 471.45h0.9M697 466.45h0.9M723 478.45h0.9M720 463.45h0.9M759 442.45h0.9M765 448.45h0.9M754 450.45h0.9M764 463.45h0.9M734 435.45h0.9M701 479.45h0.9M743 462.45h0.9M736 448.45h0.9M721 486.45h0.9M710 480.45h0.9M702 479.45h0.9M722 461.45h0.9M765 452.45h0.9M695 483.45h0.9M716 466.45h0.9M727 468.45h0.9M719 463.45h0.9M743 451.45h0.9M740 451.45h0.9M708 481.45h0.9M763 448.45h0.9M712 459.45h0.9M702 487.45h0.9M707 470.45h0.9M696 478.45h0.9M767 458.45h0.9M716 474.45h0.9M723 484.45h0.9M755 466.45h0.9M737 475.45h0.9M705 492.45h0.9M707 459.45h0.9M718 472.45h0.9M708 480.45h0.9M741 446.45h0.9M745 473.45h0.9M751 451.45h0.9M745 445.45h0.9M708 473.45h0.9M737 458.45h0.9M699 477.45h0.9M732 455.45h0.9M757 465.45h0.9M759 438.45h0.9M714 477.45h0.9M698 480.45h0.9M701 477.45h0.9M749 434.45h0.9M728 476.45h0.9M707 483.45h0.9M751 465.45h0.9M701 490.45h0.9M767 466.45h0.9M704 477.45h0.9M714 466.45h0.9M696 469.45h0.9M746 442.45h0.9M705 462.45h0.9M746 441.45h0.9M766 447.45h0.9M713 477.45h0.9M704 472.45h0.9M747 444.45h0.9M751 459.45h0.9M702 470.45h0.9M704 484.45h0.9M729 457.45h0.9M729 464.45h0.9M706 472.45h0.9M742 453.45h0.9M724 473.45h0.9M747 478.45h0.9M715 474.45h0.9M773 459.45h0.9M703 485.45h0.9M709 487.45h0.9M740 454.45h0.9M705 482.45h0.9M765 459.45h0.9M741 471.45h0.9M737 479.45h0.9M744 455.45h0.9M766 461.45h0.9M719 464.45h0.9M749 465.45h0.9M742 457.45h0.9M729 465.45h0.9M743 469.45h0.9M771 454.45h0.9M751 460.45h0.9M773 455.45h0.9M739 452.45h0.9M700 470.45h0.9M762 451.45h0.9M713 469.45h0.9M743 471.45h0.9M766 450.45h0.9M711 491.45h0.9M703 488.45h0.9M703 465.45h0.9M732 470.45h0.9M706 480.45h0.9M760 448.45h0.9M755 447.45h0.9M736 449.45h0.9M722 465.45h0.9M742 468.45h0.9M727 466.45h0.9M697 462.45h0.9M741 449.45h0.9M754 460.45h0.9M731 470.45h0.9M717 469.45h0.9M714 500.45h0.9M744 471.45h0.9M740 449.45h0.9M715 462.45h0.9M762 444.45h0.9M716 465.45h0.9M725 488.45h0.9M763 446.45h0.9M744 466.45h0.9M730 464.45h0.9M732 474.45h0.9M726 472.45h0.9M756 444.45h0.9M749 456.45h0.9M725 443.45h0.9M752 457.45h0.9M760 443.45h0.9M733 468.45h0.9M717 457.45h0.9M696 482.45h0.9M707 471.45h0.9M746 456.45h0.9M763 463.45h0.9M732 456.45h0.9M714 475.45h0.9M740 465.45h0.9M714 462.45h0.9M700 477.45h0.9M743 456.45h0.9M733 458.45h0.9M732 467.45h0.9M737 471.45h0.9M727 460.45h0.9M722 478.45h0.9M701 487.45h0.9M705 479.45h0.9M697 461.45h0.9M718 477.45h0.9M704 470.45h0.9M748 455.45h0.9M721 472.45h0.9M753 448.45h0.9M727 473.45h0.9M780 463.45h0.9M739 473.45h0.9M700 479.45h0.9M723 472.45h0.9M748 465.45h0.9M765 458.45h0.9M743 445.45h0.9M702 491.45h0.9M748 477.45h0.9M759 450.45h0.9M714 473.45h0.9M714 470.45h0.9M772 457.45h0.9M732 478.45h0.9M736 465.45h0.9M755 452.45h0.9M759 458.45h0.9M734 479.45h0.9M730 473.45h0.9M746 448.45h0.9M770 454.45h0.9M752 468.45h0.9M700 475.45h0.9M715 478.45h0.9M702 466.45h0.9M742 449.45h0.9M711 474.45h0.9M722 475.45h0.9M754 464.45h0.9M742 464.45h0.9M756 438.45h0.9M727 463.45h0.9M730 466.45h0.9M726 463.45h0.9M733 467.45h0.9M722 473.45h0.9M720 486.45h0.9M762 450.45h0.9M704 480.45h0.9M727 461.45h0.9M721 452.45h0.9M756 461.45h0.9M764 446.45h0.9M708 477.45h0.9M759 462.45h0.9M738 475.45h0.9M730 476.45h0.9M717 477.45h0.9M718 468.45h0.9M735 453.45h0.9M746 453.45h0.9M730 456.45h0.9M752 466.45h0.9M721 469.45h0.9M728 474.45h0.9M759 440.45h0.9M749 458.45h0.9M725 482.45h0.9M719 458.45h0.9M715 470.45h0.9M730 460.45h0.9M723 486.45h0.9M757 462.45h0.9M737 452.45h0.9M725 466.45h0.9M753 440.45h0.9M765 454.45h0.9M716 469.45h0.9M750 441.45h0.9M720 459.45h0.9M706 482.45h0.9M746 458.45h0.9M710 479.45h0.9M758 465.45h0.9M767 452.45h0.9M708 485.45h0.9M757 459.45h0.9M734 470.45h0.9M759 457.45h0.9M699 473.45h0.9M730 470.45h0.9M730 467.45h0.9M733 473.45h0.9M768 454.45h0.9M740 457.45h0.9M728 453.45h0.9M753 456.45h0.9M738 462.45h0.9M723 491.45h0.9M726 464.45h0.9M762 460.45h0.9M767 465.45h0.9M718 482.45h0.9M768 460.45h0.9M731 455.45h0.9M747 457.45h0.9M712 470.45h0.9M705 483.45h0.9M696 486.45h0.9M718 466.45h0.9M739 472.45h0.9M725 478.45h0.9M720 470.45h0.9M739 455.45h0.9M707 479.45h0.9M722 467.45h0.9M756 443.45h0.9M709 477.45h0.9M710 473.45h0.9M749 449.45h0.9M733 461.45h0.9M741 472.45h0.9M710 468.45h0.9M755 450.45h0.9M729 458.45h0.9M748 451.45h0.9M736 458.45h0.9M724 470.45h0.9M723 482.45h0.9M731 452.45h0.9M735 467.45h0.9M751 453.45h0.9M707 466.45h0.9M732 459.45h0.9M765 445.45h0.9M729 490.45h0.9M766 456.45h0.9M750 458.45h0.9M766 455.45h0.9M711 467.45h0.9M729 455.45h0.9M721 468.45h0.9M750 450.45h0.9M712 481.45h0.9M702 480.45h0.9M707 485.45h0.9M716 462.45h0.9M720 489.45h0.9M721 459.45h0.9M760 444.45h0.9M742 458.45h0.9M730 462.45h0.9M735 448.45h0.9M698 478.45h0.9M696 475.45h0.9M718 481.45h0.9M708 470.45h0.9M763 464.45h0.9M699 481.45h0.9M746 476.45h0.9M729 462.45h0.9M722 459.45h0.9M726 461.45h0.9M717 478.45h0.9M698 479.45h0.9M734 475.45h0.9M729 467.45h0.9M746 457.45h0.9M704 486.45h0.9M728 480.45h0.9M736 452.45h0.9M733 459.45h0.9M717 473.45h0.9M730 469.45h0.9M752 459.45h0.9M735 452.45h0.9M741 451.45h0.9M755 448.45h0.9M710 489.45h0.9M697 484.45h0.9M739 486.45h0.9M711 486.45h0.9M761 451.45h0.9M741 448.45h0.9M769 448.45h0.9M754 446.45h0.9M730 495.45h0.9M717 487.45h0.9M720 447.45h0.9M754 454.45h0.9M704 473.45h0.9M711 473.45h0.9M766 462.45h0.9M774 460.45h0.9M713 455.45h0.9M731 465.45h0.9M745 442.45h0.9M737 476.45h0.9M727 477.45h0.9M722 466.45h0.9M763 461.45h0.9M755 451.45h0.9M753 444.45h0.9M697 474.45h0.9M703 473.45h0.9M721 460.45h0.9M733 450.45h0.9M704 479.45h0.9M734 472.45h0.9M742 452.45h0.9M751 443.45h0.9M708 491.45h0.9M728 479.45h0.9M740 458.45h0.9M715 467.45h0.9M722 453.45h0.9M715 472.45h0.9M749 473.45h0.9M729 456.45h0.9M742 456.45h0.9M727 467.45h0.9M710 461.45h0.9M723 451.45h0.9M710 471.45h0.9M747 463.45h0.9M728 461.45h0.9M716 473.45h0.9M731 449.45h0.9M708 484.45h0.9M770 451.45h0.9M706 470.45h0.9M763 444.45h0.9M715 483.45h0.9M728 455.45h0.9M733 465.45h0.9M752 456.45h0.9M739 450.45h0.9M754 467.45h0.9M750 472.45h0.9M699 472.45h0.9M736 470.45h0.9M756 450.45h0.9M758 452.45h0.9M762 442.45h0.9M718 461.45h0.9M761 458.45h0.9M727 459.45h0.9M725 477.45h0.9M718 458.45h0.9M759 466.45h0.9M702 489.45h0.9M737 447.45h0.9M757 451.45h0.9M727 483.45h0.9M750 445.45h0.9M728 463.45h0.9M741 470.45h0.9M721 479.45h0.9M744 450.45h0.9M738 456.45h0.9M736 467.45h0.9M731 469.45h0.9M755 453.45h0.9M711 452.45h0.9M741 453.45h0.9M770 455.45h0.9M732 461.45h0.9M702 456.45h0.9M758 460.45h0.9M703 482.45h0.9M754 466.45h0.9M754 453.45h0.9M716 484.45h0.9M727 488.45h0.9M753 462.45h0.9M717 482.45h0.9M746 464.45h0.9M738 464.45h0.9M765 447.45h0.9M737 460.45h0.9M738 490.45h0.9M748 448.45h0.9M708 483.45h0.9M705 480.45h0.9M723 465.45h0.9M713 465.45h0.9M734 458.45h0.9M705 460.45h0.9M726 471.45h0.9M724 461.45h0.9M755 462.45h0.9M718 459.45h0.9M752 458.45h0.9M701 473.45h0.9M741 465.45h0.9M768 448.45h0.9M705 478.45h0.9M748 442.45h0.9M731 487.45h0.9M733 478.45h0.9M740 484.45h0.9M753 477.45h0.9M758 483.45h0.9M769 483.45h0.9M750 503.45h0.9M797 485.45h0.9M746 466.45h0.9M761 478.45h0.9M734 486.45h0.9M817 503.45h0.9M767 479.45h0.9M763 485.45h0.9M792 484.45h0.9M733 490.45h0.9M803 490.45h0.9M737 468.45h0.9M788 485.45h0.9M774 462.45h0.9M769 492.45h0.9M791 450.45h0.9M765 493.45h0.9M759 472.45h0.9M751 483.45h0.9M759 484.45h0.9M743 457.45h0.9M778 482.45h0.9M767 485.45h0.9M781 488.45h0.9M751 491.45h0.9M810 499.45h0.9M765 483.45h0.9M757 472.45h0.9M808 487.45h0.9M788 456.45h0.9M761 489.45h0.9M793 477.45h0.9M727 478.45h0.9M758 478.45h0.9M755 484.45h0.9M780 491.45h0.9M803 487.45h0.9M775 489.45h0.9M748 464.45h0.9M747 486.45h0.9M806 500.45h0.9M786 464.45h0.9M765 478.45h0.9M798 491.45h0.9M795 472.45h0.9M754 465.45h0.9M781 475.45h0.9M744 487.45h0.9M766 494.45h0.9M754 461.45h0.9M758 464.45h0.9M781 474.45h0.9M795 481.45h0.9M779 483.45h0.9M768 487.45h0.9M777 487.45h0.9M773 482.45h0.9M756 488.45h0.9M783 497.45h0.9M744 490.45h0.9M789 458.45h0.9M770 486.45h0.9M749 478.45h0.9M784 491.45h0.9M747 472.45h0.9M787 480.45h0.9M765 470.45h0.9M764 459.45h0.9M766 476.45h0.9M773 496.45h0.9M758 473.45h0.9M815 488.45h0.9M765 472.45h0.9M745 487.45h0.9M744 468.45h0.9M761 488.45h0.9M765 473.45h0.9M744 481.45h0.9M769 471.45h0.9M782 500.45h0.9M783 483.45h0.9M783 471.45h0.9M828 463.45h0.9M791 479.45h0.9M765 465.45h0.9M764 475.45h0.9M764 478.45h0.9M749 502.45h0.9M756 499.45h0.9M795 490.45h0.9M772 476.45h0.9M715 482.45h0.9M803 478.45h0.9M784 494.45h0.9M793 475.45h0.9M776 500.45h0.9M733 484.45h0.9M799 493.45h0.9M756 491.45h0.9M767 476.45h0.9M742 476.45h0.9M734 468.45h0.9M745 483.45h0.9M756 467.45h0.9M769 467.45h0.9M751 492.45h0.9M787 484.45h0.9M766 482.45h0.9M754 480.45h0.9M781 470.45h0.9M744 486.45h0.9M773 487.45h0.9M737 498.45h0.9M786 482.45h0.9M819 477.45h0.9M771 489.45h0.9M807 492.45h0.9M715 469.45h0.9M788 459.45h0.9M753 498.45h0.9M799 484.45h0.9M781 479.45h0.9M765 466.45h0.9M753 459.45h0.9M744 480.45h0.9M780 483.45h0.9M745 482.45h0.9M763 468.45h0.9M716 499.45h0.9M792 500.45h0.9M752 467.45h0.9M764 491.45h0.9M759 479.45h0.9M767 472.45h0.9M742 480.45h0.9M760 475.45h0.9M777 493.45h0.9M746 493.45h0.9M757 482.45h0.9M750 473.45h0.9M787 483.45h0.9M726 482.45h0.9M776 487.45h0.9M771 476.45h0.9M773 483.45h0.9M768 467.45h0.9M757 485.45h0.9M765 468.45h0.9M766 480.45h0.9M812 476.45h0.9M737 454.45h0.9M740 472.45h0.9M749 468.45h0.9M786 485.45h0.9M753 479.45h0.9M764 493.45h0.9M750 483.45h0.9M786 466.45h0.9M802 493.45h0.9M836 500.45h0.9M709 459.45h0.9M775 472.45h0.9M770 472.45h0.9M750 475.45h0.9M743 449.45h0.9M755 483.45h0.9M738 468.45h0.9M771 482.45h0.9M728 498.45h0.9M784 472.45h0.9M751 474.45h0.9M782 469.45h0.9M728 451.45h0.9M813 492.45h0.9M761 497.45h0.9M770 484.45h0.9M777 478.45h0.9M784 487.45h0.9M723 494.45h0.9M753 501.45h0.9M744 485.45h0.9M770 483.45h0.9M756 494.45h0.9M800 491.45h0.9M760 471.45h0.9M742 499.45h0.9M737 486.45h0.9M754 470.45h0.9M801 499.45h0.9M759 477.45h0.9M779 464.45h0.9M725 483.45h0.9M747 493.45h0.9M737 490.45h0.9M798 492.45h0.9M746 484.45h0.9M797 459.45h0.9M773 463.45h0.9M775 497.45h0.9M751 498.45h0.9M815 490.45h0.9M726 470.45h0.9M748 472.45h0.9M779 487.45h0.9M763 479.45h0.9M791 487.45h0.9M823 496.45h0.9M719 485.45h0.9M782 478.45h0.9M728 471.45h0.9M764 479.45h0.9M736 489.45h0.9M736 481.45h0.9M747 476.45h0.9M766 488.45h0.9M776 480.45h0.9M759 482.45h0.9M780 473.45h0.9M749 488.45h0.9M800 493.45h0.9M744 499.45h0.9M771 488.45h0.9M761 460.45h0.9M779 470.45h0.9M775 492.45h0.9M754 499.45h0.9M798 490.45h0.9M761 487.45h0.9M760 482.45h0.9M803 486.45h0.9M749 483.45h0.9M752 480.45h0.9M773 499.45h0.9M778 497.45h0.9M747 491.45h0.9M739 488.45h0.9M763 497.45h0.9M757 490.45h0.9M717 480.45h0.9M777 483.45h0.9M749 471.45h0.9M770 462.45h0.9M768 469.45h0.9M748 478.45h0.9M752 478.45h0.9M758 486.45h0.9M811 482.45h0.9M763 482.45h0.9M773 492.45h0.9M773 477.45h0.9M754 469.45h0.9M758 490.45h0.9M775 487.45h0.9M784 465.45h0.9M788 482.45h0.9M769 488.45h0.9M740 490.45h0.9M763 469.45h0.9M809 483.45h0.9M739 481.45h0.9M765 496.45h0.9M739 490.45h0.9M748 496.45h0.9M802 488.45h0.9M825 491.45h0.9M788 500.45h0.9M820 496.45h0.9M788 502.45h0.9M767 464.45h0.9M768 463.45h0.9M777 491.45h0.9M818 476.45h0.9M824 463.45h0.9M781 478.45h0.9M743 479.45h0.9M774 474.45h0.9M775 483.45h0.9M762 487.45h0.9M763 477.45h0.9M805 487.45h0.9M771 501.45h0.9M800 495.45h0.9M757 488.45h0.9M745 480.45h0.9M730 482.45h0.9M752 485.45h0.9M795 478.45h0.9M759 489.45h0.9M777 502.45h0.9M782 495.45h0.9M764 481.45h0.9M772 475.45h0.9M740 491.45h0.9M801 485.45h0.9M793 486.45h0.9M781 490.45h0.9M751 480.45h0.9M774 484.45h0.9M762 484.45h0.9M765 476.45h0.9M774 477.45h0.9M728 456.45h0.9M754 495.45h0.9M757 478.45h0.9M723 462.45h0.9M760 483.45h0.9M721 478.45h0.9M732 482.45h0.9M772 473.45h0.9M755 475.45h0.9M753 474.45h0.9M798 499.45h0.9M783 476.45h0.9M766 495.45h0.9M800 473.45h0.9M757 471.45h0.9M752 481.45h0.9M787 474.45h0.9M766 469.45h0.9M743 487.45h0.9M760 484.45h0.9M744 482.45h0.9M771 479.45h0.9M769 482.45h0.9M722 468.45h0.9M754 475.45h0.9M758 498.45h0.9M782 476.45h0.9M787 467.45h0.9M771 486.45h0.9M734 485.45h0.9M782 479.45h0.9M787 489.45h0.9M770 498.45h0.9M745 471.45h0.9M843 497.45h0.9M768 486.45h0.9M774 481.45h0.9M763 491.45h0.9M768 491.45h0.9M751 468.45h0.9M760 473.45h0.9M744 479.45h0.9M810 485.45h0.9M732 479.45h0.9M768 473.45h0.9M777 460.45h0.9M746 494.45h0.9M764 494.45h0.9M760 479.45h0.9M723 495.45h0.9M757 497.45h0.9M781 485.45h0.9M747 477.45h0.9M815 482.45h0.9M744 483.45h0.9M745 488.45h0.9M783 494.45h0.9M771 485.45h0.9M718 484.45h0.9M735 499.45h0.9M772 498.45h0.9M753 497.45h0.9M759 491.45h0.9M772 492.45h0.9M783 467.45h0.9M731 476.45h0.9M804 482.45h0.9M824 495.45h0.9M775 473.45h0.9M753 467.45h0.9M735 487.45h0.9M761 494.45h0.9M766 470.45h0.9M761 483.45h0.9M771 496.45h0.9M712 468.45h0.9M785 489.45h0.9M783 491.45h0.9M756 475.45h0.9M790 480.45h0.9M737 441.45h0.9M716 472.45h0.9M793 487.45h0.9M744 491.45h0.9M770 485.45h0.9M767 490.45h0.9M793 465.45h0.9M794 488.45h0.9M751 473.45h0.9M777 468.45h0.9M775 457.45h0.9M771 474.45h0.9M789 486.45h0.9M784 485.45h0.9M771 470.45h0.9M764 492.45h0.9M704 454.45h0.9M778 501.45h0.9M760 457.45h0.9M757 486.45h0.9M782 474.45h0.9M774 489.45h0.9M769 461.45h0.9M714 474.45h0.9M775 499.45h0.9M764 482.45h0.9M758 476.45h0.9M753 469.45h0.9M799 489.45h0.9M806 501.45h0.9M779 469.45h0.9M770 465.45h0.9M801 477.45h0.9M796 484.45h0.9M785 486.45h0.9M772 465.45h0.9M790 488.45h0.9M745 469.45h0.9M721 487.45h0.9M753 480.45h0.9M761 486.45h0.9M723 460.45h0.9M791 490.45h0.9M761 472.45h0.9M788 498.45h0.9M711 460.45h0.9M799 472.45h0.9M786 460.45h0.9M773 498.45h0.9M809 481.45h0.9M763 476.45h0.9M760 480.45h0.9M756 498.45h0.9M760 491.45h0.9M786 481.45h0.9M795 492.45h0.9M777 498.45h0.9M753 483.45h0.9M764 471.45h0.9M765 491.45h0.9M758 482.45h0.9M775 478.45h0.9M750 459.45h0.9M752 474.45h0.9M774 494.45h0.9M793 498.45h0.9M720 483.45h0.9M706 484.45h0.9M752 482.45h0.9M741 460.45h0.9M775 481.45h0.9M778 496.45h0.9M754 485.45h0.9M752 477.45h0.9M745 478.45h0.9M756 482.45h0.9M809 502.45h0.9M771 475.45h0.9M755 486.45h0.9M784 471.45h0.9M715 475.45h0.9M750 474.45h0.9M762 482.45h0.9M741 475.45h0.9M771 465.45h0.9M730 491.45h0.9M738 480.45h0.9M740 488.45h0.9M748 487.45h0.9M771 468.45h0.9M736 499.45h0.9M769 464.45h0.9M772 481.45h0.9M743 478.45h0.9M797 481.45h0.9M734 488.45h0.9M747 481.45h0.9M730 475.45h0.9M779 476.45h0.9M737 474.45h0.9M747 479.45h0.9M721 493.45h0.9M771 494.45h0.9M766 487.45h0.9M773 478.45h0.9M754 501.45h0.9M743 491.45h0.9M776 493.45h0.9M781 486.45h0.9M778 485.45h0.9M775 468.45h0.9M767 462.45h0.9M712 462.45h0.9M795 474.45h0.9M787 500.45h0.9M755 470.45h0.9M791 491.45h0.9M779 484.45h0.9M785 461.45h0.9M760 456.45h0.9M748 473.45h0.9M767 473.45h0.9M736 475.45h0.9M789 494.45h0.9M759 460.45h0.9M779 466.45h0.9M764 476.45h0.9M742 484.45h0.9M814 495.45h0.9M778 488.45h0.9M784 482.45h0.9M769 502.45h0.9M759 470.45h0.9M812 489.45h0.9M773 470.45h0.9M753 481.45h0.9M764 486.45h0.9M751 482.45h0.9M758 488.45h0.9M761 502.45h0.9M770 477.45h0.9M749 480.45h0.9M788 491.45h0.9M720 473.45h0.9M736 472.45h0.9M776 479.45h0.9M774 485.45h0.9M788 496.45h0.9M761 469.45h0.9M734 460.45h0.9M783 477.45h0.9M756 480.45h0.9M776 485.45h0.9M820 487.45h0.9M756 456.45h0.9M762 469.45h0.9M725 481.45h0.9M758 477.45h0.9M759 471.45h0.9M732 483.45h0.9M775 480.45h0.9M743 497.45h0.9M772 474.45h0.9M769 472.45h0.9M742 473.45h0.9M803 479.45h0.9M749 482.45h0.9M782 489.45h0.9M757 454.45h0.9M779 480.45h0.9M727 475.45h0.9M770 475.45h0.9M777 469.45h0.9M810 489.45h0.9M818 493.45h0.9M765 487.45h0.9M772 496.45h0.9M749 495.45h0.9M777 476.45h0.9M799 482.45h0.9M764 465.45h0.9M728 481.45h0.9M789 470.45h0.9M762 477.45h0.9M781 500.45h0.9M792 498.45h0.9M790 478.45h0.9M752 463.45h0.9M752 484.45h0.9M761 496.45h0.9M813 470.45h0.9M758 470.45h0.9M771 471.45h0.9M791 480.45h0.9M768 478.45h0.9M784 488.45h0.9M750 477.45h0.9M762 479.45h0.9M752 501.45h0.9M770 482.45h0.9M767 453.45h0.9M719 465.45h0.9M760 455.45h0.9M741 484.45h0.9M777 464.45h0.9M796 480.45h0.9M737 497.45h0.9M739 483.45h0.9M771 491.45h0.9M763 475.45h0.9M788 503.45h0.9M781 471.45h0.9M783 473.45h0.9M752 471.45h0.9M777 485.45h0.9M784 490.45h0.9M816 500.45h0.9M762 489.45h0.9M748 474.45h0.9M751 490.45h0.9M784 475.45h0.9M729 476.45h0.9M796 490.45h0.9M744 457.45h0.9M774 472.45h0.9M784 474.45h0.9M720 465.45h0.9M743 473.45h0.9M740 467.45h0.9M748 480.45h0.9M757 489.45h0.9M805 473.45h0.9M772 487.45h0.9M792 486.45h0.9M780 498.45h0.9M810 465.45h0.9M806 480.45h0.9M780 467.45h0.9M803 489.45h0.9M775 471.45h0.9M729 485.45h0.9M725 454.45h0.9M803 503.45h0.9M766 474.45h0.9M710 437.45h0.9M798 483.45h0.9M779 496.45h0.9M755 472.45h0.9M767 467.45h0.9M792 491.45h0.9M757 491.45h0.9M781 472.45h0.9M740 499.45h0.9M766 479.45h0.9M740 481.45h0.9M774 479.45h0.9M791 486.45h0.9M816 503.45h0.9M836 464.45h0.9M752 487.45h0.9M802 491.45h0.9M770 461.45h0.9M823 491.45h0.9M835 480.45h0.9M774 482.45h0.9M775 484.45h0.9M780 488.45h0.9M797 484.45h0.9M719 503.45h0.9M740 493.45h0.9M820 488.45h0.9M710 476.45h0.9M808 497.45h0.9M775 476.45h0.9M814 477.45h0.9M785 497.45h0.9M741 493.45h0.9M753 492.45h0.9M844 476.45h0.9M811 491.45h0.9M830 455.45h0.9M815 475.45h0.9M792 470.45h0.9M843 474.45h0.9M785 492.45h0.9M816 489.45h0.9M838 466.45h0.9M827 478.45h0.9M774 501.45h0.9M791 470.45h0.9M724 483.45h0.9M841 497.45h0.9M814 494.45h0.9M825 492.45h0.9M829 499.45h0.9M773 486.45h0.9M773 462.45h0.9M762 473.45h0.9M796 474.45h0.9M804 485.45h0.9M819 476.45h0.9M801 483.45h0.9M804 460.45h0.9M796 503.45h0.9M788 493.45h0.9M819 483.45h0.9M789 488.45h0.9M737 501.45h0.9M817 460.45h0.9M770 478.45h0.9M773 475.45h0.9M781 493.45h0.9M792 501.45h0.9M809 474.45h0.9M815 486.45h0.9M762 481.45h0.9M822 487.45h0.9M821 486.45h0.9M792 481.45h0.9M848 482.45h0.9M759 490.45h0.9M822 472.45h0.9M797 478.45h0.9M731 480.45h0.9M766 490.45h0.9M821 472.45h0.9M842 490.45h0.9M784 489.45h0.9M762 485.45h0.9M809 485.45h0.9M789 482.45h0.9M776 495.45h0.9M798 493.45h0.9M834 470.45h0.9M729 487.45h0.9M721 485.45h0.9M754 463.45h0.9M805 494.45h0.9M789 481.45h0.9M769 487.45h0.9M786 493.45h0.9M786 484.45h0.9M808 485.45h0.9M768 484.45h0.9M845 487.45h0.9M772 488.45h0.9M794 472.45h0.9M791 469.45h0.9M790 484.45h0.9M834 493.45h0.9M758 501.45h0.9M812 463.45h0.9M805 488.45h0.9M816 490.45h0.9M753 486.45h0.9M832 453.45h0.9M811 487.45h0.9M823 464.45h0.9M758 500.45h0.9M803 480.45h0.9M818 487.45h0.9M757 493.45h0.9M768 480.45h0.9M822 464.45h0.9M728 487.45h0.9M819 471.45h0.9M795 480.45h0.9M827 496.45h0.9M847 464.45h0.9M815 487.45h0.9M774 499.45h0.9M838 480.45h0.9M770 469.45h0.9M762 488.45h0.9M736 492.45h0.9M762 483.45h0.9M738 493.45h0.9M823 471.45h0.9M790 496.45h0.9M825 493.45h0.9M736 477.45h0.9M817 484.45h0.9M720 488.45h0.9M832 477.45h0.9M824 462.45h0.9M820 464.45h0.9M749 464.45h0.9M783 461.45h0.9M809 480.45h0.9M826 489.45h0.9M833 473.45h0.9M740 496.45h0.9M807 470.45h0.9M706 475.45h0.9M810 490.45h0.9M726 479.45h0.9M808 457.45h0.9M802 492.45h0.9M806 484.45h0.9M789 492.45h0.9M788 484.45h0.9M808 493.45h0.9M795 486.45h0.9M772 477.45h0.9M761 491.45h0.9M808 502.45h0.9M796 479.45h0.9M801 473.45h0.9M735 478.45h0.9M805 485.45h0.9M785 484.45h0.9M762 493.45h0.9M772 485.45h0.9M753 499.45h0.9M771 484.45h0.9M810 487.45h0.9M812 494.45h0.9M772 493.45h0.9M791 472.45h0.9M801 492.45h0.9M790 466.45h0.9M792 490.45h0.9M828 478.45h0.9M802 463.45h0.9M812 493.45h0.9M750 465.45h0.9M734 495.45h0.9M821 470.45h0.9M835 475.45h0.9M814 476.45h0.9M814 485.45h0.9M730 496.45h0.9M798 467.45h0.9M756 464.45h0.9M783 480.45h0.9M787 487.45h0.9M795 495.45h0.9M813 455.45h0.9M788 479.45h0.9M810 483.45h0.9M799 488.45h0.9M799 492.45h0.9M822 471.45h0.9M771 477.45h0.9M813 467.45h0.9M780 470.45h0.9M808 471.45h0.9M848 472.45h0.9M837 477.45h0.9M803 472.45h0.9M760 464.45h0.9M732 484.45h0.9M758 455.45h0.9M808 466.45h0.9M794 484.45h0.9M761 468.45h0.9M820 471.45h0.9M718 445.45h0.9M809 494.45h0.9M792 479.45h0.9M779 499.45h0.9M781 496.45h0.9M818 480.45h0.9M773 480.45h0.9M794 486.45h0.9M823 465.45h0.9M781 480.45h0.9M752 488.45h0.9M728 494.45h0.9M830 486.45h0.9M845 481.45h0.9M796 472.45h0.9M737 492.45h0.9M832 479.45h0.9M821 468.45h0.9M748 483.45h0.9M800 484.45h0.9M760 450.45h0.9M779 479.45h0.9M816 480.45h0.9M825 497.45h0.9M802 470.45h0.9M778 499.45h0.9M800 494.45h0.9M844 460.45h0.9M808 481.45h0.9M796 493.45h0.9M782 486.45h0.9M795 471.45h0.9M789 476.45h0.9M784 501.45h0.9M731 498.45h0.9M796 486.45h0.9M830 478.45h0.9M767 481.45h0.9M719 494.45h0.9M735 486.45h0.9M796 476.45h0.9M772 497.45h0.9M806 479.45h0.9M795 467.45h0.9M798 476.45h0.9M778 487.45h0.9M764 485.45h0.9M773 488.45h0.9M743 488.45h0.9M809 488.45h0.9M801 486.45h0.9M830 500.45h0.9M800 482.45h0.9M796 482.45h0.9M806 467.45h0.9M810 488.45h0.9M715 445.45h0.9M764 472.45h0.9M734 477.45h0.9M798 471.45h0.9M796 463.45h0.9M785 467.45h0.9M776 488.45h0.9M797 468.45h0.9M805 482.45h0.9M780 460.45h0.9M778 479.45h0.9M808 484.45h0.9M815 448.45h0.9M843 489.45h0.9M844 470.45h0.9M801 466.45h0.9M778 473.45h0.9M824 485.45h0.9M806 475.45h0.9M803 482.45h0.9M812 473.45h0.9M772 469.45h0.9M788 475.45h0.9M801 470.45h0.9M796 470.45h0.9M737 500.45h0.9M793 481.45h0.9M759 478.45h0.9M792 489.45h0.9M823 489.45h0.9M790 476.45h0.9M761 495.45h0.9M806 458.45h0.9M790 483.45h0.9M799 479.45h0.9M743 485.45h0.9M763 487.45h0.9M842 480.45h0.9M797 470.45h0.9M766 483.45h0.9M808 492.45h0.9M822 479.45h0.9M847 462.45h0.9M819 496.45h0.9M776 494.45h0.9M763 494.45h0.9M787 482.45h0.9M738 479.45h0.9M768 489.45h0.9M801 495.45h0.9M830 460.45h0.9M753 482.45h0.9M795 500.45h0.9M736 474.45h0.9M754 468.45h0.9M726 501.45h0.9M847 481.45h0.9M759 469.45h0.9M813 484.45h0.9M794 480.45h0.9M834 497.45h0.9M815 477.45h0.9M791 489.45h0.9M838 472.45h0.9M810 503.45h0.9M809 497.45h0.9M830 462.45h0.9M776 475.45h0.9M778 481.45h0.9M785 470.45h0.9M734 493.45h0.9M728 496.45h0.9M726 496.45h0.9M725 486.45h0.9M730 497.45h0.9M741 501.45h0.9M741 492.45h0.9M725 493.45h0.9M726 500.45h0.9M731 472.45h0.9M743 496.45h0.9M745 489.45h0.9M731 496.45h0.9M747 503.45h0.9M741 502.45h0.9M741 491.45h0.9M745 491.45h0.9M740 495.45h0.9M742 489.45h0.9M750 498.45h0.9M733 500.45h0.9M743 489.45h0.9M732 487.45h0.9M746 497.45h0.9M739 498.45h0.9M749 499.45h0.9M742 496.45h0.9M739 485.45h0.9M750 493.45h0.9M738 502.45h0.9M753 500.45h0.9M742 500.45h0.9M727 502.45h0.9M728 495.45h0.9M738 496.45h0.9M748 498.45h0.9M729 491.45h0.9M736 482.45h0.9M753 489.45h0.9M737 499.45h0.9M730 489.45h0.9M731 486.45h0.9M719 500.45h0.9M752 495.45h0.9M744 501.45h0.9M744 500.45h0.9M732 488.45h0.9M732 497.45h0.9M734 503.45h0.9M730 500.45h0.9M734 498.45h0.9M739 503.45h0.9M734 501.45h0.9M745 500.45h0.9M739 500.45h0.9M745 501.45h0.9M740 494.45h0.9M740 498.45h0.9M743 503.45h0.9M742 495.45h0.9M736 496.45h0.9M732 489.45h0.9M744 503.45h0.9M727 492.45h0.9M741 489.45h0.9M750 488.45h0.9M755 499.45h0.9M739 496.45h0.9M726 498.45h0.9M735 492.45h0.9M748 494.45h0.9M736 503.45h0.9M723 483.45h0.9M733 488.45h0.9M735 493.45h0.9M733 503.45h0.9M735 502.45h0.9M722 497.45h0.9M744 496.45h0.9M741 487.45h0.9M762 503.45h0.9M728 499.45h0.9M729 501.45h0.9M713 490.45h0.9M723 502.45h0.9M749 486.45h0.9M742 490.45h0.9M733 497.45h0.9M739 489.45h0.9M742 493.45h0.9M747 501.45h0.9M749 493.45h0.9M740 492.45h0.9M733 489.45h0.9M752 499.45h0.9M725 500.45h0.9M731 490.45h0.9M747 488.45h0.9M725 491.45h0.9M752 500.45h0.9M739 499.45h0.9M743 483.45h0.9M748 495.45h0.9M735 500.45h0.9M724 501.45h0.9M724 492.45h0.9M732 501.45h0.9M743 498.45h0.9M736 502.45h0.9M755 481.45h0.9M741 495.45h0.9M732 486.45h0.9M716 495.45h0.9M732 495.45h0.9M740 500.45h0.9M751 500.45h0.9M729 499.45h0.9M746 502.45h0.9M739 501.45h0.9M723 485.45h0.9M733 496.45h0.9M730 501.45h0.9M740 503.45h0.9M725 503.45h0.9M742 477.45h0.9M741 497.45h0.9M735 503.45h0.9M738 500.45h0.9M743 494.45h0.9M731 489.45h0.9M729 503.45h0.9M743 495.45h0.9M727 496.45h0.9M724 496.45h0.9M736 495.45h0.9M738 498.45h0.9M733 498.45h0.9M722 484.45h0.9M734 496.45h0.9M737 493.45h0.9M726 492.45h0.9M754 496.45h0.9M734 491.45h0.9M725 501.45h0.9M768 502.45h0.9M724 497.45h0.9M720 501.45h0.9M736 487.45h0.9M731 500.45h0.9M736 501.45h0.9M738 499.45h0.9M744 502.45h0.9M782 496.45h0.9M826 472.45h0.9M815 480.45h0.9M824 488.45h0.9M768 482.45h0.9M773 458.45h0.9M781 465.45h0.9M812 486.45h0.9M756 490.45h0.9M814 469.45h0.9M787 494.45h0.9M804 480.45h0.9M760 469.45h0.9M803 459.45h0.9M831 465.45h0.9M790 473.45h0.9M787 472.45h0.9M813 460.45h0.9M834 488.45h0.9M760 476.45h0.9M816 462.45h0.9M753 473.45h0.9M818 473.45h0.9M786 483.45h0.9M821 491.45h0.9M806 462.45h0.9M756 479.45h0.9M788 497.45h0.9M749 469.45h0.9M780 457.45h0.9M834 498.45h0.9M762 472.45h0.9M744 458.45h0.9M740 502.45h0.9M824 500.45h0.9M759 495.45h0.9M825 502.45h0.9M800 479.45h0.9M793 476.45h0.9M827 473.45h0.9M781 483.45h0.9M807 469.45h0.9M776 469.45h0.9M814 499.45h0.9M803 493.45h0.9M752 490.45h0.9M734 492.45h0.9M769 469.45h0.9M785 479.45h0.9M794 483.45h0.9M743 465.45h0.9M829 479.45h0.9M736 479.45h0.9M801 468.45h0.9M806 472.45h0.9M757 469.45h0.9M836 465.45h0.9M809 475.45h0.9M839 482.45h0.9M812 478.45h0.9M779 468.45h0.9M784 496.45h0.9M782 485.45h0.9M831 501.45h0.9M760 462.45h0.9M770 503.45h0.9M833 478.45h0.9M815 473.45h0.9M817 464.45h0.9M810 474.45h0.9M777 492.45h0.9M739 468.45h0.9M750 502.45h0.9M839 472.45h0.9M777 458.45h0.9M783 472.45h0.9M831 463.45h0.9M805 474.45h0.9M815 465.45h0.9M812 464.45h0.9M757 495.45h0.9M758 466.45h0.9M792 497.45h0.9M828 488.45h0.9M818 482.45h0.9M740 480.45h0.9M736 486.45h0.9M803 492.45h0.9M784 476.45h0.9M792 488.45h0.9M833 472.45h0.9M794 458.45h0.9M736 464.45h0.9M827 457.45h0.9M827 483.45h0.9M788 489.45h0.9M803 474.45h0.9M762 474.45h0.9M803 457.45h0.9M818 467.45h0.9M786 470.45h0.9M805 476.45h0.9M771 487.45h0.9M771 497.45h0.9M835 501.45h0.9M783 502.45h0.9M808 473.45h0.9M822 495.45h0.9M762 468.45h0.9M836 492.45h0.9M815 460.45h0.9M756 501.45h0.9M782 475.45h0.9M803 491.45h0.9M798 474.45h0.9M825 495.45h0.9M758 474.45h0.9M769 496.45h0.9M762 471.45h0.9M791 471.45h0.9M738 476.45h0.9M818 494.45h0.9M840 477.45h0.9M776 477.45h0.9M803 463.45h0.9M817 487.45h0.9M774 490.45h0.9M820 482.45h0.9M775 503.45h0.9M750 501.45h0.9M768 472.45h0.9M783 463.45h0.9M840 471.45h0.9M820 485.45h0.9M760 485.45h0.9M773 471.45h0.9M838 493.45h0.9M803 469.45h0.9M826 491.45h0.9M817 489.45h0.9M832 499.45h0.9M817 474.45h0.9M825 475.45h0.9M815 491.45h0.9M823 484.45h0.9M827 484.45h0.9M831 487.45h0.9M818 477.45h0.9M830 487.45h0.9M829 483.45h0.9M835 490.45h0.9M826 494.45h0.9M828 479.45h0.9M832 488.45h0.9M817 477.45h0.9M826 490.45h0.9M826 492.45h0.9M838 481.45h0.9M830 492.45h0.9M824 487.45h0.9M836 493.45h0.9M832 487.45h0.9M826 484.45h0.9M835 485.45h0.9M811 484.45h0.9M842 488.45h0.9M821 485.45h0.9M823 495.45h0.9M828 484.45h0.9M834 500.45h0.9M828 496.45h0.9M827 488.45h0.9M837 486.45h0.9M836 495.45h0.9M824 481.45h0.9M832 474.45h0.9M827 482.45h0.9M818 486.45h0.9M829 482.45h0.9M836 481.45h0.9M838 474.45h0.9M831 475.45h0.9M827 491.45h0.9M807 489.45h0.9M821 488.45h0.9M829 490.45h0.9M815 483.45h0.9M834 479.45h0.9M827 490.45h0.9M835 482.45h0.9M819 489.45h0.9M839 476.45h0.9M832 493.45h0.9M832 486.45h0.9M839 473.45h0.9M828 477.45h0.9M820 481.45h0.9M829 486.45h0.9M828 492.45h0.9M832 491.45h0.9M827 481.45h0.9M830 477.45h0.9M829 492.45h0.9M839 488.45h0.9M818 489.45h0.9M822 484.45h0.9M821 493.45h0.9M827 485.45h0.9M826 496.45h0.9M806 474.45h0.9M821 496.45h0.9M831 483.45h0.9M817 493.45h0.9M833 502.45h0.9M824 491.45h0.9M822 483.45h0.9M833 496.45h0.9M826 480.45h0.9M822 496.45h0.9M817 481.45h0.9M822 497.45h0.9M842 483.45h0.9M826 478.45h0.9M830 488.45h0.9M829 494.45h0.9M826 487.45h0.9M828 497.45h0.9M832 473.45h0.9M828 473.45h0.9M827 480.45h0.9M828 476.45h0.9M822 500.45h0.9M825 484.45h0.9M837 480.45h0.9M823 480.45h0.9M837 482.45h0.9M833 490.45h0.9M829 477.45h0.9M817 490.45h0.9M833 480.45h0.9M834 484.45h0.9M836 488.45h0.9M843 482.45h0.9M834 485.45h0.9M813 488.45h0.9M810 491.45h0.9M822 485.45h0.9M833 488.45h0.9M833 484.45h0.9M837 487.45h0.9M831 482.45h0.9M822 494.45h0.9M830 491.45h0.9M824 479.45h0.9M839 477.45h0.9M818 481.45h0.9M832 490.45h0.9M830 469.45h0.9M829 489.45h0.9M833 476.45h0.9M820 480.45h0.9M821 474.45h0.9M838 484.45h0.9M835 483.45h0.9M835 488.45h0.9M830 480.45h0.9M822 480.45h0.9M824 494.45h0.9M827 479.45h0.9M823 485.45h0.9M839 485.45h0.9M837 497.45h0.9M837 484.45h0.9M824 489.45h0.9M844 483.45h0.9M829 488.45h0.9M815 481.45h0.9M834 495.45h0.9M816 486.45h0.9M826 475.45h0.9M817 482.45h0.9M836 475.45h0.9M821 501.45h0.9M835 479.45h0.9M823 482.45h0.9M827 493.45h0.9M840 485.45h0.9M830 494.45h0.9M845 492.45h0.9M831 492.45h0.9M835 486.45h0.9M834 486.45h0.9M828 490.45h0.9M825 496.45h0.9M835 494.45h0.9M819 478.45h0.9M830 482.45h0.9M830 484.45h0.9M813 476.45h0.9M828 495.45h0.9M834 490.45h0.9M825 488.45h0.9M819 491.45h0.9M816 494.45h0.9M826 488.45h0.9M834 478.45h0.9M831 486.45h0.9M829 493.45h0.9M826 481.45h0.9M828 482.45h0.9M822 475.45h0.9M832 500.45h0.9M818 495.45h0.9M819 486.45h0.9M834 489.45h0.9M831 485.45h0.9M828 480.45h0.9M832 489.45h0.9M820 494.45h0.9M822 486.45h0.9M825 477.45h0.9M838 483.45h0.9M833 491.45h0.9M847 491.45h0.9M824 482.45h0.9M812 483.45h0.9M832 484.45h0.9M810 484.45h0.9M821 499.45h0.9M835 481.45h0.9M828 481.45h0.9M817 478.45h0.9M824 490.45h0.9M822 481.45h0.9M818 488.45h0.9M825 485.45h0.9M819 484.45h0.9M820 479.45h0.9M820 484.45h0.9M829 466.45h0.9M817 491.45h0.9M830 481.45h0.9M826 479.45h0.9M835 484.45h0.9M834 482.45h0.9M816 467.45h0.9M823 492.45h0.9M839 474.45h0.9M819 480.45h0.9M825 481.45h0.9M830 497.45h0.9M831 489.45h0.9M845 491.45h0.9M830 479.45h0.9M822 488.45h0.9M836 489.45h0.9M819 482.45h0.9M815 493.45h0.9M838 488.45h0.9M839 469.45h0.9M836 491.45h0.9M822 490.45h0.9M831 477.45h0.9M836 478.45h0.9M822 501.45h0.9M832 485.45h0.9M836 480.45h0.9M810 492.45h0.9M836 479.45h0.9M825 489.45h0.9M832 481.45h0.9M844 494.45h0.9M832 483.45h0.9M821 482.45h0.9M834 491.45h0.9M814 487.45h0.9M841 478.45h0.9M827 476.45h0.9M823 483.45h0.9M831 497.45h0.9M823 470.45h0.9M834 481.45h0.9M832 496.45h0.9M842 477.45h0.9M826 483.45h0.9M840 488.45h0.9M833 487.45h0.9M821 475.45h0.9M829 487.45h0.9M825 480.45h0.9M835 496.45h0.9M836 486.45h0.9M823 493.45h0.9M815 484.45h0.9M838 486.45h0.9M816 482.45h0.9M830 485.45h0.9M839 484.45h0.9M830 490.45h0.9M828 491.45h0.9M838 490.45h0.9M823 476.45h0.9M826 485.45h0.9M822 491.45h0.9M825 470.45h0.9M826 477.45h0.9M831 495.45h0.9M825 498.45h0.9M841 489.45h0.9M834 503.45h0.9M814 500.45h0.9M824 496.45h0.9M827 492.45h0.9M813 481.45h0.9M831 493.45h0.9M828 462.45h0.9M819 488.45h0.9M831 494.45h0.9M841 474.45h0.9M829 497.45h0.9M830 489.45h0.9M838 487.45h0.9M823 487.45h0.9M823 501.45h0.9M835 491.45h0.9M833 474.45h0.9M820 478.45h0.9M832 480.45h0.9M833 495.45h0.9M833 477.45h0.9M833 492.45h0.9M811 486.45h0.9M840 487.45h0.9M814 479.45h0.9M823 478.45h0.9M841 499.45h0.9M827 474.45h0.9M840 483.45h0.9M831 479.45h0.9M840 490.45h0.9M819 487.45h0.9M825 474.45h0.9M825 483.45h0.9M841 479.45h0.9M819 497.45h0.9M825 490.45h0.9M835 477.45h0.9M826 502.45h0.9M834 483.45h0.9M843 500.45h0.9M828 483.45h0.9M839 483.45h0.9M838 475.45h0.9M829 501.45h0.9M827 486.45h0.9M828 493.45h0.9M837 494.45h0.9M828 485.45h0.9M828 489.45h0.9M820 472.45h0.9M824 483.45h0.9M835 474.45h0.9M832 495.45h0.9M775 444.45h0.9M695 449.45h0.9M736 451.45h0.9M719 448.45h0.9M740 440.45h0.9M740 444.45h0.9M732 441.45h0.9M747 449.45h0.9M713 459.45h0.9M764 442.45h0.9M730 461.45h0.9M742 447.45h0.9M732 451.45h0.9M733 455.45h0.9M708 452.45h0.9M707 447.45h0.9M724 454.45h0.9M765 456.45h0.9M720 450.45h0.9M764 452.45h0.9M742 440.45h0.9M721 438.45h0.9M696 438.45h0.9M766 448.45h0.9M708 458.45h0.9M738 457.45h0.9M715 452.45h0.9M785 458.45h0.9M710 447.45h0.9M719 451.45h0.9M700 462.45h0.9M789 452.45h0.9M713 448.45h0.9M753 443.45h0.9M733 449.45h0.9M718 434.45h0.9M714 447.45h0.9M731 446.45h0.9M715 454.45h0.9M710 442.45h0.9M716 459.45h0.9M726 444.45h0.9M720 438.45h0.9M722 450.45h0.9M719 454.45h0.9M717 451.45h0.9M696 447.45h0.9M700 447.45h0.9M788 447.45h0.9M771 448.45h0.9M721 457.45h0.9M750 448.45h0.9M738 449.45h0.9M718 451.45h0.9M770 444.45h0.9M761 442.45h0.9M727 449.45h0.9M736 445.45h0.9M741 455.45h0.9M730 447.45h0.9M723 447.45h0.9M725 435.45h0.9M737 435.45h0.9M743 443.45h0.9M738 442.45h0.9M697 460.45h0.9M710 457.45h0.9M702 458.45h0.9M750 439.45h0.9M729 446.45h0.9M739 461.45h0.9M717 444.45h0.9M702 442.45h0.9M697 463.45h0.9M748 458.45h0.9M698 456.45h0.9M711 446.45h0.9M707 449.45h0.9M698 447.45h0.9M720 439.45h0.9M726 451.45h0.9M722 443.45h0.9M726 438.45h0.9M696 444.45h0.9M700 456.45h0.9M776 457.45h0.9M703 463.45h0.9M739 451.45h0.9M741 444.45h0.9M738 452.45h0.9M778 447.45h0.9M711 453.45h0.9M739 441.45h0.9M717 434.45h0.9M713 439.45h0.9M728 447.45h0.9M733 453.45h0.9M785 456.45h0.9M767 441.45h0.9M710 455.45h0.9M722 441.45h0.9M723 461.45h0.9M787 455.45h0.9M705 453.45h0.9M734 467.45h0.9M703 441.45h0.9M772 452.45h0.9M727 441.45h0.9M742 431.45h0.9M748 446.45h0.9M773 439.45h0.9M769 455.45h0.9M762 446.45h0.9M739 458.45h0.9M732 432.45h0.9M746 451.45h0.9M727 443.45h0.9M747 453.45h0.9M732 442.45h0.9M738 444.45h0.9M726 448.45h0.9M729 441.45h0.9M725 436.45h0.9M782 454.45h0.9M730 452.45h0.9M792 459.45h0.9M734 438.45h0.9M712 455.45h0.9M727 454.45h0.9M779 460.45h0.9M739 453.45h0.9M722 455.45h0.9M741 452.45h0.9M711 449.45h0.9M766 452.45h0.9M717 443.45h0.9M766 457.45h0.9M720 454.45h0.9M768 461.45h0.9M721 461.45h0.9M763 455.45h0.9M741 454.45h0.9M708 459.45h0.9M716 448.45h0.9M713 446.45h0.9M713 451.45h0.9M711 442.45h0.9M698 441.45h0.9M739 449.45h0.9M699 444.45h0.9M708 439.45h0.9M739 448.45h0.9M697 451.45h0.9M756 455.45h0.9M703 449.45h0.9M717 452.45h0.9M777 457.45h0.9M804 455.45h0.9M696 446.45h0.9M721 440.45h0.9M717 446.45h0.9M743 454.45h0.9M709 446.45h0.9M748 447.45h0.9M720 457.45h0.9M749 450.45h0.9M700 440.45h0.9M757 445.45h0.9M719 457.45h0.9M730 448.45h0.9M769 451.45h0.9M706 446.45h0.9M745 451.45h0.9M719 436.45h0.9M710 445.45h0.9M737 446.45h0.9M706 444.45h0.9M752 445.45h0.9M707 441.45h0.9M722 449.45h0.9M712 465.45h0.9M737 444.45h0.9M746 447.45h0.9M774 451.45h0.9M753 445.45h0.9M742 436.45h0.9M760 433.45h0.9M801 390.45h0.9M746 371.45h0.9M837 380.45h0.9M724 430.45h0.9M753 422.45h0.9M793 425.45h0.9M728 357.45h0.9M773 368.45h0.9M702 369.45h0.9M733 403.45h0.9M839 372.45h0.9M713 352.45h0.9M837 362.45h0.9M752 381.45h0.9M758 368.45h0.9M800 372.45h0.9M719 422.45h0.9M838 418.45h0.9M785 416.45h0.9M846 453.45h0.9M782 344.45h0.9M789 455.45h0.9M758 342.45h0.9M800 352.45h0.9M826 396.45h0.9M698 419.45h0.9M807 391.45h0.9M835 392.45h0.9M698 344.45h0.9M804 366.45h0.9M728 435.45h0.9M774 372.45h0.9M818 449.45h0.9M747 401.45h0.9M799 437.45h0.9M699 378.45h0.9M806 438.45h0.9M775 451.45h0.9M761 355.45h0.9M759 407.45h0.9M715 410.45h0.9M839 394.45h0.9M760 434.45h0.9M701 398.45h0.9M842 348.45h0.9M832 436.45h0.9M702 429.45h0.9M704 373.45h0.9M708 426.45h0.9M758 345.45h0.9M766 446.45h0.9M808 419.45h0.9" stroke="#000" stroke-width="0.9" fill="none"/>
<path d="M752 472.55h1.1M711 468.55h1.1M758 471.55h1.1M711 463.55h1.1M740 458.55h1.1M736 457.55h1.1M738 456.55h1.1M710 480.55h1.1M699 467.55h1.1M714 501.55h1.1M755 453.55h1.1M746 456.55h1.1M754 456.55h1.1M717 495.55h1.1M697 490.55h1.1M730 466.55h1.1M732 481.55h1.1M729 494.55h1.1M696 501.55h1.1M748 477.55h1.1M741 454.55h1.1M728 488.55h1.1M704 483.55h1.1M746 478.55h1.1M716 478.55h1.1M735 472.55h1.1M720 489.55h1.1M746 479.55h1.1M761 454.55h1.1M702 494.55h1.1M716 462.55h1.1M695 493.55h1.1M699 477.55h1.1M728 466.55h1.1M720 470.55h1.1M752 466.55h1.1M744 464.55h1.1M705 491.55h1.1M730 481.55h1.1M760 452.55h1.1M723 491.55h1.1M738 464.55h1.1M757 455.55h1.1M766 450.55h1.1M741 458.55h1.1M759 461.55h1.1M739 459.55h1.1M725 496.55h1.1M748 471.55h1.1M713 489.55h1.1M734 493.55h1.1M750 477.55h1.1M746 470.55h1.1M746 465.55h1.1M716 489.55h1.1M698 483.55h1.1M711 467.55h1.1M718 486.55h1.1M695 479.55h1.1M747 454.55h1.1M718 472.55h1.1M724 464.55h1.1M709 500.55h1.1M735 489.55h1.1M725 491.55h1.1M759 463.55h1.1M756 460.55h1.1M748 465.55h1.1M727 494.55h1.1M730 477.55h1.1M714 469.55h1.1M738 487.55h1.1M755 472.55h1.1M728 464.55h1.1M725 466.55h1.1M752 465.55h1.1M761 467.55h1.1M764 457.55h1.1M759 453.55h1.1M710 490.55h1.1M730 491.55h1.1M738 459.55h1.1M713 466.55h1.1M739 492.55h1.1M710 493.55h1.1M751 458.55h1.1M743 473.55h1.1M703 490.55h1.1M710 501.55h1.1M705 469.55h1.1M707 476.55h1.1M727 478.55h1.1M727 495.55h1.1M757 464.55h1.1M745 482.55h1.1M717 493.55h1.1M739 488.55h1.1M753 466.55h1.1M738 457.55h1.1M727 487.55h1.1M711 498.55h1.1M732 492.55h1.1M748 458.55h1.1M717 497.55h1.1M718 470.55h1.1M705 480.55h1.1M699 483.55h1.1M703 469.55h1.1M726 502.55h1.1M717 473.55h1.1M723 461.55h1.1M737 488.55h1.1M720 473.55h1.1M754 476.55h1.1M718 458.55h1.1M720 482.55h1.1M704 462.55h1.1M700 472.55h1.1M728 458.55h1.1M714 484.55h1.1M704 489.55h1.1M724 477.55h1.1M720 469.55h1.1M701 502.55h1.1M754 466.55h1.1M712 490.55h1.1M699 469.55h1.1M746 467.55h1.1M714 475.55h1.1M738 462.55h1.1M699 492.55h1.1M752 452.55h1.1M715 497.55h1.1M764 452.55h1.1M721 475.55h1.1M764 455.55h1.1M701 476.55h1.1M714 485.55h1.1M756 457.55h1.1M724 480.55h1.1M716 491.55h1.1M704 467.55h1.1M758 468.55h1.1M713 474.55h1.1M714 486.55h1.1M717 471.55h1.1M744 462.55h1.1M696 496.55h1.1M700 480.55h1.1M709 472.55h1.1M727 501.55h1.1M705 483.55h1.1M696 490.55h1.1M726 495.55h1.1M700 474.55h1.1M741 481.55h1.1M734 454.55h1.1M743 478.55h1.1M755 451.55h1.1M709 487.55h1.1M739 479.55h1.1M739 482.55h1.1M700 495.55h1.1M712 477.55h1.1M741 486.55h1.1M730 493.55h1.1M725 482.55h1.1M721 499.55h1.1M733 458.55h1.1M752 478.55h1.1M737 469.55h1.1M743 466.55h1.1M760 454.55h1.1M725 486.55h1.1M698 474.55h1.1M695 473.55h1.1M704 469.55h1.1M743 476.55h1.1M704 503.55h1.1M698 501.55h1.1M738 468.55h1.1M755 470.55h1.1M732 494.55h1.1M750 480.55h1.1M741 478.55h1.1M742 477.55h1.1M703 491.55h1.1M768 458.55h1.1M755 465.55h1.1M737 459.55h1.1M732 483.55h1.1M724 459.55h1.1M707 474.55h1.1M747 451.55h1.1M729 492.55h1.1M753 470.55h1.1M753 461.55h1.1M754 470.55h1.1M745 473.55h1.1M696 466.55h1.1M704 500.55h1.1M703 485.55h1.1M738 485.55h1.1M718 459.55h1.1M703 482.55h1.1M740 460.55h1.1M719 494.55h1.1M700 500.55h1.1M728 487.55h1.1M709 486.55h1.1M702 496.55h1.1M699 501.55h1.1M728 492.55h1.1M702 503.55h1.1M727 479.55h1.1M711 470.55h1.1M728 481.55h1.1M755 452.55h1.1M756 471.55h1.1M707 470.55h1.1M729 497.55h1.1M755 458.55h1.1M753 458.55h1.1M729 470.55h1.1M755 450.55h1.1M764 458.55h1.1M710 488.55h1.1M706 503.55h1.1M724 478.55h1.1M755 467.55h1.1M751 453.55h1.1M718 500.55h1.1M713 472.55h1.1M730 482.55h1.1M706 479.55h1.1M739 480.55h1.1M703 484.55h1.1M729 480.55h1.1M701 494.55h1.1M757 457.55h1.1M751 471.55h1.1M750 472.55h1.1M735 469.55h1.1M761 456.55h1.1M725 479.55h1.1M756 451.55h1.1M718 482.55h1.1M757 472.55h1.1M702 468.55h1.1M723 481.55h1.1M719 486.55h1.1M725 487.55h1.1M749 469.55h1.1M708 492.55h1.1M710 489.55h1.1M698 492.55h1.1M709 475.55h1.1M745 457.55h1.1M725 471.55h1.1M738 483.55h1.1M743 479.55h1.1M741 455.55h1.1M726 500.55h1.1M703 488.55h1.1M723 482.55h1.1M735 475.55h1.1M698 500.55h1.1M764 459.55h1.1M752 467.55h1.1M719 493.55h1.1M737 483.55h1.1M726 471.55h1.1M709 490.55h1.1M755 463.55h1.1M734 475.55h1.1M703 463.55h1.1M723 487.55h1.1M745 478.55h1.1M757 461.55h1.1M708 493.55h1.1M742 471.55h1.1M723 490.55h1.1M701 463.55h1.1M701 492.55h1.1M763 454.55h1.1M741 466.55h1.1M733 460.55h1.1M696 487.55h1.1M737 479.55h1.1M706 472.55h1.1M767 464.55h1.1M732 485.55h1.1M712 471.55h1.1M714 476.55h1.1M722 497.55h1.1M724 488.55h1.1M763 466.55h1.1M714 496.55h1.1M712 465.55h1.1M709 485.55h1.1M709 497.55h1.1M695 501.55h1.1M727 474.55h1.1M748 480.55h1.1M724 489.55h1.1M721 462.55h1.1M754 469.55h1.1M714 493.55h1.1M749 475.55h1.1M702 490.55h1.1M726 479.55h1.1M731 466.55h1.1M765 458.55h1.1M710 473.55h1.1M717 485.55h1.1M727 477.55h1.1M719 469.55h1.1M696 479.55h1.1M751 456.55h1.1M728 483.55h1.1M717 492.55h1.1M749 470.55h1.1M761 460.55h1.1M758 455.55h1.1M729 483.55h1.1M731 467.55h1.1M758 457.55h1.1M742 466.55h1.1M727 497.55h1.1M731 468.55h1.1M705 471.55h1.1M729 501.55h1.1M721 501.55h1.1M715 462.55h1.1M696 477.55h1.1M702 493.55h1.1M744 461.55h1.1M768 455.55h1.1M701 500.55h1.1M698 482.55h1.1M721 486.55h1.1M727 498.55h1.1M745 480.55h1.1M745 481.55h1.1M725 462.55h1.1M726 481.55h1.1M727 480.55h1.1M703 472.55h1.1M699 473.55h1.1M749 454.55h1.1M712 497.55h1.1M746 474.55h1.1M696 489.55h1.1M757 453.55h1.1M699 482.55h1.1M705 475.55h1.1M725 461.55h1.1M746 473.55h1.1M697 468.55h1.1M729 474.55h1.1M734 477.55h1.1M765 460.55h1.1M710 478.55h1.1M715 491.55h1.1M722 467.55h1.1M761 458.55h1.1M758 451.55h1.1M709 494.55h1.1M704 488.55h1.1M755 456.55h1.1M708 463.55h1.1M729 463.55h1.1M739 467.55h1.1M733 486.55h1.1M759 471.55h1.1M715 482.55h1.1M698 473.55h1.1M697 495.55h1.1M742 461.55h1.1M725 460.55h1.1M701 473.55h1.1M732 463.55h1.1M737 477.55h1.1M724 502.55h1.1M727 481.55h1.1M726 484.55h1.1M724 471.55h1.1M709 469.55h1.1M711 486.55h1.1M709 501.55h1.1M751 470.55h1.1M729 502.55h1.1M753 460.55h1.1M725 473.55h1.1M765 454.55h1.1M719 482.55h1.1M707 489.55h1.1M723 468.55h1.1M703 480.55h1.1M708 461.55h1.1M727 461.55h1.1M736 461.55h1.1M706 469.55h1.1M727 464.55h1.1M748 475.55h1.1M725 463.55h1.1M706 486.55h1.1M737 485.55h1.1M702 501.55h1.1M741 471.55h1.1M744 471.55h1.1M695 480.55h1.1M737 453.55h1.1M715 476.55h1.1M756 452.55h1.1M713 463.55h1.1M722 480.55h1.1M719 479.55h1.1M711 497.55h1.1M744 477.55h1.1M751 467.55h1.1M714 463.55h1.1M719 491.55h1.1M731 494.55h1.1M733 475.55h1.1M755 457.55h1.1M740 471.55h1.1M713 465.55h1.1M701 487.55h1.1M721 467.55h1.1M717 486.55h1.1M764 453.55h1.1M726 503.55h1.1M750 463.55h1.1M732 479.55h1.1M730 475.55h1.1M730 467.55h1.1M766 456.55h1.1M727 459.55h1.1M697 493.55h1.1M723 477.55h1.1M728 476.55h1.1M731 491.55h1.1M701 467.55h1.1M734 464.55h1.1M715 463.55h1.1M735 465.55h1.1M710 466.55h1.1M739 453.55h1.1M719 500.55h1.1M699 475.55h1.1M739 473.55h1.1M727 460.55h1.1M750 459.55h1.1M716 501.55h1.1M732 470.55h1.1M730 499.55h1.1M728 491.55h1.1M757 471.55h1.1M752 471.55h1.1M708 466.55h1.1M752 462.55h1.1M733 490.55h1.1M699 503.55h1.1M718 468.55h1.1M752 453.55h1.1M705 489.55h1.1M745 467.55h1.1M744 474.55h1.1M738 488.55h1.1M730 480.55h1.1M753 463.55h1.1M695 472.55h1.1M697 481.55h1.1M695 481.55h1.1M732 478.55h1.1M737 462.55h1.1M695 476.55h1.1M723 475.55h1.1M755 459.55h1.1M712 483.55h1.1M745 459.55h1.1M757 450.55h1.1M737 493.55h1.1M718 478.55h1.1M762 451.55h1.1M725 470.55h1.1M762 467.55h1.1M732 457.55h1.1M711 465.55h1.1M750 453.55h1.1M765 456.55h1.1M737 456.55h1.1M733 484.55h1.1M747 484.55h1.1M701 485.55h1.1M721 502.55h1.1M718 495.55h1.1M727 484.55h1.1M747 460.55h1.1M724 474.55h1.1M709 484.55h1.1M743 460.55h1.1M760 469.55h1.1M744 455.55h1.1M753 465.55h1.1M766 458.55h1.1M698 480.55h1.1M702 486.55h1.1M710 492.55h1.1M730 458.55h1.1M718 465.55h1.1M757 456.55h1.1M736 466.55h1.1M748 457.55h1.1M715 489.55h1.1M717 482.55h1.1M720 491.55h1.1M732 482.55h1.1M754 463.55h1.1M749 460.55h1.1M748 467.55h1.1M726 488.55h1.1M742 473.55h1.1M763 462.55h1.1M715 483.55h1.1M720 461.55h1.1M696 484.55h1.1M732 491.55h1.1M721 487.55h1.1M698 497.55h1.1M750 461.55h1.1M764 451.55h1.1M716 464.55h1.1M719 472.55h1.1M712 503.55h1.1M762 466.55h1.1M701 496.55h1.1M719 489.55h1.1M707 497.55h1.1M719 495.55h1.1M728 499.55h1.1M733 477.55h1.1M723 497.55h1.1M728 485.55h1.1M752 474.55h1.1M708 478.55h1.1M730 484.55h1.1M724 481.55h1.1M753 474.55h1.1M730 454.55h1.1M720 471.55h1.1M710 475.55h1.1M708 498.55h1.1M753 472.55h1.1M715 486.55h1.1M711 480.55h1.1M704 465.55h1.1M698 495.55h1.1M741 484.55h1.1M701 478.55h1.1M753 467.55h1.1M733 496.55h1.1M704 498.55h1.1M730 496.55h1.1M702 492.55h1.1M705 468.55h1.1M724 479.55h1.1M724 462.55h1.1M714 473.55h1.1M747 480.55h1.1M700 492.55h1.1M747 455.55h1.1M695 497.55h1.1M707 493.55h1.1M715 468.55h1.1M724 461.55h1.1M703 497.55h1.1M730 494.55h1.1M698 493.55h1.1M733 464.55h1.1M715 473.55h1.1M748 459.55h1.1M712 480.55h1.1M730 476.55h1.1M729 473.55h1.1M758 461.55h1.1M740 463.55h1.1M719 476.55h1.1M751 460.55h1.1M753 462.55h1.1M746 462.55h1.1M722 502.55h1.1M715 493.55h1.1M720 495.55h1.1M756 453.55h1.1M758 463.55h1.1M706 465.55h1.1M700 489.55h1.1M759 470.55h1.1M721 471.55h1.1M711 502.55h1.1M717 477.55h1.1M698 485.55h1.1M740 457.55h1.1M696 470.55h1.1M728 477.55h1.1M723 485.55h1.1M743 467.55h1.1M713 486.55h1.1M710 494.55h1.1M701 490.55h1.1M703 496.55h1.1M716 499.55h1.1M731 463.55h1.1M730 470.55h1.1M762 456.55h1.1M709 464.55h1.1M736 473.55h1.1M705 467.55h1.1M759 454.55h1.1M696 486.55h1.1M736 490.55h1.1M750 467.55h1.1M715 479.55h1.1M707 469.55h1.1M700 499.55h1.1M733 456.55h1.1M762 459.55h1.1M697 500.55h1.1M717 465.55h1.1M759 456.55h1.1M725 499.55h1.1M705 496.55h1.1M712 484.55h1.1M698 498.55h1.1M699 499.55h1.1M736 485.55h1.1M731 487.55h1.1M713 475.55h1.1M722 465.55h1.1M705 466.55h1.1M725 498.55h1.1M733 454.55h1.1M753 457.55h1.1M734 462.55h1.1M732 480.55h1.1M702 491.55h1.1M756 461.55h1.1M718 488.55h1.1M737 455.55h1.1M718 471.55h1.1M726 492.55h1.1M709 496.55h1.1M759 459.55h1.1M712 486.55h1.1M744 481.55h1.1M742 467.55h1.1M728 474.55h1.1M698 478.55h1.1M719 490.55h1.1M751 451.55h1.1M741 469.55h1.1M721 463.55h1.1M757 469.55h1.1M732 476.55h1.1M731 473.55h1.1M745 463.55h1.1M746 459.55h1.1M733 470.55h1.1M737 478.55h1.1M764 463.55h1.1M711 490.55h1.1M695 500.55h1.1M754 450.55h1.1M737 466.55h1.1M706 494.55h1.1M707 472.55h1.1M722 464.55h1.1M746 458.55h1.1M718 477.55h1.1M724 476.55h1.1M699 471.55h1.1M758 470.55h1.1M694 467.55h1.1M730 489.55h1.1M697 486.55h1.1M722 462.55h1.1M728 502.55h1.1M733 485.55h1.1M722 483.55h1.1M724 499.55h1.1M699 493.55h1.1M744 466.55h1.1M708 497.55h1.1M731 483.55h1.1M726 483.55h1.1M709 482.55h1.1M752 459.55h1.1M737 465.55h1.1M743 468.55h1.1M697 494.55h1.1M748 470.55h1.1M734 474.55h1.1M728 468.55h1.1M741 473.55h1.1M716 468.55h1.1M710 467.55h1.1M705 502.55h1.1M700 468.55h1.1M714 488.55h1.1M768 460.55h1.1M731 458.55h1.1M746 475.55h1.1M758 465.55h1.1M715 500.55h1.1M735 468.55h1.1M713 485.55h1.1M725 484.55h1.1M728 479.55h1.1M706 497.55h1.1M707 495.55h1.1M753 459.55h1.1M728 461.55h1.1M711 478.55h1.1M751 461.55h1.1M748 481.55h1.1M716 502.55h1.1M740 475.55h1.1M703 477.55h1.1M731 481.55h1.1M719 503.55h1.1M761 452.55h1.1M726 486.55h1.1M736 484.55h1.1M769 454.55h1.1M729 500.55h1.1M739 475.55h1.1M720 498.55h1.1M762 452.55h1.1M725 490.55h1.1M724 493.55h1.1M736 458.55h1.1M738 471.55h1.1M723 486.55h1.1M703 467.55h1.1M747 467.55h1.1M733 476.55h1.1M722 501.55h1.1M736 462.55h1.1M756 449.55h1.1M743 484.55h1.1M730 478.55h1.1M733 463.55h1.1M745 455.55h1.1M718 502.55h1.1M734 486.55h1.1M728 498.55h1.1M732 460.55h1.1M743 477.55h1.1M736 471.55h1.1M716 486.55h1.1M723 465.55h1.1M711 469.55h1.1M708 485.55h1.1M716 485.55h1.1M727 492.55h1.1M709 468.55h1.1M707 494.55h1.1M733 469.55h1.1M724 487.55h1.1M709 480.55h1.1M723 494.55h1.1M695 491.55h1.1M739 474.55h1.1M696 493.55h1.1M734 467.55h1.1M719 466.55h1.1M740 467.55h1.1M725 465.55h1.1M731 469.55h1.1M749 461.55h1.1M713 488.55h1.1M716 473.55h1.1M710 468.55h1.1M723 493.55h1.1M705 474.55h1.1M729 493.55h1.1M714 491.55h1.1M698 488.55h1.1M697 476.55h1.1M731 496.55h1.1M754 460.55h1.1M726 467.55h1.1M716 487.55h1.1M749 481.55h1.1M715 492.55h1.1M719 463.55h1.1M749 466.55h1.1M723 469.55h1.1M702 464.55h1.1M702 488.55h1.1M721 498.55h1.1M720 484.55h1.1M726 489.55h1.1M738 478.55h1.1M695 474.55h1.1M726 494.55h1.1M743 480.55h1.1M739 478.55h1.1M698 468.55h1.1M745 460.55h1.1M712 460.55h1.1M713 471.55h1.1M715 477.55h1.1M716 503.55h1.1M705 473.55h1.1M701 469.55h1.1M733 498.55h1.1M699 484.55h1.1M698 496.55h1.1M749 457.55h1.1M749 451.55h1.1M705 495.55h1.1M705 485.55h1.1M749 479.55h1.1M721 496.55h1.1M760 466.55h1.1M742 482.55h1.1M711 484.55h1.1M737 457.55h1.1M728 469.55h1.1M699 466.55h1.1M715 465.55h1.1M703 476.55h1.1M725 495.55h1.1M701 479.55h1.1M696 476.55h1.1M700 491.55h1.1M739 472.55h1.1M713 483.55h1.1M752 455.55h1.1M718 496.55h1.1M717 461.55h1.1M727 471.55h1.1M698 503.55h1.1M752 475.55h1.1M714 482.55h1.1M723 496.55h1.1M724 482.55h1.1M706 475.55h1.1M714 498.55h1.1M740 484.55h1.1M731 492.55h1.1M727 486.55h1.1M722 491.55h1.1M709 491.55h1.1M712 464.55h1.1M736 465.55h1.1M714 472.55h1.1M721 464.55h1.1M729 462.55h1.1M738 469.55h1.1M706 482.55h1.1M712 469.55h1.1M748 456.55h1.1M707 484.55h1.1M721 472.55h1.1M737 487.55h1.1M721 495.55h1.1M730 468.55h1.1M734 478.55h1.1M726 468.55h1.1M722 468.55h1.1M717 489.55h1.1M763 458.55h1.1M719 485.55h1.1M766 455.55h1.1M732 501.55h1.1M718 481.55h1.1M720 476.55h1.1M742 481.55h1.1M699 470.55h1.1M741 460.55h1.1M730 488.55h1.1M703 498.55h1.1M706 498.55h1.1M754 471.55h1.1M714 483.55h1.1M712 494.55h1.1M742 478.55h1.1M739 481.55h1.1M704 501.55h1.1M719 488.55h1.1M761 462.55h1.1M702 479.55h1.1M701 491.55h1.1M696 499.55h1.1M711 472.55h1.1M740 472.55h1.1M741 476.55h1.1M745 469.55h1.1M699 486.55h1.1M736 478.55h1.1M702 470.55h1.1M729 478.55h1.1M696 472.55h1.1M716 500.55h1.1M757 451.55h1.1M715 498.55h1.1M704 499.55h1.1M738 465.55h1.1M697 502.55h1.1M707 486.55h1.1M742 487.55h1.1M764 456.55h1.1M755 455.55h1.1M698 486.55h1.1M724 491.55h1.1M738 455.55h1.1M754 475.55h1.1M759 467.55h1.1M704 490.55h1.1M753 455.55h1.1M758 450.55h1.1M711 485.55h1.1M754 454.55h1.1M701 495.55h1.1M712 491.55h1.1M712 468.55h1.1M744 468.55h1.1M728 478.55h1.1M753 471.55h1.1M727 482.55h1.1M716 484.55h1.1M729 472.55h1.1M695 489.55h1.1M742 474.55h1.1M702 485.55h1.1M731 464.55h1.1M760 462.55h1.1M756 465.55h1.1M740 454.55h1.1M729 461.55h1.1M695 503.55h1.1M717 475.55h1.1M697 496.55h1.1M699 491.55h1.1M717 483.55h1.1M742 460.55h1.1M702 467.55h1.1M751 452.55h1.1M729 485.55h1.1M697 480.55h1.1M743 483.55h1.1M703 478.55h1.1M752 454.55h1.1M739 460.55h1.1M698 471.55h1.1M726 490.55h1.1M739 468.55h1.1M737 480.55h1.1M754 462.55h1.1M736 459.55h1.1M752 458.55h1.1M707 501.55h1.1M752 460.55h1.1M738 484.55h1.1M750 478.55h1.1M715 472.55h1.1M735 484.55h1.1M737 475.55h1.1M735 461.55h1.1M756 454.55h1.1M723 503.55h1.1M722 479.55h1.1M730 495.55h1.1M721 480.55h1.1M721 457.55h1.1M750 462.55h1.1M700 481.55h1.1M706 502.55h1.1M758 454.55h1.1M760 461.55h1.1M736 481.55h1.1M753 476.55h1.1M696 500.55h1.1M718 497.55h1.1M724 470.55h1.1M749 455.55h1.1M720 465.55h1.1M754 459.55h1.1M763 456.55h1.1M747 476.55h1.1M749 478.55h1.1M736 495.55h1.1M756 469.55h1.1M735 463.55h1.1M725 468.55h1.1M743 464.55h1.1M697 469.55h1.1M701 484.55h1.1M712 466.55h1.1M731 472.55h1.1M727 472.55h1.1M735 457.55h1.1M721 459.55h1.1M754 465.55h1.1M724 473.55h1.1M727 485.55h1.1M742 480.55h1.1M753 456.55h1.1M762 460.55h1.1M730 469.55h1.1M697 483.55h1.1M711 479.55h1.1M723 457.55h1.1M711 461.55h1.1M700 469.55h1.1M763 461.55h1.1M736 479.55h1.1M754 464.55h1.1M739 462.55h1.1M699 497.55h1.1M738 463.55h1.1M695 470.55h1.1M710 464.55h1.1M706 480.55h1.1M738 466.55h1.1M744 465.55h1.1M755 462.55h1.1M726 474.55h1.1M728 493.55h1.1M713 470.55h1.1M752 457.55h1.1M747 469.55h1.1M722 490.55h1.1M734 491.55h1.1M741 477.55h1.1M733 499.55h1.1M701 489.55h1.1M699 485.55h1.1M713 478.55h1.1M731 478.55h1.1M704 485.55h1.1M728 495.55h1.1M708 479.55h1.1M704 476.55h1.1M751 473.55h1.1M702 500.55h1.1M718 485.55h1.1M743 454.55h1.1M756 458.55h1.1M708 500.55h1.1M707 471.55h1.1M717 468.55h1.1M705 500.55h1.1M718 487.55h1.1M742 489.55h1.1M701 486.55h1.1M737 486.55h1.1M763 455.55h1.1M734 498.55h1.1M734 471.55h1.1M729 455.55h1.1M715 499.55h1.1M716 472.55h1.1M731 489.55h1.1M730 465.55h1.1M713 487.55h1.1M729 496.55h1.1M735 476.55h1.1M705 499.55h1.1M760 456.55h1.1M725 469.55h1.1M735 485.55h1.1M763 464.55h1.1M726 463.55h1.1M761 455.55h1.1M759 465.55h1.1M739 484.55h1.1M722 489.55h1.1M732 500.55h1.1M741 475.55h1.1M712 472.55h1.1M711 501.55h1.1M705 482.55h1.1M709 502.55h1.1M700 490.55h1.1M699 476.55h1.1M721 456.55h1.1M696 474.55h1.1M722 500.55h1.1M767 457.55h1.1M700 482.55h1.1M702 480.55h1.1M713 462.55h1.1M707 465.55h1.1M728 467.55h1.1M749 452.55h1.1M711 496.55h1.1M740 469.55h1.1M735 491.55h1.1M758 467.55h1.1M711 464.55h1.1M705 492.55h1.1M726 460.55h1.1M740 480.55h1.1M745 465.55h1.1M732 456.55h1.1M702 483.55h1.1M748 464.55h1.1M748 472.55h1.1M714 474.55h1.1M756 455.55h1.1M749 464.55h1.1M719 481.55h1.1M741 456.55h1.1M731 486.55h1.1M701 466.55h1.1M714 471.55h1.1M756 463.55h1.1M720 474.55h1.1M725 503.55h1.1M698 490.55h1.1M705 465.55h1.1M717 462.55h1.1M713 502.55h1.1M732 469.55h1.1M763 452.55h1.1M762 461.55h1.1M746 460.55h1.1M752 456.55h1.1M722 473.55h1.1M702 489.55h1.1M710 474.55h1.1M732 477.55h1.1M756 448.55h1.1M725 481.55h1.1M735 492.55h1.1M742 457.55h1.1M703 473.55h1.1M747 473.55h1.1M754 448.55h1.1M697 473.55h1.1M769 458.55h1.1M741 451.55h1.1M742 459.55h1.1M701 480.55h1.1M733 478.55h1.1M730 461.55h1.1M748 462.55h1.1M719 492.55h1.1M731 459.55h1.1M696 482.55h1.1M701 493.55h1.1M715 485.55h1.1M699 474.55h1.1M744 470.55h1.1M758 469.55h1.1M729 475.55h1.1M738 467.55h1.1M720 496.55h1.1M714 492.55h1.1M715 494.55h1.1M719 497.55h1.1M760 451.55h1.1M713 499.55h1.1M744 478.55h1.1M707 464.55h1.1M714 489.55h1.1M753 449.55h1.1M712 474.55h1.1M757 460.55h1.1M722 494.55h1.1M752 463.55h1.1M760 468.55h1.1M723 489.55h1.1M763 451.55h1.1M747 465.55h1.1M705 486.55h1.1M753 450.55h1.1M746 482.55h1.1M702 473.55h1.1M715 481.55h1.1M730 462.55h1.1M696 471.55h1.1M723 479.55h1.1M735 483.55h1.1M722 499.55h1.1M742 454.55h1.1M724 475.55h1.1M720 486.55h1.1M739 470.55h1.1M718 466.55h1.1M720 503.55h1.1M730 479.55h1.1M749 476.55h1.1M740 476.55h1.1M728 490.55h1.1M748 473.55h1.1M698 494.55h1.1M707 485.55h1.1M734 483.55h1.1M731 462.55h1.1M732 467.55h1.1M703 487.55h1.1M720 462.55h1.1M706 476.55h1.1M714 497.55h1.1M711 492.55h1.1M695 483.55h1.1M739 464.55h1.1M747 474.55h1.1M696 497.55h1.1M696 494.55h1.1M704 497.55h1.1M740 481.55h1.1M733 480.55h1.1M704 481.55h1.1M731 470.55h1.1M710 498.55h1.1M728 471.55h1.1M750 474.55h1.1M713 490.55h1.1M743 472.55h1.1M724 465.55h1.1M739 456.55h1.1M713 469.55h1.1M719 501.55h1.1M746 469.55h1.1M753 468.55h1.1M725 476.55h1.1M729 476.55h1.1M759 460.55h1.1M719 484.55h1.1M702 474.55h1.1M707 499.55h1.1M717 494.55h1.1M748 476.55h1.1M740 486.55h1.1M722 461.55h1.1M735 486.55h1.1M745 450.55h1.1M708 474.55h1.1M747 463.55h1.1M711 473.55h1.1M754 455.55h1.1M765 453.55h1.1M706 477.55h1.1M760 453.55h1.1M733 482.55h1.1M727 483.55h1.1M749 477.55h1.1M702 497.55h1.1M708 490.55h1.1M711 495.55h1.1M716 476.55h1.1M707 480.55h1.1M699 480.55h1.1M700 475.55h1.1M697 470.55h1.1M750 456.55h1.1M732 486.55h1.1M722 503.55h1.1M742 472.55h1.1M707 467.55h1.1M722 466.55h1.1M728 500.55h1.1M701 471.55h1.1M721 478.55h1.1M754 453.55h1.1M734 469.55h1.1M760 467.55h1.1M729 488.55h1.1M717 469.55h1.1M699 495.55h1.1M695 488.55h1.1M747 468.55h1.1M699 479.55h1.1M742 470.55h1.1M709 470.55h1.1M728 462.55h1.1M704 487.55h1.1M714 470.55h1.1M763 449.55h1.1M704 471.55h1.1M730 487.55h1.1M716 488.55h1.1M717 501.55h1.1M739 476.55h1.1M702 478.55h1.1M717 491.55h1.1M720 466.55h1.1M720 500.55h1.1M755 477.55h1.1M747 461.55h1.1M766 465.55h1.1M721 491.55h1.1M711 499.55h1.1M710 477.55h1.1M720 483.55h1.1M731 460.55h1.1M742 476.55h1.1M695 478.55h1.1M704 477.55h1.1M750 455.55h1.1M718 493.55h1.1M707 479.55h1.1M696 492.55h1.1M754 449.55h1.1M713 503.55h1.1M750 473.55h1.1M747 470.55h1.1M717 467.55h1.1M743 475.55h1.1M708 491.55h1.1M712 478.55h1.1M746 481.55h1.1M759 462.55h1.1M735 456.55h1.1M720 477.55h1.1M729 469.55h1.1M721 479.55h1.1M721 476.55h1.1M756 450.55h1.1M713 494.55h1.1M742 475.55h1.1M744 479.55h1.1M715 478.55h1.1M739 461.55h1.1M707 503.55h1.1M729 467.55h1.1M734 489.55h1.1M751 468.55h1.1M753 479.55h1.1M734 457.55h1.1M727 456.55h1.1M728 465.55h1.1M696 503.55h1.1M753 453.55h1.1M737 491.55h1.1M705 501.55h1.1M706 487.55h1.1M711 489.55h1.1M705 472.55h1.1M716 493.55h1.1M705 477.55h1.1M754 458.55h1.1M736 460.55h1.1M735 478.55h1.1M735 477.55h1.1M721 500.55h1.1M740 466.55h1.1M714 466.55h1.1M716 482.55h1.1M714 479.55h1.1M752 451.55h1.1M732 475.55h1.1M723 499.55h1.1M759 472.55h1.1M697 501.55h1.1M746 457.55h1.1M697 492.55h1.1M738 460.55h1.1M710 503.55h1.1M756 475.55h1.1M737 476.55h1.1M715 480.55h1.1M753 473.55h1.1M743 481.55h1.1M699 496.55h1.1M713 481.55h1.1M737 472.55h1.1M722 476.55h1.1M759 469.55h1.1M748 469.55h1.1M734 480.55h1.1M737 484.55h1.1M716 474.55h1.1M758 462.55h1.1M729 484.55h1.1M741 462.55h1.1M739 486.55h1.1M741 483.55h1.1M703 466.55h1.1M767 451.55h1.1M744 469.55h1.1M714 480.55h1.1M705 488.55h1.1M718 503.55h1.1M709 481.55h1.1M731 484.55h1.1M747 457.55h1.1M717 499.55h1.1M738 472.55h1.1M708 487.55h1.1M728 497.55h1.1M724 467.55h1.1M746 463.55h1.1M740 479.55h1.1M718 461.55h1.1M716 490.55h1.1M708 494.55h1.1M711 483.55h1.1M738 477.55h1.1M736 477.55h1.1M753 464.55h1.1M707 502.55h1.1M741 463.55h1.1M706 483.55h1.1M702 463.55h1.1M713 498.55h1.1M726 478.55h1.1M737 464.55h1.1M707 481.55h1.1M739 487.55h1.1M702 498.55h1.1M722 488.55h1.1M740 452.55h1.1M713 493.55h1.1M728 463.55h1.1M748 453.55h1.1M696 488.55h1.1M758 474.55h1.1M719 478.55h1.1M762 458.55h1.1M715 467.55h1.1M740 462.55h1.1M735 497.55h1.1M723 471.55h1.1M707 483.55h1.1M728 480.55h1.1M712 476.55h1.1M750 460.55h1.1M740 470.55h1.1M762 471.55h1.1M725 485.55h1.1M745 464.55h1.1M764 460.55h1.1M698 489.55h1.1M735 488.55h1.1M740 473.55h1.1M697 477.55h1.1M720 501.55h1.1M715 471.55h1.1M709 478.55h1.1M728 503.55h1.1M725 474.55h1.1M765 452.55h1.1M709 495.55h1.1M723 472.55h1.1M714 503.55h1.1M731 471.55h1.1M720 463.55h1.1M716 477.55h1.1M719 499.55h1.1M751 474.55h1.1M716 483.55h1.1M745 471.55h1.1M714 468.55h1.1M722 475.55h1.1M712 485.55h1.1M742 456.55h1.1M757 458.55h1.1M738 482.55h1.1M749 453.55h1.1M737 461.55h1.1M720 479.55h1.1M726 466.55h1.1M710 485.55h1.1M700 501.55h1.1M760 472.55h1.1M725 502.55h1.1M716 496.55h1.1M728 482.55h1.1M707 475.55h1.1M736 489.55h1.1M761 451.55h1.1M710 471.55h1.1M706 467.55h1.1M764 466.55h1.1M698 472.55h1.1M701 475.55h1.1M736 456.55h1.1M732 473.55h1.1M720 481.55h1.1M716 470.55h1.1M697 497.55h1.1M761 457.55h1.1M724 498.55h1.1M723 483.55h1.1M732 462.55h1.1M695 468.55h1.1M725 457.55h1.1M719 483.55h1.1M721 481.55h1.1M730 497.55h1.1M715 502.55h1.1M738 461.55h1.1M697 498.55h1.1M749 482.55h1.1M741 479.55h1.1M736 464.55h1.1M701 468.55h1.1M718 480.55h1.1M750 465.55h1.1M722 493.55h1.1M720 480.55h1.1M765 455.55h1.1M733 467.55h1.1M756 477.55h1.1M721 485.55h1.1M728 501.55h1.1M749 473.55h1.1M724 486.55h1.1M761 465.55h1.1M745 472.55h1.1M755 468.55h1.1M758 472.55h1.1M717 479.55h1.1M704 464.55h1.1M736 463.55h1.1M733 487.55h1.1M707 496.55h1.1M728 460.55h1.1M711 503.55h1.1M734 468.55h1.1M701 483.55h1.1M730 498.55h1.1M698 481.55h1.1M730 485.55h1.1M711 471.55h1.1M750 466.55h1.1M740 477.55h1.1M734 484.55h1.1M710 491.55h1.1M714 462.55h1.1M699 494.55h1.1M743 469.55h1.1M744 454.55h1.1M767 458.55h1.1M706 485.55h1.1M743 458.55h1.1M729 486.55h1.1M741 485.55h1.1M750 469.55h1.1M749 465.55h1.1M748 461.55h1.1M738 491.55h1.1M703 502.55h1.1M697 474.55h1.1M721 503.55h1.1M728 473.55h1.1M763 469.55h1.1M701 498.55h1.1M748 463.55h1.1M715 470.55h1.1M725 492.55h1.1M727 468.55h1.1M754 473.55h1.1M737 482.55h1.1M703 475.55h1.1M727 503.55h1.1M725 497.55h1.1M725 493.55h1.1M726 493.55h1.1M717 470.55h1.1M700 478.55h1.1M714 502.55h1.1M758 460.55h1.1M713 476.55h1.1M730 502.55h1.1M758 453.55h1.1M758 466.55h1.1M732 493.55h1.1M705 494.55h1.1M731 485.55h1.1M737 474.55h1.1M721 488.55h1.1M751 476.55h1.1M745 451.55h1.1M719 461.55h1.1M750 457.55h1.1M732 489.55h1.1M760 460.55h1.1M738 474.55h1.1M750 454.55h1.1M745 474.55h1.1M718 492.55h1.1M717 487.55h1.1M744 472.55h1.1M699 472.55h1.1M710 500.55h1.1M710 502.55h1.1M741 488.55h1.1M707 492.55h1.1M742 462.55h1.1M751 455.55h1.1M725 477.55h1.1M701 472.55h1.1M736 474.55h1.1M727 476.55h1.1M695 482.55h1.1M733 461.55h1.1M709 477.55h1.1M707 463.55h1.1M695 477.55h1.1M726 480.55h1.1M718 494.55h1.1M712 499.55h1.1M757 465.55h1.1M730 473.55h1.1M710 472.55h1.1M702 487.55h1.1M712 470.55h1.1M718 463.55h1.1M720 460.55h1.1M742 479.55h1.1M722 459.55h1.1M720 494.55h1.1M699 490.55h1.1M699 478.55h1.1M732 503.55h1.1M731 482.55h1.1M744 459.55h1.1M712 488.55h1.1M703 489.55h1.1M722 469.55h1.1M698 467.55h1.1M702 466.55h1.1M700 483.55h1.1M727 463.55h1.1M732 488.55h1.1M698 479.55h1.1M707 478.55h1.1M726 476.55h1.1M704 493.55h1.1M712 482.55h1.1M746 485.55h1.1M726 491.55h1.1M712 467.55h1.1M716 481.55h1.1M724 494.55h1.1M747 453.55h1.1M724 485.55h1.1M700 486.55h1.1M744 453.55h1.1M741 474.55h1.1M724 492.55h1.1M734 461.55h1.1M728 472.55h1.1M722 484.55h1.1M746 455.55h1.1M741 468.55h1.1M721 466.55h1.1M708 477.55h1.1M718 484.55h1.1M730 500.55h1.1M734 485.55h1.1M752 461.55h1.1M697 503.55h1.1M730 472.55h1.1M719 474.55h1.1M707 491.55h1.1M704 479.55h1.1M708 473.55h1.1M757 459.55h1.1M762 455.55h1.1M751 475.55h1.1M734 488.55h1.1M733 479.55h1.1M737 458.55h1.1M739 457.55h1.1M751 457.55h1.1M728 470.55h1.1M768 453.55h1.1M748 460.55h1.1M717 480.55h1.1M743 461.55h1.1M715 466.55h1.1M765 457.55h1.1M735 466.55h1.1M714 477.55h1.1M712 473.55h1.1M702 476.55h1.1M744 475.55h1.1M710 470.55h1.1M704 491.55h1.1M739 463.55h1.1M699 500.55h1.1M714 500.55h1.1M729 471.55h1.1M713 491.55h1.1M747 466.55h1.1M708 495.55h1.1M711 482.55h1.1M707 466.55h1.1M738 458.55h1.1M731 476.55h1.1M710 484.55h1.1M726 457.55h1.1M756 462.55h1.1M702 482.55h1.1M732 487.55h1.1M727 462.55h1.1M704 474.55h1.1M724 496.55h1.1M715 501.55h1.1M744 486.55h1.1M710 497.55h1.1M695 499.55h1.1M703 486.55h1.1M732 458.55h1.1M696 468.55h1.1M741 452.55h1.1M754 461.55h1.1M766 459.55h1.1M738 470.55h1.1M731 480.55h1.1M708 496.55h1.1M732 471.55h1.1M732 496.55h1.1M721 461.55h1.1M735 473.55h1.1M709 488.55h1.1M697 488.55h1.1M711 476.55h1.1M709 474.55h1.1M762 462.55h1.1M704 495.55h1.1M701 501.55h1.1M706 489.55h1.1M707 482.55h1.1M745 476.55h1.1M700 502.55h1.1M749 462.55h1.1M746 477.55h1.1M738 481.55h1.1M750 452.55h1.1M728 454.55h1.1M737 471.55h1.1M723 501.55h1.1M708 470.55h1.1M696 491.55h1.1M750 475.55h1.1M718 501.55h1.1M731 457.55h1.1M706 468.55h1.1M743 474.55h1.1M736 468.55h1.1M760 457.55h1.1M714 464.55h1.1M700 477.55h1.1M757 467.55h1.1M735 471.55h1.1M721 494.55h1.1M750 471.55h1.1M730 483.55h1.1M729 456.55h1.1M756 466.55h1.1M737 467.55h1.1M699 481.55h1.1M745 470.55h1.1M761 463.55h1.1M723 488.55h1.1M710 479.55h1.1M721 490.55h1.1M717 474.55h1.1M746 466.55h1.1M745 466.55h1.1M719 465.55h1.1M717 502.55h1.1M728 489.55h1.1M716 465.55h1.1M708 488.55h1.1M724 495.55h1.1M736 483.55h1.1M745 483.55h1.1M723 459.55h1.1M768 459.55h1.1M700 487.55h1.1M733 491.55h1.1M711 491.55h1.1M745 468.55h1.1M708 469.55h1.1M726 470.55h1.1M744 460.55h1.1M696 475.55h1.1M700 493.55h1.1M722 487.55h1.1M706 473.55h1.1M733 459.55h1.1M702 502.55h1.1M745 454.55h1.1M700 470.55h1.1M725 501.55h1.1M722 482.55h1.1M709 503.55h1.1M715 496.55h1.1M726 475.55h1.1M706 466.55h1.1M727 491.55h1.1M720 468.55h1.1M748 454.55h1.1M732 468.55h1.1M700 497.55h1.1M720 478.55h1.1M721 473.55h1.1M715 464.55h1.1M717 488.55h1.1M739 491.55h1.1M721 474.55h1.1M703 470.55h1.1M737 463.55h1.1M725 480.55h1.1M695 490.55h1.1M734 494.55h1.1M721 483.55h1.1M740 478.55h1.1M740 456.55h1.1M747 482.55h1.1M722 474.55h1.1M726 487.55h1.1M708 483.55h1.1M695 469.55h1.1M722 498.55h1.1M740 459.55h1.1M731 455.55h1.1M719 459.55h1.1M742 458.55h1.1M742 464.55h1.1M709 479.55h1.1M734 465.55h1.1M723 462.55h1.1M735 467.55h1.1M752 464.55h1.1M720 485.55h1.1M734 472.55h1.1M716 469.55h1.1M709 492.55h1.1M735 474.55h1.1M722 463.55h1.1M697 485.55h1.1M736 470.55h1.1M732 454.55h1.1M723 470.55h1.1M756 456.55h1.1M698 469.55h1.1M756 467.55h1.1M749 450.55h1.1M746 454.55h1.1M724 466.55h1.1M695 467.55h1.1M725 500.55h1.1M724 483.55h1.1M738 476.55h1.1M756 473.55h1.1M698 491.55h1.1M723 484.55h1.1M720 488.55h1.1M746 453.55h1.1M766 451.55h1.1M728 459.55h1.1M695 498.55h1.1M731 475.55h1.1M763 463.55h1.1M734 460.55h1.1M741 470.55h1.1M712 492.55h1.1M702 469.55h1.1M713 480.55h1.1M761 449.55h1.1M696 478.55h1.1M738 492.55h1.1M762 469.55h1.1M749 458.55h1.1M722 477.55h1.1M728 457.55h1.1M696 485.55h1.1M716 475.55h1.1M740 461.55h1.1M747 462.55h1.1M710 465.55h1.1M735 460.55h1.1M729 477.55h1.1M708 482.55h1.1M737 489.55h1.1M767 454.55h1.1M711 500.55h1.1M704 478.55h1.1M712 502.55h1.1M724 497.55h1.1M767 452.55h1.1M717 496.55h1.1M726 485.55h1.1M746 476.55h1.1M760 463.55h1.1M713 464.55h1.1M745 475.55h1.1M737 473.55h1.1M717 500.55h1.1M754 467.55h1.1M732 474.55h1.1M714 495.55h1.1M695 485.55h1.1M708 462.55h1.1M759 468.55h1.1M750 470.55h1.1M738 453.55h1.1M758 456.55h1.1M733 489.55h1.1M697 475.55h1.1M743 456.55h1.1M735 464.55h1.1M753 478.55h1.1M723 474.55h1.1M742 483.55h1.1M752 470.55h1.1M757 470.55h1.1M720 458.55h1.1M760 465.55h1.1M748 468.55h1.1M719 467.55h1.1M708 484.55h1.1M705 479.55h1.1M705 478.55h1.1M708 476.55h1.1M752 468.55h1.1M734 479.55h1.1M695 487.55h1.1M712 498.55h1.1M726 458.55h1.1M741 461.55h1.1M735 470.55h1.1M749 480.55h1.1M704 466.55h1.1M719 471.55h1.1M710 486.55h1.1M704 482.55h1.1M727 469.55h1.1M699 468.55h1.1M750 479.55h1.1M703 492.55h1.1M727 499.55h1.1M741 465.55h1.1M761 464.55h1.1M740 487.55h1.1M751 469.55h1.1M735 480.55h1.1M694 476.55h1.1M732 459.55h1.1M732 465.55h1.1M713 495.55h1.1M744 456.55h1.1M764 450.55h1.1M718 483.55h1.1M754 468.55h1.1M751 472.55h1.1M695 471.55h1.1M726 461.55h1.1M766 457.55h1.1M701 503.55h1.1M748 483.55h1.1M700 479.55h1.1M697 479.55h1.1M736 476.55h1.1M724 501.55h1.1M717 460.55h1.1M697 487.55h1.1M742 469.55h1.1M736 486.55h1.1M701 481.55h1.1M758 452.55h1.1M707 487.55h1.1M748 452.55h1.1M727 488.55h1.1M754 451.55h1.1M706 470.55h1.1M709 466.55h1.1M714 490.55h1.1M717 490.55h1.1M727 496.55h1.1M722 470.55h1.1M762 463.55h1.1M729 464.55h1.1M744 458.55h1.1M715 474.55h1.1M721 468.55h1.1M759 466.55h1.1M718 475.55h1.1M702 472.55h1.1M745 453.55h1.1M755 476.55h1.1M734 496.55h1.1M746 472.55h1.1M752 469.55h1.1M740 455.55h1.1M696 481.55h1.1M713 460.55h1.1M752 450.55h1.1M763 465.55h1.1M727 490.55h1.1M727 467.55h1.1M742 486.55h1.1M712 479.55h1.1M740 468.55h1.1M758 458.55h1.1M729 459.55h1.1M739 483.55h1.1M695 495.55h1.1M741 490.55h1.1M760 455.55h1.1M748 479.55h1.1M710 460.55h1.1M718 467.55h1.1M762 457.55h1.1M759 455.55h1.1M723 476.55h1.1M718 490.55h1.1M732 490.55h1.1M723 456.55h1.1M708 499.55h1.1M723 480.55h1.1M766 461.55h1.1M722 472.55h1.1M759 457.55h1.1M756 474.55h1.1M704 502.55h1.1M768 452.55h1.1M754 447.55h1.1M757 452.55h1.1M743 453.55h1.1M733 494.55h1.1M749 474.55h1.1M751 464.55h1.1M753 454.55h1.1M712 487.55h1.1M747 458.55h1.1M726 472.55h1.1M718 476.55h1.1M711 481.55h1.1M706 481.55h1.1M703 483.55h1.1M722 460.55h1.1M749 468.55h1.1M704 480.55h1.1M735 487.55h1.1M747 478.55h1.1M697 472.55h1.1M698 502.55h1.1M761 459.55h1.1M741 457.55h1.1M709 498.55h1.1M733 474.55h1.1M736 488.55h1.1M722 492.55h1.1M742 468.55h1.1M705 493.55h1.1M722 457.55h1.1M740 464.55h1.1M735 479.55h1.1M705 497.55h1.1M743 470.55h1.1M714 478.55h1.1M697 478.55h1.1M721 469.55h1.1M721 497.55h1.1M695 502.55h1.1M729 498.55h1.1M760 471.55h1.1M737 470.55h1.1M753 475.55h1.1M738 475.55h1.1M734 456.55h1.1M741 467.55h1.1M720 467.55h1.1M710 482.55h1.1M764 467.55h1.1M764 462.55h1.1M709 473.55h1.1M721 470.55h1.1M716 494.55h1.1M706 495.55h1.1M703 499.55h1.1M714 494.55h1.1M729 503.55h1.1M759 464.55h1.1M749 483.55h1.1M726 482.55h1.1M712 500.55h1.1M728 484.55h1.1M710 476.55h1.1M723 463.55h1.1M715 475.55h1.1M702 477.55h1.1M733 481.55h1.1M750 476.55h1.1M701 474.55h1.1M758 475.55h1.1M754 477.55h1.1M715 488.55h1.1M722 495.55h1.1M704 473.55h1.1M698 499.55h1.1M701 470.55h1.1M702 481.55h1.1M722 471.55h1.1M724 463.55h1.1M747 479.55h1.1M713 482.55h1.1M741 482.55h1.1M724 468.55h1.1M710 487.55h1.1M721 489.55h1.1M762 468.55h1.1M744 476.55h1.1M761 447.55h1.1M717 484.55h1.1M729 487.55h1.1M749 456.55h1.1M742 453.55h1.1M709 489.55h1.1M700 471.55h1.1M732 497.55h1.1M711 494.55h1.1M733 473.55h1.1M741 464.55h1.1M725 488.55h1.1M752 480.55h1.1M733 492.55h1.1M701 497.55h1.1M704 486.55h1.1M722 496.55h1.1M738 479.55h1.1M713 497.55h1.1M748 484.55h1.1M734 470.55h1.1M727 502.55h1.1M736 482.55h1.1M700 473.55h1.1M697 489.55h1.1M735 459.55h1.1M703 503.55h1.1M753 451.55h1.1M769 452.55h1.1M717 478.55h1.1M723 495.55h1.1M718 469.55h1.1M749 467.55h1.1M748 466.55h1.1M748 482.55h1.1M755 461.55h1.1M699 487.55h1.1M717 464.55h1.1M723 458.55h1.1M737 481.55h1.1M716 479.55h1.1M740 482.55h1.1M747 477.55h1.1M743 462.55h1.1M738 490.55h1.1M742 465.55h1.1M725 478.55h1.1" stroke="#000" stroke-width="1.1" fill="none"/>
<polygon points="694.5,474.7 710.1,468.0 729.1,462.3 749.2,457.9 750.3,461.2 740.4,473.6 731.4,482.6 721.3,492.5 717.9,503.7 694.5,503.7" fill="#8c8c8c" stroke="#0a0a0a" stroke-width="2.2" stroke-linejoin="round"/>
<polygon points="694.5,476.9 706.8,482.6 715.7,486.9 723.5,492.5 716.8,503.7 694.5,503.7" fill="#9e9e9e" stroke="#111" stroke-width="1.1" stroke-linejoin="round"/>
<polygon points="694.5,481.4 702.4,486.9 708.0,491.4 703.5,503.7 694.5,503.7" fill="#c4c4c4" stroke="#111" stroke-width="1.1" stroke-linejoin="round"/>
<polygon points="694.5,484.6 699.0,491.4 700.1,503.7 694.5,503.7" fill="#efefef" stroke="#222" stroke-width="1.0" stroke-linejoin="round"/>
<ellipse cx="722.4" cy="475.8" rx="12.2" ry="6.1" transform="rotate(-55 722.4 475.8)" fill="#7a7a7a" stroke="#111" stroke-width="1.1"/>
<ellipse cx="740.4" cy="466.8" rx="11.5" ry="4.0" transform="rotate(-42 740.4 466.8)" fill="#7a7a7a" stroke="#111" stroke-width="1.1"/>
<ellipse cx="724.1" cy="474.7" rx="1.3" ry="1.6" transform="rotate(0 724.1 474.7)" fill="none" stroke="#111" stroke-width="1.1"/>
<rect x="693.8" y="337" width="155.0" height="167" fill="none" stroke="#333" stroke-width="1.3"/>
<line x1="693.8" y1="456.5" x2="848.8" y2="456.5" stroke="#333" stroke-width="1.1"/>
<path d="M688.8 353.6h5M690.8 383.0h3M690.8 375.6h3M690.8 370.4h3M690.8 366.3h3M690.8 362.9h3M690.8 360.1h3M690.8 357.7h3M690.8 355.5h3M688.8 395.7h5M690.8 425.1h3M690.8 417.7h3M690.8 412.5h3M690.8 408.4h3M690.8 405.0h3M690.8 402.2h3M690.8 399.8h3M690.8 397.6h3M688.8 437.8h5M690.8 467.2h3M690.8 459.8h3M690.8 454.6h3M690.8 450.5h3M690.8 447.1h3M690.8 444.3h3M690.8 441.9h3M690.8 439.7h3M688.8 479.9h5M690.8 501.9h3M690.8 496.7h3M690.8 492.6h3M690.8 489.2h3M690.8 486.4h3M690.8 484.0h3M690.8 481.8h3M690.8 340.9h3M715.5 504v7M695.1 504v4M700.0 504v4M703.7 504v4M706.8 504v4M709.4 504v4M711.7 504v4M713.7 504v4M755.1 504v7M727.8 504v4M734.7 504v4M739.5 504v4M743.3 504v4M746.4 504v4M749.0 504v4M751.3 504v4M753.3 504v4M793.8 504v7M766.5 504v4M773.4 504v4M778.3 504v4M782.1 504v4M785.2 504v4M787.8 504v4M790.0 504v4M792.0 504v4M832.6 504v7M805.3 504v4M812.2 504v4M817.0 504v4M820.8 504v4M823.9 504v4M826.5 504v4M828.8 504v4M830.8 504v4" stroke="#333" stroke-width="0.8" fill="none"/>
<text x="843.3" y="353.5" font-family="'Liberation Sans', sans-serif" font-size="8.2" font-weight="normal" fill="#000" text-anchor="end">T-reg</text>
<rect x="747" y="361" width="78" height="34" fill="#fff"/>
<text x="786" y="375.3" font-family="'Liberation Sans', sans-serif" font-size="13.8" font-weight="bold" fill="#ff0808" text-anchor="middle">8.43 ± 0.68</text>
<text x="786" y="391.8" font-family="'Liberation Sans', sans-serif" font-size="13.8" font-weight="bold" fill="#ff0808" text-anchor="middle">N=5</text>
<text x="592" y="531" font-family="'Liberation Sans', sans-serif" font-size="13" font-weight="normal" fill="#222" text-anchor="middle">CD25 BV786-A</text>
<text x="770.5" y="531" font-family="'Liberation Sans', sans-serif" font-size="13" font-weight="normal" fill="#222" text-anchor="middle">CD25 BV786-A</text>
<text x="492" y="417" font-family="'Liberation Sans', sans-serif" font-size="13" font-weight="normal" fill="#444" text-anchor="middle" transform="rotate(-90 492 417)">FOXP3 PE-A</text>
<text x="465.8" y="372.5" font-family="'Liberation Sans', sans-serif" font-size="16.2" font-weight="bold" fill="#000" text-anchor="middle" transform="rotate(-90 465.8 372.5)">FOXP3</text>
<line x1="461" y1="471.5" x2="461.0" y2="410.0" stroke="#000" stroke-width="2"/>
<path d="M466.0 418.0 L461.0 409.0 L456.0 418.0" fill="none" stroke="#000" stroke-width="2.3" stroke-linejoin="miter" stroke-miterlimit="10"/>
<text x="479" y="556.3" font-family="'Liberation Sans', sans-serif" font-size="16.5" font-weight="bold" fill="#000" text-anchor="start" textLength="40.2" lengthAdjust="spacingAndGlyphs">CD25</text>
<line x1="533.4" y1="551.8" x2="834.5000000547859" y2="551.7003310162017" stroke="#000" stroke-width="2.2"/>
<path d="M826.5 556.3 L835.5 551.7 L826.5 547.1" fill="none" stroke="#000" stroke-width="2.6" stroke-linejoin="miter" stroke-miterlimit="10"/>
<line x1="855" y1="485" x2="892.5" y2="485.0" stroke="#000" stroke-width="2.6"/>
<path d="M899.5 485 L891.5 489.0 L891.5 481.0 Z" fill="#000"/>
</svg></body></html>
